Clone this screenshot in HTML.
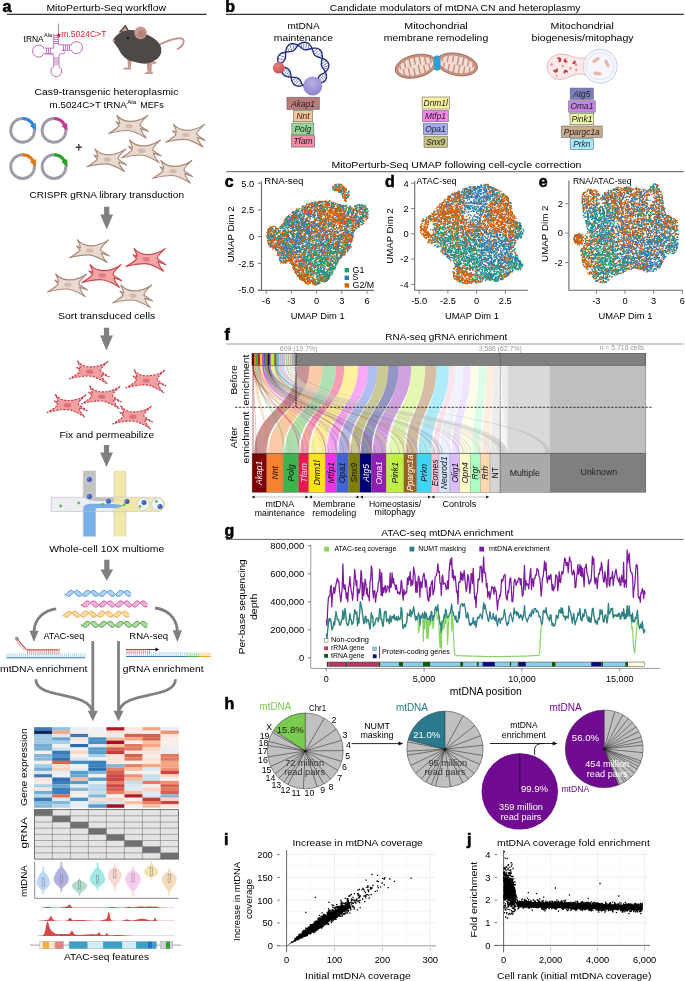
<!DOCTYPE html>
<html><head><meta charset="utf-8"><title>MitoPerturb-Seq</title><style>
html,body{margin:0;padding:0;background:#fff;width:685px;height:981px;overflow:hidden}
svg{display:block;will-change:transform}
text{font-family:"Liberation Sans",sans-serif}
</style></head><body>
<svg width="685" height="981" viewBox="0 0 685 981">
<rect width="685" height="981" fill="#fff"/>
<text x="2.4" y="11.5" font-size="16" fill="#000" font-weight="bold" stroke="#000" stroke-width="0.55">a</text>
<text x="46.4" y="10.8" font-size="9.3" textLength="119.6" lengthAdjust="spacingAndGlyphs">MitoPerturb-Seq workflow</text>
<line x1="7.0" y1="14.4" x2="206.6" y2="14.4" stroke="#333" stroke-width="1.1"/>
<path d="M58.5 23.5L58.5 44.5M53.7 33.6L53.7 44.5M53.7 35.5L58.5 35.5M53.7 37.5L58.5 37.5M53.7 39.5L58.5 39.5M53.7 41.5L58.5 41.5M53.7 43.5L58.5 43.5M53.7 48.1L44.5 48.1M53.7 53.7L44.5 53.7M46.5 48.1L46.5 53.7M48.5 48.1L48.5 53.7M50.5 48.1L50.5 53.7M58.5 44.9L70.7 44.9M62.0 50.2L70.7 50.2M63.5 44.9L63.5 50.2M65.5 44.9L65.5 50.2M67.5 44.9L67.5 50.2M69.5 44.9L69.5 50.2M53.7 56.1L53.7 66.2M59.0 56.1L59.0 66.2M53.7 58.0L59.0 58.0M53.7 60.0L59.0 60.0M53.7 62.0L59.0 62.0M53.7 64.0L59.0 64.0M53.7 44.5 Q53.7 48.1 53.7 48.1M44.5 53.7 Q53.7 53.7 53.7 56.1M58.5 44.5 L58.5 44.9M59 56.1 Q59 53 62 53.5 Q64.5 55 64.5 52.5 Q64.5 50.2 62 50.2" fill="none" stroke="#b35cb5" stroke-width="0.8"/>
<circle cx="38.6" cy="51.1" r="6.0" fill="none" stroke="#b35cb5" stroke-width="0.9"/>
<circle cx="76.5" cy="47.6" r="6.0" fill="none" stroke="#b35cb5" stroke-width="0.9"/>
<circle cx="56.3" cy="71.2" r="5.4" fill="none" stroke="#b35cb5" stroke-width="0.9"/>
<rect x="44.0" y="48.6" width="1.5" height="4.6" fill="#fff"/>
<rect x="70.0" y="45.4" width="1.5" height="4.3" fill="#fff"/>
<rect x="54.2" y="65.4" width="4.3" height="1.6" fill="#fff"/>
<text x="23.6" y="41.7" font-size="8.2" textLength="20.1" lengthAdjust="spacingAndGlyphs">tRNA</text>
<text x="44.0" y="37.4" font-size="5.2" textLength="8.0" lengthAdjust="spacingAndGlyphs">Ala</text>
<path d="M58.8 32.6 L59.5 34.5 L61.4 34.6 L59.9 35.8 L60.4 37.6 L58.8 36.5 L57.2 37.6 L57.7 35.8 L56.2 34.6 L58.1 34.5 Z" fill="#c8102e"/>
<text x="61.2" y="36.9" font-size="8.6" fill="#e8202a" textLength="45.2" lengthAdjust="spacingAndGlyphs">m.5024C&gt;T</text>
<line x1="107.5" y1="34.5" x2="113.0" y2="39.0" stroke="#ccc" stroke-width="0.4"/>
<path d="M158.5,45 C166,41.5 175,37 181.5,38.5 C185.5,40 184,45.5 177,49.5" fill="none" stroke="#c89890" stroke-width="1.9"/>
<path d="M151,59 L152.5,64.5 L157.5,63 Z" fill="#c89890"/>
<path d="M127.5,59 L128,67.8 L130.8,67.8 L131.5,60 Z" fill="#c89890"/>
<path d="M146.5,61 L147.5,71.8 L151.5,71.8 L152,60 Z" fill="#c89890"/>
<path d="M113.1,40.2C113.3,38.7 115.2,36.8 116.5,35.5C117.8,34.2 119.2,33.1 121.0,32.2C122.8,31.4 124.8,30.7 127.0,30.4C129.2,30.1 131.7,29.8 134.0,30.2C136.3,30.6 138.7,31.7 141.0,32.5C143.3,33.3 145.8,34.0 148.0,35.0C150.2,36.0 152.2,37.2 154.0,38.5C155.8,39.8 157.3,41.0 158.5,42.5C159.7,44.0 160.6,45.8 161.0,47.5C161.4,49.2 161.4,51.3 161.0,53.0C160.6,54.7 159.6,56.2 158.5,57.5C157.4,58.8 156.1,59.6 154.5,60.5C152.9,61.4 150.9,62.5 149.0,63.0C147.1,63.5 145.0,63.7 143.0,63.6C141.0,63.5 139.0,62.9 137.0,62.5C135.0,62.1 132.8,61.7 131.0,61.0C129.2,60.3 127.6,59.7 126.0,58.5C124.4,57.3 122.8,55.6 121.5,54.0C120.2,52.4 119.5,50.6 118.5,49.0C117.5,47.4 116.4,46.0 115.5,44.5C114.6,43.0 112.9,41.7 113.1,40.2Z" fill="#4d4947"/>
<path d="M122,69.6 C123,67.8 126,67.3 131,67.6 L131,69.6 Z" fill="#c89890"/>
<path d="M144.2,74 C145,72 148,71.4 152.5,71.6 L153,74 Z" fill="#c89890"/>
<path d="M118.6,32.6 L125.4,24.6 L129.4,31.2 Z" fill="#4d4947"/>
<path d="M121.2,31.4 L125.2,26.8 L127.4,30.8 Z" fill="#c89890"/>
<circle cx="140.6" cy="32.9" r="6.3" fill="#c89890"/>
<circle cx="141.4" cy="34.0" r="3.9" fill="#b7847d"/>
<circle cx="127.9" cy="38.0" r="1.2" fill="#151515"/>
<circle cx="113.6" cy="40.6" r="1.2" fill="#d9a0a0"/>
<text x="34.5" y="95.0" font-size="9.3" textLength="143.9" lengthAdjust="spacingAndGlyphs">Cas9-transgenic heteroplasmic</text>
<text x="49.6" y="107.9" font-size="9.3" textLength="77.2" lengthAdjust="spacingAndGlyphs">m.5024C&gt;T tRNA</text>
<text x="127.2" y="104.0" font-size="6.0" textLength="9.0" lengthAdjust="spacingAndGlyphs">Ala</text>
<text x="140.3" y="107.9" font-size="9.3" textLength="23.3" lengthAdjust="spacingAndGlyphs">MEFs</text>
<circle cx="22.6" cy="130.4" r="11.9" fill="none" stroke="#9f9caa" stroke-width="2.9"/>
<path d="M22.6 118.5 A11.9 11.9 0 0 1 33.1 124.8" fill="none" stroke="#2e87d8" stroke-width="3.0"/>
<path d="M35.7 122.9L30.0 125.9L36.2 130.6Z" fill="#2e87d8"/>
<circle cx="54.0" cy="130.4" r="11.9" fill="none" stroke="#9f9caa" stroke-width="2.9"/>
<path d="M54.0 118.5 A11.9 11.9 0 0 1 64.5 124.8" fill="none" stroke="#c23c9c" stroke-width="3.0"/>
<path d="M67.1 122.9L61.4 125.9L67.6 130.6Z" fill="#c23c9c"/>
<circle cx="22.6" cy="166.6" r="11.9" fill="none" stroke="#9f9caa" stroke-width="2.9"/>
<path d="M22.6 154.7 A11.9 11.9 0 0 1 33.1 161.0" fill="none" stroke="#e8740e" stroke-width="3.0"/>
<path d="M35.7 159.1L30.0 162.1L36.2 166.8Z" fill="#e8740e"/>
<circle cx="54.0" cy="166.6" r="11.9" fill="none" stroke="#9f9caa" stroke-width="2.9"/>
<path d="M54.0 154.7 A11.9 11.9 0 0 1 64.5 161.0" fill="none" stroke="#1fa51f" stroke-width="3.0"/>
<path d="M67.1 159.1L61.4 162.1L67.6 166.8Z" fill="#1fa51f"/>
<line x1="75.6" y1="147.2" x2="82.0" y2="147.2" stroke="#333" stroke-width="1.3"/>
<line x1="78.8" y1="144.0" x2="78.8" y2="150.4" stroke="#333" stroke-width="1.3"/>
<defs><path id="cell" d="M-12.2,-10.7 C-8,-6 -4,-4.8 1,-4.8 C7,-4.8 13,-6.5 18.8,-10.7 C14,-6 10.5,-3.5 11,-0.5 L19.5,5.3 L11.6,2.4 C12.5,6 14.5,9 17.3,11.9 C11,8 5,4.5 -1,4.3 C-8,4.2 -14,5.5 -20.3,7.2 C-15,4 -11.5,2 -9.7,-0.5 L-13,-4.5 L-9.2,-2.8 C-9.6,-5.5 -11,-8 -12.2,-10.7 Z"/></defs>
<g transform="translate(129.0 126.2)"><use href="#cell" fill="#e8dad1" stroke="#a98a79" stroke-width="1.15" stroke-linejoin="round"/><ellipse cx="0" cy="0" rx="3.6" ry="2.2" fill="#d5b9ab"/></g>
<g transform="translate(185.7 135.1)"><use href="#cell" fill="#e8dad1" stroke="#a98a79" stroke-width="1.15" stroke-linejoin="round"/><ellipse cx="0" cy="0" rx="3.6" ry="2.2" fill="#d5b9ab"/></g>
<g transform="translate(141.7 150.7)"><use href="#cell" fill="#e8dad1" stroke="#a98a79" stroke-width="1.15" stroke-linejoin="round"/><ellipse cx="0" cy="0" rx="3.6" ry="2.2" fill="#d5b9ab"/></g>
<g transform="translate(107.1 159.6)"><use href="#cell" fill="#e8dad1" stroke="#a98a79" stroke-width="1.15" stroke-linejoin="round"/><ellipse cx="0" cy="0" rx="3.6" ry="2.2" fill="#d5b9ab"/></g>
<g transform="translate(173.0 171.2)"><use href="#cell" fill="#e8dad1" stroke="#a98a79" stroke-width="1.15" stroke-linejoin="round"/><ellipse cx="0" cy="0" rx="3.6" ry="2.2" fill="#d5b9ab"/></g>
<g transform="translate(89.7 250.6)"><use href="#cell" fill="#e8dad1" stroke="#a98a79" stroke-width="1.15" stroke-linejoin="round"/><ellipse cx="0" cy="0" rx="3.6" ry="2.2" fill="#d5b9ab"/></g>
<g transform="translate(146.3 259.3)"><use href="#cell" fill="#f2a5a5" stroke="#c84650" stroke-width="1.15" stroke-linejoin="round"/><ellipse cx="0" cy="0" rx="3.6" ry="2.2" fill="#e27b83"/></g>
<g transform="translate(102.2 275.4)"><use href="#cell" fill="#f2a5a5" stroke="#c84650" stroke-width="1.15" stroke-linejoin="round"/><ellipse cx="0" cy="0" rx="3.6" ry="2.2" fill="#e27b83"/></g>
<g transform="translate(67.9 284.7)"><use href="#cell" fill="#e8dad1" stroke="#a98a79" stroke-width="1.15" stroke-linejoin="round"/><ellipse cx="0" cy="0" rx="3.6" ry="2.2" fill="#d5b9ab"/></g>
<g transform="translate(133.0 295.7)"><use href="#cell" fill="#e8dad1" stroke="#a98a79" stroke-width="1.15" stroke-linejoin="round"/><ellipse cx="0" cy="0" rx="3.6" ry="2.2" fill="#d5b9ab"/></g>
<g transform="translate(89.7 371.7)"><use href="#cell" fill="#f0a0a0" stroke="#c2404b" stroke-width="1.15" stroke-linejoin="round" stroke-dasharray="2.2 1.3"/><ellipse cx="0" cy="0" rx="3.6" ry="2.2" fill="#dd7079"/></g>
<g transform="translate(146.3 380.6)"><use href="#cell" fill="#f0a0a0" stroke="#c2404b" stroke-width="1.15" stroke-linejoin="round" stroke-dasharray="2.2 1.3"/><ellipse cx="0" cy="0" rx="3.6" ry="2.2" fill="#dd7079"/></g>
<g transform="translate(101.7 396.7)"><use href="#cell" fill="#f0a0a0" stroke="#c2404b" stroke-width="1.15" stroke-linejoin="round" stroke-dasharray="2.2 1.3"/><ellipse cx="0" cy="0" rx="3.6" ry="2.2" fill="#dd7079"/></g>
<g transform="translate(67.5 405.3)"><use href="#cell" fill="#f0a0a0" stroke="#c2404b" stroke-width="1.15" stroke-linejoin="round" stroke-dasharray="2.2 1.3"/><ellipse cx="0" cy="0" rx="3.6" ry="2.2" fill="#dd7079"/></g>
<g transform="translate(133.0 416.7)"><use href="#cell" fill="#f0a0a0" stroke="#c2404b" stroke-width="1.15" stroke-linejoin="round" stroke-dasharray="2.2 1.3"/><ellipse cx="0" cy="0" rx="3.6" ry="2.2" fill="#dd7079"/></g>
<text x="29.5" y="197.9" font-size="9.3" textLength="154.5" lengthAdjust="spacingAndGlyphs">CRISPR gRNA library transduction</text>
<text x="58.0" y="319.2" font-size="9.3" textLength="97.2" lengthAdjust="spacingAndGlyphs">Sort transduced cells</text>
<text x="59.5" y="438.3" font-size="9.3" textLength="94.7" lengthAdjust="spacingAndGlyphs">Fix and permeabilize</text>
<text x="49.2" y="551.9" font-size="9.3" textLength="115.1" lengthAdjust="spacingAndGlyphs">Whole-cell 10X multiome</text>
<path d="M104.1 206.8H109.3V214.4H113.1L106.7 229.6L100.3 214.4H104.1Z" fill="#808080"/>
<path d="M103.9 327.8H109.1V335.4H112.9L106.5 350.5L100.1 335.4H103.9Z" fill="#808080"/>
<path d="M103.9 444.9H109.1V452.5H112.9L106.5 467.1L100.1 452.5H103.9Z" fill="#808080"/>
<path d="M104.2 559.8H109.4V569.5H113.2L106.8 580.7L100.4 569.5H104.2Z" fill="#808080"/>
<rect x="83.3" y="470.7" width="12.3" height="28.0" fill="#c3c3c3"/>
<rect x="83.3" y="508.0" width="12.3" height="28.5" fill="#78aee6"/>
<rect x="114.0" y="470.7" width="11.8" height="65.8" fill="#f2e8a8"/>
<path d="M51.2,497.3 H158 A7.2 7.2 0 0 1 158 511.6 H51.2 Z" fill="#eceef4" stroke="#c0c0c6" stroke-width="0.7"/>
<rect x="114.0" y="497.6" width="44.0" height="13.7" fill="#f2e8a8"/>
<path d="M158,497.3 A7.15 7.15 0 0 1 158 511.6 Z" fill="#f2e8a8"/>
<path d="M83.3,497.6 H114 V502.5 C108,501.5 100,501 95.6,501 C90,501 86,500 83.3,497.6 Z" fill="#c3c3c3"/>
<path d="M83.3,511.6 V508 C84,504 89,503.8 95.6,503.8 C103,503.8 110,503.6 114,504 C118,504.5 121,505 123.5,505.8 C121,507.5 117,508 114,508.2 C108,508.2 100,508 95.6,508.2 V511.6 Z" fill="#78aee6"/>
<path d="M83.3,470.7 V497.3 M95.6,470.7 V497.3 M83.3,511.6 V536.5 M95.6,511.6 V536.5 M114,470.7 V497.3 M125.8,470.7 V497.3 M114,511.6 V536.5 M125.8,511.6 V536.5" fill="none" stroke="#b8b8b8" stroke-width="0.5"/>
<path d="M112.5,497.3 C114,499.5 116,500.2 119.9,500.2 C123.8,500.2 125.8,499.5 127.3,497.3 Z M112.5,511.6 C114,509.4 116,508.7 119.9,508.7 C123.8,508.7 125.8,509.4 127.3,511.6 Z" fill="#f2e8a8" stroke="#c0c0c6" stroke-width="0.4"/>
<circle cx="143.3" cy="504.2" r="6.3" fill="#f4f6fa" stroke="#b8bcc8" stroke-width="0.6"/>
<circle cx="157.6" cy="504.2" r="6.1" fill="#f4f6fa" stroke="#b8bcc8" stroke-width="0.6"/>
<circle cx="89.5" cy="479.5" r="2.5" fill="#3a5fb8"/>
<circle cx="88.8" cy="478.8" r="0.9" fill="#7090d8"/>
<circle cx="89.5" cy="496.6" r="2.5" fill="#3a5fb8"/>
<circle cx="88.8" cy="495.9" r="0.9" fill="#7090d8"/>
<circle cx="108.5" cy="501.3" r="2.5" fill="#3a5fb8"/>
<circle cx="107.8" cy="500.6" r="0.9" fill="#7090d8"/>
<circle cx="127.0" cy="501.5" r="2.5" fill="#3a5fb8"/>
<circle cx="126.3" cy="500.8" r="0.9" fill="#7090d8"/>
<circle cx="144.0" cy="502.5" r="2.5" fill="#3a5fb8"/>
<circle cx="143.3" cy="501.8" r="0.9" fill="#7090d8"/>
<circle cx="160.0" cy="506.5" r="2.5" fill="#3a5fb8"/>
<circle cx="159.3" cy="505.8" r="0.9" fill="#7090d8"/>
<circle cx="60.6" cy="506.0" r="1.4" fill="#5cbf4a"/>
<circle cx="78.8" cy="503.0" r="1.4" fill="#5cbf4a"/>
<circle cx="102.6" cy="504.4" r="1.4" fill="#5cbf4a"/>
<circle cx="124.2" cy="504.8" r="1.4" fill="#5cbf4a"/>
<circle cx="140.0" cy="506.5" r="1.4" fill="#5cbf4a"/>
<circle cx="156.4" cy="501.5" r="1.4" fill="#5cbf4a"/>
<polyline points="64.5,593.4 64.8,593.8 65.2,594.2 65.5,594.5 65.8,594.9 66.2,595.2 66.5,595.5 66.8,595.7 67.2,595.9 67.5,596.1 67.8,596.3 68.2,596.4 68.5,596.4 68.9,596.4 69.2,596.3 69.5,596.2 69.9,596.1 70.2,595.9 70.5,595.7 70.9,595.4 71.2,595.1 71.5,594.8 71.9,594.4 72.2,594.1 72.5,593.7 72.9,593.3 73.2,592.9 73.5,592.6 73.9,592.2 74.2,591.9 74.5,591.6 74.9,591.3 75.2,591.0 75.5,590.8 75.9,590.6 76.2,590.5 76.6,590.4 76.9,590.4 77.2,590.4 77.6,590.5 77.9,590.6 78.2,590.7 78.6,590.9 78.9,591.2 79.2,591.5 79.6,591.8 79.9,592.1 80.2,592.4 80.6,592.8 80.9,593.2 81.2,593.6 81.6,593.9 81.9,594.3 82.2,594.7 82.6,595.0 82.9,595.3 83.3,595.6 83.6,595.8 83.9,596.0 84.3,596.2 84.6,596.3 84.9,596.4 85.3,596.4 85.6,596.4 85.9,596.3 86.3,596.2 86.6,596.0 86.9,595.8 87.3,595.6 87.6,595.3 87.9,595.0 88.3,594.6 88.6,594.3 88.9,593.9 89.3,593.5 89.6,593.2 89.9,592.8 90.3,592.4 90.6,592.1 91.0,591.7 91.3,591.4 91.6,591.2 92.0,590.9 92.3,590.7 92.6,590.6 93.0,590.5 93.3,590.4 93.6,590.4 94.0,590.4 94.3,590.5 94.6,590.7 95.0,590.8 95.3,591.0 95.6,591.3 96.0,591.6 96.3,591.9 96.6,592.2 97.0,592.6 97.3,593.0 97.7,593.3 98.0,593.7 98.3,594.1 98.7,594.5 99.0,594.8 99.3,595.1 99.7,595.4 100.0,595.7 100.3,595.9 100.7,596.1 101.0,596.2 101.3,596.3 101.7,596.4 102.0,596.4 102.3,596.3 102.7,596.3 103.0,596.1 103.3,595.9 103.7,595.7 104.0,595.5 104.3,595.2 104.7,594.8 105.0,594.5 105.4,594.1 105.7,593.8 106.0,593.4 106.4,593.0 106.7,592.6 107.0,592.3 107.4,591.9 107.7,591.6 108.0,591.3 108.4,591.1 108.7,590.8 109.0,590.7 109.4,590.5 109.7,590.4 110.0,590.4 110.4,590.4 110.7,590.5 111.0,590.6 111.4,590.7 111.7,590.9 112.0,591.1 112.4,591.4 112.7,591.7 113.1,592.0 113.4,592.4 113.7,592.7 114.1,593.1 114.4,593.5 114.7,593.9 115.1,594.3 115.4,594.6 115.7,594.9 116.1,595.3 116.4,595.5 116.7,595.8 117.1,596.0 117.4,596.2 117.7,596.3 118.1,596.4 118.4,596.4 118.7,596.4 119.1,596.3 119.4,596.2 119.8,596.0 120.1,595.8 120.4,595.6 120.8,595.3 121.1,595.0 121.4,594.7 121.8,594.3 122.1,594.0 122.4,593.6 122.8,593.2 123.1,592.8 123.4,592.5 123.8,592.1 124.1,591.8 124.4,591.5 124.8,591.2 125.1,591.0 125.4,590.8 125.8,590.6 126.1,590.5 126.4,590.4 126.8,590.4 127.1,590.4 127.5,590.5 127.8,590.6 128.1,590.8 128.5,591.0 128.8,591.3 129.1,591.5 129.5,591.8 129.8,592.2 130.1,592.5 130.5,592.9 130.8,593.3" fill="none" stroke="#3a8ee6" stroke-width="1.0"/>
<polyline points="64.5,595.7 64.8,595.5 65.2,595.2 65.5,594.8 65.8,594.5 66.2,594.1 66.5,593.8 66.8,593.4 67.2,593.0 67.5,592.6 67.8,592.3 68.2,591.9 68.5,591.6 68.9,591.3 69.2,591.1 69.5,590.8 69.9,590.7 70.2,590.5 70.5,590.4 70.9,590.4 71.2,590.4 71.5,590.5 71.9,590.6 72.2,590.7 72.5,590.9 72.9,591.1 73.2,591.4 73.5,591.7 73.9,592.0 74.2,592.4 74.5,592.7 74.9,593.1 75.2,593.5 75.5,593.9 75.9,594.3 76.2,594.6 76.6,594.9 76.9,595.3 77.2,595.5 77.6,595.8 77.9,596.0 78.2,596.2 78.6,596.3 78.9,596.4 79.2,596.4 79.6,596.4 79.9,596.3 80.2,596.2 80.6,596.0 80.9,595.8 81.2,595.6 81.6,595.3 81.9,595.0 82.2,594.7 82.6,594.3 82.9,594.0 83.3,593.6 83.6,593.2 83.9,592.8 84.3,592.5 84.6,592.1 84.9,591.8 85.3,591.5 85.6,591.2 85.9,591.0 86.3,590.8 86.6,590.6 86.9,590.5 87.3,590.4 87.6,590.4 87.9,590.4 88.3,590.5 88.6,590.6 88.9,590.8 89.3,591.0 89.6,591.3 89.9,591.5 90.3,591.8 90.6,592.2 91.0,592.5 91.3,592.9 91.6,593.3 92.0,593.7 92.3,594.0 92.6,594.4 93.0,594.8 93.3,595.1 93.6,595.4 94.0,595.7 94.3,595.9 94.6,596.1 95.0,596.2 95.3,596.3 95.6,596.4 96.0,596.4 96.3,596.4 96.6,596.3 97.0,596.1 97.3,596.0 97.7,595.7 98.0,595.5 98.3,595.2 98.7,594.9 99.0,594.5 99.3,594.2 99.7,593.8 100.0,593.4 100.3,593.1 100.7,592.7 101.0,592.3 101.3,592.0 101.7,591.7 102.0,591.4 102.3,591.1 102.7,590.9 103.0,590.7 103.3,590.5 103.7,590.5 104.0,590.4 104.3,590.4 104.7,590.5 105.0,590.6 105.4,590.7 105.7,590.9 106.0,591.1 106.4,591.4 106.7,591.7 107.0,592.0 107.4,592.3 107.7,592.7 108.0,593.1 108.4,593.4 108.7,593.8 109.0,594.2 109.4,594.6 109.7,594.9 110.0,595.2 110.4,595.5 110.7,595.8 111.0,596.0 111.4,596.1 111.7,596.3 112.0,596.4 112.4,596.4 112.7,596.4 113.1,596.3 113.4,596.2 113.7,596.1 114.1,595.9 114.4,595.6 114.7,595.4 115.1,595.1 115.4,594.7 115.7,594.4 116.1,594.0 116.4,593.7 116.7,593.3 117.1,592.9 117.4,592.5 117.7,592.2 118.1,591.8 118.4,591.5 118.7,591.2 119.1,591.0 119.4,590.8 119.8,590.6 120.1,590.5 120.4,590.4 120.8,590.4 121.1,590.4 121.4,590.5 121.8,590.6 122.1,590.8 122.4,591.0 122.8,591.2 123.1,591.5 123.4,591.8 123.8,592.1 124.1,592.5 124.4,592.9 124.8,593.2 125.1,593.6 125.4,594.0 125.8,594.4 126.1,594.7 126.4,595.0 126.8,595.3 127.1,595.6 127.5,595.9 127.8,596.1 128.1,596.2 128.5,596.3 128.8,596.4 129.1,596.4 129.5,596.4 129.8,596.3 130.1,596.2 130.5,596.0 130.8,595.8" fill="none" stroke="#3a8ee6" stroke-width="1.0"/>
<path d="M67.2 596.0V593.0M68.2 596.4V591.9M69.3 596.3V591.0M70.3 595.8V590.5M71.4 594.9V590.4M72.4 593.8V590.9M75.6 590.8V593.9M76.6 590.4V595.0M77.7 590.5V595.9M78.7 591.1V596.3M79.8 592.0V596.3M80.8 593.1V595.9M82.9 595.3V593.9M84.0 596.1V592.8M85.0 596.4V591.7M86.1 596.2V590.9M87.1 595.7V590.4M88.2 594.7V590.5M89.2 593.6V591.0M91.3 591.4V593.0M92.4 590.7V594.2M93.4 590.4V595.2M94.5 590.6V596.0M95.5 591.2V596.4M96.6 592.2V596.3M97.6 593.3V595.7M99.7 595.5V593.7M100.8 596.2V592.5M101.8 596.4V591.5M102.9 596.2V590.7M103.9 595.5V590.4M105.0 594.5V590.5M106.0 593.3V591.1M108.1 591.2V593.2M109.2 590.6V594.4M110.2 590.4V595.4M111.3 590.7V596.1M112.3 591.4V596.4M113.4 592.4V596.2M114.4 593.6V595.6M116.5 595.7V593.5M117.6 596.2V592.3M118.6 596.4V591.3M119.7 596.1V590.6M120.7 595.3V590.4M121.8 594.3V590.6M122.8 593.1V591.3M124.9 591.1V593.4M126.0 590.5V594.6M127.0 590.4V595.6M128.1 590.8V596.2M129.1 591.6V596.4M130.2 592.6V596.1" fill="none" stroke="#3a8ee6" stroke-width="0.45"/>
<polyline points="81.0,604.0 81.3,604.4 81.7,604.8 82.0,605.1 82.3,605.5 82.7,605.8 83.0,606.1 83.3,606.3 83.7,606.5 84.0,606.7 84.3,606.9 84.7,607.0 85.0,607.0 85.3,607.0 85.7,606.9 86.0,606.8 86.3,606.7 86.7,606.5 87.0,606.3 87.3,606.0 87.7,605.7 88.0,605.4 88.4,605.1 88.7,604.7 89.0,604.3 89.4,603.9 89.7,603.6 90.0,603.2 90.4,602.8 90.7,602.5 91.0,602.2 91.4,601.9 91.7,601.6 92.0,601.4 92.4,601.3 92.7,601.1 93.0,601.0 93.4,601.0 93.7,601.0 94.0,601.1 94.4,601.2 94.7,601.3 95.0,601.5 95.4,601.8 95.7,602.0 96.0,602.3 96.4,602.7 96.7,603.0 97.0,603.4 97.4,603.7 97.7,604.1 98.0,604.5 98.4,604.9 98.7,605.2 99.0,605.6 99.4,605.9 99.7,606.2 100.0,606.4 100.4,606.6 100.7,606.8 101.1,606.9 101.4,607.0 101.7,607.0 102.1,607.0 102.4,606.9 102.7,606.8 103.1,606.6 103.4,606.4 103.7,606.2 104.1,605.9 104.4,605.6 104.7,605.3 105.1,604.9 105.4,604.6 105.7,604.2 106.1,603.8 106.4,603.4 106.7,603.1 107.1,602.7 107.4,602.4 107.7,602.1 108.1,601.8 108.4,601.6 108.7,601.4 109.1,601.2 109.4,601.1 109.7,601.0 110.1,601.0 110.4,601.0 110.7,601.1 111.1,601.2 111.4,601.4 111.7,601.6 112.1,601.8 112.4,602.1 112.7,602.4 113.1,602.8 113.4,603.1 113.7,603.5 114.1,603.9 114.4,604.2 114.8,604.6 115.1,605.0 115.4,605.3 115.8,605.7 116.1,606.0 116.4,606.2 116.8,606.5 117.1,606.7 117.4,606.8 117.8,606.9 118.1,607.0 118.4,607.0 118.8,607.0 119.1,606.9 119.4,606.8 119.8,606.6 120.1,606.4 120.4,606.1 120.8,605.8 121.1,605.5 121.4,605.2 121.8,604.8 122.1,604.4 122.4,604.1 122.8,603.7 123.1,603.3 123.4,603.0 123.8,602.6 124.1,602.3 124.4,602.0 124.8,601.7 125.1,601.5 125.4,601.3 125.8,601.2 126.1,601.1 126.4,601.0 126.8,601.0 127.1,601.0 127.4,601.1 127.8,601.3 128.1,601.5 128.5,601.7 128.8,601.9 129.1,602.2 129.5,602.5 129.8,602.9 130.1,603.2 130.5,603.6 130.8,604.0 131.1,604.4 131.5,604.7 131.8,605.1 132.1,605.4 132.5,605.8 132.8,606.1 133.1,606.3 133.5,606.5 133.8,606.7 134.1,606.9 134.5,607.0 134.8,607.0 135.1,607.0 135.5,606.9 135.8,606.8 136.1,606.7 136.5,606.5 136.8,606.3 137.1,606.0 137.5,605.7 137.8,605.4 138.1,605.1 138.5,604.7 138.8,604.3 139.1,603.9 139.5,603.6 139.8,603.2 140.1,602.8 140.5,602.5 140.8,602.2 141.2,601.9 141.5,601.6 141.8,601.4 142.2,601.3 142.5,601.1 142.8,601.0 143.2,601.0 143.5,601.0 143.8,601.1 144.2,601.2 144.5,601.3 144.8,601.5 145.2,601.8 145.5,602.0 145.8,602.3 146.2,602.6 146.5,603.0 146.8,603.4 147.2,603.7 147.5,604.1" fill="none" stroke="#d8449c" stroke-width="1.0"/>
<polyline points="81.0,606.3 81.3,606.1 81.7,605.8 82.0,605.4 82.3,605.1 82.7,604.7 83.0,604.4 83.3,604.0 83.7,603.6 84.0,603.2 84.3,602.9 84.7,602.5 85.0,602.2 85.3,601.9 85.7,601.7 86.0,601.4 86.3,601.3 86.7,601.1 87.0,601.0 87.3,601.0 87.7,601.0 88.0,601.1 88.4,601.2 88.7,601.3 89.0,601.5 89.4,601.7 89.7,602.0 90.0,602.3 90.4,602.6 90.7,603.0 91.0,603.3 91.4,603.7 91.7,604.1 92.0,604.5 92.4,604.8 92.7,605.2 93.0,605.5 93.4,605.8 93.7,606.1 94.0,606.4 94.4,606.6 94.7,606.8 95.0,606.9 95.4,607.0 95.7,607.0 96.0,607.0 96.4,606.9 96.7,606.8 97.0,606.7 97.4,606.5 97.7,606.2 98.0,606.0 98.4,605.7 98.7,605.3 99.0,605.0 99.4,604.6 99.7,604.2 100.0,603.9 100.4,603.5 100.7,603.1 101.1,602.8 101.4,602.4 101.7,602.1 102.1,601.8 102.4,601.6 102.7,601.4 103.1,601.2 103.4,601.1 103.7,601.0 104.1,601.0 104.4,601.0 104.7,601.1 105.1,601.2 105.4,601.4 105.7,601.6 106.1,601.8 106.4,602.1 106.7,602.4 107.1,602.7 107.4,603.1 107.7,603.4 108.1,603.8 108.4,604.2 108.7,604.6 109.1,604.9 109.4,605.3 109.7,605.6 110.1,605.9 110.4,606.2 110.7,606.4 111.1,606.6 111.4,606.8 111.7,606.9 112.1,607.0 112.4,607.0 112.7,607.0 113.1,606.9 113.4,606.8 113.7,606.6 114.1,606.4 114.4,606.1 114.8,605.9 115.1,605.6 115.4,605.2 115.8,604.9 116.1,604.5 116.4,604.1 116.8,603.7 117.1,603.4 117.4,603.0 117.8,602.6 118.1,602.3 118.4,602.0 118.8,601.8 119.1,601.5 119.4,601.3 119.8,601.2 120.1,601.1 120.4,601.0 120.8,601.0 121.1,601.0 121.4,601.1 121.8,601.3 122.1,601.4 122.4,601.6 122.8,601.9 123.1,602.2 123.4,602.5 123.8,602.8 124.1,603.2 124.4,603.6 124.8,603.9 125.1,604.3 125.4,604.7 125.8,605.1 126.1,605.4 126.4,605.7 126.8,606.0 127.1,606.3 127.4,606.5 127.8,606.7 128.1,606.8 128.5,606.9 128.8,607.0 129.1,607.0 129.5,607.0 129.8,606.9 130.1,606.7 130.5,606.5 130.8,606.3 131.1,606.1 131.5,605.8 131.8,605.4 132.1,605.1 132.5,604.7 132.8,604.4 133.1,604.0 133.5,603.6 133.8,603.2 134.1,602.9 134.5,602.5 134.8,602.2 135.1,601.9 135.5,601.7 135.8,601.5 136.1,601.3 136.5,601.1 136.8,601.0 137.1,601.0 137.5,601.0 137.8,601.1 138.1,601.2 138.5,601.3 138.8,601.5 139.1,601.7 139.5,602.0 139.8,602.3 140.1,602.6 140.5,603.0 140.8,603.3 141.2,603.7 141.5,604.1 141.8,604.4 142.2,604.8 142.5,605.2 142.8,605.5 143.2,605.8 143.5,606.1 143.8,606.4 144.2,606.6 144.5,606.8 144.8,606.9 145.2,607.0 145.5,607.0 145.8,607.0 146.2,606.9 146.5,606.8 146.8,606.7 147.2,606.5 147.5,606.2" fill="none" stroke="#d8449c" stroke-width="1.0"/>
<path d="M83.7 606.6V603.6M84.7 607.0V602.5M85.8 606.9V601.6M86.8 606.4V601.1M87.9 605.5V601.0M88.9 604.4V601.5M92.1 601.4V604.5M93.1 601.0V605.6M94.2 601.1V606.5M95.2 601.7V606.9M96.3 602.6V606.9M97.3 603.7V606.5M99.4 605.9V604.5M100.5 606.7V603.4M101.5 607.0V602.3M102.6 606.8V601.5M103.6 606.3V601.0M104.7 605.3V601.1M105.7 604.2V601.6M107.8 602.0V603.6M108.9 601.3V604.8M109.9 601.0V605.8M111.0 601.2V606.6M112.0 601.8V607.0M113.1 602.8V606.9M114.1 603.9V606.3M116.2 606.1V604.3M117.3 606.8V603.1M118.3 607.0V602.1M119.4 606.8V601.3M120.4 606.1V601.0M121.5 605.1V601.1M122.5 603.9V601.7M124.6 601.8V603.8M125.7 601.2V605.0M126.7 601.0V606.0M127.8 601.3V606.7M128.8 602.0V607.0M129.9 603.0V606.8M130.9 604.2V606.2M133.0 606.3V604.1M134.1 606.8V602.9M135.1 607.0V601.9M136.2 606.7V601.2M137.2 605.9V601.0M138.3 604.9V601.2M139.3 603.7V601.9M141.5 601.7V604.0M142.5 601.1V605.2M143.6 601.0V606.2M144.6 601.4V606.8M145.7 602.2V607.0M146.7 603.2V606.7" fill="none" stroke="#d8449c" stroke-width="0.45"/>
<polyline points="62.5,614.2 62.8,614.6 63.2,614.9 63.5,615.3 63.8,615.7 64.2,616.0 64.5,616.3 64.8,616.5 65.2,616.7 65.5,616.9 65.8,617.1 66.2,617.2 66.5,617.2 66.8,617.2 67.2,617.1 67.5,617.0 67.8,616.9 68.2,616.7 68.5,616.5 68.8,616.2 69.2,615.9 69.5,615.6 69.8,615.3 70.2,614.9 70.5,614.5 70.8,614.2 71.2,613.8 71.5,613.4 71.8,613.1 72.2,612.7 72.5,612.4 72.8,612.1 73.2,611.9 73.5,611.6 73.8,611.5 74.2,611.3 74.5,611.2 74.8,611.2 75.2,611.2 75.5,611.3 75.8,611.4 76.2,611.5 76.5,611.7 76.8,611.9 77.2,612.2 77.5,612.5 77.8,612.8 78.2,613.2 78.5,613.5 78.8,613.9 79.2,614.3 79.5,614.7 79.8,615.0 80.2,615.4 80.5,615.7 80.8,616.0 81.2,616.3 81.5,616.6 81.8,616.8 82.2,617.0 82.5,617.1 82.8,617.2 83.2,617.2 83.5,617.2 83.8,617.1 84.2,617.0 84.5,616.9 84.8,616.7 85.2,616.4 85.5,616.2 85.8,615.9 86.2,615.5 86.5,615.2 86.8,614.8 87.2,614.5 87.5,614.1 87.8,613.7 88.2,613.3 88.5,613.0 88.8,612.6 89.2,612.3 89.5,612.0 89.8,611.8 90.2,611.6 90.5,611.4 90.8,611.3 91.2,611.2 91.5,611.2 91.8,611.2 92.2,611.3 92.5,611.4 92.8,611.6 93.2,611.8 93.5,612.0 93.8,612.3 94.2,612.6 94.5,612.9 94.8,613.3 95.2,613.6 95.5,614.0 95.8,614.4 96.2,614.7 96.5,615.1 96.9,615.5 97.2,615.8 97.5,616.1 97.9,616.4 98.2,616.6 98.5,616.8 98.9,617.0 99.2,617.1 99.5,617.2 99.9,617.2 100.2,617.2 100.5,617.1 100.9,617.0 101.2,616.8 101.5,616.6 101.9,616.4 102.2,616.1 102.5,615.8 102.9,615.5 103.2,615.1 103.5,614.7 103.9,614.4 104.2,614.0 104.5,613.6 104.9,613.2 105.2,612.9 105.5,612.6 105.9,612.3 106.2,612.0 106.5,611.8 106.9,611.6 107.2,611.4 107.5,611.3 107.9,611.2 108.2,611.2 108.5,611.2 108.9,611.3 109.2,611.4 109.5,611.6 109.9,611.8 110.2,612.1 110.5,612.3 110.9,612.6 111.2,613.0 111.5,613.3 111.9,613.7 112.2,614.1 112.5,614.5 112.9,614.8 113.2,615.2 113.5,615.5 113.9,615.9 114.2,616.2 114.5,616.4 114.9,616.7 115.2,616.9 115.5,617.0 115.9,617.1 116.2,617.2 116.5,617.2 116.9,617.2 117.2,617.1 117.5,617.0 117.9,616.8 118.2,616.6 118.5,616.3 118.9,616.0 119.2,615.7 119.5,615.4 119.9,615.0 120.2,614.7 120.5,614.3 120.9,613.9 121.2,613.5 121.5,613.2 121.9,612.8 122.2,612.5 122.5,612.2 122.9,611.9 123.2,611.7 123.5,611.5 123.9,611.4 124.2,611.3 124.5,611.2 124.9,611.2 125.2,611.2 125.5,611.3 125.9,611.5 126.2,611.6 126.5,611.9 126.9,612.1 127.2,612.4 127.5,612.7 127.9,613.1 128.2,613.4 128.5,613.8 128.9,614.2 129.2,614.5" fill="none" stroke="#f2a030" stroke-width="1.0"/>
<polyline points="62.5,616.5 62.8,616.3 63.2,616.0 63.5,615.6 63.8,615.3 64.2,614.9 64.5,614.6 64.8,614.2 65.2,613.8 65.5,613.4 65.8,613.1 66.2,612.7 66.5,612.4 66.8,612.1 67.2,611.9 67.5,611.7 67.8,611.5 68.2,611.3 68.5,611.2 68.8,611.2 69.2,611.2 69.5,611.3 69.8,611.4 70.2,611.5 70.5,611.7 70.8,611.9 71.2,612.2 71.5,612.5 71.8,612.8 72.2,613.1 72.5,613.5 72.8,613.9 73.2,614.3 73.5,614.6 73.8,615.0 74.2,615.4 74.5,615.7 74.8,616.0 75.2,616.3 75.5,616.6 75.8,616.8 76.2,616.9 76.5,617.1 76.8,617.2 77.2,617.2 77.5,617.2 77.8,617.1 78.2,617.0 78.5,616.9 78.8,616.7 79.2,616.5 79.5,616.2 79.8,615.9 80.2,615.6 80.5,615.2 80.8,614.9 81.2,614.5 81.5,614.1 81.8,613.7 82.2,613.4 82.5,613.0 82.8,612.7 83.2,612.4 83.5,612.1 83.8,611.8 84.2,611.6 84.5,611.4 84.8,611.3 85.2,611.2 85.5,611.2 85.8,611.2 86.2,611.3 86.5,611.4 86.8,611.5 87.2,611.7 87.5,612.0 87.8,612.2 88.2,612.5 88.5,612.9 88.8,613.2 89.2,613.6 89.5,614.0 89.8,614.3 90.2,614.7 90.5,615.1 90.8,615.4 91.2,615.8 91.5,616.1 91.8,616.4 92.2,616.6 92.5,616.8 92.8,617.0 93.2,617.1 93.5,617.2 93.8,617.2 94.2,617.2 94.5,617.1 94.8,617.0 95.2,616.8 95.5,616.6 95.8,616.4 96.2,616.1 96.5,615.8 96.9,615.5 97.2,615.1 97.5,614.8 97.9,614.4 98.2,614.0 98.5,613.6 98.9,613.3 99.2,612.9 99.5,612.6 99.9,612.3 100.2,612.0 100.5,611.8 100.9,611.6 101.2,611.4 101.5,611.3 101.9,611.2 102.2,611.2 102.5,611.2 102.9,611.3 103.2,611.4 103.5,611.6 103.9,611.8 104.2,612.0 104.5,612.3 104.9,612.6 105.2,612.9 105.5,613.3 105.9,613.7 106.2,614.0 106.5,614.4 106.9,614.8 107.2,615.2 107.5,615.5 107.9,615.8 108.2,616.1 108.5,616.4 108.9,616.7 109.2,616.9 109.5,617.0 109.9,617.1 110.2,617.2 110.5,617.2 110.9,617.2 111.2,617.1 111.5,617.0 111.9,616.8 112.2,616.6 112.5,616.3 112.9,616.1 113.2,615.7 113.5,615.4 113.9,615.1 114.2,614.7 114.5,614.3 114.9,613.9 115.2,613.6 115.5,613.2 115.9,612.8 116.2,612.5 116.5,612.2 116.9,612.0 117.2,611.7 117.5,611.5 117.9,611.4 118.2,611.3 118.5,611.2 118.9,611.2 119.2,611.2 119.5,611.3 119.9,611.5 120.2,611.6 120.5,611.8 120.9,612.1 121.2,612.4 121.5,612.7 121.9,613.0 122.2,613.4 122.5,613.8 122.9,614.1 123.2,614.5 123.5,614.9 123.9,615.2 124.2,615.6 124.5,615.9 124.9,616.2 125.2,616.5 125.5,616.7 125.9,616.9 126.2,617.0 126.5,617.1 126.9,617.2 127.2,617.2 127.5,617.2 127.9,617.1 128.2,616.9 128.5,616.8 128.9,616.5 129.2,616.3" fill="none" stroke="#f2a030" stroke-width="1.0"/>
<path d="M65.2 616.8V613.8M66.2 617.2V612.7M67.3 617.1V611.8M68.3 616.6V611.3M69.4 615.7V611.2M70.4 614.6V611.7M73.6 611.6V614.7M74.6 611.2V615.8M75.7 611.3V616.7M76.7 611.9V617.1M77.8 612.8V617.1M78.8 613.9V616.7M80.9 616.1V614.7M82.0 616.9V613.6M83.0 617.2V612.5M84.1 617.0V611.7M85.1 616.5V611.2M86.2 615.5V611.3M87.2 614.4V611.8M89.3 612.2V613.8M90.4 611.5V615.0M91.4 611.2V616.0M92.5 611.4V616.8M93.5 612.0V617.2M94.6 613.0V617.1M95.6 614.1V616.5M97.7 616.3V614.5M98.8 617.0V613.3M99.8 617.2V612.3M100.9 617.0V611.5M101.9 616.3V611.2M103.0 615.3V611.3M104.0 614.1V611.9M106.1 612.0V614.0M107.2 611.4V615.2M108.2 611.2V616.2M109.3 611.5V616.9M110.3 612.2V617.2M111.4 613.2V617.0M112.4 614.4V616.4M114.5 616.5V614.3M115.6 617.0V613.1M116.6 617.2V612.1M117.7 616.9V611.4M118.7 616.1V611.2M119.8 615.1V611.4M120.8 613.9V612.1M122.9 611.9V614.2M124.0 611.3V615.4M125.0 611.2V616.4M126.1 611.6V617.0M127.1 612.4V617.2M128.2 613.4V616.9" fill="none" stroke="#f2a030" stroke-width="0.45"/>
<polyline points="81.0,624.3 81.3,624.7 81.7,625.1 82.0,625.4 82.3,625.8 82.7,626.1 83.0,626.4 83.3,626.6 83.7,626.8 84.0,627.0 84.3,627.2 84.7,627.3 85.0,627.3 85.3,627.3 85.7,627.2 86.0,627.1 86.3,627.0 86.7,626.8 87.0,626.6 87.3,626.3 87.7,626.0 88.0,625.7 88.4,625.4 88.7,625.0 89.0,624.6 89.4,624.2 89.7,623.9 90.0,623.5 90.4,623.1 90.7,622.8 91.0,622.5 91.4,622.2 91.7,621.9 92.0,621.7 92.4,621.6 92.7,621.4 93.0,621.3 93.4,621.3 93.7,621.3 94.0,621.4 94.4,621.5 94.7,621.6 95.0,621.8 95.4,622.1 95.7,622.3 96.0,622.6 96.4,623.0 96.7,623.3 97.0,623.7 97.4,624.0 97.7,624.4 98.0,624.8 98.4,625.2 98.7,625.5 99.0,625.9 99.4,626.2 99.7,626.5 100.0,626.7 100.4,626.9 100.7,627.1 101.1,627.2 101.4,627.3 101.7,627.3 102.1,627.3 102.4,627.2 102.7,627.1 103.1,626.9 103.4,626.7 103.7,626.5 104.1,626.2 104.4,625.9 104.7,625.6 105.1,625.2 105.4,624.9 105.7,624.5 106.1,624.1 106.4,623.7 106.7,623.4 107.1,623.0 107.4,622.7 107.7,622.4 108.1,622.1 108.4,621.9 108.7,621.7 109.1,621.5 109.4,621.4 109.7,621.3 110.1,621.3 110.4,621.3 110.7,621.4 111.1,621.5 111.4,621.7 111.7,621.9 112.1,622.1 112.4,622.4 112.7,622.7 113.1,623.1 113.4,623.4 113.7,623.8 114.1,624.2 114.4,624.5 114.8,624.9 115.1,625.3 115.4,625.6 115.8,626.0 116.1,626.3 116.4,626.5 116.8,626.8 117.1,627.0 117.4,627.1 117.8,627.2 118.1,627.3 118.4,627.3 118.8,627.3 119.1,627.2 119.4,627.1 119.8,626.9 120.1,626.7 120.4,626.4 120.8,626.1 121.1,625.8 121.4,625.5 121.8,625.1 122.1,624.7 122.4,624.4 122.8,624.0 123.1,623.6 123.4,623.3 123.8,622.9 124.1,622.6 124.4,622.3 124.8,622.0 125.1,621.8 125.4,621.6 125.8,621.5 126.1,621.4 126.4,621.3 126.8,621.3 127.1,621.3 127.4,621.4 127.8,621.6 128.1,621.8 128.5,622.0 128.8,622.2 129.1,622.5 129.5,622.8 129.8,623.2 130.1,623.5 130.5,623.9 130.8,624.3 131.1,624.7 131.5,625.0 131.8,625.4 132.1,625.7 132.5,626.1 132.8,626.4 133.1,626.6 133.5,626.8 133.8,627.0 134.1,627.2 134.5,627.3 134.8,627.3 135.1,627.3 135.5,627.2 135.8,627.1 136.1,627.0 136.5,626.8 136.8,626.6 137.1,626.3 137.5,626.0 137.8,625.7 138.1,625.4 138.5,625.0 138.8,624.6 139.1,624.2 139.5,623.9 139.8,623.5 140.1,623.1 140.5,622.8 140.8,622.5 141.2,622.2 141.5,621.9 141.8,621.7 142.2,621.6 142.5,621.4 142.8,621.3 143.2,621.3 143.5,621.3 143.8,621.4 144.2,621.5 144.5,621.6 144.8,621.8 145.2,622.1 145.5,622.3 145.8,622.6 146.2,622.9 146.5,623.3 146.8,623.7 147.2,624.0 147.5,624.4" fill="none" stroke="#3c9a2c" stroke-width="1.0"/>
<polyline points="81.0,626.6 81.3,626.4 81.7,626.1 82.0,625.7 82.3,625.4 82.7,625.0 83.0,624.7 83.3,624.3 83.7,623.9 84.0,623.5 84.3,623.2 84.7,622.8 85.0,622.5 85.3,622.2 85.7,622.0 86.0,621.7 86.3,621.6 86.7,621.4 87.0,621.3 87.3,621.3 87.7,621.3 88.0,621.4 88.4,621.5 88.7,621.6 89.0,621.8 89.4,622.0 89.7,622.3 90.0,622.6 90.4,622.9 90.7,623.3 91.0,623.6 91.4,624.0 91.7,624.4 92.0,624.8 92.4,625.1 92.7,625.5 93.0,625.8 93.4,626.1 93.7,626.4 94.0,626.7 94.4,626.9 94.7,627.1 95.0,627.2 95.4,627.3 95.7,627.3 96.0,627.3 96.4,627.2 96.7,627.1 97.0,627.0 97.4,626.8 97.7,626.5 98.0,626.3 98.4,626.0 98.7,625.6 99.0,625.3 99.4,624.9 99.7,624.5 100.0,624.2 100.4,623.8 100.7,623.4 101.1,623.1 101.4,622.7 101.7,622.4 102.1,622.1 102.4,621.9 102.7,621.7 103.1,621.5 103.4,621.4 103.7,621.3 104.1,621.3 104.4,621.3 104.7,621.4 105.1,621.5 105.4,621.7 105.7,621.9 106.1,622.1 106.4,622.4 106.7,622.7 107.1,623.0 107.4,623.4 107.7,623.7 108.1,624.1 108.4,624.5 108.7,624.9 109.1,625.2 109.4,625.6 109.7,625.9 110.1,626.2 110.4,626.5 110.7,626.7 111.1,626.9 111.4,627.1 111.7,627.2 112.1,627.3 112.4,627.3 112.7,627.3 113.1,627.2 113.4,627.1 113.7,626.9 114.1,626.7 114.4,626.4 114.8,626.2 115.1,625.9 115.4,625.5 115.8,625.2 116.1,624.8 116.4,624.4 116.8,624.0 117.1,623.7 117.4,623.3 117.8,622.9 118.1,622.6 118.4,622.3 118.8,622.1 119.1,621.8 119.4,621.6 119.8,621.5 120.1,621.4 120.4,621.3 120.8,621.3 121.1,621.3 121.4,621.4 121.8,621.6 122.1,621.7 122.4,621.9 122.8,622.2 123.1,622.5 123.4,622.8 123.8,623.1 124.1,623.5 124.4,623.9 124.8,624.2 125.1,624.6 125.4,625.0 125.8,625.4 126.1,625.7 126.4,626.0 126.8,626.3 127.1,626.6 127.4,626.8 127.8,627.0 128.1,627.1 128.5,627.2 128.8,627.3 129.1,627.3 129.5,627.3 129.8,627.2 130.1,627.0 130.5,626.8 130.8,626.6 131.1,626.4 131.5,626.1 131.8,625.7 132.1,625.4 132.5,625.0 132.8,624.7 133.1,624.3 133.5,623.9 133.8,623.5 134.1,623.2 134.5,622.8 134.8,622.5 135.1,622.2 135.5,622.0 135.8,621.8 136.1,621.6 136.5,621.4 136.8,621.3 137.1,621.3 137.5,621.3 137.8,621.4 138.1,621.5 138.5,621.6 138.8,621.8 139.1,622.0 139.5,622.3 139.8,622.6 140.1,622.9 140.5,623.3 140.8,623.6 141.2,624.0 141.5,624.4 141.8,624.7 142.2,625.1 142.5,625.5 142.8,625.8 143.2,626.1 143.5,626.4 143.8,626.7 144.2,626.9 144.5,627.1 144.8,627.2 145.2,627.3 145.5,627.3 145.8,627.3 146.2,627.2 146.5,627.1 146.8,627.0 147.2,626.8 147.5,626.5" fill="none" stroke="#3c9a2c" stroke-width="1.0"/>
<path d="M83.7 626.9V623.9M84.7 627.3V622.8M85.8 627.2V621.9M86.8 626.7V621.4M87.9 625.8V621.3M88.9 624.7V621.8M92.1 621.7V624.8M93.1 621.3V625.9M94.2 621.4V626.8M95.2 622.0V627.2M96.3 622.9V627.2M97.3 624.0V626.8M99.4 626.2V624.8M100.5 627.0V623.7M101.5 627.3V622.6M102.6 627.1V621.8M103.6 626.6V621.3M104.7 625.6V621.4M105.7 624.5V621.9M107.8 622.3V623.9M108.9 621.6V625.1M109.9 621.3V626.1M111.0 621.5V626.9M112.0 622.1V627.3M113.1 623.1V627.2M114.1 624.2V626.6M116.2 626.4V624.6M117.3 627.1V623.4M118.3 627.3V622.4M119.4 627.1V621.6M120.4 626.4V621.3M121.5 625.4V621.4M122.5 624.2V622.0M124.6 622.1V624.1M125.7 621.5V625.3M126.7 621.3V626.3M127.8 621.6V627.0M128.8 622.3V627.3M129.9 623.3V627.1M130.9 624.5V626.5M133.0 626.6V624.4M134.1 627.1V623.2M135.1 627.3V622.2M136.2 627.0V621.5M137.2 626.2V621.3M138.3 625.2V621.5M139.3 624.0V622.2M141.5 622.0V624.3M142.5 621.4V625.5M143.6 621.3V626.5M144.6 621.7V627.1M145.7 622.5V627.3M146.7 623.5V627.0" fill="none" stroke="#3c9a2c" stroke-width="0.45"/>
<path d="M56.2,608.8 C45,610 34.5,618 34,631.5" fill="none" stroke="#808080" stroke-width="2.8"/>
<path d="M29.4,630.8 H38.6 L34,642 Z" fill="#808080"/>
<path d="M155,608 C166,609 176.5,617 177.4,630.8" fill="none" stroke="#808080" stroke-width="2.8"/>
<path d="M172.6,630.2 H182.0 L177.4,642 Z" fill="#808080"/>
<text x="43.4" y="639.3" font-size="9.3" textLength="40.9" lengthAdjust="spacingAndGlyphs">ATAC-seq</text>
<text x="129.3" y="639.3" font-size="9.3" textLength="38.8" lengthAdjust="spacingAndGlyphs">RNA-seq</text>
<circle cx="16.9" cy="638.5" r="2.1" fill="#a0a0a0"/>
<path d="M16.9,638.5 L26.5,649.8 H59.4" fill="none" stroke="#d03a3a" stroke-width="1.0"/>
<path d="M17.9 639.7l-2.2 1.4M19.0 641.0l-2.2 1.4M20.0 642.2l-2.2 1.4M21.1 643.5l-2.2 1.4M22.2 644.8l-2.2 1.4M23.3 646.0l-2.2 1.4M24.4 647.3l-2.2 1.4M25.4 648.5l-2.2 1.4M27.5 649.8V654.5M29.6 649.8V654.5M31.7 649.8V654.5M33.8 649.8V654.5M35.9 649.8V654.5M38.0 649.8V654.5M40.1 649.8V654.5M42.2 649.8V654.5M44.3 649.8V654.5M46.4 649.8V654.5M48.5 649.8V654.5M50.6 649.8V654.5M52.7 649.8V654.5M54.8 649.8V654.5M56.9 649.8V654.5M59.0 649.8V654.5" fill="none" stroke="#d03a3a" stroke-width="0.5"/>
<path d="M7.0 657.8V653.2M9.1 657.8V653.2M11.1 657.8V653.2M13.1 657.8V653.2M15.2 657.8V653.2M17.2 657.8V653.2M19.3 657.8V653.2M21.3 657.8V653.2M23.4 657.8V653.2M25.4 657.8V653.2M27.5 657.8V653.2M29.5 657.8V653.2M31.6 657.8V653.2M33.6 657.8V653.2M35.7 657.8V653.2M37.8 657.8V653.2M39.8 657.8V653.2M41.8 657.8V653.2M43.9 657.8V653.2M45.9 657.8V653.2M48.0 657.8V653.2M50.0 657.8V653.2M52.1 657.8V653.2M54.1 657.8V653.2M56.2 657.8V653.2M58.2 657.8V653.2M60.3 657.8V653.2M62.3 657.8V653.2M64.4 657.8V653.2M66.4 657.8V653.2M68.5 657.8V653.2M70.5 657.8V653.2M72.6 657.8V653.2M74.6 657.8V653.2M76.7 657.8V653.2M78.8 657.8V653.2M80.8 657.8V653.2M82.8 657.8V653.2M84.9 657.8V653.2" fill="none" stroke="#7cc0dc" stroke-width="0.6"/>
<line x1="6.4" y1="657.8" x2="85.1" y2="657.8" stroke="#3a7fb0" stroke-width="1.0"/>
<path d="M127.0 656.5V652M129.1 656.5V652M131.1 656.5V652M133.2 656.5V652M135.2 656.5V652M137.2 656.5V652M139.3 656.5V652M141.3 656.5V652M143.4 656.5V652M145.4 656.5V652M147.5 656.5V652M149.6 656.5V652M151.6 656.5V652M153.7 656.5V652M155.7 656.5V652M157.8 656.5V652M159.8 656.5V652M161.8 656.5V652M163.9 656.5V652M165.9 656.5V652M168.0 656.5V652M170.1 656.5V652M172.1 656.5V652M174.2 656.5V652M176.2 656.5V652M178.2 656.5V652M180.3 656.5V652M182.3 656.5V652M184.4 656.5V652M186.4 656.5V652" fill="none" stroke="#7cc0dc" stroke-width="0.6"/>
<path d="M188.0 656.5V652.5M190.1 656.5V652.5M192.1 656.5V652.5M194.2 656.5V652.5M196.2 656.5V652.5M198.2 656.5V652.5" fill="none" stroke="#3cc04a" stroke-width="0.6"/>
<path d="M200.0 656.5V652.5M202.1 656.5V652.5M204.1 656.5V652.5M206.2 656.5V652.5M208.2 656.5V652.5M210.2 656.5V652.5" fill="none" stroke="#f2a030" stroke-width="0.6"/>
<path d="M127.0 649.5V653.5M129.1 649.5V653.5M131.1 649.5V653.5M133.2 649.5V653.5M135.2 649.5V653.5M137.2 649.5V653.5M139.3 649.5V653.5M141.3 649.5V653.5M143.4 649.5V653.5M145.4 649.5V653.5M147.5 649.5V653.5M149.6 649.5V653.5" fill="none" stroke="#d03a3a" stroke-width="0.5"/>
<line x1="126.0" y1="656.5" x2="187.0" y2="656.5" stroke="#3a7fb0" stroke-width="1.0"/>
<line x1="187.0" y1="656.5" x2="199.0" y2="656.5" stroke="#3cc04a" stroke-width="1.0"/>
<line x1="199.0" y1="656.5" x2="210.7" y2="656.5" stroke="#f2a030" stroke-width="1.0"/>
<line x1="126.0" y1="649.5" x2="149.3" y2="649.5" stroke="#d03a3a" stroke-width="1.0"/>
<line x1="149.3" y1="649.5" x2="156.5" y2="649.5" stroke="#111" stroke-width="0.8"/>
<path d="M155.5,647.6 L159.2,649.5 L155.5,651.4 Z" fill="#111"/>
<text x="0.0" y="672.3" font-size="9.3" textLength="87.5" lengthAdjust="spacingAndGlyphs">mtDNA enrichment</text>
<text x="122.8" y="672.3" font-size="9.3" textLength="80.8" lengthAdjust="spacingAndGlyphs">gRNA enrichment</text>
<line x1="92.8" y1="641.0" x2="92.8" y2="711.5" stroke="#808080" stroke-width="2.8"/>
<line x1="118.5" y1="641.0" x2="118.5" y2="711.5" stroke="#808080" stroke-width="2.8"/>
<path d="M35.8,679.2 C36,700 88,690 92.6,712" fill="none" stroke="#808080" stroke-width="2.8"/>
<path d="M175.5,679.2 C175,700 123,690 118.7,712" fill="none" stroke="#808080" stroke-width="2.8"/>
<path d="M87.8,710.7 H97.8 L92.8,721.2 Z" fill="#808080"/>
<path d="M113.5,710.7 H123.5 L118.5,721.2 Z" fill="#808080"/>
<rect x="34.1" y="727.2" width="18.2" height="3.5" fill="#3a7ab8"/>
<rect x="52.2" y="727.2" width="18.2" height="3.5" fill="#8fc0de"/>
<rect x="70.2" y="727.2" width="18.2" height="3.5" fill="#e4eef5"/>
<rect x="88.3" y="727.2" width="18.2" height="3.5" fill="#eef0f2"/>
<rect x="106.4" y="727.2" width="18.2" height="3.5" fill="#b2182b"/>
<rect x="124.5" y="727.2" width="18.2" height="3.5" fill="#fbe8e0"/>
<rect x="142.5" y="727.2" width="18.2" height="3.5" fill="#f4a582"/>
<rect x="160.6" y="727.2" width="18.2" height="3.5" fill="#e4eef5"/>
<rect x="34.1" y="730.6" width="18.2" height="3.5" fill="#0a2a5e"/>
<rect x="52.2" y="730.6" width="18.2" height="3.5" fill="#f4a886"/>
<rect x="70.2" y="730.6" width="18.2" height="3.5" fill="#f8ece8"/>
<rect x="88.3" y="730.6" width="18.2" height="3.5" fill="#eef0f2"/>
<rect x="106.4" y="730.6" width="18.2" height="3.5" fill="#fbe0d2"/>
<rect x="124.5" y="730.6" width="18.2" height="3.5" fill="#fbe8e0"/>
<rect x="142.5" y="730.6" width="18.2" height="3.5" fill="#f8f0ee"/>
<rect x="160.6" y="730.6" width="18.2" height="3.5" fill="#ee9070"/>
<rect x="34.1" y="733.9" width="18.2" height="3.5" fill="#9cc8e0"/>
<rect x="52.2" y="733.9" width="18.2" height="3.5" fill="#dce9f2"/>
<rect x="70.2" y="733.9" width="18.2" height="3.5" fill="#3a7ab8"/>
<rect x="88.3" y="733.9" width="18.2" height="3.5" fill="#f5efec"/>
<rect x="106.4" y="733.9" width="18.2" height="3.5" fill="#e4eef5"/>
<rect x="124.5" y="733.9" width="18.2" height="3.5" fill="#d6604d"/>
<rect x="142.5" y="733.9" width="18.2" height="3.5" fill="#d6604d"/>
<rect x="160.6" y="733.9" width="18.2" height="3.5" fill="#fbe4d8"/>
<rect x="34.1" y="737.3" width="18.2" height="3.5" fill="#9cc8e0"/>
<rect x="52.2" y="737.3" width="18.2" height="3.5" fill="#6aa6d0"/>
<rect x="70.2" y="737.3" width="18.2" height="3.5" fill="#fbe0d2"/>
<rect x="88.3" y="737.3" width="18.2" height="3.5" fill="#4a90c4"/>
<rect x="106.4" y="737.3" width="18.2" height="3.5" fill="#f8c0a0"/>
<rect x="124.5" y="737.3" width="18.2" height="3.5" fill="#f4a582"/>
<rect x="142.5" y="737.3" width="18.2" height="3.5" fill="#d6604d"/>
<rect x="160.6" y="737.3" width="18.2" height="3.5" fill="#f8eeea"/>
<rect x="34.1" y="740.6" width="18.2" height="3.5" fill="#a0cae0"/>
<rect x="52.2" y="740.6" width="18.2" height="3.5" fill="#a8d0e4"/>
<rect x="70.2" y="740.6" width="18.2" height="3.5" fill="#f0f0f0"/>
<rect x="88.3" y="740.6" width="18.2" height="3.5" fill="#4a90c4"/>
<rect x="106.4" y="740.6" width="18.2" height="3.5" fill="#a50f26"/>
<rect x="124.5" y="740.6" width="18.2" height="3.5" fill="#f8eeea"/>
<rect x="142.5" y="740.6" width="18.2" height="3.5" fill="#f8c0a0"/>
<rect x="160.6" y="740.6" width="18.2" height="3.5" fill="#f8eeea"/>
<rect x="34.1" y="744.0" width="18.2" height="3.5" fill="#74acd2"/>
<rect x="52.2" y="744.0" width="18.2" height="3.5" fill="#f2f2f2"/>
<rect x="70.2" y="744.0" width="18.2" height="3.5" fill="#2d6fb0"/>
<rect x="88.3" y="744.0" width="18.2" height="3.5" fill="#dce9f2"/>
<rect x="106.4" y="744.0" width="18.2" height="3.5" fill="#f8c0a0"/>
<rect x="124.5" y="744.0" width="18.2" height="3.5" fill="#e07a60"/>
<rect x="142.5" y="744.0" width="18.2" height="3.5" fill="#f4a582"/>
<rect x="160.6" y="744.0" width="18.2" height="3.5" fill="#f8eeea"/>
<rect x="34.1" y="747.3" width="18.2" height="3.5" fill="#74acd2"/>
<rect x="52.2" y="747.3" width="18.2" height="3.5" fill="#d0e2ee"/>
<rect x="70.2" y="747.3" width="18.2" height="3.5" fill="#eeeeee"/>
<rect x="88.3" y="747.3" width="18.2" height="3.5" fill="#5a9ccc"/>
<rect x="106.4" y="747.3" width="18.2" height="3.5" fill="#d6604d"/>
<rect x="124.5" y="747.3" width="18.2" height="3.5" fill="#e07a60"/>
<rect x="142.5" y="747.3" width="18.2" height="3.5" fill="#fbd4c0"/>
<rect x="160.6" y="747.3" width="18.2" height="3.5" fill="#e4eef5"/>
<rect x="34.1" y="750.7" width="18.2" height="3.5" fill="#f0f0f0"/>
<rect x="52.2" y="750.7" width="18.2" height="3.5" fill="#3a7ab8"/>
<rect x="70.2" y="750.7" width="18.2" height="3.5" fill="#fcd8c4"/>
<rect x="88.3" y="750.7" width="18.2" height="3.5" fill="#5a9ccc"/>
<rect x="106.4" y="750.7" width="18.2" height="3.5" fill="#c43c3c"/>
<rect x="124.5" y="750.7" width="18.2" height="3.5" fill="#fbe4d8"/>
<rect x="142.5" y="750.7" width="18.2" height="3.5" fill="#fbe4d8"/>
<rect x="160.6" y="750.7" width="18.2" height="3.5" fill="#fbe8e0"/>
<rect x="34.1" y="754.0" width="18.2" height="3.5" fill="#84b8d8"/>
<rect x="52.2" y="754.0" width="18.2" height="3.5" fill="#4a90c4"/>
<rect x="70.2" y="754.0" width="18.2" height="3.5" fill="#f8eeea"/>
<rect x="88.3" y="754.0" width="18.2" height="3.5" fill="#a8d0e4"/>
<rect x="106.4" y="754.0" width="18.2" height="3.5" fill="#fbe0d2"/>
<rect x="124.5" y="754.0" width="18.2" height="3.5" fill="#d6604d"/>
<rect x="142.5" y="754.0" width="18.2" height="3.5" fill="#f5f0ee"/>
<rect x="160.6" y="754.0" width="18.2" height="3.5" fill="#e07a60"/>
<rect x="34.1" y="757.4" width="18.2" height="3.5" fill="#84b8d8"/>
<rect x="52.2" y="757.4" width="18.2" height="3.5" fill="#2d6fb0"/>
<rect x="70.2" y="757.4" width="18.2" height="3.5" fill="#d8e8f2"/>
<rect x="88.3" y="757.4" width="18.2" height="3.5" fill="#eef0f2"/>
<rect x="106.4" y="757.4" width="18.2" height="3.5" fill="#fbe0d2"/>
<rect x="124.5" y="757.4" width="18.2" height="3.5" fill="#e07a60"/>
<rect x="142.5" y="757.4" width="18.2" height="3.5" fill="#fbe4d8"/>
<rect x="160.6" y="757.4" width="18.2" height="3.5" fill="#e07a60"/>
<rect x="34.1" y="760.7" width="18.2" height="3.5" fill="#f8eeea"/>
<rect x="52.2" y="760.7" width="18.2" height="3.5" fill="#e06048"/>
<rect x="70.2" y="760.7" width="18.2" height="3.5" fill="#4a90c4"/>
<rect x="88.3" y="760.7" width="18.2" height="3.5" fill="#3a80bc"/>
<rect x="106.4" y="760.7" width="18.2" height="3.5" fill="#fbe8e0"/>
<rect x="124.5" y="760.7" width="18.2" height="3.5" fill="#f8eeea"/>
<rect x="142.5" y="760.7" width="18.2" height="3.5" fill="#fbe4d8"/>
<rect x="160.6" y="760.7" width="18.2" height="3.5" fill="#f4a582"/>
<rect x="34.1" y="764.1" width="18.2" height="3.5" fill="#a8d0e4"/>
<rect x="52.2" y="764.1" width="18.2" height="3.5" fill="#fbe0d2"/>
<rect x="70.2" y="764.1" width="18.2" height="3.5" fill="#eef2f4"/>
<rect x="88.3" y="764.1" width="18.2" height="3.5" fill="#3a80bc"/>
<rect x="106.4" y="764.1" width="18.2" height="3.5" fill="#84b8d8"/>
<rect x="124.5" y="764.1" width="18.2" height="3.5" fill="#e88068"/>
<rect x="142.5" y="764.1" width="18.2" height="3.5" fill="#f4a582"/>
<rect x="160.6" y="764.1" width="18.2" height="3.5" fill="#f4a582"/>
<rect x="34.1" y="767.5" width="18.2" height="3.5" fill="#74acd2"/>
<rect x="52.2" y="767.5" width="18.2" height="3.5" fill="#fbd4c0"/>
<rect x="70.2" y="767.5" width="18.2" height="3.5" fill="#e0ecf4"/>
<rect x="88.3" y="767.5" width="18.2" height="3.5" fill="#2d6fb0"/>
<rect x="106.4" y="767.5" width="18.2" height="3.5" fill="#e88068"/>
<rect x="124.5" y="767.5" width="18.2" height="3.5" fill="#f8c0a0"/>
<rect x="142.5" y="767.5" width="18.2" height="3.5" fill="#dce9f2"/>
<rect x="160.6" y="767.5" width="18.2" height="3.5" fill="#f09070"/>
<rect x="34.1" y="770.8" width="18.2" height="3.5" fill="#dce9f2"/>
<rect x="52.2" y="770.8" width="18.2" height="3.5" fill="#e4eef5"/>
<rect x="70.2" y="770.8" width="18.2" height="3.5" fill="#5a9ccc"/>
<rect x="88.3" y="770.8" width="18.2" height="3.5" fill="#84b8d8"/>
<rect x="106.4" y="770.8" width="18.2" height="3.5" fill="#d6604d"/>
<rect x="124.5" y="770.8" width="18.2" height="3.5" fill="#f5f0ee"/>
<rect x="142.5" y="770.8" width="18.2" height="3.5" fill="#f5f0ee"/>
<rect x="160.6" y="770.8" width="18.2" height="3.5" fill="#cc4444"/>
<rect x="34.1" y="774.2" width="18.2" height="3.5" fill="#3a7ab8"/>
<rect x="52.2" y="774.2" width="18.2" height="3.5" fill="#eef0f2"/>
<rect x="70.2" y="774.2" width="18.2" height="3.5" fill="#6aa6d0"/>
<rect x="88.3" y="774.2" width="18.2" height="3.5" fill="#f5f0ee"/>
<rect x="106.4" y="774.2" width="18.2" height="3.5" fill="#cc4444"/>
<rect x="124.5" y="774.2" width="18.2" height="3.5" fill="#f09070"/>
<rect x="142.5" y="774.2" width="18.2" height="3.5" fill="#c8e0ee"/>
<rect x="160.6" y="774.2" width="18.2" height="3.5" fill="#fbd4c0"/>
<rect x="34.1" y="777.5" width="18.2" height="3.5" fill="#fbe4d8"/>
<rect x="52.2" y="777.5" width="18.2" height="3.5" fill="#2d6fb0"/>
<rect x="70.2" y="777.5" width="18.2" height="3.5" fill="#fbc0a0"/>
<rect x="88.3" y="777.5" width="18.2" height="3.5" fill="#5a9ccc"/>
<rect x="106.4" y="777.5" width="18.2" height="3.5" fill="#cc4444"/>
<rect x="124.5" y="777.5" width="18.2" height="3.5" fill="#f8c0a0"/>
<rect x="142.5" y="777.5" width="18.2" height="3.5" fill="#c8e0ee"/>
<rect x="160.6" y="777.5" width="18.2" height="3.5" fill="#f5f0ee"/>
<rect x="34.1" y="780.9" width="18.2" height="3.5" fill="#fbe8e0"/>
<rect x="52.2" y="780.9" width="18.2" height="3.5" fill="#3a80bc"/>
<rect x="70.2" y="780.9" width="18.2" height="3.5" fill="#5a9ccc"/>
<rect x="88.3" y="780.9" width="18.2" height="3.5" fill="#e4eef5"/>
<rect x="106.4" y="780.9" width="18.2" height="3.5" fill="#e88068"/>
<rect x="124.5" y="780.9" width="18.2" height="3.5" fill="#c8e0ee"/>
<rect x="142.5" y="780.9" width="18.2" height="3.5" fill="#e07a60"/>
<rect x="160.6" y="780.9" width="18.2" height="3.5" fill="#f09070"/>
<rect x="34.1" y="784.2" width="18.2" height="3.5" fill="#a8d0e4"/>
<rect x="52.2" y="784.2" width="18.2" height="3.5" fill="#6aa6d0"/>
<rect x="70.2" y="784.2" width="18.2" height="3.5" fill="#e4eef5"/>
<rect x="88.3" y="784.2" width="18.2" height="3.5" fill="#b8d8ea"/>
<rect x="106.4" y="784.2" width="18.2" height="3.5" fill="#cc4444"/>
<rect x="124.5" y="784.2" width="18.2" height="3.5" fill="#d4e6f0"/>
<rect x="142.5" y="784.2" width="18.2" height="3.5" fill="#f5f0ee"/>
<rect x="160.6" y="784.2" width="18.2" height="3.5" fill="#d6604d"/>
<rect x="34.1" y="787.6" width="18.2" height="3.5" fill="#fbe8e0"/>
<rect x="52.2" y="787.6" width="18.2" height="3.5" fill="#3a80bc"/>
<rect x="70.2" y="787.6" width="18.2" height="3.5" fill="#84b8d8"/>
<rect x="88.3" y="787.6" width="18.2" height="3.5" fill="#b8d8ea"/>
<rect x="106.4" y="787.6" width="18.2" height="3.5" fill="#d6604d"/>
<rect x="124.5" y="787.6" width="18.2" height="3.5" fill="#dce9f2"/>
<rect x="142.5" y="787.6" width="18.2" height="3.5" fill="#fbd4c0"/>
<rect x="160.6" y="787.6" width="18.2" height="3.5" fill="#e07a60"/>
<rect x="34.1" y="790.9" width="18.2" height="3.5" fill="#74acd2"/>
<rect x="52.2" y="790.9" width="18.2" height="3.5" fill="#3a80bc"/>
<rect x="70.2" y="790.9" width="18.2" height="3.5" fill="#fbeae4"/>
<rect x="88.3" y="790.9" width="18.2" height="3.5" fill="#c8e0ee"/>
<rect x="106.4" y="790.9" width="18.2" height="3.5" fill="#e88068"/>
<rect x="124.5" y="790.9" width="18.2" height="3.5" fill="#f8c0a0"/>
<rect x="142.5" y="790.9" width="18.2" height="3.5" fill="#dce9f2"/>
<rect x="160.6" y="790.9" width="18.2" height="3.5" fill="#d6604d"/>
<rect x="34.1" y="794.3" width="18.2" height="3.5" fill="#b8d8ea"/>
<rect x="52.2" y="794.3" width="18.2" height="3.5" fill="#e07050"/>
<rect x="70.2" y="794.3" width="18.2" height="3.5" fill="#eef2f4"/>
<rect x="88.3" y="794.3" width="18.2" height="3.5" fill="#84b8d8"/>
<rect x="106.4" y="794.3" width="18.2" height="3.5" fill="#f5f0ee"/>
<rect x="124.5" y="794.3" width="18.2" height="3.5" fill="#b2182b"/>
<rect x="142.5" y="794.3" width="18.2" height="3.5" fill="#dce9f2"/>
<rect x="160.6" y="794.3" width="18.2" height="3.5" fill="#84b8d8"/>
<rect x="34.1" y="797.6" width="18.2" height="3.5" fill="#3a7ab8"/>
<rect x="52.2" y="797.6" width="18.2" height="3.5" fill="#dce9f2"/>
<rect x="70.2" y="797.6" width="18.2" height="3.5" fill="#4a90c4"/>
<rect x="88.3" y="797.6" width="18.2" height="3.5" fill="#fbe0d2"/>
<rect x="106.4" y="797.6" width="18.2" height="3.5" fill="#fbd4c0"/>
<rect x="124.5" y="797.6" width="18.2" height="3.5" fill="#f5f0ee"/>
<rect x="142.5" y="797.6" width="18.2" height="3.5" fill="#c43c3c"/>
<rect x="160.6" y="797.6" width="18.2" height="3.5" fill="#fbd4c0"/>
<rect x="34.1" y="801.0" width="18.2" height="3.5" fill="#84b8d8"/>
<rect x="52.2" y="801.0" width="18.2" height="3.5" fill="#84b8d8"/>
<rect x="70.2" y="801.0" width="18.2" height="3.5" fill="#e4eef5"/>
<rect x="88.3" y="801.0" width="18.2" height="3.5" fill="#c8e0ee"/>
<rect x="106.4" y="801.0" width="18.2" height="3.5" fill="#d4e6f0"/>
<rect x="124.5" y="801.0" width="18.2" height="3.5" fill="#f8c0a0"/>
<rect x="142.5" y="801.0" width="18.2" height="3.5" fill="#e88068"/>
<rect x="160.6" y="801.0" width="18.2" height="3.5" fill="#cc4444"/>
<rect x="34.1" y="804.3" width="18.2" height="3.5" fill="#84b8d8"/>
<rect x="52.2" y="804.3" width="18.2" height="3.5" fill="#b8d8ea"/>
<rect x="70.2" y="804.3" width="18.2" height="3.5" fill="#e4eef5"/>
<rect x="88.3" y="804.3" width="18.2" height="3.5" fill="#5a9ccc"/>
<rect x="106.4" y="804.3" width="18.2" height="3.5" fill="#a50f26"/>
<rect x="124.5" y="804.3" width="18.2" height="3.5" fill="#f8eeea"/>
<rect x="142.5" y="804.3" width="18.2" height="3.5" fill="#f8c0a0"/>
<rect x="160.6" y="804.3" width="18.2" height="3.5" fill="#fbe4d8"/>
<rect x="34.4" y="809.6" width="144.0" height="49.5" fill="#e4e4e4"/>
<rect x="34.4" y="809.6" width="18.0" height="6.2" fill="#707070"/>
<rect x="52.4" y="815.8" width="18.0" height="6.2" fill="#707070"/>
<rect x="70.4" y="822.0" width="18.0" height="6.2" fill="#707070"/>
<rect x="88.4" y="828.2" width="18.0" height="6.2" fill="#707070"/>
<rect x="106.4" y="834.4" width="18.0" height="6.2" fill="#707070"/>
<rect x="124.4" y="840.5" width="18.0" height="6.2" fill="#707070"/>
<rect x="142.4" y="846.7" width="18.0" height="6.2" fill="#707070"/>
<rect x="160.4" y="852.9" width="18.0" height="6.2" fill="#707070"/>
<path d="M34.4 815.8H178.4M34.4 822.0H178.4M34.4 828.2H178.4M34.4 834.4H178.4M34.4 840.5H178.4M34.4 846.7H178.4M34.4 852.9H178.4M52.4 809.6V859.1M70.4 809.6V859.1M88.4 809.6V859.1M106.4 809.6V859.1M124.4 809.6V859.1M142.4 809.6V859.1M160.4 809.6V859.1" fill="none" stroke="#7a7a7a" stroke-width="0.6"/>
<rect x="34.4" y="809.6" width="144.0" height="49.5" fill="none" stroke="#666" stroke-width="0.9"/>
<path d="M34.7,861.5 V898.3 H178.5" fill="none" stroke="#8a8a8a" stroke-width="1.0"/>
<path d="M43.7,866.8 L43.7,867.7 L43.7,868.6 L43.7,869.5 L43.7,870.5 L44.2,871.4 L44.8,872.3 L45.5,873.2 L46.2,874.1 L46.8,875.0 L47.4,875.9 L47.9,876.8 L48.4,877.8 L48.8,878.7 L49.1,879.6 L49.4,880.5 L49.5,881.4 L49.6,882.3 L49.5,883.2 L49.3,884.2 L49.0,885.1 L48.4,886.0 L47.8,886.9 L47.0,887.8 L46.2,888.7 L45.3,889.6 L44.4,890.5 L43.7,891.5 L43.7,892.4 L43.7,893.3 L43.7,894.2 L42.8,894.2 L42.8,893.3 L42.8,892.4 L42.8,891.5 L42.0,890.5 L41.1,889.6 L40.2,888.7 L39.4,887.8 L38.6,886.9 L38.0,886.0 L37.4,885.1 L37.1,884.2 L36.9,883.2 L36.8,882.3 L36.9,881.4 L37.0,880.5 L37.3,879.6 L37.6,878.7 L38.0,877.8 L38.5,876.8 L39.0,875.9 L39.6,875.0 L40.2,874.1 L40.9,873.2 L41.6,872.3 L42.2,871.4 L42.8,870.5 L42.8,869.5 L42.8,868.6 L42.8,867.7 L42.8,866.8Z" fill="#b4d0f4" stroke="#b4d0f4" stroke-width="0.5" fill-opacity="0.85"/>
<rect x="42.1" y="878.0" width="2.2" height="8.0" fill="none" stroke="#777" stroke-width="0.45"/>
<path d="M61.8,862.1 L61.8,863.1 L61.8,864.0 L61.8,865.0 L61.8,866.0 L62.2,867.0 L62.9,867.9 L63.7,868.9 L64.4,869.9 L65.1,870.9 L65.7,871.8 L66.3,872.8 L66.9,873.8 L67.4,874.8 L67.8,875.7 L68.1,876.7 L68.3,877.7 L68.5,878.6 L68.5,879.6 L68.4,880.6 L68.1,881.6 L67.6,882.5 L66.9,883.5 L66.0,884.5 L65.1,885.5 L64.0,886.4 L62.9,887.4 L61.9,888.4 L61.8,889.4 L61.8,890.3 L61.8,891.3 L60.8,891.3 L60.8,890.3 L60.8,889.4 L60.7,888.4 L59.7,887.4 L58.6,886.4 L57.5,885.5 L56.6,884.5 L55.7,883.5 L55.0,882.5 L54.5,881.6 L54.2,880.6 L54.1,879.6 L54.1,878.6 L54.3,877.7 L54.5,876.7 L54.8,875.7 L55.2,874.8 L55.7,873.8 L56.3,872.8 L56.9,871.8 L57.5,870.9 L58.2,869.9 L58.9,868.9 L59.7,867.9 L60.4,867.0 L60.8,866.0 L60.8,865.0 L60.8,864.0 L60.8,863.1 L60.8,862.1Z" fill="#a2a2dc" stroke="#a2a2dc" stroke-width="0.5" fill-opacity="0.85"/>
<rect x="60.2" y="875.1" width="2.2" height="8.0" fill="none" stroke="#777" stroke-width="0.45"/>
<path d="M80.0,878.4 L80.0,879.0 L80.0,879.6 L80.2,880.2 L81.3,880.7 L82.4,881.3 L83.5,881.9 L84.5,882.5 L85.4,883.1 L86.1,883.7 L86.6,884.3 L86.9,884.9 L87.0,885.4 L86.9,886.0 L86.8,886.6 L86.6,887.2 L86.2,887.8 L85.8,888.4 L85.3,889.0 L84.7,889.5 L84.1,890.1 L83.5,890.7 L82.7,891.3 L82.0,891.9 L81.3,892.5 L80.5,893.1 L80.0,893.7 L80.0,894.2 L80.0,894.8 L80.0,895.4 L80.0,896.0 L79.1,896.0 L79.1,895.4 L79.1,894.8 L79.1,894.2 L79.1,893.7 L78.7,893.1 L77.9,892.5 L77.2,891.9 L76.5,891.3 L75.7,890.7 L75.1,890.1 L74.5,889.5 L73.9,889.0 L73.4,888.4 L73.0,887.8 L72.6,887.2 L72.4,886.6 L72.3,886.0 L72.2,885.4 L72.3,884.9 L72.6,884.3 L73.1,883.7 L73.8,883.1 L74.7,882.5 L75.7,881.9 L76.8,881.3 L77.9,880.7 L79.0,880.2 L79.1,879.6 L79.1,879.0 L79.1,878.4Z" fill="#a4d6c4" stroke="#a4d6c4" stroke-width="0.5" fill-opacity="0.85"/>
<rect x="78.5" y="880.9" width="2.2" height="8.0" fill="none" stroke="#777" stroke-width="0.45"/>
<path d="M98.0,862.7 L98.0,863.6 L98.0,864.5 L98.0,865.4 L98.0,866.4 L98.3,867.3 L99.1,868.2 L99.8,869.1 L100.5,870.0 L101.2,870.9 L101.9,871.8 L102.5,872.7 L103.1,873.7 L103.6,874.6 L104.0,875.5 L104.3,876.4 L104.6,877.3 L104.8,878.2 L104.9,879.1 L104.9,880.1 L104.6,881.0 L104.2,881.9 L103.5,882.8 L102.7,883.7 L101.6,884.6 L100.5,885.5 L99.4,886.4 L98.2,887.4 L98.0,888.3 L98.0,889.2 L98.0,890.1 L97.0,890.1 L97.0,889.2 L97.0,888.3 L96.8,887.4 L95.6,886.4 L94.5,885.5 L93.4,884.6 L92.3,883.7 L91.5,882.8 L90.8,881.9 L90.4,881.0 L90.1,880.1 L90.1,879.1 L90.2,878.2 L90.4,877.3 L90.7,876.4 L91.0,875.5 L91.4,874.6 L91.9,873.7 L92.5,872.7 L93.1,871.8 L93.8,870.9 L94.5,870.0 L95.2,869.1 L95.9,868.2 L96.7,867.3 L97.0,866.4 L97.0,865.4 L97.0,864.5 L97.0,863.6 L97.0,862.7Z" fill="#8ee4df" stroke="#8ee4df" stroke-width="0.5" fill-opacity="0.85"/>
<rect x="96.4" y="875.1" width="2.2" height="8.0" fill="none" stroke="#777" stroke-width="0.45"/>
<path d="M115.2,863.3 L115.2,864.2 L115.2,865.2 L115.3,866.1 L116.3,867.0 L117.3,868.0 L118.2,868.9 L119.1,869.8 L119.8,870.8 L120.4,871.7 L120.9,872.6 L121.1,873.6 L121.2,874.5 L121.1,875.4 L121.0,876.4 L120.8,877.3 L120.5,878.2 L120.2,879.2 L119.7,880.1 L119.2,881.0 L118.7,882.0 L118.1,882.9 L117.5,883.8 L116.9,884.8 L116.2,885.7 L115.6,886.6 L115.2,887.6 L115.2,888.5 L115.2,889.4 L115.2,890.4 L115.2,891.3 L114.3,891.3 L114.3,890.4 L114.3,889.4 L114.3,888.5 L114.3,887.6 L114.0,886.6 L113.4,885.7 L112.7,884.8 L112.1,883.8 L111.5,882.9 L110.9,882.0 L110.4,881.0 L109.9,880.1 L109.4,879.2 L109.1,878.2 L108.8,877.3 L108.6,876.4 L108.5,875.4 L108.4,874.5 L108.5,873.6 L108.7,872.6 L109.2,871.7 L109.8,870.8 L110.5,869.8 L111.4,868.9 L112.3,868.0 L113.3,867.0 L114.3,866.1 L114.3,865.2 L114.3,864.2 L114.3,863.3Z" fill="#f8d2cf" stroke="#f8d2cf" stroke-width="0.5" fill-opacity="0.85"/>
<rect x="113.7" y="869.9" width="2.2" height="8.0" fill="none" stroke="#777" stroke-width="0.45"/>
<path d="M133.4,866.8 L133.4,867.8 L133.4,868.7 L133.6,869.7 L134.8,870.7 L135.9,871.7 L137.0,872.6 L138.0,873.6 L138.9,874.6 L139.7,875.6 L140.2,876.5 L140.5,877.5 L140.6,878.5 L140.5,879.5 L140.4,880.4 L140.1,881.4 L139.8,882.4 L139.4,883.3 L138.9,884.3 L138.3,885.3 L137.6,886.3 L137.0,887.2 L136.2,888.2 L135.5,889.2 L134.7,890.2 L133.9,891.1 L133.4,892.1 L133.4,893.1 L133.4,894.1 L133.4,895.0 L133.4,896.0 L132.6,896.0 L132.6,895.0 L132.6,894.1 L132.6,893.1 L132.6,892.1 L132.1,891.1 L131.3,890.2 L130.5,889.2 L129.8,888.2 L129.0,887.2 L128.4,886.3 L127.7,885.3 L127.1,884.3 L126.6,883.3 L126.2,882.4 L125.9,881.4 L125.6,880.4 L125.5,879.5 L125.4,878.5 L125.5,877.5 L125.8,876.5 L126.3,875.6 L127.1,874.6 L128.0,873.6 L129.0,872.6 L130.1,871.7 L131.2,870.7 L132.4,869.7 L132.6,868.7 L132.6,867.8 L132.6,866.8Z" fill="#f4c6ea" stroke="#f4c6ea" stroke-width="0.5" fill-opacity="0.85"/>
<rect x="131.9" y="873.9" width="2.2" height="8.0" fill="none" stroke="#777" stroke-width="0.45"/>
<path d="M151.8,861.5 L151.8,862.1 L151.8,862.7 L151.8,863.3 L151.8,863.9 L152.3,864.5 L153.1,865.1 L153.8,865.7 L154.6,866.3 L155.3,866.9 L155.9,867.5 L156.5,868.1 L157.1,868.7 L157.5,869.3 L157.9,869.9 L158.2,870.5 L158.4,871.2 L158.5,871.8 L158.5,872.4 L158.3,873.0 L157.9,873.6 L157.3,874.2 L156.6,874.8 L155.7,875.4 L154.8,876.0 L153.8,876.6 L152.7,877.2 L151.8,877.8 L151.8,878.4 L151.8,879.0 L151.8,879.6 L150.9,879.6 L150.9,879.0 L150.9,878.4 L150.9,877.8 L149.9,877.2 L148.8,876.6 L147.8,876.0 L146.9,875.4 L146.0,874.8 L145.3,874.2 L144.7,873.6 L144.3,873.0 L144.1,872.4 L144.1,871.8 L144.2,871.2 L144.4,870.5 L144.7,869.9 L145.1,869.3 L145.5,868.7 L146.1,868.1 L146.7,867.5 L147.3,866.9 L148.0,866.3 L148.8,865.7 L149.5,865.1 L150.3,864.5 L150.9,863.9 L150.9,863.3 L150.9,862.7 L150.9,862.1 L150.9,861.5Z" fill="#f0dea2" stroke="#f0dea2" stroke-width="0.5" fill-opacity="0.85"/>
<rect x="150.2" y="867.5" width="2.2" height="8.0" fill="none" stroke="#777" stroke-width="0.45"/>
<path d="M169.6,867.9 L169.6,868.8 L169.6,869.7 L169.8,870.6 L170.9,871.6 L172.0,872.5 L173.0,873.4 L174.0,874.3 L174.8,875.2 L175.5,876.1 L176.0,877.1 L176.3,878.0 L176.4,878.9 L176.3,879.8 L176.2,880.7 L176.0,881.6 L175.6,882.6 L175.2,883.5 L174.7,884.4 L174.2,885.3 L173.6,886.2 L172.9,887.1 L172.2,888.1 L171.5,889.0 L170.8,889.9 L170.1,890.8 L169.6,891.7 L169.6,892.6 L169.6,893.6 L169.6,894.5 L169.6,895.4 L168.8,895.4 L168.8,894.5 L168.8,893.6 L168.8,892.6 L168.8,891.7 L168.3,890.8 L167.6,889.9 L166.9,889.0 L166.2,888.1 L165.5,887.1 L164.8,886.2 L164.2,885.3 L163.7,884.4 L163.2,883.5 L162.8,882.6 L162.4,881.6 L162.2,880.7 L162.1,879.8 L162.0,878.9 L162.1,878.0 L162.4,877.1 L162.9,876.1 L163.6,875.2 L164.4,874.3 L165.4,873.4 L166.4,872.5 L167.5,871.6 L168.6,870.6 L168.8,869.7 L168.8,868.8 L168.8,867.9Z" fill="#f0d6ae" stroke="#f0d6ae" stroke-width="0.5" fill-opacity="0.85"/>
<rect x="168.1" y="874.3" width="2.2" height="8.0" fill="none" stroke="#777" stroke-width="0.45"/>
<rect x="41.0" y="906.9" width="133.0" height="1.0" fill="#f6d8d8"/>
<polygon points="41.0,907.9 41.0,907.8 41.7,907.8 42.4,907.8 43.1,907.7 43.8,907.7 44.5,907.6 45.2,907.5 45.9,907.3 46.6,907.1 47.2,906.9 47.9,906.8 48.6,906.8 49.3,906.9 50.0,907.0 50.7,907.2 51.4,907.4 52.1,907.5 52.8,907.7 53.5,907.7 54.2,907.8 54.9,907.8 55.6,907.8 56.3,907.8 57.0,907.8 57.7,907.8 58.4,907.8 59.1,907.7 59.8,907.7 60.4,907.6 61.1,907.6 61.8,907.4 62.5,907.3 63.2,907.2 63.9,907.0 64.6,906.9 65.3,906.8 66.0,906.7 66.7,906.6 67.4,906.3 68.1,905.6 68.8,904.9 69.5,904.5 70.2,904.9 70.9,905.8 71.6,906.8 72.2,907.4 72.9,907.6 73.6,907.7 74.3,907.8 75.0,907.8 75.7,907.8 76.4,907.8 77.1,907.8 77.8,907.8 78.5,907.8 79.2,907.8 79.9,907.8 80.6,907.8 81.3,907.8 82.0,907.8 82.7,907.8 83.4,907.8 84.1,907.8 84.8,907.8 85.4,907.8 86.1,907.8 86.8,907.8 87.5,907.8 88.2,907.8 88.9,907.8 89.6,907.8 90.3,907.8 91.0,907.8 91.7,907.8 92.4,907.8 93.1,907.8 93.8,907.8 94.5,907.8 95.2,907.8 95.9,907.8 96.6,907.8 97.2,907.8 97.9,907.8 98.6,907.8 99.3,907.8 100.0,907.8 100.7,907.8 101.4,907.8 102.1,907.8 102.8,907.8 103.5,907.8 104.2,907.8 104.9,907.7 105.6,907.7 106.3,907.7 107.0,907.6 107.7,907.5 108.4,907.4 109.1,907.3 109.8,907.2 110.4,907.1 111.1,907.0 111.8,907.0 112.5,907.0 113.2,907.1 113.9,907.1 114.6,907.3 115.3,907.4 116.0,907.5 116.7,907.6 117.4,907.6 118.1,907.7 118.8,907.7 119.5,907.8 120.2,907.8 120.9,907.8 121.6,907.8 122.2,907.8 122.9,907.8 123.6,907.7 124.3,907.7 125.0,907.6 125.7,907.5 126.4,907.3 127.1,907.1 127.8,906.9 128.5,906.8 129.2,906.7 129.9,906.8 130.6,906.9 131.3,907.1 132.0,907.2 132.7,907.3 133.4,907.3 134.1,907.2 134.8,907.1 135.4,907.0 136.1,906.9 136.8,906.8 137.5,906.7 138.2,906.6 138.9,906.5 139.6,906.5 140.3,906.5 141.0,906.5 141.7,906.5 142.4,906.6 143.1,906.6 143.8,906.7 144.5,906.7 145.2,906.7 145.9,906.7 146.6,906.6 147.2,906.6 147.9,906.5 148.6,906.5 149.3,906.5 150.0,906.5 150.7,906.5 151.4,906.6 152.1,906.7 152.8,906.7 153.5,906.7 154.2,906.6 154.9,906.5 155.6,906.5 156.3,906.5 157.0,906.7 157.7,907.0 158.4,907.3 159.1,907.5 159.8,907.6 160.4,907.7 161.1,907.8 161.8,907.8 162.5,907.8 163.2,907.8 163.9,907.8 164.6,907.8 165.3,907.8 166.0,907.8 166.0,907.9" fill="#d24a4a"/>
<rect x="38.6" y="920.0" width="135.4" height="1.0" fill="#f6d8d8"/>
<polygon points="38.6,921.0 38.6,920.9 39.3,920.9 40.0,920.8 40.7,920.8 41.4,920.8 42.1,920.7 42.8,920.6 43.6,920.5 44.3,920.4 45.0,920.3 45.7,920.1 46.4,920.0 47.1,919.8 47.8,919.7 48.5,919.3 49.2,918.5 49.9,917.2 50.6,916.0 51.3,916.1 52.0,917.4 52.8,919.0 53.5,920.0 54.2,920.4 54.9,920.6 55.6,920.7 56.3,920.7 57.0,920.8 57.7,920.8 58.4,920.8 59.1,920.9 59.8,920.9 60.5,920.9 61.2,920.9 62.0,920.9 62.7,920.9 63.4,920.9 64.1,920.9 64.8,920.9 65.5,920.8 66.2,920.8 66.9,920.7 67.6,920.3 68.3,919.6 69.0,918.6 69.7,917.9 70.5,918.0 71.2,918.7 71.9,919.6 72.6,920.1 73.3,920.3 74.0,920.3 74.7,920.2 75.4,920.2 76.1,920.1 76.8,920.0 77.5,920.0 78.2,919.9 78.9,919.9 79.7,919.9 80.4,919.9 81.1,919.9 81.8,919.9 82.5,920.0 83.2,920.0 83.9,920.1 84.6,920.2 85.3,920.2 86.0,920.3 86.7,920.4 87.4,920.5 88.1,920.5 88.9,920.6 89.6,920.6 90.3,920.7 91.0,920.7 91.7,920.8 92.4,920.8 93.1,920.8 93.8,920.8 94.5,920.8 95.2,920.9 95.9,920.9 96.6,920.9 97.3,920.9 98.1,920.8 98.8,920.8 99.5,920.8 100.2,920.7 100.9,920.6 101.6,920.4 102.3,920.2 103.0,920.0 103.7,919.8 104.4,919.6 105.1,919.4 105.8,919.3 106.5,918.8 107.3,917.0 108.0,913.8 108.7,911.5 109.4,913.0 110.1,916.7 110.8,919.4 111.5,920.4 112.2,920.7 112.9,920.8 113.6,920.8 114.3,920.9 115.0,920.9 115.7,920.9 116.5,920.9 117.2,920.9 117.9,920.9 118.6,920.9 119.3,920.9 120.0,920.9 120.7,920.9 121.4,920.8 122.1,920.8 122.8,920.7 123.5,920.5 124.2,920.3 124.9,920.1 125.7,919.8 126.4,919.6 127.1,919.6 127.8,919.6 128.5,919.8 129.2,920.0 129.9,920.3 130.6,920.4 131.3,920.5 132.0,920.5 132.7,920.5 133.4,920.4 134.2,920.3 134.9,920.1 135.6,919.9 136.3,919.8 137.0,919.6 137.7,919.4 138.4,919.2 139.1,919.0 139.8,918.9 140.5,918.8 141.2,918.7 141.9,918.7 142.6,918.7 143.4,918.8 144.1,918.9 144.8,919.0 145.5,919.2 146.2,919.3 146.9,919.5 147.6,919.7 148.3,919.9 149.0,920.1 149.7,920.2 150.4,920.4 151.1,920.5 151.8,920.6 152.6,920.6 153.3,920.2 154.0,919.2 154.7,918.0 155.4,918.1 156.1,919.4 156.8,920.4 157.5,920.8 158.2,920.9 158.9,920.9 159.6,920.9 160.3,920.9 161.0,920.9 161.8,920.9 162.5,920.9 163.2,920.9 163.9,920.9 164.6,920.9 165.3,920.9 166.0,920.9 166.0,921.0" fill="#d24a4a"/>
<rect x="36.5" y="935.0" width="137.5" height="1.0" fill="#f6d8d8"/>
<polygon points="36.5,936.0 36.5,935.9 37.2,935.9 37.9,935.9 38.7,935.9 39.4,935.8 40.1,935.8 40.8,935.8 41.5,935.7 42.3,935.5 43.0,935.3 43.7,934.7 44.4,933.3 45.1,930.8 45.9,927.1 46.6,923.3 47.3,921.2 48.0,921.8 48.7,924.3 49.5,927.1 50.2,929.0 50.9,930.1 51.6,930.8 52.3,931.4 53.0,932.0 53.8,932.6 54.5,933.1 55.2,933.5 55.9,933.9 56.6,934.1 57.4,934.2 58.1,934.2 58.8,934.2 59.5,934.2 60.2,934.1 61.0,934.1 61.7,934.0 62.4,934.0 63.1,933.9 63.8,933.9 64.6,933.9 65.3,933.9 66.0,933.9 66.7,933.9 67.4,933.9 68.2,933.9 68.9,933.9 69.6,933.5 70.3,932.7 71.0,931.6 71.8,930.8 72.5,931.0 73.2,932.2 73.9,933.4 74.6,934.2 75.3,934.6 76.1,934.7 76.8,934.8 77.5,934.8 78.2,934.9 78.9,934.9 79.7,934.9 80.4,934.9 81.1,934.8 81.8,934.8 82.5,934.8 83.3,934.7 84.0,934.7 84.7,934.6 85.4,934.6 86.1,934.5 86.9,934.5 87.6,934.4 88.3,934.4 89.0,934.3 89.7,934.3 90.5,934.3 91.2,934.3 91.9,934.3 92.6,934.3 93.3,934.3 94.1,934.3 94.8,934.4 95.5,934.4 96.2,934.4 96.9,934.3 97.7,933.7 98.4,932.6 99.1,932.2 99.8,933.1 100.5,934.3 101.2,934.9 102.0,935.0 102.7,935.1 103.4,935.2 104.1,935.3 104.8,935.2 105.6,934.8 106.3,933.7 107.0,933.0 107.7,933.8 108.4,934.9 109.2,935.3 109.9,935.4 110.6,935.4 111.3,935.3 112.0,935.3 112.8,935.2 113.5,935.2 114.2,935.1 114.9,935.1 115.6,935.0 116.4,935.0 117.1,935.0 117.8,935.0 118.5,935.0 119.2,935.0 120.0,935.0 120.7,935.1 121.4,935.1 122.1,935.2 122.8,935.3 123.6,935.3 124.3,935.4 125.0,935.5 125.7,935.5 126.4,935.6 127.2,935.6 127.9,935.7 128.6,935.7 129.3,935.8 130.0,935.8 130.7,935.8 131.5,935.8 132.2,935.8 132.9,935.9 133.6,935.9 134.3,935.9 135.1,935.9 135.8,935.9 136.5,935.9 137.2,935.9 137.9,935.9 138.7,935.9 139.4,935.9 140.1,935.9 140.8,935.9 141.5,935.9 142.3,935.9 143.0,935.9 143.7,935.9 144.4,935.9 145.1,935.9 145.9,935.9 146.6,935.9 147.3,935.9 148.0,935.9 148.7,935.9 149.5,935.9 150.2,935.9 150.9,935.9 151.6,935.9 152.3,935.9 153.1,935.9 153.8,935.9 154.5,935.9 155.2,935.9 155.9,935.9 156.6,935.9 157.4,935.9 158.1,935.9 158.8,935.9 159.5,935.9 160.2,935.9 161.0,935.9 161.7,935.9 162.4,935.9 163.1,935.9 163.8,935.9 164.6,935.9 165.3,935.9 166.0,935.9 166.0,936.0" fill="#d24a4a"/>
<line x1="29.9" y1="945.1" x2="181.3" y2="945.1" stroke="#9a9a9a" stroke-width="0.9"/>
<rect x="39.8" y="941.4" width="3.0" height="7.4" fill="#fde6d0"/>
<rect x="42.8" y="941.4" width="6.4" height="7.4" fill="#f0b040"/>
<rect x="49.2" y="941.4" width="5.5" height="7.4" fill="#fde6d0"/>
<rect x="55.2" y="941.4" width="8.2" height="7.4" fill="#e88080"/>
<rect x="69.1" y="941.4" width="18.6" height="7.4" fill="#3aa0c8"/>
<rect x="87.7" y="941.4" width="15.4" height="7.4" fill="#d0ecf4"/>
<rect x="103.1" y="941.4" width="19.3" height="7.4" fill="#3aa0c8"/>
<rect x="122.4" y="941.4" width="13.7" height="7.4" fill="#d0ecf4"/>
<rect x="136.1" y="941.4" width="11.7" height="7.4" fill="#3aa0c8"/>
<rect x="147.8" y="941.4" width="4.9" height="7.4" fill="#2070c8"/>
<rect x="152.7" y="941.4" width="3.7" height="7.4" fill="#3aa0c8"/>
<rect x="160.2" y="941.4" width="5.7" height="7.4" fill="#d0d0d8"/>
<rect x="165.9" y="941.4" width="4.2" height="7.4" fill="#30a030"/>
<rect x="170.1" y="941.4" width="2.5" height="7.4" fill="#d0d0d8"/>
<rect x="39.8" y="941.4" width="14.9" height="7.4" fill="none" stroke="#9aa" stroke-width="0.4"/>
<rect x="55.2" y="941.4" width="8.2" height="7.4" fill="none" stroke="#9aa" stroke-width="0.4"/>
<rect x="69.1" y="941.4" width="87.3" height="7.4" fill="none" stroke="#9aa" stroke-width="0.4"/>
<rect x="160.2" y="941.4" width="12.4" height="7.4" fill="none" stroke="#9aa" stroke-width="0.4"/>
<text x="64.1" y="960.0" font-size="9.3" textLength="84.9" lengthAdjust="spacingAndGlyphs">ATAC-seq features</text>
<text x="27.4" y="767.1" font-size="9.3" text-anchor="middle" textLength="77.6" lengthAdjust="spacingAndGlyphs" transform="rotate(-90 27.4 767.1)">Gene expression</text>
<text x="27.4" y="832.8" font-size="9.3" text-anchor="middle" textLength="31.2" lengthAdjust="spacingAndGlyphs" transform="rotate(-90 27.4 832.8)">gRNA</text>
<text x="27.4" y="881.0" font-size="9.3" text-anchor="middle" textLength="32.0" lengthAdjust="spacingAndGlyphs" transform="rotate(-90 27.4 881.0)">mtDNA</text>
<text x="225.2" y="11.7" font-size="16" fill="#000" font-weight="bold" stroke="#000" stroke-width="0.55">b</text>
<text x="329.7" y="11.4" font-size="9.3" textLength="250.8" lengthAdjust="spacingAndGlyphs">Candidate modulators of mtDNA CN and heteroplasmy</text>
<line x1="226.0" y1="14.4" x2="683.8" y2="14.4" stroke="#333" stroke-width="1.1"/>
<text x="303.5" y="28.8" font-size="9.3" text-anchor="middle" textLength="32.2" lengthAdjust="spacingAndGlyphs">mtDNA</text>
<text x="303.4" y="40.5" font-size="9.3" text-anchor="middle" textLength="59.2" lengthAdjust="spacingAndGlyphs">maintenance</text>
<text x="436.0" y="29.2" font-size="9.3" text-anchor="middle" textLength="63.4" lengthAdjust="spacingAndGlyphs">Mitochondrial</text>
<text x="436.0" y="40.6" font-size="9.3" text-anchor="middle" textLength="104.4" lengthAdjust="spacingAndGlyphs">membrane remodeling</text>
<text x="582.2" y="29.2" font-size="9.3" text-anchor="middle" textLength="63.2" lengthAdjust="spacingAndGlyphs">Mitochondrial</text>
<text x="582.6" y="40.6" font-size="9.3" text-anchor="middle" textLength="102.0" lengthAdjust="spacingAndGlyphs">biogenesis/mitophagy</text>
<polygon points="279.6,64.7 280.2,64.0 281.0,63.3 281.8,62.7 282.7,62.1 283.5,61.4 284.2,60.7 284.7,59.9 285.1,59.1 285.4,58.1 285.5,57.2 285.6,56.2 285.6,55.1 285.6,53.9 285.7,52.6 285.8,51.3 286.1,50.0 286.4,48.7 286.8,47.5 287.4,46.5 288.2,45.6 289.0,44.8 290.0,44.2 291.0,43.9 292.1,43.7 293.3,43.7 294.5,43.8 295.7,44.1 296.8,44.6 297.8,45.1 298.7,45.7 299.6,46.3 300.3,46.9 301.0,47.5 301.6,48.1 302.3,48.6 302.9,49.0 303.6,49.3 304.4,49.6 305.2,49.7 306.0,49.7 306.8,49.7 307.7,49.5 308.6,49.3 309.5,49.0 310.5,48.8 311.5,48.5 312.6,48.3 313.7,48.2 314.8,48.1 315.8,48.2 316.9,48.3 317.9,48.6 318.8,49.0 319.7,49.6 320.4,50.2 321.0,51.0 321.5,51.8 321.8,52.7 322.1,53.7 322.2,54.7 322.3,55.7 322.3,56.8 322.2,57.9 322.0,58.9 321.9,59.9 321.7,60.9 321.6,61.8 321.4,62.7 321.4,63.4 321.3,64.1 321.3,64.7 321.4,65.3 321.5,65.9 321.8,66.5 322.0,67.0 322.4,67.5 322.7,68.1 323.2,68.6 323.6,69.2 324.1,69.9 324.5,70.5 325.0,71.3 325.4,72.0 325.7,72.9 326.1,73.7 326.3,74.6 326.4,75.5 326.5,76.5 326.4,77.4 326.2,78.3 325.9,79.2 325.5,80.0 325.0,80.7 324.3,81.4 323.5,81.9 322.7,82.4 321.8,82.7 320.8,82.9 319.7,83.1 318.7,83.1 317.6,83.0 316.5,82.8 315.4,82.6 314.3,82.4 313.3,82.2 312.4,82.0 311.5,81.8 310.7,81.8 310.0,81.8 309.4,81.8 308.8,82.0 308.2,82.3 307.5,82.6 306.9,83.0 306.1,83.5 305.4,83.9 304.5,84.4 303.7,84.9 302.7,85.3 301.7,85.7 300.7,86.0 299.6,86.1 298.5,86.1 297.4,86.0 296.4,85.7 295.5,85.4 294.7,84.9 294.0,84.4 293.5,83.8 293.0,83.1 292.5,82.3 292.1,81.5 291.8,80.6 291.6,79.7 291.4,78.8 291.3,77.8 291.2,76.9 291.1,76.0 290.9,75.1 290.8,74.2 290.6,73.3 290.4,72.5 290.1,71.8 289.8,71.1 289.5,70.5 289.1,70.0 288.6,69.5 288.1,69.0 287.6,68.7 286.8,68.2 285.9,67.8 285.0,67.5 284.0,67.4 283.0,67.4 282.0,67.3 281.0,67.2 280.0,67.0 279.0,66.5 278.1,65.8" fill="none" stroke="#1c2a80" stroke-width="1.35"/>
<polygon points="279.6,64.7 279.0,63.8 278.4,62.8 278.0,61.5 277.7,60.2 277.7,58.9 277.8,57.7 278.2,56.5 278.8,55.4 279.6,54.5 280.5,53.8 281.5,53.2 282.7,52.7 283.9,52.4 285.2,52.1 286.5,52.0 287.8,51.9 288.9,51.8 290.0,51.7 291.0,51.6 291.8,51.4 292.6,51.2 293.3,50.8 294.0,50.3 294.6,49.7 295.2,49.0 295.8,48.2 296.5,47.3 297.1,46.4 297.9,45.6 298.7,44.7 299.5,44.0 300.5,43.4 301.5,42.9 302.6,42.5 303.6,42.3 304.6,42.2 305.5,42.3 306.4,42.5 307.2,42.8 308.0,43.3 308.8,43.8 309.5,44.5 310.2,45.3 310.8,46.2 311.3,47.1 311.8,48.1 312.2,49.1 312.5,50.0 312.9,50.9 313.2,51.8 313.4,52.6 313.8,53.4 314.1,54.1 314.5,54.8 315.0,55.3 315.6,55.8 316.3,56.3 317.1,56.7 317.9,57.0 318.8,57.3 319.7,57.6 320.7,57.9 321.7,58.2 322.7,58.5 323.7,58.9 324.7,59.4 325.6,59.9 326.4,60.5 327.1,61.2 327.7,61.9 328.2,62.7 328.5,63.5 328.7,64.3 328.9,65.2 328.8,66.1 328.7,66.9 328.4,67.8 328.1,68.6 327.7,69.4 327.1,70.1 326.5,70.8 325.9,71.4 325.2,72.0 324.6,72.5 323.9,73.0 323.2,73.4 322.5,73.7 321.9,74.1 321.3,74.4 320.8,74.7 320.3,75.0 319.8,75.4 319.4,75.8 319.0,76.3 318.7,76.9 318.4,77.6 318.1,78.3 317.9,79.1 317.6,80.0 317.3,80.9 317.0,81.9 316.6,83.0 316.2,84.0 315.6,85.1 315.0,86.1 314.3,87.0 313.5,87.8 312.6,88.4 311.6,88.9 310.6,89.2 309.6,89.2 308.6,89.2 307.6,88.9 306.6,88.6 305.7,88.0 304.9,87.4 304.1,86.7 303.4,85.9 302.8,85.1 302.3,84.3 301.8,83.5 301.5,82.6 301.1,81.8 300.7,81.1 300.3,80.3 299.8,79.7 299.2,79.1 298.5,78.6 297.8,78.2 297.0,77.9 296.3,77.7 295.5,77.6 294.6,77.5 293.7,77.4 292.8,77.3 291.9,77.2 290.9,77.1 290.0,77.0 289.1,77.0 288.2,76.8 287.4,76.7 286.6,76.5 285.8,76.2 285.1,75.9 284.4,75.6 283.9,75.1 283.3,74.6 282.8,74.1 282.4,73.4 282.2,72.8 282.0,72.1 281.8,71.3 281.5,70.4 281.2,69.4 281.0,68.4 280.9,67.4 280.9,66.4 281.1,65.6 281.4,65.1" fill="none" stroke="#1c2a80" stroke-width="1.35"/>
<path d="M281.7 62.0L278.1 62.2M283.9 59.9L278.0 58.4M285.3 57.4L279.7 55.3M285.8 54.5L282.5 53.3M287.6 47.5L289.3 51.8M289.8 45.0L291.8 51.0M292.9 43.9L293.9 49.5M296.3 44.2L295.8 47.2M301.6 47.2L300.9 43.1M303.6 48.6L303.9 42.6M305.9 49.4L306.5 43.2M308.4 49.3L308.8 44.7M317.1 49.0L313.2 51.9M319.7 50.4L314.5 54.0M321.5 52.6L316.3 55.5M322.3 55.4L318.7 56.6M322.2 61.3L324.2 59.0M322.0 63.8L326.5 60.8M322.1 65.8L327.8 63.0M322.6 67.5L328.2 65.5M323.5 69.2L327.7 68.0M325.9 76.0L323.1 73.3M325.5 78.5L321.5 74.5M324.1 80.8L320.2 75.8M321.9 82.4L319.2 77.5M319.1 83.2L318.3 79.9M312.9 82.7L315.4 85.6M310.3 82.4L313.0 87.8M308.3 82.6L310.1 88.6M306.2 83.4L307.3 88.2M298.1 85.5L301.4 82.5M295.3 84.6L299.9 80.5M293.3 83.0L297.9 79.0M291.9 80.8L295.7 78.3M289.9 73.2L288.0 76.8M289.0 71.1L285.9 76.0M287.8 69.4L284.1 74.7M286.0 68.1L283.0 72.9M283.4 67.3L282.2 70.6M278.2 65.1L281.3 65.7" fill="none" stroke="#1c2a80" stroke-width="0.55"/>
<defs><radialGradient id="rb" cx="0.4" cy="0.35" r="0.7"><stop offset="0" stop-color="#e58080"/><stop offset="1" stop-color="#cc4d4d"/></radialGradient><radialGradient id="pb" cx="0.45" cy="0.35" r="0.7"><stop offset="0" stop-color="#b8aee6"/><stop offset="1" stop-color="#8f80cc"/></radialGradient></defs>
<circle cx="278.7" cy="67.8" r="5.8" fill="url(#rb)"/>
<circle cx="312.7" cy="86.0" r="9.5" fill="url(#pb)"/>
<rect x="286.9" y="97.2" width="32.5" height="12.4" fill="#b97a7a" stroke="#6a6a6a" stroke-width="0.6"/>
<text x="303.1" y="106.8" font-size="8.4" text-anchor="middle" fill="#222" font-style="italic">Akap1</text>
<rect x="293.6" y="110.5" width="19.1" height="11.2" fill="#f9c496" stroke="#6a6a6a" stroke-width="0.6"/>
<text x="303.1" y="118.9" font-size="8.4" text-anchor="middle" fill="#222" font-style="italic">Nnt</text>
<rect x="291.9" y="123.0" width="21.9" height="11.8" fill="#94d894" stroke="#6a6a6a" stroke-width="0.6"/>
<text x="302.9" y="132.0" font-size="8.4" text-anchor="middle" fill="#222" font-style="italic">Polg</text>
<rect x="291.4" y="135.6" width="23.3" height="11.5" fill="#f28aa8" stroke="#6a6a6a" stroke-width="0.6"/>
<text x="303.0" y="144.3" font-size="8.4" text-anchor="middle" fill="#222" font-style="italic">Tfam</text>
<rect x="422.1" y="97.0" width="27.2" height="12.0" fill="#faf29c" stroke="#6a6a6a" stroke-width="0.6"/>
<text x="435.7" y="106.2" font-size="8.4" text-anchor="middle" fill="#222" font-style="italic">Dnm1l</text>
<rect x="422.7" y="110.5" width="25.6" height="11.2" fill="#f484ec" stroke="#6a6a6a" stroke-width="0.6"/>
<text x="435.5" y="118.9" font-size="8.4" text-anchor="middle" fill="#222" font-style="italic">Mtfp1</text>
<rect x="423.3" y="123.2" width="24.1" height="11.4" fill="#a4acf0" stroke="#6a6a6a" stroke-width="0.6"/>
<text x="435.4" y="131.8" font-size="8.4" text-anchor="middle" fill="#222" font-style="italic">Opa1</text>
<rect x="424.0" y="136.1" width="23.4" height="11.2" fill="#c4c484" stroke="#6a6a6a" stroke-width="0.6"/>
<text x="435.7" y="144.5" font-size="8.4" text-anchor="middle" fill="#222" font-style="italic">Snx9</text>
<rect x="570.2" y="88.1" width="23.1" height="11.4" fill="#7c7cc4" stroke="#6a6a6a" stroke-width="0.6"/>
<text x="581.8" y="96.7" font-size="8.4" text-anchor="middle" fill="#222" font-style="italic">Atg5</text>
<rect x="568.7" y="100.8" width="26.5" height="11.4" fill="#c488e4" stroke="#6a6a6a" stroke-width="0.6"/>
<text x="582.0" y="109.4" font-size="8.4" text-anchor="middle" fill="#222" font-style="italic">Oma1</text>
<rect x="570.0" y="113.3" width="23.7" height="11.4" fill="#eafaa4" stroke="#6a6a6a" stroke-width="0.6"/>
<text x="581.9" y="121.9" font-size="8.4" text-anchor="middle" fill="#222" font-style="italic">Pink1</text>
<rect x="561.4" y="126.0" width="40.8" height="11.4" fill="#cbab8c" stroke="#6a6a6a" stroke-width="0.6"/>
<text x="581.8" y="134.6" font-size="8.4" text-anchor="middle" fill="#222" font-style="italic">Ppargc1a</text>
<rect x="570.2" y="138.7" width="23.1" height="10.7" fill="#a4eafa" stroke="#6a6a6a" stroke-width="0.6"/>
<text x="581.8" y="146.6" font-size="8.4" text-anchor="middle" fill="#222" font-style="italic">Prkn</text>
<g transform="translate(415.8 66.2) rotate(-13)"><ellipse rx="21.0" ry="11.4" fill="#c8907e" stroke="#8c5a4c" stroke-width="0.7"/><ellipse rx="17.8" ry="8.8" fill="#f2ddd5"/><path d="M-15.5 -4.8V-0.8M-12.9 6.6V0.5M-10.3 -7.7V-1.0M-7.7 8.4V0.5M-5.1 -8.9V-0.5M-2.5 9.2V2.0M0.1 -9.3V-2.2M2.7 9.2V-0.0M5.3 -8.9V-1.4M7.9 8.4V1.4M10.5 -7.6V0.3M13.1 6.5V0.6M15.7 -4.6V0.0" stroke="#c8907e" stroke-width="1.5" stroke-linecap="round"/></g>
<g transform="translate(457.0 64.4) rotate(11)"><ellipse rx="20.8" ry="11.0" fill="#c8907e" stroke="#8c5a4c" stroke-width="0.7"/><ellipse rx="17.6" ry="8.4" fill="#f2ddd5"/><path d="M-15.3 -4.7V-0.7M-12.7 6.3V1.3M-10.1 -7.4V-0.9M-7.5 8.1V1.5M-4.9 -8.6V-1.9M-2.3 8.8V1.1M0.3 -8.9V0.2M2.9 8.8V0.1M5.5 -8.5V-0.2M8.1 8.0V1.4M10.7 -7.2V-0.6M13.3 6.0V0.9M15.9 -4.1V-0.7" stroke="#c8907e" stroke-width="1.5" stroke-linecap="round"/></g>
<path d="M433.8,57 C435.5,55 438.5,55 440.5,57 L440.5,69 C438.5,71 435.5,71 433.8,69 Z" fill="#2aa0d8"/>
<path d="M586,57.5 C580,59.5 575,57 569,55.5 C561,52 549.5,55 547.5,63.5 C545.5,72 551,79.5 560,79.5 C566,79.5 570,76 575,74.5 C579,73.5 583,74.5 586,75 Z" fill="#fbeaea" stroke="#e6a8a8" stroke-width="0.8"/>
<circle cx="600.2" cy="66.2" r="17.0" fill="#f5f7fc" stroke="#b7c5e6" stroke-width="0.8"/>
<circle cx="600.2" cy="66.2" r="13.6" fill="none" stroke="#cfd8ee" stroke-width="0.6"/>
<path d="M586.5,58.2 C584,60 583.5,72 586.5,74.3" fill="none" stroke="#fbeaea" stroke-width="1.4"/>
<path d="M556.6 59.8A2.4 2.4 0 1 1 559.5 62.1L559.0 59.8Z" fill="#c8383a" transform="rotate(30 559 59.8)"/>
<path d="M563.7 60.6A2.1 2.1 0 1 1 566.2 62.6L565.8 60.6Z" fill="#c8383a" transform="rotate(200 565.8 60.6)"/>
<path d="M553.2 70.2A2.4 2.4 0 1 1 556.1 72.5L555.6 70.2Z" fill="#c8383a" transform="rotate(120 555.6 70.2)"/>
<path d="M563.6 72.0A2.2 2.2 0 1 1 566.2 74.1L565.8 72.0Z" fill="#c8383a" transform="rotate(300 565.8 72)"/>
<path d="M571.9 62.2A1.9 1.9 0 1 1 574.2 64.0L573.8 62.2Z" fill="#c8383a" transform="rotate(90 573.8 62.2)"/>
<circle cx="551.6" cy="64.5" r="1.2" fill="#e58a8a"/>
<circle cx="562.8" cy="66.2" r="1.1" fill="#e58a8a"/>
<circle cx="570.6" cy="68.4" r="1.2" fill="#e58a8a"/>
<circle cx="576.2" cy="70.2" r="1.1" fill="#e58a8a"/>
<circle cx="576.0" cy="64.8" r="1.3" fill="#e58a8a"/>
<circle cx="556.6" cy="76.0" r="0.9" fill="#e58a8a"/>
<ellipse cx="596" cy="60" rx="4.2" ry="1.7" fill="#e9b6aa" transform="rotate(-35 596 60)"/>
<ellipse cx="607" cy="63.5" rx="4.2" ry="1.7" fill="#e9b6aa" transform="rotate(65 607 63.5)"/>
<ellipse cx="597.5" cy="73.5" rx="4.4" ry="1.8" fill="#e9b6aa" transform="rotate(8 597.5 73.5)"/>
<text x="331.4" y="168.2" font-size="9.3" textLength="250.0" lengthAdjust="spacingAndGlyphs">MitoPerturb-Seq UMAP following cell-cycle correction</text>
<line x1="226.3" y1="171.7" x2="683.8" y2="171.7" stroke="#444" stroke-width="0.9"/>
<text x="224.8" y="186.6" font-size="16" fill="#000" font-weight="bold" stroke="#000" stroke-width="0.55">c</text>
<path d="M261.5 181.2V290.4H373.8" fill="none" stroke="#6a6a6a" stroke-width="1.1"/>
<line x1="257.9" y1="290.4" x2="261.5" y2="290.4" stroke="#6a6a6a" stroke-width="1.0"/>
<line x1="257.9" y1="183.2" x2="261.5" y2="183.2" stroke="#6a6a6a" stroke-width="0.9"/>
<text x="254.2" y="186.5" font-size="9.3" text-anchor="end">5.0</text>
<line x1="257.9" y1="209.9" x2="261.5" y2="209.9" stroke="#6a6a6a" stroke-width="0.9"/>
<text x="254.2" y="213.2" font-size="9.3" text-anchor="end">2.5</text>
<line x1="257.9" y1="236.6" x2="261.5" y2="236.6" stroke="#6a6a6a" stroke-width="0.9"/>
<text x="254.2" y="239.9" font-size="9.3" text-anchor="end">0</text>
<line x1="257.9" y1="263.3" x2="261.5" y2="263.3" stroke="#6a6a6a" stroke-width="0.9"/>
<text x="254.2" y="266.6" font-size="9.3" text-anchor="end">-2.5</text>
<line x1="257.9" y1="290.0" x2="261.5" y2="290.0" stroke="#6a6a6a" stroke-width="0.9"/>
<text x="254.2" y="293.3" font-size="9.3" text-anchor="end">-5.0</text>
<line x1="266.2" y1="290.3" x2="266.2" y2="293.8" stroke="#6a6a6a" stroke-width="0.8"/>
<text x="266.2" y="303.9" font-size="9.3" text-anchor="middle">-6</text>
<line x1="291.4" y1="290.3" x2="291.4" y2="293.8" stroke="#6a6a6a" stroke-width="0.8"/>
<text x="291.4" y="303.9" font-size="9.3" text-anchor="middle">-3</text>
<line x1="316.6" y1="290.3" x2="316.6" y2="293.8" stroke="#6a6a6a" stroke-width="0.8"/>
<text x="316.6" y="303.9" font-size="9.3" text-anchor="middle">0</text>
<line x1="341.8" y1="290.3" x2="341.8" y2="293.8" stroke="#6a6a6a" stroke-width="0.8"/>
<text x="341.8" y="303.9" font-size="9.3" text-anchor="middle">3</text>
<line x1="367.0" y1="290.3" x2="367.0" y2="293.8" stroke="#6a6a6a" stroke-width="0.8"/>
<text x="367.0" y="303.9" font-size="9.3" text-anchor="middle">6</text>
<text x="264.2" y="183.5" font-size="9.6" textLength="39.3" lengthAdjust="spacingAndGlyphs">RNA-seq</text>
<text x="317.7" y="318.5" font-size="9.6" text-anchor="middle" textLength="53.8" lengthAdjust="spacingAndGlyphs">UMAP Dim 1</text>
<text x="233.6" y="234.2" font-size="9.4" text-anchor="middle" textLength="56.0" lengthAdjust="spacingAndGlyphs" transform="rotate(-90 233.6 234.2)">UMAP Dim 2</text>
<g transform="scale(0.333333)"><path d="M1005 553h4m1 7h4m-17 3h4m3 4h4m6 5h4m-4 4h4m10 3h4m-6 2h4m-5 1h4m9 3h4m3 1h4m-9 6h4m-2 0h4m-12 4h4m-57 12h4m-19 1h4m35 1h4m-63 3h4m10 1h4m13 2h4m5 0h4m75 1h4m-126 2h4m75 0h4m-105 2h4m7 0h4m63 0h4m26 0h4m-107 1h4m-3 0h4m114 0h4m38 0h4m-158 1h4m11 0h4m-17 1h4m28 0h4m108 0h4m-142 1h4m151 0h4m-99 1h4m39 1h4m3 0h4m25 1h4m2 0h4m-184 1h4m95 0h4m-3 0h4m-80 1h4m12 0h4m108 0h4m0 0h4m-110 1h4m7 0h4m46 0h4m47 0h4m-125 1h4m51 0h4m71 0h4m-14 1h4m31 0h4m-163 1h4m104 0h4m-175 1h4m30 1h4m73 0h4m49 0h4m22 0h4m21 0h4m-216 2h4m18 0h4m-34 1h4m48 0h4m41 0h4m81 0h4m-183 2h4m35 0h4m29 0h4m-3 1h4m89 0h4m-126 1h4m139 0h4m9 0h4m-196 1h4m-16 2h4m143 0h4m41 0h4m25 0h4m-206 1h4m57 0h4m29 0h4m70 0h4m2 0h4m-64 1h4m-71 1h4m54 0h4m-130 1h4m34 0h4m125 0h4m-184 1h4m44 0h4m40 0h4m92 0h4m-129 1h4m164 0h4m-227 1h4m4 0h4m200 0h4m0 0h4m-135 1h4m-54 1h4m136 0h4m-55 3h4m16 0h4m43 0h4m-3 0h4m-206 1h4m-3 0h4m-8 1h4m24 0h4m16 0h4m9 0h4m-3 0h4m128 0h4m-2 0h4m-179 1h4m133 0h4m28 0h4m-89 1h4m-48 1h4m6 0h4m121 0h4m-194 1h4m185 0h4m-157 1h4m108 0h4m-124 1h4m1 0h4m46 0h4m31 0h4m-72 1h4m1 0h4m104 0h4m-135 1h4m98 0h4m-90 1h4m146 0h4m-200 2h4m120 0h4m61 0h4m31 0h4m-210 1h4m18 1h4m32 0h4m91 0h4m-120 1h4m24 0h4m21 0h4m-81 1h4m77 0h4m-100 1h4m3 0h4m169 0h4m-154 1h4m29 0h4m3 0h4m42 0h4m39 1h4m9 0h4m-232 1h4m128 0h4m-57 2h4m137 0h4m19 0h4m-207 1h4m9 0h4m0 0h4m14 0h4m158 0h4m-205 1h4m-1 0h4m75 0h4m-43 1h4m16 0h4m15 0h4m71 0h4m-170 2h4m23 0h4m53 0h4m-2 0h4m-109 1h4m61 1h4m62 0h4m68 0h4m-160 1h4m28 0h4m106 0h4m-107 1h4m12 0h4m48 0h4m-68 1h4m2 0h4m-118 1h4m38 0h4m63 0h4m41 0h4m-167 1h4m26 0h4m138 0h4m-158 1h4m57 0h4m-22 1h4m31 0h4m98 0h4m-149 1h4m2 0h4m-3 0h4m82 2h4m23 0h4m74 0h4m-189 1h4m115 0h4m64 0h4m-181 1h4m41 0h4m1 0h4m1 0h4m-87 1h4m33 0h4m10 0h4m33 0h4m-140 1h4m21 0h4m44 0h4m19 0h4m142 0h4m-237 1h4m70 0h4m6 0h4m79 0h4m-140 1h4m137 0h4m45 0h4m-137 1h4m130 0h4m18 0h4m-251 1h4m39 0h4m196 0h4m-222 1h4m25 0h4m46 0h4m37 0h4m54 0h4m40 0h4m-247 1h4m31 0h4m84 0h4m118 0h4m-211 1h4m19 0h4m4 0h4m8 0h4m50 0h4m-116 1h4m-32 1h4m93 0h4m17 0h4m0 0h4m22 0h4m6 0h4m23 0h4m26 0h4m15 0h4m-216 1h4m-29 1h4m28 0h4m22 0h4m35 0h4m-18 1h4m5 0h4m-52 1h4m38 0h4m-3 0h4m27 0h4m55 0h4m-155 1h4m65 0h4m-29 1h4m84 0h4m-126 1h4m12 0h4m2 0h4m91 0h4m-152 1h4m51 0h4m40 1h4m39 0h4m11 0h4m6 0h4m11 0h4m5 0h4m-149 1h4m64 0h4m9 0h4m-53 1h4m0 2h4m14 0h4m97 0h4m-59 1h4m-89 1h4m152 0h4m-118 1h4m-30 1h4m10 0h4m-102 1h4m86 0h4m120 0h4m-18 1h4m-169 1h4m-3 0h4m47 0h4m33 0h4m32 0h4m-153 1h4m11 0h4m23 0h4m21 0h4m48 0h4m104 0h4m-129 1h4m26 0h4m16 0h4m27 0h4m-166 1h4m15 0h4m103 0h4m23 0h4m-139 1h4m6 0h4m145 0h4m-198 1h4m33 0h4m7 0h4m75 0h4m17 0h4m-113 1h4m-51 1h4m103 0h4m101 0h4m-212 1h4m-1 0h4m73 0h4m72 0h4m73 0h4m-243 1h4m68 0h4m9 0h4m14 0h4m12 0h4m41 0h4m7 0h4m36 1h4m19 0h4m-204 2h4m53 0h4m65 0h4m26 0h4m-182 1h4m172 0h4m-154 1h4m9 0h4m55 0h4m-100 1h4m12 0h4m-3 0h4m6 0h4m107 0h4m-40 1h4m97 0h4m-3 0h4m5 0h4m-197 1h4m52 0h4m105 0h4m-190 1h4m4 0h4m60 0h4m-25 1h4m144 0h4m-177 1h4m130 0h4m43 0h4m-121 1h4m66 0h4m39 0h4m-163 1h4m106 0h4m58 0h4m-200 1h4m184 1h4m3 0h4m-147 1h4m-2 0h4m122 0h4m-187 1h4m140 0h4m-154 1h4m131 0h4m-32 1h4m9 0h4m54 0h4m-52 1h4m16 0h4m3 0h4m-1 0h4m23 0h4m-178 1h4m33 0h4m-30 1h4m74 1h4m-1 0h4m-104 1h4m18 0h4m13 0h4m-54 1h4m15 0h4m70 0h4m18 2h4m-46 1h4m2 1h4m41 0h4m13 0h4m6 0h4m-88 1h4m-1 0h4m7 0h4m81 0h4m-81 1h4m-56 1h4m30 0h4m-4 1h4m-62 1h4m44 0h4m98 0h4m-62 2h4m-38 3h4m1 0h4m15 0h4m-64 3h4m-28 1h4m62 0h4m85 0h4m-84 3h4m-70 1h4m134 3h4m13 0h4m-93 2h4m84 0h4m-123 2h4m13 1h4m15 1h4m21 0h4m-5 1h4m46 0h4m-82 2h4m83 3h4m-10 1h4m-40 1h4m-47 2h4m62 0h4m-72 1h4m50 0h4m-83 8h4m45 1h4m-50 6h4m-7 4h4m9 0h4m46 8h4m-58 1h4m1 6h4m62 3h4m-40 2h4" stroke="#2b7bba" stroke-width="4"/><path d="M1008 553h4m13 11h4m7 3h4m-38 4h4m14 6h4m-1 0h4m8 15h4m-84 14h4m41 2h4m-67 3h4m-11 1h4m151 3h4m-96 1h4m29 0h4m60 0h4m-150 1h4m14 0h4m14 0h4m54 0h4m53 1h4m-7 1h4m-144 1h4m122 1h4m-159 1h4m36 3h4m79 0h4m19 0h4m-177 1h4m110 0h4m14 2h4m14 0h4m-100 1h4m-43 5h4m6 0h4m-32 1h4m162 1h4m-137 3h4m-10 1h4m86 0h4m39 1h4m-36 1h4m1 0h4m-133 1h4m-12 3h4m6 0h4m187 0h4m-195 1h4m-20 2h4m181 0h4m14 0h4m7 0h4m-104 3h4m49 0h4m-56 2h4m74 0h4m-118 2h4m100 0h4m-22 2h4m26 0h4m-215 1h4m205 1h4m-194 2h4m1 0h4m29 0h4m29 1h4m-58 1h4m114 0h4m-149 1h4m104 1h4m-13 1h4m-97 1h4m166 0h4m-169 1h4m46 0h4m82 0h4m-138 1h4m155 1h4m-97 2h4m81 0h4m-141 1h4m-47 1h4m70 2h4m18 0h4m10 0h4m-111 1h4m153 1h4m5 0h4m28 3h4m-249 3h4m189 0h4m-123 1h4m5 0h4m-3 3h4m10 1h4m55 0h4m65 1h4m-167 1h4m0 0h4m22 0h4m-93 1h4m75 1h4m-87 1h4m183 2h4m-201 1h4m108 0h4m91 0h4m-47 1h4m69 0h4m-176 3h4m-53 1h4m164 0h4m39 1h4m-189 1h4m36 2h4m84 0h4m46 1h4m-228 1h4m12 0h4m113 0h4m-5 2h4m-101 1h4m107 1h4m50 0h4m49 0h4m-251 1h4m101 0h4m-80 1h4m-8 1h4m15 0h4m-32 1h4m139 0h4m-43 1h4m-15 1h4m26 0h4m-100 1h4m24 0h4m79 1h4m52 0h4m-86 1h4m44 1h4m-76 1h4m15 1h4m-83 2h4m32 0h4m79 0h4m22 0h4m-183 1h4m-11 1h4m22 2h4m33 0h4m67 0h4m-87 1h4m27 0h4m58 0h4m36 2h4m-93 1h4m32 0h4m6 0h4m-46 1h4m17 1h4m16 0h4m72 1h4m-209 1h4m100 0h4m-77 1h4m165 0h4m-108 1h4m48 0h4m38 0h4m-79 1h4m15 0h4m-87 1h4m16 0h4m35 0h4m0 0h4m69 0h4m26 0h4m-152 1h4m143 0h4m-184 1h4m24 0h4m60 0h4m39 0h4m13 1h4m-39 1h4m63 1h4m-84 1h4m43 0h4m-153 2h4m103 0h4m8 0h4m-68 2h4m96 0h4m-126 1h4m0 0h4m72 0h4m17 1h4m1 0h4m-159 1h4m112 0h4m-43 1h4m105 0h4m-160 1h4m-12 1h4m145 0h4m-1 0h4m-177 2h4m174 1h4m-135 2h4m-63 2h4m126 0h4m-65 1h4m25 0h4m30 0h4m-8 1h4m9 0h4m24 0h4m-48 1h4m-1 0h4m-104 2h4m65 0h4m62 0h4m-147 1h4m125 0h4m29 0h4m-24 1h4m-159 1h4m75 0h4m44 0h4m14 0h4m3 0h4m-148 1h4m11 0h4m67 0h4m-3 0h4m24 0h4m2 0h4m41 0h4m-86 1h4m2 0h4m57 0h4m8 0h4m-81 1h4m8 0h4m11 0h4m14 0h4m0 0h4m3 1h4m-122 1h4m-19 1h4m84 2h4m25 0h4m32 0h4m-1 0h4m-176 1h4m66 0h4m15 0h4m71 1h4m-110 1h4m43 0h4m17 0h4m5 0h4m10 0h4m6 1h4m-61 1h4m10 0h4m3 0h4m-43 1h4m39 0h4m-3 0h4m-4 2h4m14 0h4m-60 1h4m-25 1h4m-3 0h4m37 0h4m6 2h4m-52 1h4m78 0h4m6 0h4m-5 1h4m-26 3h4m11 0h4m-92 1h4m30 0h4m-42 1h4m-2 0h4m28 0h4m0 0h4m-30 1h4m28 0h4m39 0h4m6 0h4m-105 1h4m14 0h4m2 0h4m1 0h4m19 2h4m-24 1h4m15 0h4m38 0h4m-81 1h4m69 0h4m-64 1h4m-18 1h4m11 0h4m-45 1h4m21 0h4m49 1h4m-21 1h4m36 0h4m-62 1h4m29 0h4m9 0h4m-77 2h4m12 0h4m35 0h4m5 0h4m-50 1h4m31 0h4m-47 1h4m34 0h4m17 4h4m1 0h4m10 1h4m-26 1h4m-18 2h4m19 0h4m-30 2h4m18 0h4m5 0h4m-43 1h4m25 1h4m-31 1h4m21 0h4m-22 1h4m5 0h4m1 0h4m-73 1h4m53 2h4m-45 1h4m51 2h4m4 0h4m-26 1h4m20 0h4m-34 1h4m2 3h4m8 0h4m-1 0h4m-53 3h4m9 0h4m11 4h4m-3 2h4m-6 2h4" stroke="#1b9e77" stroke-width="4"/><path d="M1026 559h4m-26 2h4m5 2h4m16 2h4m-30 2h4m8 5h4m-8 1h4m3 0h4m5 1h4m-2 0h4m-6 5h4m-5 3h4m2 3h4m-8 1h4m-10 2h4m3 2h4m1 6h4m-8 5h4m-3 1h4m-51 1h4m-26 1h4m-27 1h4m50 3h4m-24 1h4m14 0h4m-74 3h4m81 0h4m-38 1h4m-56 2h4m12 0h4m41 1h4m12 0h4m-71 2h4m24 0h4m35 0h4m14 0h4m-10 1h4m-49 1h4m47 0h4m-1 0h4m24 0h4m-119 1h4m73 0h4m-40 1h4m31 0h4m-109 1h4m61 0h4m109 0h4m-1 0h4m-37 1h4m-99 1h4m54 1h4m44 0h4m-168 1h4m44 0h4m-37 1h4m85 0h4m50 0h4m-70 1h4m47 0h4m-103 1h4m18 0h4m-43 1h4m24 0h4m22 0h4m77 0h4m27 0h4m-108 1h4m-100 1h4m146 0h4m24 0h4m-91 1h4m-65 1h4m32 0h4m-88 1h4m62 0h4m39 0h4m43 0h4m-147 1h4m129 0h4m-114 1h4m57 0h4m-89 1h4m100 0h4m93 0h4m-205 1h4m116 0h4m14 0h4m29 0h4m-140 1h4m52 1h4m39 0h4m-84 2h4m-10 1h4m2 0h4m62 0h4m31 1h4m-156 1h4m174 0h4m-209 1h4m73 0h4m20 0h4m48 0h4m-60 1h4m9 0h4m3 0h4m67 0h4m-194 1h4m90 0h4m-85 1h4m0 0h4m180 0h4m-194 1h4m84 0h4m94 0h4m-89 1h4m50 0h4m2 0h4m15 0h4m-100 1h4m71 0h4m46 0h4m-2 0h4m-3 0h4m-231 1h4m10 0h4m43 0h4m19 0h4m57 0h4m-153 1h4m159 0h4m-112 1h4m54 0h4m28 0h4m10 0h4m28 0h4m-182 1h4m1 0h4m-3 0h4m109 0h4m-34 1h4m1 0h4m12 0h4m11 0h4m8 1h4m31 0h4m-99 1h4m3 0h4m89 0h4m-197 1h4m205 1h4m-93 1h4m24 0h4m27 0h4m56 0h4m-128 1h4m7 0h4m36 0h4m-153 1h4m65 0h4m26 0h4m5 0h4m4 0h4m34 0h4m10 0h4m-79 1h4m9 0h4m-124 1h4m46 0h4m25 0h4m54 0h4m57 0h4m-144 1h4m42 0h4m11 0h4m59 0h4m-86 1h4m24 0h4m43 0h4m2 0h4m-1 0h4m-134 1h4m92 0h4m19 0h4m-184 1h4m21 0h4m30 0h4m16 0h4m55 2h4m-137 1h4m75 0h4m12 1h4m31 0h4m55 0h4m-38 1h4m32 0h4m-230 2h4m145 0h4m78 0h4m-110 1h4m92 0h4m-88 1h4m-111 1h4m55 0h4m30 0h4m32 1h4m-169 1h4m147 0h4m90 1h4m8 0h4m-245 1h4m2 0h4m59 0h4m16 0h4m25 1h4m99 0h4m-248 1h4m80 0h4m27 0h4m-20 1h4m69 0h4m80 1h4m-178 1h4m16 0h4m-3 0h4m110 0h4m3 0h4m-208 1h4m128 0h4m28 0h4m16 0h4m-164 1h4m145 0h4m55 0h4m-258 1h4m20 0h4m136 0h4m4 0h4m18 0h4m-178 1h4m91 0h4m9 0h4m111 0h4m-17 1h4m-213 1h4m19 0h4m55 0h4m-110 1h4m74 0h4m160 1h4m-188 1h4m18 0h4m165 1h4m-95 1h4m-150 2h4m10 0h4m162 0h4m4 0h4m-185 1h4m127 0h4m-11 1h4m-17 1h4m76 0h4m-205 1h4m88 0h4m132 0h4m12 0h4m-1 0h4m-236 2h4m77 0h4m29 0h4m-126 1h4m12 0h4m98 0h4m42 1h4m74 0h4m-225 1h4m71 0h4m42 0h4m-160 1h4m34 0h4m-3 0h4m173 0h4m-66 1h4m90 0h4m-234 1h4m159 1h4m40 0h4m-173 1h4m63 0h4m82 0h4m19 0h4m0 0h4m2 1h4m-240 1h4m1 0h4m147 0h4m31 0h4m-194 1h4m4 0h4m14 0h4m6 0h4m168 0h4m-207 1h4m1 0h4m15 0h4m14 0h4m47 0h4m12 0h4m-1 0h4m-54 1h4m3 0h4m18 0h4m-65 1h4m109 0h4m23 0h4m63 0h4m-243 1h4m1 1h4m58 0h4m-25 1h4m76 0h4m97 0h4m-210 1h4m45 0h4m54 0h4m43 0h4m59 0h4m-214 1h4m10 0h4m129 1h4m13 0h4m-176 1h4m110 0h4m-114 1h4m7 0h4m-37 1h4m146 0h4m44 1h4m-33 1h4m55 0h4m3 0h4m-168 1h4m89 0h4m-172 1h4m23 0h4m18 0h4m-49 1h4m190 0h4m-188 1h4m17 2h4m137 0h4m49 0h4m-56 1h4m38 0h4m-148 2h4m-32 1h4m75 0h4m-96 2h4m116 0h4m65 2h4m-174 1h4m1 0h4m1 0h4m83 0h4m65 1h4m-154 3h4m57 0h4m83 1h4m-178 1h4m8 0h4m10 0h4m106 0h4m-110 1h4m134 2h4m-193 1h4m92 0h4m18 0h4m21 0h4m53 0h4m-167 2h4m-3 0h4m147 2h4m-174 1h4m123 0h4m-1 0h4m-141 1h4m91 0h4m43 0h4m-141 1h4m43 1h4m93 0h4m28 0h4m-134 2h4m27 0h4m-42 1h4m21 1h4m61 1h4m-114 1h4m60 1h4m-11 4h4m-61 1h4m36 0h4m94 1h4m-150 1h4m122 0h4m-105 1h4m-3 0h4m-37 1h4m15 1h4m17 0h4m-49 1h4m57 0h4m-56 1h4m86 2h4m-76 1h4m59 2h4m30 0h4m18 0h4m-68 1h4m6 0h4m-3 1h4m-57 1h4m96 1h4m-93 1h4m52 0h4m-77 1h4m14 0h4m58 1h4m-84 1h4m29 0h4m-25 2h4m-1 0h4m12 1h4m5 2h4m25 0h4m-72 1h4m-1 0h4m11 0h4m7 0h4m-2 0h4m15 0h4m-57 2h4m11 0h4m10 0h4m7 2h4m-41 2h4m8 1h4m-6 1h4m-9 1h4m14 0h4m12 1h4m15 0h4m-61 1h4m-1 2h4m47 0h4m-28 3h4m3 0h4m9 0h4m-36 2h4m19 0h4m2 0h4m23 0h4m-69 2h4m9 2h4m3 0h4m23 0h4m-43 1h4m-1 1h4m13 0h4m37 0h4m-44 2h4m-5 2h4m36 0h4m0 1h4m-71 1h4m7 0h4m7 0h4m3 0h4m6 0h4m45 0h4m-90 1h4m64 0h4m-65 1h4m71 0h4m-72 1h4m23 0h4m-36 1h4m-4 1h4m13 3h4m35 0h4m-48 1h4m-10 1h4m20 0h4m1 0h4m-17 1h4m5 0h4m-4 1h4m1 2h4m-27 2h4m18 3h4" stroke="#d95f02" stroke-width="4"/><path d="M1021 554h4m-9 1h4m7 9h4m-8 8h4m-6 3h4m2 14h4m-75 15h4m3 3h4m27 0h4m-61 1h4m51 1h4m-12 2h4m89 2h4m-163 1h4m29 0h4m-7 1h4m67 0h4m-66 1h4m113 0h4m-162 2h4m129 1h4m-59 1h4m21 0h4m-33 1h4m-81 1h4m66 1h4m89 0h4m-69 1h4m-55 1h4m50 0h4m62 0h4m-119 1h4m10 0h4m101 0h4m-5 1h4m7 0h4m-129 1h4m34 0h4m-22 1h4m-51 1h4m-42 1h4m66 1h4m43 0h4m32 0h4m-113 1h4m106 0h4m7 0h4m-138 1h4m29 0h4m39 1h4m-86 1h4m152 0h4m11 0h4m-162 1h4m24 0h4m19 0h4m6 0h4m-3 0h4m-85 1h4m114 1h4m-160 1h4m153 1h4m41 0h4m-172 1h4m-34 1h4m136 0h4m11 0h4m-125 3h4m117 0h4m17 0h4m-158 1h4m121 0h4m-165 1h4m-3 0h4m173 0h4m34 0h4m-65 1h4m-143 2h4m0 0h4m30 0h4m-66 1h4m6 0h4m3 0h4m119 0h4m12 1h4m-132 1h4m43 0h4m29 0h4m-75 1h4m143 0h4m31 0h4m-173 1h4m104 0h4m-119 1h4m110 0h4m-134 2h4m6 0h4m-53 1h4m149 0h4m42 0h4m28 0h4m-228 1h4m131 0h4m6 0h4m-143 1h4m-14 1h4m144 0h4m-94 2h4m92 0h4m-157 1h4m8 0h4m13 0h4m187 0h4m-186 1h4m74 0h4m88 0h4m13 0h4m-223 1h4m9 1h4m27 0h4m49 0h4m58 0h4m-73 1h4m60 0h4m-172 1h4m81 0h4m136 0h4m-216 1h4m119 0h4m-142 1h4m8 0h4m-3 0h4m61 0h4m51 0h4m-115 1h4m39 0h4m14 0h4m3 0h4m47 0h4m40 0h4m-136 1h4m97 0h4m-140 1h4m-18 1h4m13 0h4m191 0h4m-201 1h4m0 0h4m42 0h4m-83 1h4m53 0h4m90 0h4m23 0h4m-171 1h4m45 0h4m6 0h4m41 0h4m19 0h4m90 0h4m-182 1h4m26 0h4m9 0h4m3 0h4m127 0h4m-190 1h4m66 1h4m46 0h4m-134 1h4m39 0h4m73 0h4m-77 1h4m-122 1h4m14 0h4m61 0h4m0 0h4m-95 1h4m81 0h4m26 0h4m3 0h4m63 0h4m-46 1h4m-3 0h4m-139 1h4m62 0h4m19 0h4m6 0h4m-56 1h4m169 0h4m-214 1h4m94 0h4m-33 1h4m7 0h4m49 1h4m58 0h4m-132 1h4m-76 1h4m88 0h4m12 0h4m-2 0h4m109 0h4m-39 1h4m-211 1h4m53 0h4m7 0h4m68 0h4m-3 0h4m23 0h4m-138 1h4m217 0h4m-200 1h4m56 0h4m14 0h4m-123 2h4m22 0h4m12 0h4m88 0h4m-115 1h4m6 0h4m-2 0h4m38 0h4m10 0h4m55 0h4m74 0h4m-251 1h4m128 0h4m85 0h4m-150 1h4m13 0h4m93 0h4m0 0h4m33 0h4m-156 1h4m-73 1h4m51 0h4m6 0h4m74 0h4m76 0h4m-239 1h4m17 0h4m57 0h4m130 0h4m-71 1h4m52 0h4m-173 1h4m70 0h4m141 0h4m-220 1h4m16 0h4m131 0h4m17 0h4m16 0h4m-175 1h4m51 0h4m19 0h4m78 0h4m-79 1h4m15 0h4m10 0h4m-166 1h4m1 0h4m3 0h4m69 0h4m1 0h4m36 0h4m85 0h4m-218 1h4m10 0h4m47 0h4m146 0h4m-238 1h4m15 0h4m37 1h4m-3 0h4m132 0h4m30 0h4m-236 1h4m62 0h4m0 0h4m128 0h4m15 0h4m-206 1h4m29 0h4m67 0h4m-3 0h4m60 0h4m-177 1h4m52 0h4m5 0h4m159 0h4m-108 1h4m-1 0h4m-90 1h4m120 0h4m-92 1h4m140 0h4m5 0h4m-150 1h4m71 0h4m65 0h4m-2 0h4m-89 1h4m72 1h4m-155 2h4m9 0h4m89 0h4m-129 1h4m21 0h4m-55 1h4m9 0h4m62 0h4m35 0h4m0 0h4m12 0h4m21 0h4m0 0h4m-162 1h4m51 1h4m12 0h4m40 0h4m-131 1h4m110 0h4m-130 1h4m63 0h4m115 0h4m14 0h4m-181 1h4m60 0h4m45 0h4m-35 1h4m35 0h4m-122 1h4m112 0h4m-141 1h4m68 0h4m82 0h4m47 0h4m-115 1h4m-115 1h4m-3 0h4m4 0h4m35 0h4m47 1h4m12 0h4m50 0h4m-187 1h4m74 0h4m5 1h4m7 0h4m69 0h4m25 0h4m-120 1h4m7 0h4m91 0h4m28 0h4m-211 1h4m26 0h4m1 0h4m81 0h4m-2 0h4m62 0h4m-132 1h4m0 0h4m-56 1h4m24 0h4m83 0h4m-115 1h4m42 0h4m90 0h4m-143 2h4m116 0h4m5 0h4m-143 1h4m14 0h4m-25 1h4m21 0h4m96 0h4m26 0h4m-99 1h4m4 0h4m16 0h4m61 0h4m19 0h4m-156 1h4m44 0h4m29 0h4m4 0h4m-56 1h4m82 2h4m-148 1h4m86 0h4m108 0h4m-200 1h4m16 0h4m-2 0h4m145 0h4m-153 1h4m137 0h4m-158 1h4m25 0h4m-29 1h4m4 1h4m133 0h4m-152 2h4m57 0h4m2 0h4m13 4h4m49 0h4m-82 4h4m35 1h4m66 0h4m-184 1h4m13 0h4m34 0h4m53 0h4m-97 3h4m5 0h4m123 0h4m-130 1h4m-3 2h4m56 0h4m-27 2h4m-65 2h4m53 0h4m-19 1h4m-38 1h4m15 0h4m55 0h4m14 2h4m-95 1h4m49 1h4m11 0h4m73 0h4m4 0h4m-113 1h4m2 1h4m0 0h4m-8 2h4m16 0h4m-28 3h4m-26 1h4m35 2h4m37 4h4m-35 1h4m-47 1h4m70 3h4m3 9h4m-37 2h4m-14 3h4m-33 7h4m86 1h4m-67 10h4m29 7h4m-19 5h4" stroke="#2b7bba" stroke-width="4"/><path d="M1019 562h4m-25 2h4m0 3h4m-5 3h4m14 4h4m13 19h4m-5 8h4m-57 4h4m-51 4h4m3 1h4m5 0h4m45 3h4m-72 1h4m4 1h4m-4 1h4m73 1h4m-41 2h4m26 0h4m49 0h4m-144 1h4m31 0h4m36 1h4m-36 1h4m101 0h4m-165 2h4m65 0h4m31 0h4m6 0h4m18 2h4m49 1h4m-83 1h4m-50 1h4m45 0h4m20 0h4m-138 1h4m23 0h4m105 0h4m-23 3h4m59 0h4m-109 1h4m-22 2h4m61 0h4m-164 1h4m168 1h4m19 0h4m9 0h4m-124 2h4m134 0h4m-22 1h4m-68 1h4m18 0h4m-17 1h4m33 0h4m-183 2h4m13 1h4m66 0h4m3 1h4m3 1h4m-34 1h4m119 0h4m-145 1h4m124 1h4m15 0h4m-2 0h4m-101 1h4m73 0h4m23 0h4m-93 1h4m3 1h4m66 0h4m-66 1h4m-107 1h4m62 0h4m41 0h4m-114 1h4m19 0h4m112 0h4m-18 1h4m29 0h4m-41 2h4m27 1h4m4 0h4m-163 1h4m25 0h4m-82 1h4m206 1h4m-112 1h4m-80 1h4m148 0h4m16 0h4m-42 1h4m-162 1h4m31 1h4m72 0h4m53 0h4m18 2h4m-215 1h4m-1 1h4m29 1h4m30 0h4m-21 1h4m42 0h4m-98 2h4m110 0h4m-46 1h4m-1 1h4m-22 1h4m59 0h4m35 0h4m-165 1h4m5 1h4m48 0h4m12 0h4m7 1h4m-86 1h4m103 0h4m-6 2h4m-118 1h4m108 1h4m1 0h4m-17 3h4m-74 1h4m166 0h4m-1 0h4m-211 1h4m18 0h4m104 0h4m-67 1h4m64 1h4m-157 1h4m197 0h4m-98 1h4m-116 1h4m82 0h4m54 0h4m13 1h4m-193 1h4m86 1h4m-43 2h4m37 0h4m28 1h4m46 1h4m-77 1h4m47 0h4m-103 1h4m30 1h4m134 0h4m-151 2h4m28 0h4m83 1h4m-43 1h4m-39 2h4m-85 1h4m9 0h4m123 1h4m-131 1h4m-18 1h4m135 0h4m-52 1h4m116 0h4m-202 1h4m67 0h4m-6 1h4m61 0h4m-182 1h4m97 0h4m-45 1h4m73 0h4m-67 2h4m-86 3h4m32 0h4m102 0h4m41 0h4m45 0h4m-240 1h4m215 0h4m-40 1h4m-137 3h4m-8 1h4m83 0h4m22 0h4m12 0h4m-147 1h4m116 1h4m35 0h4m-105 2h4m53 0h4m80 0h4m-169 2h4m112 0h4m21 0h4m-173 1h4m158 0h4m-101 1h4m10 0h4m-105 2h4m59 0h4m46 0h4m28 0h4m61 0h4m-195 1h4m165 0h4m-94 2h4m107 0h4m-98 1h4m-21 1h4m19 0h4m13 0h4m28 0h4m-95 1h4m41 0h4m24 1h4m-62 1h4m51 0h4m-40 1h4m77 0h4m-58 1h4m30 0h4m-147 1h4m19 0h4m5 0h4m38 0h4m74 0h4m16 0h4m-22 1h4m22 0h4m-108 1h4m19 0h4m2 0h4m13 0h4m45 0h4m-117 1h4m32 0h4m49 0h4m-137 1h4m38 0h4m117 0h4m-24 1h4m-31 1h4m3 0h4m-67 2h4m61 0h4m-4 1h4m-109 1h4m35 1h4m97 0h4m-184 1h4m73 0h4m50 0h4m-7 1h4m13 1h4m-144 1h4m30 0h4m9 2h4m2 0h4m25 1h4m-1 1h4m-23 1h4m10 0h4m3 0h4m24 0h4m-15 1h4m-41 1h4m49 0h4m-48 1h4m37 0h4m-49 2h4m40 0h4m3 0h4m-62 3h4m1 0h4m1 0h4m49 0h4m15 0h4m-87 1h4m17 0h4m3 0h4m20 0h4m25 0h4m11 0h4m-116 3h4m16 1h4m62 1h4m-3 0h4m2 1h4m-32 1h4m5 0h4m-1 0h4m9 1h4m17 0h4m-136 1h4m26 1h4m23 0h4m16 0h4m-2 0h4m22 0h4m6 0h4m-103 1h4m94 1h4m-16 1h4m-97 1h4m72 0h4m31 0h4m-19 1h4m2 0h4m-79 1h4m-21 1h4m67 0h4m-88 3h4m47 2h4m24 1h4m34 0h4m-13 1h4m-76 2h4m65 0h4m-107 1h4m94 0h4m6 0h4m-66 1h4m5 0h4m23 1h4m-1 0h4m-40 1h4m15 0h4m-39 2h4m7 0h4m10 0h4m19 0h4m3 0h4m9 0h4m-40 1h4m16 1h4m-26 1h4m41 0h4m-40 1h4m6 2h4m10 0h4m-72 2h4m67 0h4m-73 1h4m42 0h4m18 0h4m-82 2h4m44 1h4m-38 1h4m-5 1h4m66 0h4m-80 1h4m-9 1h4m52 1h4m-45 2h4m-1 0h4m10 1h4m9 0h4m-27 4h4m38 0h4m3 1h4m-1 0h4m-46 1h4m1 0h4m31 0h4m-70 1h4m23 1h4m1 1h4m-6 4h4m7 2h4" stroke="#1b9e77" stroke-width="4"/><path d="M1015 552h4m5 4h4m-5 1h4m-12 1h4m5 0h4m-11 1h4m6 2h4m-26 4h4m20 0h4m-21 1h4m11 0h4m6 0h4m-13 2h4m-17 1h4m-1 1h4m7 0h4m-32 1h4m8 1h4m10 0h4m-1 1h4m9 7h4m-12 4h4m6 1h4m-4 1h4m-16 8h4m-3 3h4m-86 9h4m17 2h4m-47 5h4m27 0h4m6 0h4m-5 1h4m13 0h4m26 0h4m-61 1h4m32 1h4m-34 1h4m6 0h4m-45 1h4m39 0h4m-68 1h4m-3 0h4m47 0h4m58 1h4m-32 1h4m32 0h4m53 0h4m-106 1h4m22 0h4m-57 1h4m11 0h4m4 0h4m19 0h4m-94 1h4m18 0h4m43 0h4m26 0h4m5 0h4m4 0h4m-32 1h4m-22 1h4m0 0h4m84 0h4m14 0h4m-115 1h4m16 0h4m33 0h4m-124 1h4m-3 0h4m58 0h4m14 0h4m64 0h4m-65 1h4m59 0h4m-126 1h4m-73 1h4m21 0h4m10 0h4m31 0h4m31 0h4m28 0h4m-3 0h4m-78 1h4m49 0h4m23 0h4m-148 1h4m57 0h4m11 0h4m64 0h4m-74 1h4m7 0h4m38 0h4m-56 1h4m-86 1h4m114 0h4m92 1h4m-158 1h4m110 0h4m-103 1h4m44 0h4m-89 1h4m-2 0h4m84 0h4m27 0h4m18 0h4m-172 1h4m114 0h4m-89 1h4m68 0h4m-92 1h4m71 0h4m5 0h4m3 0h4m29 0h4m36 0h4m-129 1h4m5 0h4m5 0h4m7 0h4m31 0h4m-42 1h4m-72 1h4m-31 1h4m140 0h4m-45 1h4m24 0h4m2 0h4m37 0h4m-190 1h4m11 0h4m3 0h4m134 0h4m-77 1h4m-100 1h4m120 0h4m-7 1h4m2 0h4m19 0h4m77 0h4m-239 1h4m41 0h4m88 0h4m-96 1h4m42 0h4m28 0h4m35 0h4m35 0h4m33 0h4m-146 1h4m56 0h4m-114 1h4m127 0h4m0 0h4m-165 1h4m152 0h4m-24 1h4m22 0h4m-84 2h4m-51 1h4m48 0h4m33 0h4m-3 1h4m7 0h4m5 0h4m30 0h4m-188 1h4m24 0h4m57 0h4m71 0h4m-39 1h4m10 0h4m-102 1h4m91 0h4m42 0h4m5 0h4m6 0h4m-201 1h4m138 0h4m26 0h4m11 0h4m-74 1h4m-109 1h4m2 0h4m69 0h4m-119 1h4m144 0h4m-108 1h4m107 1h4m9 0h4m3 0h4m-153 1h4m70 0h4m26 0h4m16 0h4m12 1h4m26 0h4m-213 1h4m180 0h4m4 0h4m41 0h4m-157 1h4m51 0h4m28 0h4m54 0h4m-28 1h4m-122 1h4m21 0h4m-119 1h4m21 0h4m15 0h4m77 0h4m25 0h4m-60 1h4m45 0h4m3 0h4m-18 1h4m-181 1h4m54 0h4m189 0h4m-137 1h4m126 1h4m-43 1h4m-210 1h4m201 0h4m18 0h4m-108 1h4m0 0h4m31 0h4m59 0h4m-93 1h4m51 0h4m28 2h4m-220 1h4m40 0h4m14 0h4m83 0h4m-159 2h4m5 0h4m12 0h4m68 0h4m40 0h4m-87 1h4m143 0h4m40 0h4m-76 1h4m67 0h4m-213 1h4m13 0h4m-48 1h4m26 0h4m6 0h4m169 0h4m-210 1h4m21 0h4m151 0h4m-198 1h4m-10 1h4m174 0h4m-39 1h4m45 0h4m-204 1h4m64 0h4m47 0h4m62 0h4m-144 1h4m10 0h4m26 0h4m148 0h4m-200 1h4m78 0h4m32 0h4m78 0h4m-251 1h4m106 0h4m-39 1h4m13 0h4m1 0h4m87 0h4m-90 1h4m94 0h4m39 0h4m2 0h4m-189 1h4m89 0h4m13 0h4m17 0h4m30 0h4m-57 1h4m28 0h4m18 1h4m-83 1h4m27 0h4m10 0h4m-160 1h4m54 0h4m3 0h4m-78 2h4m139 0h4m47 1h4m4 0h4m-215 1h4m35 0h4m63 0h4m44 0h4m-160 1h4m189 0h4m-116 2h4m82 0h4m30 0h4m-64 1h4m-131 1h4m203 1h4m-15 1h4m-105 1h4m100 0h4m-207 1h4m3 0h4m18 0h4m23 0h4m17 0h4m77 0h4m5 0h4m5 0h4m-178 1h4m12 0h4m26 0h4m16 0h4m103 0h4m-179 1h4m24 0h4m-59 1h4m53 0h4m10 1h4m94 0h4m55 0h4m-225 1h4m10 0h4m43 0h4m-67 1h4m26 0h4m-36 1h4m43 0h4m181 0h4m-237 1h4m150 0h4m-2 0h4m-22 1h4m35 0h4m23 0h4m24 0h4m-156 1h4m48 0h4m17 0h4m17 0h4m19 0h4m-92 2h4m54 0h4m6 0h4m-35 1h4m4 0h4m15 0h4m9 1h4m45 0h4m-93 1h4m-144 1h4m156 0h4m67 0h4m-231 2h4m163 0h4m-141 2h4m90 0h4m-125 2h4m212 0h4m-130 1h4m-64 1h4m13 0h4m72 1h4m65 0h4m11 0h4m6 0h4m-215 1h4m14 0h4m9 0h4m65 0h4m75 0h4m-130 1h4m-3 0h4m102 2h4m-159 1h4m182 0h4m-119 1h4m101 0h4m7 0h4m-156 1h4m60 0h4m-87 1h4m60 0h4m53 0h4m0 0h4m-13 2h4m22 0h4m7 0h4m10 0h4m-141 1h4m60 0h4m-73 1h4m124 0h4m-114 2h4m-3 0h4m3 1h4m65 0h4m-133 1h4m16 0h4m166 0h4m-165 1h4m-16 1h4m20 1h4m-19 1h4m138 2h4m14 0h4m-18 1h4m-132 1h4m-25 1h4m21 0h4m-17 1h4m-7 2h4m77 0h4m4 0h4m26 0h4m-22 1h4m-120 1h4m9 0h4m90 0h4m-111 1h4m35 1h4m96 0h4m-144 1h4m12 1h4m-3 1h4m8 0h4m76 0h4m24 2h4m17 0h4m-159 1h4m27 0h4m-46 1h4m-8 1h4m40 0h4m71 0h4m-96 1h4m20 0h4m22 0h4m82 0h4m-134 1h4m65 2h4m-60 2h4m30 0h4m26 0h4m-66 3h4m13 1h4m86 0h4m-100 2h4m-28 1h4m111 0h4m-100 1h4m3 0h4m-23 2h4m12 1h4m-16 1h4m112 0h4m-13 2h4m-105 1h4m0 1h4m32 4h4m57 1h4m-107 1h4m14 0h4m-25 1h4m18 1h4m-27 1h4m21 2h4m9 0h4m-8 4h4m-14 1h4m19 1h4m-47 1h4m19 1h4m-12 2h4m75 0h4m-83 3h4m8 1h4m0 0h4m-16 2h4m2 0h4m14 0h4m24 0h4m-64 1h4m3 1h4m9 0h4m28 0h4m-45 2h4m58 0h4m-69 1h4m12 0h4m11 0h4m-12 1h4m4 0h4m7 0h4m1 1h4m-40 1h4m-3 1h4m21 0h4m-37 2h4m-3 0h4m8 0h4m-2 0h4m3 0h4m-4 2h4m7 1h4m-27 1h4m11 0h4" stroke="#d95f02" stroke-width="4"/><path d="M1028 566h4m-26 6h4m8 0h4m5 0h4m-9 4h4m19 0h4m-9 9h4m-16 9h4m-66 11h4m16 0h4m-35 1h4m3 0h4m-22 1h4m8 0h4m-1 1h4m14 0h4m1 0h4m-5 1h4m-2 0h4m-45 2h4m5 0h4m24 1h4m-3 0h4m-20 2h4m-28 1h4m126 0h4m-89 1h4m-27 1h4m56 0h4m49 0h4m-86 1h4m35 0h4m-131 1h4m46 0h4m22 0h4m41 0h4m-107 1h4m35 0h4m4 0h4m23 0h4m-10 2h4m-83 1h4m173 0h4m-160 1h4m89 0h4m-69 1h4m-51 1h4m-12 2h4m31 0h4m148 0h4m-3 0h4m-186 2h4m58 0h4m72 0h4m-93 1h4m-63 1h4m-2 0h4m62 0h4m45 0h4m-34 1h4m47 1h4m26 0h4m15 0h4m-119 2h4m56 0h4m19 0h4m-183 1h4m44 2h4m27 0h4m36 0h4m42 0h4m-148 1h4m5 0h4m44 0h4m-48 1h4m13 0h4m34 0h4m69 0h4m-25 1h4m60 0h4m-208 1h4m19 0h4m10 0h4m-23 1h4m184 0h4m-150 1h4m77 1h4m-126 1h4m1 0h4m18 0h4m22 0h4m-76 1h4m133 0h4m21 0h4m-173 1h4m56 0h4m95 0h4m16 0h4m-3 0h4m35 0h4m-209 1h4m36 0h4m-67 1h4m118 0h4m44 0h4m27 0h4m4 0h4m-168 1h4m190 0h4m-241 1h4m19 0h4m189 0h4m-188 1h4m54 1h4m53 0h4m83 0h4m-223 1h4m1 0h4m40 1h4m46 0h4m-105 1h4m-1 0h4m142 0h4m-143 1h4m53 0h4m115 0h4m28 0h4m-238 1h4m157 0h4m5 0h4m17 0h4m12 0h4m-220 1h4m194 0h4m10 0h4m8 0h4m-129 1h4m55 0h4m-149 1h4m48 0h4m61 0h4m88 0h4m-172 1h4m124 0h4m0 1h4m1 0h4m-167 1h4m80 0h4m102 0h4m-1 0h4m-228 1h4m-3 0h4m9 0h4m20 0h4m5 0h4m91 1h4m50 0h4m26 0h4m-221 1h4m61 0h4m-75 1h4m7 0h4m8 1h4m23 0h4m69 1h4m16 0h4m-31 1h4m-2 0h4m-94 1h4m24 0h4m34 0h4m48 0h4m79 0h4m-204 1h4m8 0h4m-24 1h4m76 0h4m-83 2h4m40 0h4m21 0h4m2 0h4m-53 2h4m7 0h4m40 0h4m80 0h4m31 0h4m-236 1h4m56 0h4m138 0h4m-127 1h4m82 0h4m-137 1h4m1 0h4m10 0h4m27 0h4m116 0h4m-12 1h4m-194 1h4m201 0h4m-215 1h4m73 1h4m5 1h4m27 0h4m28 0h4m-117 1h4m-77 1h4m85 0h4m156 1h4m-152 1h4m65 0h4m81 0h4m-170 1h4m46 0h4m-3 0h4m14 0h4m14 0h4m0 0h4m-77 1h4m26 0h4m1 0h4m59 0h4m-63 1h4m56 1h4m-1 0h4m27 0h4m-189 2h4m92 0h4m74 0h4m-112 1h4m99 0h4m-116 1h4m-116 2h4m108 0h4m-44 1h4m66 0h4m42 0h4m-154 1h4m15 0h4m93 0h4m17 0h4m36 1h4m4 0h4m-227 2h4m26 0h4m107 0h4m91 0h4m-156 1h4m8 0h4m115 0h4m-217 1h4m24 0h4m23 0h4m81 0h4m7 0h4m44 0h4m-165 1h4m-2 0h4m32 0h4m168 0h4m-95 1h4m23 0h4m-112 1h4m28 0h4m-96 1h4m40 0h4m8 1h4m13 0h4m-73 1h4m105 0h4m-76 1h4m-46 1h4m15 0h4m-3 0h4m46 0h4m31 0h4m-111 1h4m4 0h4m8 0h4m-18 1h4m99 0h4m-23 1h4m3 0h4m38 0h4m-59 1h4m36 0h4m-99 1h4m-1 0h4m5 0h4m6 0h4m15 0h4m-8 1h4m-23 1h4m-3 1h4m16 1h4m33 0h4m108 1h4m-205 1h4m11 0h4m34 0h4m6 0h4m74 0h4m31 0h4m-130 1h4m30 0h4m-48 1h4m118 1h4m-146 1h4m26 0h4m4 0h4m29 0h4m4 0h4m9 0h4m63 0h4m-119 1h4m17 0h4m71 0h4m-122 1h4m112 0h4m14 0h4m31 0h4m-2 0h4m-219 1h4m27 0h4m18 0h4m121 0h4m-187 1h4m14 0h4m78 0h4m9 0h4m53 0h4m31 1h4m0 0h4m-182 1h4m61 0h4m58 0h4m-137 1h4m90 0h4m-68 1h4m7 0h4m38 0h4m-78 1h4m9 0h4m37 0h4m23 0h4m-63 1h4m33 1h4m-67 1h4m4 0h4m-22 1h4m16 0h4m23 0h4m65 0h4m7 0h4m-7 1h4m-151 1h4m30 0h4m19 0h4m11 0h4m-41 1h4m-21 1h4m179 0h4m-111 1h4m83 0h4m-19 1h4m-138 1h4m35 0h4m-30 1h4m97 0h4m46 0h4m-160 1h4m25 0h4m11 1h4m113 0h4m-183 1h4m73 0h4m39 0h4m-115 1h4m140 0h4m-147 1h4m12 0h4m49 0h4m17 0h4m-89 1h4m13 0h4m3 0h4m41 1h4m-74 1h4m-2 0h4m75 0h4m75 1h4m-18 1h4m-137 1h4m45 0h4m30 0h4m72 0h4m-176 1h4m64 0h4m-12 1h4m-64 1h4m7 0h4m36 1h4m-53 1h4m26 0h4m66 1h4m-111 1h4m24 0h4m5 1h4m24 0h4m-44 1h4m66 0h4m-116 1h4m9 0h4m55 0h4m92 0h4m-60 1h4m24 0h4m-76 1h4m104 1h4m-125 1h4m6 0h4m-1 0h4m90 0h4m-168 2h4m-3 0h4m6 1h4m11 0h4m54 0h4m20 0h4m9 0h4m30 1h4m-137 1h4m31 1h4m7 1h4m3 1h4m14 1h4m31 1h4m-41 1h4m48 1h4m-82 1h4m-25 1h4m12 0h4m40 0h4m-72 1h4m46 0h4m13 1h4m5 1h4m36 0h4m-58 1h4m0 6h4m44 0h4m2 4h4m4 0h4m-71 4h4m12 0h4m15 0h4m-65 3h4m-26 6h4m81 0h4m-72 3h4m12 2h4m68 1h4m-102 2h4m17 1h4m41 8h4m-37 3h4m38 2h4m-39 1h4m39 3h4m-28 5h4m-10 5h4" stroke="#2b7bba" stroke-width="4"/><path d="M1020 553h4m-17 3h4m-10 9h4m32 5h4m-2 7h4m-5 7h4m-1 5h4m-9 7h4m-74 9h4m10 6h4m15 3h4m-19 2h4m49 1h4m23 0h4m-159 1h4m-3 0h4m135 1h4m-112 1h4m2 1h4m-30 1h4m116 0h4m21 2h4m-2 0h4m-5 2h4m19 2h4m-80 4h4m11 1h4m16 0h4m34 0h4m-129 3h4m122 0h4m-101 1h4m84 0h4m-17 4h4m26 1h4m-59 1h4m43 0h4m-212 1h4m-3 0h4m36 0h4m-43 3h4m55 0h4m-2 0h4m149 1h4m-48 2h4m25 1h4m-6 1h4m14 0h4m-219 1h4m196 1h4m-11 1h4m-46 1h4m-178 1h4m36 0h4m174 0h4m-8 1h4m-215 1h4m124 0h4m24 1h4m22 0h4m30 0h4m-200 1h4m199 0h4m-47 2h4m15 0h4m-124 1h4m-8 1h4m-52 1h4m36 2h4m118 1h4m-68 1h4m-30 1h4m67 1h4m-49 1h4m-40 1h4m3 0h4m-57 2h4m128 0h4m-169 2h4m50 0h4m69 1h4m34 0h4m-198 1h4m-34 1h4m94 0h4m22 0h4m-28 1h4m65 0h4m-24 1h4m-122 1h4m119 0h4m-131 2h4m120 1h4m-156 1h4m40 0h4m63 0h4m-26 2h4m19 0h4m-19 1h4m-74 1h4m68 0h4m-4 1h4m4 0h4m-33 4h4m135 0h4m-142 1h4m79 0h4m-151 1h4m39 0h4m-33 1h4m-41 1h4m229 0h4m-214 1h4m41 0h4m-36 2h4m-3 0h4m184 0h4m-176 1h4m15 0h4m109 0h4m61 0h4m-147 1h4m-3 0h4m-3 0h4m-24 1h4m67 0h4m-147 2h4m53 0h4m48 0h4m69 1h4m-100 1h4m-30 1h4m95 0h4m-17 2h4m-167 1h4m175 0h4m59 0h4m-138 1h4m-63 1h4m1 0h4m146 0h4m-175 1h4m1 0h4m6 0h4m113 0h4m-151 1h4m167 0h4m-53 2h4m70 0h4m-6 3h4m33 1h4m-17 1h4m-23 1h4m-56 2h4m8 0h4m-31 1h4m78 0h4m-191 1h4m-43 1h4m166 0h4m1 0h4m-10 1h4m44 0h4m-203 1h4m-27 1h4m56 0h4m82 0h4m20 0h4m8 0h4m16 0h4m-193 1h4m143 0h4m2 1h4m47 0h4m-112 2h4m7 1h4m18 0h4m26 0h4m9 0h4m12 0h4m-156 1h4m65 0h4m30 0h4m-109 1h4m116 0h4m-144 1h4m1 1h4m78 0h4m-1 1h4m23 0h4m39 0h4m-8 1h4m-116 1h4m48 1h4m25 0h4m-55 1h4m47 1h4m-30 1h4m55 1h4m-84 1h4m-47 1h4m119 0h4m16 1h4m-125 1h4m46 0h4m49 0h4m12 0h4m13 0h4m-98 1h4m20 0h4m17 0h4m10 0h4m20 0h4m-149 1h4m27 0h4m26 0h4m48 0h4m1 0h4m-5 1h4m1 0h4m34 0h4m-158 3h4m31 0h4m65 0h4m28 0h4m-71 1h4m4 0h4m33 0h4m-6 1h4m-84 1h4m43 0h4m49 2h4m-153 1h4m37 0h4m12 1h4m31 0h4m-55 2h4m7 0h4m-2 0h4m17 0h4m-56 1h4m71 0h4m-2 1h4m58 1h4m-77 1h4m-1 1h4m21 0h4m-1 0h4m-73 1h4m3 1h4m-3 0h4m-9 2h4m-1 1h4m73 0h4m-52 1h4m-31 1h4m54 0h4m-95 1h4m14 0h4m68 0h4m-8 1h4m5 0h4m27 0h4m-58 1h4m3 1h4m13 0h4m-3 0h4m0 0h4m-24 1h4m-3 0h4m-120 1h4m95 0h4m-76 1h4m60 0h4m37 0h4m-77 1h4m18 1h4m51 0h4m-82 2h4m43 0h4m-83 1h4m20 0h4m53 0h4m-21 1h4m23 0h4m-1 1h4m31 0h4m-72 2h4m31 0h4m6 0h4m-58 2h4m22 0h4m-13 1h4m13 0h4m4 0h4m-61 1h4m55 2h4m17 0h4m-1 0h4m-114 1h4m104 0h4m4 0h4m-79 1h4m21 1h4m31 0h4m-85 1h4m24 0h4m21 0h4m19 0h4m-62 1h4m59 0h4m6 0h4m-52 2h4m1 1h4m6 1h4m-83 1h4m40 0h4m63 0h4m-105 1h4m55 0h4m30 0h4m-14 1h4m0 2h4m-63 1h4m4 2h4m34 0h4m-11 1h4m-20 1h4m24 2h4m10 0h4m-43 1h4m16 1h4m-70 2h4m44 1h4m-56 2h4m73 0h4m3 2h4m-17 1h4m-14 1h4m1 0h4m-30 2h4m31 0h4m4 0h4m-28 1h4m17 1h4m-51 1h4m31 0h4m-2 0h4m-35 3h4m23 0h4m-14 3h4m-12 5h4" stroke="#1b9e77" stroke-width="4"/><path d="M1014 554h4m-17 5h4m9 2h4m-12 1h4m-5 1h4m18 0h4m-1 4h4m-1 0h4m-3 0h4m-31 1h4m-2 0h4m7 2h4m-22 1h4m4 0h4m-7 1h4m23 1h4m6 0h4m-28 2h4m2 8h4m10 0h4m-16 6h4m1 1h4m-6 2h4m-3 10h4m-61 1h4m-7 1h4m0 0h4m-24 4h4m-8 1h4m22 0h4m-3 0h4m16 0h4m-52 1h4m1 0h4m32 0h4m2 0h4m-7 1h4m-72 1h4m74 1h4m9 1h4m-39 1h4m27 0h4m-72 1h4m10 0h4m18 0h4m-45 1h4m39 0h4m49 0h4m-102 1h4m-21 1h4m25 0h4m132 0h4m-127 1h4m12 0h4m-69 1h4m37 0h4m20 0h4m79 0h4m10 0h4m-113 1h4m11 0h4m38 0h4m66 0h4m-181 1h4m-17 1h4m119 0h4m63 0h4m-150 1h4m74 1h4m-121 2h4m8 0h4m15 0h4m-37 1h4m9 0h4m65 0h4m103 0h4m-147 1h4m21 0h4m3 0h4m-75 1h4m0 0h4m16 0h4m17 2h4m26 0h4m76 1h4m-102 1h4m-70 1h4m14 1h4m43 1h4m14 0h4m29 0h4m52 0h4m-117 1h4m10 1h4m-106 1h4m42 0h4m55 0h4m46 0h4m-109 2h4m0 0h4m91 0h4m-102 1h4m72 0h4m78 0h4m-208 1h4m78 0h4m-91 1h4m133 0h4m-27 1h4m14 0h4m12 0h4m-87 1h4m13 0h4m35 0h4m-138 2h4m144 0h4m14 0h4m14 0h4m6 0h4m-66 1h4m-42 1h4m-90 2h4m82 0h4m35 0h4m16 0h4m14 0h4m-13 1h4m8 1h4m45 0h4m-118 1h4m6 0h4m27 0h4m-164 1h4m62 0h4m39 0h4m12 0h4m42 0h4m67 0h4m-98 1h4m75 0h4m-118 2h4m3 0h4m13 0h4m24 0h4m38 0h4m-212 1h4m48 0h4m9 0h4m62 0h4m28 0h4m-49 1h4m24 0h4m27 0h4m21 0h4m29 0h4m-225 1h4m95 0h4m26 0h4m17 0h4m8 0h4m-19 1h4m-142 1h4m62 0h4m59 0h4m-45 1h4m46 0h4m-104 1h4m7 0h4m9 0h4m57 0h4m17 1h4m0 0h4m-134 1h4m-2 0h4m69 0h4m116 0h4m-148 1h4m8 0h4m10 0h4m69 0h4m-147 1h4m4 0h4m16 0h4m25 0h4m9 0h4m15 0h4m-37 1h4m36 0h4m67 0h4m-128 1h4m52 0h4m-161 1h4m48 0h4m4 0h4m165 0h4m-23 1h4m-89 1h4m-1 0h4m11 0h4m70 0h4m-4 1h4m-185 1h4m75 0h4m28 0h4m-109 1h4m24 0h4m80 0h4m1 0h4m47 0h4m-146 1h4m5 0h4m-99 1h4m46 0h4m119 0h4m19 0h4m31 0h4m-39 1h4m-188 1h4m29 0h4m93 0h4m-81 1h4m50 0h4m52 0h4m19 0h4m4 1h4m-93 1h4m3 0h4m11 0h4m14 0h4m-162 1h4m61 1h4m66 0h4m40 0h4m-59 1h4m85 0h4m-236 1h4m107 0h4m77 0h4m-101 2h4m91 0h4m-142 1h4m116 0h4m-175 1h4m12 0h4m52 0h4m47 0h4m76 0h4m25 1h4m-144 1h4m28 0h4m24 0h4m-128 1h4m155 0h4m31 0h4m-42 1h4m7 0h4m48 0h4m-147 1h4m-58 1h4m62 1h4m76 0h4m-163 1h4m15 0h4m123 0h4m39 0h4m-219 1h4m202 0h4m-24 1h4m-82 1h4m13 0h4m14 0h4m57 0h4m10 0h4m-94 1h4m1 0h4m0 0h4m7 0h4m77 0h4m-3 0h4m-252 1h4m20 0h4m76 0h4m72 0h4m16 2h4m0 0h4m27 0h4m10 0h4m3 0h4m-31 1h4m-121 1h4m15 1h4m31 1h4m45 0h4m-181 1h4m4 0h4m61 1h4m11 0h4m9 0h4m57 0h4m2 0h4m-191 2h4m30 0h4m92 0h4m-107 2h4m19 0h4m170 0h4m-232 1h4m13 0h4m156 0h4m56 0h4m-171 1h4m95 0h4m66 0h4m-225 1h4m34 0h4m63 0h4m-100 3h4m49 0h4m89 0h4m24 0h4m-205 1h4m85 0h4m128 0h4m-226 1h4m40 1h4m149 0h4m14 0h4m-209 1h4m215 1h4m-210 1h4m193 0h4m-206 1h4m21 1h4m118 0h4m52 0h4m-213 1h4m35 1h4m80 0h4m-118 1h4m149 0h4m32 1h4m-149 1h4m36 0h4m-101 1h4m8 0h4m6 0h4m-27 1h4m201 0h4m-208 1h4m184 0h4m19 1h4m-116 1h4m32 0h4m45 0h4m21 0h4m-197 1h4m101 0h4m62 0h4m28 0h4m-72 1h4m24 0h4m6 0h4m2 0h4m-203 1h4m-3 0h4m89 1h4m83 0h4m-152 4h4m96 0h4m59 0h4m-92 1h4m-93 1h4m122 0h4m67 2h4m-125 1h4m99 0h4m-151 1h4m58 0h4m52 0h4m1 0h4m-87 1h4m2 0h4m-78 1h4m33 0h4m56 0h4m-5 1h4m4 0h4m-1 0h4m48 0h4m30 0h4m-194 1h4m57 0h4m118 0h4m-151 1h4m27 0h4m54 0h4m48 0h4m-169 1h4m24 0h4m15 0h4m50 0h4m-101 1h4m83 0h4m23 0h4m20 0h4m-159 2h4m17 0h4m151 0h4m-3 0h4m-159 1h4m2 0h4m-36 1h4m72 1h4m102 0h4m-152 1h4m23 0h4m-60 1h4m16 1h4m32 0h4m80 1h4m-140 1h4m2 0h4m100 0h4m-94 1h4m6 1h4m102 0h4m-100 1h4m119 0h4m-177 1h4m133 0h4m-115 1h4m37 0h4m-71 1h4m26 0h4m0 0h4m72 0h4m-54 1h4m0 1h4m-12 1h4m2 0h4m16 0h4m-54 1h4m11 0h4m91 2h4m-135 1h4m-3 0h4m57 0h4m16 1h4m65 0h4m6 0h4m-78 1h4m-34 1h4m-29 2h4m4 2h4m39 0h4m-59 2h4m-1 0h4m-1 0h4m16 0h4m12 1h4m-23 3h4m24 0h4m-28 1h4m-3 0h4m-32 1h4m24 3h4m-14 2h4m32 1h4m-32 1h4m-9 1h4m6 0h4m21 0h4m-47 1h4m0 0h4m0 0h4m30 0h4m5 1h4m-60 1h4m7 1h4m24 0h4m-40 1h4m14 0h4m29 0h4m10 0h4m20 0h4m7 3h4m-68 1h4m19 1h4m-18 2h4m-2 0h4m-41 1h4m17 0h4m-29 2h4m7 0h4m24 0h4m-9 1h4m-2 0h4m-37 1h4m19 0h4m44 0h4m0 1h4m-8 2h4m-41 1h4m1 1h4m-29 1h4m2 2h4m-8 2h4m0 1h4m45 0h4m-9 2h4m11 0h4m-54 1h4m0 1h4m3 0h4m23 0h4m-15 3h4m-37 2h4m-5 2h4m19 3h4m3 0h4" stroke="#d95f02" stroke-width="4"/><path d="M1012 560h4m-18 1h4m10 1h4m4 1h4m3 1h4m-11 9h4m-10 1h4m0 4h4m14 0h4m-3 6h4m-64 21h4m13 3h4m-52 1h4m31 0h4m13 3h4m-27 1h4m35 1h4m57 1h4m-43 1h4m-105 1h4m10 0h4m9 0h4m54 0h4m57 0h4m-125 1h4m29 0h4m-65 1h4m113 2h4m27 0h4m-111 1h4m-56 1h4m-6 1h4m81 1h4m-6 1h4m24 0h4m18 0h4m3 1h4m-101 1h4m128 0h4m-206 1h4m97 0h4m33 0h4m23 1h4m15 0h4m-188 1h4m22 0h4m-32 1h4m111 0h4m83 0h4m-88 1h4m-127 2h4m9 0h4m31 0h4m133 0h4m-185 1h4m12 0h4m18 0h4m66 1h4m-116 1h4m36 0h4m163 0h4m-173 1h4m3 0h4m164 1h4m-222 1h4m24 2h4m56 0h4m85 0h4m-127 1h4m33 0h4m56 0h4m50 0h4m-202 1h4m53 0h4m9 0h4m93 0h4m-3 0h4m-180 2h4m42 0h4m9 0h4m154 0h4m-236 1h4m56 0h4m95 0h4m-67 1h4m-23 1h4m128 0h4m-48 1h4m67 0h4m-168 1h4m122 0h4m-208 1h4m40 0h4m48 0h4m-10 1h4m4 0h4m-91 1h4m15 3h4m-10 1h4m16 0h4m67 0h4m26 0h4m13 0h4m-118 1h4m9 0h4m23 0h4m92 0h4m-175 1h4m-1 0h4m28 0h4m58 1h4m107 0h4m-218 1h4m55 0h4m95 0h4m-2 0h4m-117 1h4m56 0h4m64 0h4m-140 1h4m127 0h4m3 0h4m-156 1h4m190 0h4m-228 1h4m75 0h4m-87 1h4m51 0h4m-2 0h4m59 0h4m44 1h4m-152 1h4m186 0h4m-163 1h4m8 0h4m18 0h4m127 0h4m-162 1h4m-63 1h4m106 0h4m13 0h4m90 0h4m-186 1h4m12 0h4m-49 1h4m38 0h4m-17 1h4m69 0h4m1 0h4m25 1h4m19 0h4m28 0h4m-148 1h4m3 0h4m-35 1h4m4 0h4m84 0h4m-100 1h4m1 0h4m-3 0h4m15 0h4m18 0h4m-95 1h4m48 0h4m124 0h4m4 0h4m-163 3h4m87 0h4m-142 1h4m56 0h4m19 0h4m-82 1h4m36 0h4m83 0h4m3 0h4m97 0h4m-160 1h4m119 1h4m-228 1h4m113 0h4m102 1h4m5 0h4m-197 1h4m24 0h4m11 0h4m-62 1h4m14 0h4m47 0h4m28 0h4m6 0h4m77 0h4m-182 1h4m74 0h4m66 0h4m-190 1h4m-3 0h4m127 0h4m59 0h4m-186 1h4m47 0h4m44 0h4m8 0h4m0 0h4m49 0h4m-122 1h4m52 0h4m46 0h4m-113 1h4m52 0h4m33 0h4m46 0h4m-179 1h4m195 0h4m0 0h4m-150 1h4m-2 0h4m75 0h4m18 0h4m56 0h4m-142 1h4m29 0h4m41 0h4m-76 1h4m77 0h4m-179 1h4m7 0h4m1 1h4m42 0h4m17 0h4m117 0h4m13 0h4m-133 1h4m27 1h4m12 0h4m43 0h4m-163 1h4m163 0h4m25 0h4m-241 1h4m69 0h4m34 0h4m14 0h4m30 0h4m40 0h4m-165 1h4m20 0h4m34 0h4m-114 1h4m89 0h4m-2 0h4m55 0h4m-1 0h4m37 0h4m-141 2h4m10 0h4m0 0h4m-86 1h4m25 0h4m54 0h4m32 0h4m-13 2h4m35 0h4m51 0h4m-120 1h4m107 0h4m-212 1h4m3 0h4m1 0h4m80 0h4m33 0h4m109 0h4m-170 1h4m86 0h4m-1 0h4m9 0h4m17 0h4m-185 1h4m77 0h4m101 0h4m-1 0h4m-127 1h4m67 0h4m-111 1h4m55 0h4m18 0h4m6 0h4m18 0h4m5 0h4m22 0h4m-193 1h4m54 0h4m7 0h4m11 0h4m55 0h4m12 0h4m42 0h4m17 0h4m-155 1h4m93 0h4m-189 1h4m18 1h4m5 0h4m23 0h4m37 0h4m37 0h4m6 0h4m-95 1h4m45 0h4m27 0h4m91 0h4m-88 1h4m58 0h4m-175 1h4m160 0h4m-171 1h4m67 0h4m119 0h4m-139 1h4m14 0h4m34 0h4m-117 1h4m-20 1h4m-2 0h4m89 0h4m34 0h4m13 0h4m-141 1h4m4 0h4m38 0h4m-95 1h4m157 0h4m-92 1h4m132 0h4m31 0h4m-172 1h4m84 1h4m45 0h4m-143 1h4m80 0h4m47 0h4m-205 1h4m150 0h4m13 0h4m17 0h4m-52 1h4m-112 1h4m3 0h4m37 0h4m112 0h4m-174 1h4m19 0h4m12 0h4m20 0h4m101 0h4m27 0h4m-211 1h4m12 0h4m28 0h4m-13 1h4m88 0h4m23 0h4m-94 1h4m21 0h4m14 0h4m48 0h4m42 0h4m-179 1h4m0 0h4m125 0h4m-134 1h4m128 0h4m39 0h4m-39 1h4m-99 1h4m-89 1h4m34 0h4m89 0h4m13 0h4m22 0h4m-76 1h4m44 0h4m-130 1h4m86 0h4m64 0h4m-126 1h4m16 0h4m-28 1h4m70 0h4m57 1h4m-168 1h4m0 0h4m6 0h4m6 0h4m7 0h4m96 0h4m6 0h4m-118 1h4m22 3h4m-85 2h4m125 0h4m-93 1h4m9 0h4m-4 1h4m74 0h4m50 1h4m6 1h4m-95 1h4m-1 0h4m8 0h4m-109 1h4m98 0h4m-3 0h4m54 0h4m-144 1h4m106 1h4m25 0h4m4 3h4m0 0h4m-144 2h4m25 1h4m88 1h4m-160 1h4m142 0h4m-159 3h4m89 1h4m-22 1h4m-28 2h4m4 0h4m53 0h4m2 0h4m-67 2h4m60 0h4m-85 2h4m14 5h4m85 0h4m3 2h4m-93 2h4m39 0h4m-57 1h4m-18 7h4m42 9h4m-11 2h4m27 1h4m7 0h4m-47 1h4m53 2h4m-42 2h4m32 0h4m-41 1h4m46 1h4m-94 4h4m-5 1h4m84 0h4m-63 4h4m49 7h4m-31 8h4m0 1h4" stroke="#2b7bba" stroke-width="4"/><path d="M1004 557h4m1 3h4m12 5h4m1 0h4m-32 7h4m22 3h4m-9 9h4m16 5h4m-17 3h4m4 0h4m-49 21h4m-65 2h4m38 0h4m14 0h4m86 0h4m-77 1h4m16 0h4m31 2h4m18 0h4m-147 3h4m-32 2h4m15 0h4m82 0h4m64 0h4m-121 1h4m4 2h4m-70 1h4m120 0h4m26 1h4m5 0h4m18 0h4m-4 1h4m-80 1h4m19 0h4m-161 2h4m65 1h4m83 0h4m-43 1h4m-123 1h4m82 0h4m31 0h4m-133 1h4m4 0h4m60 0h4m99 1h4m15 0h4m-144 1h4m2 1h4m109 0h4m1 0h4m-176 2h4m34 0h4m-39 2h4m205 0h4m-205 1h4m203 0h4m-205 1h4m54 1h4m10 0h4m30 0h4m23 0h4m-142 1h4m-27 1h4m209 0h4m2 1h4m-198 1h4m7 0h4m154 1h4m-91 1h4m-106 1h4m174 0h4m19 0h4m-165 5h4m38 0h4m11 1h4m4 0h4m43 0h4m-134 2h4m41 0h4m-28 1h4m104 0h4m-177 1h4m189 1h4m-61 1h4m67 0h4m-138 3h4m-53 2h4m61 0h4m119 0h4m-152 2h4m-2 0h4m-60 1h4m37 0h4m2 0h4m74 0h4m48 0h4m17 0h4m-148 2h4m117 0h4m-126 2h4m-76 1h4m142 2h4m1 1h4m-161 1h4m123 1h4m62 2h4m-140 2h4m-12 1h4m-7 1h4m143 2h4m-70 1h4m13 0h4m-84 2h4m-5 2h4m-43 1h4m182 1h4m-33 2h4m-215 1h4m138 2h4m0 2h4m7 0h4m-132 2h4m171 0h4m-125 1h4m141 0h4m-235 1h4m120 0h4m17 2h4m-157 1h4m4 0h4m130 0h4m65 0h4m-194 1h4m26 2h4m14 0h4m96 0h4m-52 1h4m-41 1h4m17 0h4m96 0h4m-131 1h4m43 0h4m90 0h4m-40 1h4m15 0h4m41 0h4m-11 1h4m-196 2h4m91 0h4m36 1h4m-178 1h4m220 0h4m-65 1h4m38 0h4m-188 1h4m28 2h4m145 0h4m-55 1h4m-11 1h4m-126 1h4m48 0h4m-24 1h4m-3 1h4m71 1h4m28 0h4m62 0h4m-165 1h4m41 0h4m9 0h4m93 0h4m-102 1h4m22 0h4m-58 2h4m131 1h4m-166 2h4m89 0h4m4 0h4m8 0h4m56 0h4m-227 1h4m-2 0h4m31 0h4m-6 2h4m117 0h4m43 0h4m-51 1h4m24 0h4m-115 1h4m9 0h4m98 0h4m-2 0h4m-194 1h4m49 0h4m118 0h4m3 0h4m7 0h4m-153 1h4m-32 1h4m96 0h4m94 2h4m-87 2h4m15 0h4m-86 1h4m92 0h4m-87 1h4m33 1h4m-68 1h4m60 0h4m-81 1h4m91 0h4m13 0h4m7 0h4m11 0h4m-42 2h4m-66 1h4m64 0h4m-56 1h4m41 0h4m-62 3h4m19 0h4m31 0h4m-45 1h4m94 0h4m-173 1h4m62 0h4m46 0h4m-55 1h4m55 0h4m-127 2h4m49 0h4m5 0h4m28 0h4m-96 1h4m76 0h4m8 1h4m7 0h4m46 0h4m-48 1h4m-1 0h4m-2 0h4m-9 1h4m0 0h4m-55 1h4m6 0h4m32 0h4m23 0h4m-58 1h4m7 0h4m-21 1h4m41 0h4m-3 0h4m16 0h4m3 0h4m-143 1h4m58 0h4m12 0h4m25 1h4m36 0h4m-126 1h4m11 0h4m29 1h4m15 0h4m-41 1h4m-3 0h4m28 0h4m36 0h4m-37 1h4m14 0h4m-134 1h4m123 1h4m16 0h4m1 2h4m-59 1h4m19 0h4m36 0h4m-113 1h4m20 0h4m6 0h4m3 0h4m12 0h4m41 0h4m-82 4h4m46 0h4m-23 1h4m4 0h4m-71 1h4m-1 0h4m46 0h4m35 0h4m-36 1h4m21 0h4m-41 1h4m-3 0h4m43 0h4m-106 1h4m38 0h4m-6 1h4m67 1h4m-87 1h4m26 0h4m-42 1h4m26 0h4m47 0h4m1 0h4m-1 0h4m-15 2h4m-2 0h4m-55 1h4m24 0h4m-14 3h4m14 0h4m14 0h4m-50 2h4m2 0h4m0 1h4m0 0h4m-26 1h4m11 1h4m-27 1h4m43 0h4m-54 2h4m6 1h4m30 0h4m18 0h4m-99 1h4m84 0h4m-75 1h4m32 0h4m30 0h4m-41 1h4m-59 1h4m21 2h4m18 0h4m18 0h4m-3 0h4m8 1h4m-29 1h4m1 0h4m-2 0h4m16 1h4m-10 1h4m3 3h4m-57 2h4m39 0h4m5 0h4m0 1h4m-3 1h4m-51 1h4m38 0h4m-44 2h4m36 1h4m-32 4h4m23 0h4m-25 1h4m-19 1h4m10 6h4m-3 0h4" stroke="#1b9e77" stroke-width="4"/><path d="M1003 554h4m7 1h4m3 3h4m-28 1h4m29 2h4m-19 1h4m12 3h4m-27 1h4m5 0h4m-1 2h4m0 0h4m-32 1h4m12 0h4m15 3h4m-5 5h4m6 7h4m-12 9h4m0 2h4m-8 2h4m-49 5h4m-32 2h4m73 0h4m-108 4h4m12 1h4m4 1h4m26 1h4m-71 1h4m55 1h4m-46 1h4m43 0h4m-61 1h4m70 1h4m-80 1h4m5 0h4m-2 0h4m14 0h4m111 2h4m-148 1h4m11 0h4m29 1h4m-61 1h4m9 0h4m64 0h4m-54 1h4m145 0h4m-138 1h4m27 0h4m87 0h4m-35 1h4m-58 1h4m-114 1h4m39 0h4m22 0h4m56 0h4m15 0h4m-120 1h4m94 0h4m36 0h4m2 0h4m-175 1h4m112 0h4m81 0h4m-80 1h4m37 0h4m-151 1h4m56 0h4m57 0h4m-123 1h4m-1 0h4m13 0h4m46 0h4m13 0h4m10 0h4m16 0h4m-109 1h4m51 0h4m21 0h4m5 0h4m1 0h4m47 0h4m-124 1h4m62 0h4m30 0h4m-154 1h4m55 0h4m112 0h4m-167 1h4m75 0h4m16 0h4m-91 1h4m48 0h4m21 0h4m68 0h4m7 0h4m-63 1h4m43 0h4m-126 1h4m44 0h4m93 0h4m-205 1h4m30 0h4m133 0h4m-133 1h4m7 0h4m31 0h4m33 0h4m55 0h4m-127 1h4m12 0h4m17 0h4m16 0h4m9 0h4m19 0h4m-3 0h4m-131 1h4m137 0h4m-204 1h4m139 0h4m2 0h4m-5 1h4m-131 1h4m26 0h4m79 0h4m0 0h4m-3 0h4m7 0h4m21 0h4m19 0h4m-87 1h4m46 0h4m61 0h4m-173 1h4m92 0h4m-142 1h4m68 0h4m47 0h4m74 0h4m-212 1h4m101 0h4m39 0h4m14 0h4m-61 1h4m-90 1h4m14 0h4m-2 0h4m59 0h4m108 0h4m-126 1h4m1 0h4m71 0h4m-187 1h4m13 0h4m-18 1h4m37 0h4m7 0h4m37 0h4m22 0h4m51 1h4m5 0h4m-80 1h4m43 0h4m48 0h4m-217 1h4m73 0h4m65 0h4m0 0h4m-108 1h4m21 0h4m33 0h4m17 0h4m-94 1h4m36 0h4m65 0h4m-42 1h4m14 0h4m31 0h4m18 0h4m-114 1h4m36 0h4m-68 1h4m42 0h4m-38 1h4m23 0h4m38 0h4m-1 0h4m46 0h4m33 0h4m-132 1h4m-5 1h4m-113 1h4m72 0h4m99 1h4m-1 0h4m-81 1h4m96 0h4m-111 1h4m-1 0h4m30 0h4m39 0h4m36 0h4m-211 1h4m67 0h4m-1 0h4m12 0h4m16 1h4m-3 0h4m15 0h4m76 0h4m-83 1h4m-123 1h4m101 1h4m33 0h4m-39 1h4m29 0h4m52 0h4m-185 1h4m34 1h4m-13 1h4m120 0h4m23 0h4m-152 1h4m66 0h4m60 0h4m-245 1h4m73 0h4m53 0h4m64 0h4m2 0h4m38 0h4m-259 1h4m10 0h4m56 0h4m86 1h4m-83 1h4m73 0h4m-169 1h4m225 0h4m-237 1h4m117 0h4m40 0h4m-141 1h4m168 0h4m4 0h4m49 0h4m-259 1h4m183 0h4m23 0h4m27 0h4m1 0h4m-40 2h4m27 0h4m-257 1h4m5 0h4m143 0h4m10 0h4m-3 0h4m-176 1h4m90 0h4m34 0h4m49 0h4m33 0h4m28 0h4m-10 1h4m-13 1h4m-207 1h4m30 0h4m165 0h4m-143 1h4m-3 0h4m36 0h4m0 0h4m30 0h4m-147 1h4m90 0h4m56 0h4m-61 1h4m92 0h4m-214 1h4m26 0h4m-42 1h4m28 0h4m0 0h4m97 0h4m18 0h4m36 0h4m-134 1h4m76 0h4m17 0h4m57 0h4m-245 1h4m78 0h4m140 0h4m-224 1h4m87 0h4m113 0h4m21 0h4m-187 1h4m115 0h4m43 0h4m-116 1h4m109 0h4m19 0h4m-240 1h4m29 0h4m104 1h4m84 0h4m-222 1h4m10 0h4m161 0h4m-3 0h4m36 0h4m-166 1h4m-64 1h4m27 0h4m2 0h4m38 0h4m62 0h4m37 0h4m33 0h4m5 0h4m-226 1h4m169 0h4m-150 1h4m-42 1h4m99 0h4m8 0h4m-79 1h4m62 0h4m27 0h4m16 0h4m9 0h4m34 0h4m16 0h4m-182 1h4m41 0h4m70 0h4m40 0h4m3 0h4m5 0h4m-232 1h4m105 0h4m121 0h4m-168 1h4m71 0h4m76 0h4m-70 1h4m64 0h4m-48 1h4m16 0h4m-131 1h4m-100 1h4m12 0h4m85 0h4m54 0h4m51 0h4m31 0h4m-257 1h4m0 0h4m11 0h4m4 0h4m-31 1h4m5 2h4m32 0h4m156 1h4m23 0h4m1 0h4m-116 1h4m88 0h4m7 0h4m-219 1h4m207 0h4m22 0h4m-202 1h4m128 0h4m16 0h4m-168 1h4m57 0h4m133 0h4m-170 1h4m-43 1h4m161 0h4m5 2h4m-191 1h4m0 0h4m41 0h4m33 2h4m-71 1h4m60 0h4m29 0h4m76 0h4m-194 2h4m60 0h4m56 0h4m44 0h4m-2 0h4m45 0h4m-238 1h4m9 1h4m32 0h4m68 0h4m89 0h4m-55 1h4m-164 1h4m19 2h4m0 0h4m33 0h4m-3 0h4m25 0h4m97 0h4m-143 3h4m101 2h4m-143 1h4m121 0h4m-110 1h4m67 1h4m13 0h4m70 0h4m14 0h4m-207 2h4m132 0h4m9 1h4m-106 2h4m7 0h4m-36 1h4m140 1h4m-149 1h4m21 0h4m42 0h4m-26 1h4m-82 1h4m42 1h4m-50 1h4m111 0h4m13 0h4m-32 4h4m-67 1h4m0 0h4m52 0h4m62 0h4m-133 1h4m-27 1h4m20 1h4m29 1h4m69 0h4m-33 2h4m58 0h4m-139 2h4m122 0h4m-138 1h4m-3 1h4m1 0h4m10 1h4m19 0h4m-51 1h4m7 0h4m15 0h4m-24 2h4m-22 1h4m13 0h4m-19 1h4m16 1h4m4 0h4m-13 3h4m-5 1h4m114 0h4m-102 1h4m61 2h4m18 0h4m-68 1h4m-13 2h4m-33 2h4m56 0h4m28 1h4m-66 1h4m-36 2h4m38 1h4m-43 1h4m41 0h4m52 1h4m-59 2h4m12 0h4m-53 1h4m3 1h4m8 0h4m-2 0h4m14 2h4m-11 1h4m-44 2h4m5 3h4m42 0h4m-61 1h4m6 1h4m8 0h4m-12 2h4m-15 1h4m17 0h4m4 1h4m-24 2h4m58 0h4m-72 1h4m6 0h4m4 0h4m0 0h4m6 3h4m50 1h4m-84 1h4m10 0h4m32 0h4m13 2h4m9 1h4m-82 1h4m-2 0h4m45 0h4m-52 2h4m11 0h4m25 0h4m-46 1h4m32 0h4m-33 1h4m11 3h4m-15 1h4m-3 0h4m50 1h4m-36 1h4m-5 1h4m-4 1h4" stroke="#d95f02" stroke-width="4"/></g>
<rect x="344.6" y="268.0" width="4.4" height="4.4" fill="#1b9e77"/>
<text x="352.6" y="272.6" font-size="8.8">G1</text>
<rect x="344.6" y="275.6" width="4.4" height="4.4" fill="#2b7bba"/>
<text x="352.6" y="280.2" font-size="8.8">S</text>
<rect x="344.6" y="283.2" width="4.4" height="4.4" fill="#d95f02"/>
<text x="352.6" y="287.8" font-size="8.8">G2/M</text>
<text x="385.0" y="186.6" font-size="16" fill="#000" font-weight="bold" stroke="#000" stroke-width="0.55">d</text>
<path d="M414.7 181.0V290.3H528.0" fill="none" stroke="#6a6a6a" stroke-width="1.1"/>
<line x1="411.0" y1="183.2" x2="414.7" y2="183.2" stroke="#6a6a6a" stroke-width="0.8"/>
<text x="408.6" y="186.5" font-size="9.3" text-anchor="end">4</text>
<line x1="411.0" y1="208.5" x2="414.7" y2="208.5" stroke="#6a6a6a" stroke-width="0.8"/>
<text x="408.6" y="211.8" font-size="9.3" text-anchor="end">2</text>
<line x1="411.0" y1="233.8" x2="414.7" y2="233.8" stroke="#6a6a6a" stroke-width="0.8"/>
<text x="408.6" y="237.1" font-size="9.3" text-anchor="end">0</text>
<line x1="411.0" y1="259.1" x2="414.7" y2="259.1" stroke="#6a6a6a" stroke-width="0.8"/>
<text x="408.6" y="262.4" font-size="9.3" text-anchor="end">-2</text>
<line x1="411.0" y1="284.4" x2="414.7" y2="284.4" stroke="#6a6a6a" stroke-width="0.8"/>
<text x="408.6" y="287.7" font-size="9.3" text-anchor="end">-4</text>
<line x1="419.2" y1="290.3" x2="419.2" y2="293.8" stroke="#6a6a6a" stroke-width="0.8"/>
<text x="419.2" y="303.9" font-size="9.3" text-anchor="middle">-5.0</text>
<line x1="447.9" y1="290.3" x2="447.9" y2="293.8" stroke="#6a6a6a" stroke-width="0.8"/>
<text x="447.9" y="303.9" font-size="9.3" text-anchor="middle">-2.5</text>
<line x1="476.6" y1="290.3" x2="476.6" y2="293.8" stroke="#6a6a6a" stroke-width="0.8"/>
<text x="476.6" y="303.9" font-size="9.3" text-anchor="middle">0</text>
<line x1="505.3" y1="290.3" x2="505.3" y2="293.8" stroke="#6a6a6a" stroke-width="0.8"/>
<text x="505.3" y="303.9" font-size="9.3" text-anchor="middle">2.5</text>
<text x="416.6" y="183.5" font-size="9.8" textLength="40.0" lengthAdjust="spacingAndGlyphs">ATAC-seq</text>
<text x="472.0" y="318.5" font-size="9.6" text-anchor="middle" textLength="53.8" lengthAdjust="spacingAndGlyphs">UMAP Dim 1</text>
<text x="393.4" y="236.0" font-size="9.4" text-anchor="middle" textLength="55.5" lengthAdjust="spacingAndGlyphs" transform="rotate(-90 393.4 236.0)">UMAP Dim 2</text>
<g transform="scale(0.333333)"><path d="M1455 554h4m-7 2h4m-3 0h4m-33 4h4m-17 1h4m22 0h4m-2 0h4m-38 1h4m45 0h4m19 1h4m-19 1h4m-1 0h4m-70 1h4m19 0h4m3 0h4m-36 1h4m15 0h4m34 0h4m-71 1h4m4 0h4m22 0h4m-2 0h4m-32 1h4m1 0h4m24 0h4m43 0h4m-74 1h4m11 0h4m15 0h4m0 0h4m-55 1h4m87 1h4m-74 2h4m-1 0h4m4 0h4m51 0h4m-109 1h4m52 0h4m-43 1h4m3 0h4m8 0h4m23 0h4m-42 1h4m6 0h4m83 0h4m-110 1h4m3 0h4m19 1h4m10 0h4m-30 2h4m20 0h4m-42 1h4m12 0h4m18 0h4m13 0h4m-59 1h4m84 0h4m-83 1h4m53 0h4m44 0h4m-157 1h4m47 0h4m21 0h4m6 0h4m27 0h4m-120 1h4m15 0h4m18 0h4m52 0h4m3 0h4m21 1h4m-98 1h4m7 0h4m70 0h4m-101 1h4m76 0h4m-27 1h4m34 0h4m-107 1h4m35 0h4m23 0h4m-52 2h4m18 0h4m42 0h4m43 0h4m-138 1h4m41 0h4m50 0h4m-71 1h4m19 0h4m-4 1h4m93 0h4m-97 2h4m1 0h4m20 1h4m55 0h4m-1 0h4m-144 2h4m17 0h4m38 1h4m76 0h4m-77 1h4m28 0h4m-54 1h4m1 0h4m-18 2h4m75 0h4m-68 2h4m-90 3h4m17 0h4m37 0h4m82 0h4m-130 1h4m61 0h4m48 0h4m-177 1h4m67 0h4m0 0h4m31 0h4m24 0h4m-27 1h4m0 0h4m44 1h4m-90 2h4m0 2h4m124 1h4m-127 1h4m21 0h4m2 1h4m-121 1h4m179 1h4m-32 1h4m-135 2h4m121 0h4m-126 1h4m52 0h4m-18 1h4m26 0h4m84 0h4m-55 1h4m-87 1h4m-70 2h4m120 0h4m11 0h4m29 0h4m-100 1h4m127 0h4m-115 1h4m-58 2h4m16 1h4m72 0h4m-138 1h4m67 3h4m-78 1h4m27 0h4m101 0h4m-145 3h4m180 0h4m37 0h4m-98 1h4m19 1h4m-42 1h4m-131 1h4m127 1h4m2 1h4m-3 0h4m4 0h4m-115 1h4m12 1h4m83 0h4m43 0h4m-148 2h4m92 0h4m-159 3h4m13 0h4m59 0h4m77 0h4m-32 3h4m126 1h4m-161 1h4m29 0h4m-98 2h4m57 0h4m45 0h4m-45 1h4m109 2h4m-161 1h4m152 1h4m22 1h4m26 0h4m-132 1h4m0 1h4m120 0h4m-133 1h4m21 1h4m-87 2h4m140 0h4m11 0h4m-106 1h4m3 1h4m110 0h4m-128 1h4m-49 1h4m19 0h4m24 0h4m-104 1h4m58 0h4m-93 3h4m74 0h4m0 0h4m156 0h4m10 0h4m-247 2h4m13 0h4m106 1h4m99 0h4m-157 1h4m15 0h4m18 0h4m7 1h4m45 0h4m-153 1h4m29 0h4m160 0h4m-277 1h4m228 0h4m28 0h4m-100 1h4m52 0h4m53 0h4m6 1h4m-177 1h4m-47 1h4m19 0h4m84 0h4m-186 1h4m117 0h4m141 0h4m-46 1h4m63 0h4m-285 1h4m17 0h4m27 0h4m113 0h4m-15 1h4m-2 0h4m41 0h4m65 0h4m-283 1h4m42 0h4m-2 0h4m103 0h4m30 0h4m0 2h4m22 0h4m38 0h4m-173 1h4m83 0h4m-180 1h4m149 0h4m108 0h4m10 0h4m-291 1h4m48 0h4m35 0h4m162 0h4m-184 1h4m141 0h4m-3 0h4m-130 1h4m25 0h4m68 0h4m69 0h4m-238 1h4m170 0h4m-63 1h4m15 0h4m20 0h4m-52 1h4m29 0h4m20 0h4m33 0h4m43 0h4m-131 1h4m30 0h4m-110 1h4m75 0h4m70 0h4m-197 1h4m6 0h4m195 0h4m-233 2h4m102 0h4m-55 1h4m134 0h4m41 0h4m-108 1h4m2 0h4m65 0h4m-95 1h4m13 0h4m-102 1h4m107 0h4m26 0h4m-65 1h4m3 0h4m83 0h4m1 0h4m9 0h4m0 0h4m-81 1h4m-3 0h4m42 0h4m8 1h4m7 0h4m-196 1h4m132 0h4m33 1h4m-213 1h4m84 0h4m14 1h4m81 0h4m38 0h4m-164 1h4m13 0h4m147 0h4m-117 1h4m47 0h4m-18 1h4m13 0h4m43 0h4m-90 1h4m0 0h4m-120 1h4m137 0h4m3 0h4m-86 1h4m115 0h4m-192 1h4m191 0h4m-93 1h4m13 0h4m50 0h4m-45 1h4m9 0h4m-47 2h4m40 0h4m-71 2h4m-41 1h4m156 0h4m-78 1h4m-92 1h4m117 0h4m-173 1h4m77 0h4m0 0h4m37 0h4m73 0h4m-142 1h4m78 0h4m37 0h4m-74 2h4m7 1h4m-131 1h4m118 0h4m-2 0h4m34 0h4m28 0h4m14 0h4m-82 1h4m-1 0h4m-3 0h4m-117 1h4m82 0h4m76 0h4m-157 1h4m51 0h4m-20 1h4m0 1h4m59 1h4m58 0h4m-198 1h4m138 0h4m-135 1h4m-9 1h4m140 0h4m27 0h4m-58 1h4m48 0h4m-49 2h4m-22 1h4m53 0h4m-161 1h4m156 0h4m-164 1h4m91 2h4m48 0h4m-147 1h4m101 0h4m-127 1h4m72 0h4m51 0h4m16 0h4m-1 0h4m30 0h4m-113 1h4m103 0h4m1 0h4m-33 1h4m-3 0h4m2 0h4m-3 0h4m-152 1h4m-20 1h4m87 0h4m1 0h4m50 0h4m-32 1h4m8 0h4m-128 1h4m92 1h4m6 0h4m-120 1h4m137 0h4m-83 1h4m39 0h4m-8 2h4m2 0h4m40 0h4m1 0h4m42 0h4m-109 1h4m15 0h4m-117 1h4m37 0h4m78 0h4m5 0h4m5 0h4m11 0h4m0 0h4m-3 0h4m-43 1h4m22 0h4m33 0h4m-67 2h4m37 0h4m-127 1h4m11 0h4m124 0h4m8 0h4m-117 1h4m4 0h4m78 0h4m7 0h4m7 0h4m-91 1h4m18 1h4m9 0h4m32 0h4m-33 1h4m-76 1h4m30 0h4m52 0h4m-105 1h4m50 0h4m-9 1h4m5 0h4m74 0h4m-115 1h4m-10 1h4m37 0h4m-2 0h4m-2 1h4m41 0h4m-134 1h4m64 0h4m33 0h4m43 0h4m11 0h4m-140 1h4m51 0h4m1 0h4m-56 1h4m-73 1h4m47 0h4m136 0h4m-36 2h4m-115 1h4m44 0h4m23 0h4m2 0h4m-120 1h4m140 0h4m-119 1h4m46 0h4m-75 2h4m12 0h4m105 0h4m-19 1h4m-57 2h4m11 0h4m11 0h4m-24 1h4m11 0h4m25 0h4m35 1h4m-171 3h4m107 0h4m-14 1h4m7 0h4m-127 3h4m163 0h4m-117 1h4m101 1h4m-109 1h4m28 0h4m32 1h4m-27 1h4m28 1h4m16 0h4m-45 1h4m0 0h4m-48 1h4m88 1h4m-57 1h4m0 1h4m19 0h4m16 1h4m-13 1h4m5 0h4m-71 2h4m-5 1h4m35 0h4m-24 3h4m31 1h4m-20 2h4m-70 1h4m33 0h4m-23 3h4m-30 1h4m-37 1h4" stroke="#2b7bba" stroke-width="4"/><path d="M1476 564h4m-87 14h4m91 0h4m17 5h4m-116 4h4m98 1h4m-123 9h4m73 7h4m-44 6h4m0 2h4m-85 8h4m81 1h4m51 1h4m-153 1h4m118 1h4m-76 2h4m74 0h4m-23 4h4m-87 3h4m106 0h4m-50 1h4m23 1h4m-97 2h4m123 2h4m-17 3h4m-172 2h4m-17 9h4m109 6h4m105 1h4m-166 2h4m64 0h4m103 0h4m9 0h4m-192 4h4m-10 2h4m63 0h4m146 2h4m-74 1h4m58 0h4m-190 1h4m1 0h4m-38 1h4m215 6h4m-11 1h4m-141 1h4m-30 1h4m140 0h4m-207 1h4m33 1h4m1 0h4m177 1h4m8 1h4m-217 4h4m177 0h4m-133 1h4m153 0h4m-41 1h4m-219 1h4m40 0h4m80 0h4m-124 1h4m15 1h4m93 0h4m65 1h4m-177 1h4m51 0h4m-53 1h4m18 0h4m-44 1h4m12 0h4m75 0h4m52 2h4m79 0h4m4 1h4m4 0h4m-237 1h4m2 0h4m-9 1h4m17 0h4m30 0h4m21 0h4m7 0h4m-70 2h4m65 1h4m8 2h4m-97 1h4m2 0h4m171 0h4m-146 1h4m6 0h4m37 0h4m-134 1h4m48 0h4m-2 0h4m-44 2h4m23 0h4m19 0h4m173 1h4m-177 2h4m49 1h4m-113 1h4m220 0h4m-224 3h4m27 0h4m6 0h4m13 0h4m24 0h4m-31 1h4m-78 1h4m4 0h4m14 0h4m9 0h4m-16 1h4m128 0h4m46 0h4m-151 2h4m24 0h4m20 0h4m118 0h4m-250 1h4m76 0h4m124 0h4m-137 1h4m16 0h4m141 2h4m-160 2h4m141 0h4m1 0h4m-194 2h4m-39 1h4m5 0h4m17 0h4m103 0h4m-34 1h4m-2 1h4m-39 2h4m101 0h4m-150 1h4m118 0h4m65 0h4m-89 1h4m28 0h4m59 0h4m-156 1h4m5 0h4m13 0h4m-87 1h4m13 0h4m6 1h4m3 0h4m53 0h4m85 0h4m-159 1h4m119 0h4m-59 1h4m-98 1h4m30 0h4m10 0h4m14 0h4m27 0h4m-104 1h4m89 0h4m50 0h4m-109 1h4m21 1h4m42 0h4m-49 1h4m2 1h4m25 0h4m104 0h4m-168 1h4m3 0h4m29 0h4m-96 1h4m23 0h4m2 0h4m-5 1h4m16 0h4m-17 1h4m2 1h4m13 1h4m9 0h4m1 0h4m-73 1h4m39 0h4m-11 1h4m11 0h4m60 0h4m-120 1h4m83 1h4m-87 1h4m12 1h4m-1 1h4m6 0h4m84 1h4m-88 2h4m50 0h4m-77 2h4m45 0h4m111 0h4m-117 1h4m-1 0h4m23 0h4m7 1h4m106 0h4m-172 2h4m28 0h4m8 0h4m42 0h4m24 0h4m36 0h4m-138 1h4m-26 1h4m30 1h4m121 1h4m-163 2h4m-30 2h4m183 0h4m-144 1h4m-1 0h4m101 0h4m-122 1h4m28 1h4m88 0h4m-146 1h4m33 0h4m27 1h4m-72 2h4m38 0h4m-2 0h4m5 0h4m95 1h4m26 0h4m-115 3h4m40 1h4m25 1h4m-161 1h4m195 0h4m-96 1h4m13 2h4m5 0h4m-79 1h4m37 1h4m93 0h4m-135 2h4m6 0h4m114 0h4m-168 1h4m95 1h4m19 0h4m15 0h4m-142 2h4m54 1h4m30 0h4m59 0h4m-88 1h4m-19 1h4m-66 2h4m66 0h4m-41 1h4m77 0h4m-118 1h4m66 0h4m27 0h4m-69 1h4m37 1h4m-111 1h4m118 2h4m1 0h4m25 2h4m-47 1h4m4 0h4m-26 1h4m-20 1h4m77 0h4m-107 1h4m41 0h4m-50 1h4m29 0h4m23 0h4m-49 1h4m78 0h4m-68 1h4m15 0h4m1 1h4m-57 1h4m48 2h4m-16 2h4m1 0h4m-15 2h4m3 0h4m6 0h4m-55 1h4m52 1h4m-13 2h4m12 2h4m-52 3h4m-57 2h4" stroke="#1b9e77" stroke-width="4"/><path d="M1427 564h4m-33 2h4m85 6h4m-25 2h4m31 0h4m-109 1h4m10 0h4m-44 3h4m93 1h4m-114 1h4m31 0h4m106 2h4m-119 2h4m-21 1h4m-28 3h4m10 0h4m-21 3h4m160 0h4m-66 1h4m35 0h4m-68 1h4m88 1h4m-150 1h4m88 1h4m2 0h4m42 0h4m-25 2h4m-1 2h4m6 0h4m12 0h4m-22 1h4m-156 1h4m11 0h4m9 0h4m127 0h4m-146 2h4m0 0h4m-1 0h4m126 0h4m-152 1h4m141 0h4m20 0h4m-4 1h4m-185 1h4m153 0h4m-146 1h4m114 0h4m-99 1h4m44 1h4m64 0h4m30 0h4m-196 1h4m32 0h4m46 0h4m-106 1h4m167 0h4m24 0h4m-189 1h4m16 0h4m8 0h4m5 0h4m9 0h4m123 1h4m-195 1h4m33 1h4m31 0h4m108 0h4m-168 1h4m171 0h4m-188 1h4m31 0h4m137 0h4m-139 1h4m133 0h4m-9 1h4m-178 1h4m-3 0h4m29 0h4m154 0h4m-194 1h4m-25 2h4m-2 0h4m-2 0h4m24 0h4m175 0h4m-126 1h4m-54 1h4m151 1h4m4 1h4m-200 1h4m145 0h4m26 0h4m-17 1h4m-40 1h4m40 0h4m22 0h4m-44 1h4m9 0h4m24 0h4m-189 1h4m127 0h4m-1 0h4m-119 1h4m78 0h4m48 0h4m-35 1h4m17 0h4m14 0h4m-22 1h4m0 0h4m45 0h4m-193 1h4m-6 1h4m9 0h4m96 0h4m29 0h4m35 0h4m-142 1h4m86 0h4m-175 1h4m48 0h4m158 0h4m-234 1h4m35 0h4m97 0h4m33 0h4m43 0h4m-207 1h4m176 0h4m-178 1h4m35 0h4m5 0h4m-16 1h4m17 0h4m40 0h4m27 0h4m39 0h4m5 0h4m0 0h4m21 0h4m-205 1h4m123 0h4m67 0h4m-169 1h4m9 0h4m119 0h4m-181 1h4m150 0h4m48 0h4m-66 1h4m28 0h4m10 0h4m5 0h4m11 0h4m-259 1h4m83 0h4m22 0h4m56 0h4m-136 1h4m56 0h4m111 0h4m39 0h4m-258 1h4m42 0h4m159 0h4m22 0h4m-169 1h4m85 0h4m50 0h4m-222 1h4m34 0h4m-2 0h4m29 0h4m8 0h4m112 0h4m-52 1h4m36 0h4m15 0h4m41 0h4m-171 1h4m6 0h4m117 0h4m7 0h4m-220 1h4m21 0h4m156 0h4m-221 1h4m102 0h4m131 0h4m9 0h4m-1 0h4m-188 1h4m149 0h4m35 0h4m-245 1h4m38 0h4m131 0h4m3 0h4m3 0h4m-3 0h4m-1 0h4m21 0h4m9 0h4m-171 1h4m18 0h4m153 0h4m-239 1h4m147 0h4m-111 1h4m13 0h4m9 0h4m113 0h4m-233 1h4m-2 0h4m13 0h4m233 0h4m-248 1h4m10 0h4m140 0h4m56 0h4m0 0h4m-3 0h4m32 0h4m-242 1h4m1 0h4m186 0h4m19 0h4m-205 1h4m225 0h4m-203 1h4m90 0h4m19 0h4m23 0h4m34 0h4m-255 1h4m139 0h4m-98 1h4m30 0h4m102 0h4m57 0h4m4 0h4m-272 1h4m146 0h4m105 0h4m-219 1h4m21 0h4m51 0h4m58 0h4m90 0h4m-239 1h4m46 0h4m-103 1h4m47 0h4m73 0h4m16 0h4m90 0h4m1 0h4m0 0h4m33 0h4m-190 1h4m134 0h4m8 0h4m-215 1h4m109 0h4m60 0h4m-111 1h4m85 0h4m9 0h4m17 0h4m2 0h4m7 0h4m-73 1h4m-89 1h4m199 0h4m-284 1h4m76 0h4m37 0h4m64 0h4m67 0h4m-286 1h4m45 0h4m34 0h4m130 0h4m45 0h4m-2 0h4m-273 1h4m95 1h4m55 0h4m-149 1h4m94 0h4m70 0h4m35 0h4m-136 1h4m73 0h4m-38 1h4m57 0h4m25 0h4m36 0h4m-227 1h4m47 0h4m128 0h4m2 0h4m32 0h4m-154 1h4m177 0h4m-248 1h4m185 0h4m1 0h4m-224 1h4m34 0h4m32 0h4m18 0h4m15 0h4m24 0h4m13 0h4m47 0h4m-94 1h4m17 0h4m41 0h4m-142 1h4m84 1h4m54 0h4m-93 1h4m3 0h4m116 0h4m-253 1h4m72 0h4m17 0h4m-3 0h4m76 0h4m60 0h4m9 0h4m-189 1h4m106 0h4m-175 1h4m128 0h4m-148 1h4m207 0h4m3 0h4m-213 1h4m89 0h4m75 0h4m-3 0h4m9 0h4m-1 0h4m-108 1h4m16 0h4m-3 0h4m15 0h4m74 0h4m-118 1h4m39 0h4m-147 1h4m213 0h4m-227 1h4m152 0h4m-127 1h4m214 0h4m-152 1h4m153 0h4m-247 1h4m119 0h4m33 0h4m-151 1h4m230 0h4m-263 1h4m111 0h4m-3 0h4m119 0h4m-227 1h4m12 0h4m46 2h4m131 0h4m-2 1h4m-153 2h4m14 1h4m-51 2h4m51 1h4m49 0h4m-61 1h4m70 0h4m55 0h4m-126 1h4m19 0h4m116 0h4m-35 1h4m44 0h4m-70 1h4m62 0h4m1 0h4m-143 1h4m-79 2h4m183 0h4m9 0h4m-196 1h4m139 0h4m-150 1h4m213 1h4m-266 1h4m11 0h4m34 0h4m47 0h4m155 0h4m-199 3h4m188 1h4m-218 3h4m173 1h4m-142 1h4m168 0h4m-162 1h4m141 4h4m-193 3h4m36 0h4m144 2h4m-4 5h4m-193 2h4m33 0h4m165 2h4m-94 1h4m-27 1h4m96 1h4m-169 4h4m167 0h4m-107 2h4m-92 4h4m189 3h4m-180 2h4m139 0h4m25 0h4m-80 1h4m83 0h4m-35 2h4m0 0h4m-96 1h4m-27 1h4m140 1h4m-157 2h4m74 6h4m-106 1h4m128 1h4m-142 2h4m21 5h4m100 0h4m-70 1h4m-38 2h4m107 0h4m-98 1h4m-27 1h4m111 0h4m-143 1h4m19 1h4m11 0h4m6 1h4m-30 2h4m69 2h4m14 0h4m-105 1h4m4 0h4m23 1h4m87 2h4m-117 1h4m122 1h4m-117 3h4m5 1h4m-53 1h4m-2 0h4m4 0h4m31 0h4m35 0h4m-79 1h4m147 0h4m-116 1h4m-13 1h4m-5 1h4m8 1h4m51 0h4m44 0h4m-158 1h4m32 0h4m4 0h4m-45 2h4m64 0h4m86 0h4m-163 2h4m1 0h4m11 1h4m-12 1h4m0 0h4m-12 3h4m-9 1h4m32 0h4m44 0h4m-67 1h4m-13 1h4m27 0h4m-28 4h4m7 0h4m34 0h4m-57 1h4m0 0h4m5 0h4m-20 1h4m-1 0h4m12 0h4m13 0h4m-1 0h4m1 1h4m7 0h4m-33 1h4m-18 2h4m8 0h4m-3 0h4m-1 0h4m-15 3h4" stroke="#d95f02" stroke-width="4"/><path d="M1449 556h4m11 2h4m-37 1h4m8 0h4m-25 2h4m8 0h4m-1 0h4m21 0h4m4 0h4m-26 2h4m-2 2h4m24 0h4m-3 0h4m-46 1h4m9 0h4m-62 1h4m2 0h4m-8 1h4m60 0h4m27 0h4m-70 1h4m-35 1h4m12 0h4m39 0h4m34 0h4m-59 1h4m-33 1h4m67 0h4m-93 1h4m7 0h4m13 0h4m54 0h4m-6 1h4m-44 2h4m42 0h4m-56 2h4m5 0h4m10 0h4m1 0h4m-89 1h4m55 2h4m-54 1h4m110 0h4m-66 1h4m-69 1h4m8 0h4m2 0h4m11 0h4m61 0h4m6 0h4m12 1h4m-63 1h4m80 0h4m-170 2h4m52 0h4m17 1h4m-3 0h4m-87 1h4m55 0h4m7 0h4m36 0h4m1 0h4m10 0h4m1 0h4m36 0h4m-148 1h4m31 0h4m6 0h4m16 0h4m3 0h4m10 0h4m-112 1h4m33 0h4m74 0h4m-123 1h4m20 0h4m2 0h4m49 0h4m28 0h4m31 0h4m17 0h4m-125 1h4m27 0h4m18 0h4m-64 1h4m7 0h4m-42 2h4m70 1h4m-86 1h4m62 0h4m37 0h4m-119 1h4m162 1h4m-96 3h4m-14 1h4m-72 1h4m76 0h4m-14 1h4m51 0h4m15 0h4m10 2h4m11 0h4m-117 1h4m125 0h4m-163 1h4m55 0h4m83 0h4m-173 2h4m157 0h4m-189 1h4m44 0h4m-32 1h4m119 0h4m-6 1h4m-100 1h4m42 0h4m73 0h4m-102 1h4m13 0h4m30 0h4m51 1h4m-166 1h4m10 0h4m45 0h4m24 0h4m10 0h4m0 0h4m49 0h4m-42 2h4m-144 1h4m201 0h4m-161 1h4m94 0h4m-108 1h4m39 0h4m-10 1h4m32 0h4m1 0h4m-8 1h4m-15 1h4m14 0h4m41 0h4m-26 2h4m11 0h4m-47 1h4m25 0h4m-10 1h4m-5 2h4m-123 1h4m48 0h4m58 0h4m-15 1h4m-87 1h4m7 0h4m9 0h4m11 0h4m-41 1h4m77 0h4m74 1h4m-206 4h4m184 0h4m-107 1h4m-50 2h4m92 4h4m25 1h4m-203 2h4m72 1h4m-77 1h4m55 0h4m-11 1h4m-60 1h4m218 1h4m-41 1h4m-170 1h4m119 0h4m-142 1h4m40 0h4m91 0h4m-125 1h4m71 0h4m49 0h4m-4 1h4m21 0h4m-45 1h4m-17 2h4m26 1h4m-23 3h4m-75 1h4m82 0h4m-3 0h4m4 0h4m26 0h4m-38 1h4m94 3h4m-168 1h4m172 0h4m-141 1h4m-38 2h4m92 2h4m-55 2h4m-2 0h4m12 0h4m111 0h4m-199 1h4m55 0h4m-120 1h4m27 0h4m120 0h4m84 0h4m-45 1h4m4 1h4m49 1h4m-266 1h4m72 0h4m91 0h4m1 0h4m-63 1h4m25 1h4m84 1h4m-87 1h4m15 0h4m75 0h4m-279 4h4m63 0h4m48 0h4m11 0h4m37 0h4m-3 0h4m-148 1h4m144 0h4m4 1h4m16 0h4m-118 1h4m149 0h4m-134 1h4m128 2h4m-162 1h4m178 1h4m-214 1h4m125 0h4m51 0h4m-113 1h4m7 0h4m-1 0h4m111 0h4m-179 3h4m78 0h4m106 0h4m-262 1h4m170 0h4m-186 1h4m34 0h4m167 0h4m18 0h4m-184 1h4m73 0h4m72 0h4m-209 1h4m161 0h4m49 0h4m-170 1h4m104 0h4m-55 1h4m5 1h4m2 0h4m7 1h4m32 0h4m26 0h4m-213 1h4m155 0h4m91 1h4m-51 1h4m4 0h4m-73 1h4m48 0h4m50 0h4m-152 1h4m78 0h4m33 0h4m-81 1h4m8 0h4m12 0h4m3 0h4m25 0h4m1 0h4m-81 1h4m7 0h4m30 0h4m-172 1h4m72 0h4m106 0h4m13 0h4m-145 1h4m70 0h4m15 0h4m-45 1h4m19 0h4m99 0h4m-77 1h4m6 0h4m-139 1h4m44 0h4m83 0h4m17 1h4m-50 1h4m27 0h4m28 0h4m-44 1h4m19 0h4m-96 1h4m29 0h4m0 0h4m62 0h4m-91 1h4m39 0h4m52 0h4m12 0h4m-156 1h4m68 0h4m45 0h4m-45 1h4m11 1h4m-119 1h4m74 0h4m9 0h4m-118 1h4m102 0h4m25 0h4m41 0h4m-179 1h4m-44 1h4m123 0h4m48 0h4m2 0h4m-31 1h4m57 0h4m-67 1h4m21 0h4m14 0h4m-112 1h4m67 0h4m8 0h4m-143 1h4m4 0h4m66 0h4m83 0h4m-57 1h4m57 0h4m-100 1h4m38 0h4m3 0h4m-104 1h4m112 0h4m16 1h4m-92 1h4m3 0h4m57 0h4m-51 1h4m4 0h4m24 0h4m38 2h4m5 0h4m-25 1h4m-51 1h4m3 0h4m0 0h4m47 0h4m-80 1h4m27 0h4m34 1h4m-151 2h4m71 0h4m-2 0h4m71 0h4m-80 1h4m66 0h4m-103 1h4m49 1h4m23 1h4m32 0h4m-98 1h4m4 0h4m8 0h4m43 0h4m15 0h4m-152 1h4m103 0h4m22 0h4m19 0h4m-10 1h4m-118 1h4m57 0h4m-137 1h4m159 0h4m25 0h4m-116 1h4m0 0h4m36 0h4m62 1h4m-177 1h4m55 0h4m37 0h4m13 0h4m25 0h4m43 0h4m-64 1h4m18 0h4m-63 1h4m35 1h4m18 0h4m13 0h4m-141 1h4m77 0h4m67 0h4m-135 1h4m-55 1h4m64 0h4m24 0h4m11 0h4m67 0h4m-181 1h4m123 0h4m7 0h4m-63 1h4m8 0h4m20 0h4m58 0h4m-88 1h4m62 0h4m-167 1h4m71 0h4m54 0h4m-17 1h4m62 0h4m-178 2h4m10 0h4m85 0h4m48 0h4m-68 1h4m9 0h4m40 0h4m-156 1h4m46 0h4m48 0h4m21 0h4m-132 2h4m103 0h4m-101 1h4m114 0h4m29 0h4m-118 1h4m1 1h4m4 0h4m94 1h4m-165 1h4m-3 0h4m8 0h4m119 0h4m-107 2h4m35 1h4m32 0h4m-111 1h4m125 0h4m-131 1h4m162 0h4m-104 1h4m32 0h4m25 1h4m53 0h4m-81 1h4m-39 1h4m4 0h4m9 0h4m5 0h4m-69 1h4m94 0h4m-41 1h4m-77 1h4m34 2h4m26 1h4m-40 1h4m-69 1h4m14 4h4m68 3h4m-5 3h4m-30 1h4m24 0h4m9 0h4m9 0h4m-20 1h4m14 0h4m7 3h4m-139 2h4m85 2h4m16 1h4m-49 1h4m45 1h4m-32 1h4m-13 1h4m52 0h4m-56 1h4m41 1h4m-62 1h4m48 0h4m-44 1h4m-62 2h4m108 0h4m-5 1h4m-8 2h4m-85 2h4" stroke="#2b7bba" stroke-width="4"/><path d="M1431 560h4m38 5h4m-84 4h4m-14 6h4m90 6h4m-40 2h4m37 8h4m29 0h4m-17 1h4m-143 7h4m121 2h4m-50 5h4m-63 1h4m-58 18h4m104 6h4m-141 3h4m-4 4h4m231 1h4m-239 5h4m55 5h4m107 1h4m-85 4h4m-84 3h4m169 4h4m-7 3h4m-142 1h4m29 1h4m-21 5h4m32 1h4m162 0h4m-283 2h4m33 0h4m-12 1h4m96 1h4m146 0h4m-247 1h4m241 1h4m-102 1h4m77 0h4m-222 1h4m31 0h4m-19 1h4m90 1h4m-115 1h4m27 0h4m70 0h4m-121 1h4m0 1h4m41 0h4m21 0h4m167 0h4m-216 2h4m196 0h4m-94 1h4m-135 1h4m74 0h4m17 0h4m-64 1h4m33 1h4m14 3h4m30 1h4m-141 1h4m98 1h4m-107 1h4m-3 0h4m65 0h4m-54 1h4m12 0h4m-10 1h4m-27 1h4m-18 1h4m53 0h4m178 0h4m-231 1h4m65 0h4m3 0h4m40 0h4m-123 2h4m9 0h4m-39 2h4m227 0h4m20 0h4m-232 2h4m11 0h4m15 0h4m180 0h4m-208 1h4m-39 1h4m11 0h4m66 0h4m-105 1h4m13 0h4m9 0h4m-10 1h4m-3 0h4m46 0h4m155 0h4m-90 1h4m49 0h4m-174 2h4m-1 0h4m38 0h4m-56 1h4m21 0h4m-36 1h4m14 1h4m16 0h4m56 0h4m19 0h4m-108 1h4m41 0h4m2 0h4m34 0h4m98 0h4m-223 1h4m110 0h4m-85 1h4m70 0h4m-127 1h4m61 1h4m44 0h4m22 0h4m-79 1h4m48 1h4m131 0h4m-144 2h4m26 0h4m-3 0h4m104 0h4m-185 1h4m169 0h4m-118 1h4m29 0h4m-82 1h4m-21 1h4m39 0h4m26 0h4m-117 1h4m27 0h4m28 0h4m0 0h4m54 0h4m-47 1h4m-22 1h4m-17 1h4m33 0h4m10 0h4m80 1h4m-144 1h4m118 0h4m-169 1h4m77 0h4m141 0h4m-225 1h4m104 2h4m-4 2h4m33 0h4m-88 1h4m132 1h4m-103 1h4m7 0h4m96 0h4m-137 1h4m-2 0h4m9 1h4m49 0h4m-134 1h4m33 0h4m-41 2h4m69 1h4m61 0h4m-108 1h4m40 0h4m22 0h4m44 0h4m-105 1h4m10 0h4m-26 1h4m31 0h4m-34 2h4m45 0h4m-41 1h4m32 1h4m-94 2h4m41 0h4m39 0h4m-71 1h4m35 0h4m54 0h4m44 0h4m-173 1h4m26 0h4m167 0h4m-177 1h4m16 0h4m51 0h4m-8 1h4m111 0h4m-175 1h4m32 0h4m-42 1h4m35 0h4m-2 1h4m-3 1h4m65 0h4m23 0h4m-119 1h4m120 0h4m-2 0h4m-90 1h4m-27 1h4m97 0h4m-149 1h4m27 1h4m69 0h4m-57 1h4m-22 1h4m17 2h4m101 0h4m-158 1h4m33 0h4m4 0h4m-44 1h4m124 0h4m41 0h4m-2 1h4m-162 1h4m30 0h4m106 0h4m-141 1h4m47 0h4m-48 1h4m143 1h4m-193 2h4m163 0h4m-180 1h4m14 0h4m18 0h4m17 0h4m113 0h4m-181 1h4m133 0h4m-74 1h4m104 0h4m-163 1h4m14 0h4m-34 1h4m170 0h4m-103 1h4m80 1h4m20 0h4m12 0h4m-173 1h4m132 0h4m7 0h4m14 0h4m-156 1h4m29 0h4m9 0h4m-2 0h4m62 0h4m13 0h4m-89 1h4m-29 1h4m106 0h4m11 0h4m-145 1h4m10 0h4m114 0h4m15 0h4m-192 1h4m102 0h4m50 0h4m-119 1h4m115 0h4m14 1h4m-65 1h4m-85 1h4m71 0h4m46 0h4m-23 1h4m-72 1h4m6 0h4m92 0h4m-136 1h4m-38 1h4m20 0h4m136 0h4m-112 2h4m3 1h4m-31 1h4m18 1h4m34 0h4m-7 3h4m32 0h4m-63 1h4m35 0h4m-64 1h4m52 0h4m17 1h4m-52 3h4m35 0h4m-78 1h4m23 0h4m29 0h4m-1 1h4m-33 1h4m2 0h4m19 0h4m-79 1h4m74 2h4m-44 1h4m-91 1h4m74 0h4m26 0h4m4 1h4m-60 1h4m28 2h4m29 0h4m-75 1h4m-5 1h4m36 0h4m-3 1h4m32 0h4m-19 1h4m-83 1h4m68 1h4m-107 1h4m97 0h4m-54 2h4m-32 2h4m-24 3h4" stroke="#1b9e77" stroke-width="4"/><path d="M1458 553h4m-70 14h4m68 1h4m-62 2h4m60 1h4m-9 7h4m-107 2h4m3 0h4m33 2h4m79 0h4m-118 3h4m127 0h4m-113 2h4m104 0h4m-161 1h4m29 1h4m-10 1h4m110 1h4m-109 1h4m-21 1h4m141 0h4m5 0h4m-171 2h4m17 0h4m-3 0h4m78 1h4m-116 1h4m13 0h4m120 0h4m31 0h4m-157 1h4m-40 1h4m142 0h4m14 0h4m3 0h4m13 0h4m-35 1h4m-163 1h4m171 0h4m-31 1h4m-102 1h4m97 0h4m-103 1h4m118 0h4m-133 1h4m12 0h4m112 0h4m-187 3h4m48 0h4m7 0h4m92 1h4m-101 1h4m132 0h4m-45 2h4m19 0h4m3 0h4m0 0h4m-179 1h4m-22 1h4m17 0h4m151 0h4m-118 1h4m119 0h4m-177 1h4m-2 0h4m23 0h4m123 0h4m-169 1h4m0 0h4m159 0h4m22 1h4m-174 1h4m0 0h4m72 0h4m17 0h4m15 0h4m-127 1h4m124 0h4m11 0h4m3 0h4m-189 1h4m1 1h4m-2 0h4m6 0h4m64 0h4m60 0h4m19 0h4m-171 1h4m31 0h4m138 0h4m-166 1h4m180 0h4m-212 1h4m69 0h4m126 0h4m-31 1h4m15 0h4m-179 2h4m8 0h4m118 0h4m-110 1h4m1 0h4m106 0h4m39 0h4m-188 1h4m10 0h4m20 0h4m11 0h4m111 0h4m-190 1h4m47 0h4m4 0h4m102 0h4m-151 1h4m137 0h4m-149 1h4m11 0h4m27 0h4m-3 0h4m15 0h4m79 0h4m24 0h4m-3 0h4m2 0h4m18 0h4m-209 1h4m189 0h4m-211 1h4m191 0h4m-169 1h4m12 0h4m12 0h4m5 0h4m1 0h4m94 0h4m42 0h4m-176 1h4m-1 0h4m104 0h4m-160 1h4m7 0h4m9 0h4m36 0h4m-83 1h4m34 0h4m7 0h4m-19 1h4m3 0h4m191 0h4m-245 1h4m173 0h4m-170 1h4m185 0h4m-203 1h4m220 0h4m11 0h4m-34 1h4m-140 1h4m-1 0h4m76 0h4m67 0h4m-237 1h4m80 0h4m-61 1h4m10 0h4m18 0h4m0 0h4m119 0h4m41 0h4m-57 1h4m-123 1h4m3 0h4m90 0h4m14 0h4m20 0h4m34 0h4m-255 1h4m29 0h4m43 0h4m-38 1h4m176 0h4m-171 1h4m13 0h4m157 0h4m-177 1h4m166 0h4m8 0h4m-245 1h4m47 0h4m4 0h4m124 0h4m20 0h4m-174 1h4m143 0h4m4 0h4m13 0h4m34 0h4m-154 1h4m136 0h4m-235 1h4m-2 0h4m60 0h4m84 0h4m68 0h4m-64 1h4m3 0h4m-143 1h4m179 0h4m-216 1h4m59 0h4m104 0h4m3 0h4m47 0h4m-78 1h4m18 0h4m-217 1h4m-3 0h4m98 0h4m23 0h4m55 0h4m31 0h4m-212 1h4m111 0h4m37 0h4m19 0h4m40 0h4m12 0h4m8 0h4m-232 1h4m21 0h4m43 0h4m121 0h4m-142 1h4m92 0h4m40 0h4m-233 1h4m269 0h4m-165 1h4m55 0h4m44 0h4m4 0h4m9 0h4m-238 1h4m48 0h4m-61 1h4m64 0h4m-40 1h4m32 0h4m-39 1h4m65 0h4m-41 1h4m27 0h4m21 0h4m60 0h4m25 0h4m-129 1h4m100 0h4m71 0h4m-7 2h4m-239 1h4m18 0h4m182 0h4m-138 1h4m84 0h4m51 0h4m-181 1h4m74 0h4m7 0h4m41 0h4m53 0h4m-232 1h4m72 0h4m9 0h4m54 0h4m30 0h4m16 0h4m-3 0h4m31 0h4m-282 1h4m119 0h4m20 0h4m85 0h4m-188 1h4m98 0h4m25 0h4m55 0h4m-186 1h4m38 0h4m71 0h4m26 0h4m-3 0h4m16 0h4m34 0h4m-267 1h4m58 0h4m100 0h4m12 0h4m65 0h4m-267 1h4m37 0h4m156 0h4m-193 1h4m44 0h4m133 0h4m53 0h4m-251 1h4m32 0h4m13 0h4m-1 0h4m65 0h4m75 0h4m50 0h4m-227 1h4m21 0h4m185 0h4m-251 1h4m117 0h4m22 0h4m74 0h4m11 0h4m27 0h4m-171 1h4m-114 1h4m9 0h4m16 0h4m60 0h4m93 0h4m49 0h4m-241 1h4m161 1h4m24 0h4m1 0h4m39 0h4m-130 1h4m102 0h4m18 0h4m7 0h4m-126 1h4m0 0h4m-50 1h4m1 0h4m113 0h4m-190 1h4m227 0h4m-274 1h4m132 0h4m42 0h4m72 0h4m-245 1h4m115 0h4m15 0h4m96 0h4m-38 2h4m48 0h4m-252 1h4m67 0h4m3 0h4m70 0h4m5 0h4m-167 1h4m109 1h4m90 0h4m58 0h4m-271 1h4m44 0h4m63 0h4m83 0h4m-219 1h4m22 0h4m111 0h4m14 0h4m-139 1h4m104 0h4m102 0h4m1 0h4m-250 1h4m128 0h4m94 0h4m14 0h4m-110 1h4m17 1h4m-153 1h4m95 0h4m98 0h4m-217 1h4m84 0h4m161 0h4m-251 1h4m3 1h4m28 1h4m19 0h4m-67 1h4m112 0h4m25 0h4m-130 3h4m3 0h4m46 0h4m35 0h4m2 0h4m-116 1h4m198 1h4m-97 1h4m23 0h4m-70 1h4m186 0h4m-257 4h4m185 2h4m48 0h4m-245 3h4m-3 0h4m189 0h4m-40 1h4m69 0h4m-63 1h4m54 2h4m-116 1h4m116 1h4m-140 1h4m77 0h4m-106 1h4m69 0h4m9 0h4m67 0h4m-22 3h4m-23 1h4m34 2h4m-10 3h4m-36 4h4m-109 6h4m2 4h4m-42 3h4m78 3h4m43 3h4m-117 1h4m150 1h4m-78 4h4m-9 2h4m-32 1h4m-1 7h4m96 0h4m8 6h4m-118 1h4m-50 1h4m116 2h4m0 0h4m-110 1h4m-23 1h4m96 1h4m-105 2h4m35 0h4m53 3h4m-40 4h4m117 0h4m-178 1h4m33 1h4m-45 2h4m17 0h4m-7 2h4m110 0h4m23 1h4m-179 2h4m22 2h4m10 1h4m-2 0h4m-35 1h4m20 1h4m-3 0h4m104 2h4m-115 1h4m7 1h4m26 0h4m37 0h4m-103 1h4m33 0h4m-55 1h4m19 0h4m128 0h4m-156 1h4m40 0h4m30 0h4m-36 1h4m0 0h4m-44 1h4m34 0h4m8 0h4m-33 1h4m15 0h4m27 0h4m60 0h4m-138 2h4m27 0h4m49 0h4m-95 1h4m9 0h4m2 0h4m14 0h4m36 0h4m-88 1h4m32 0h4m17 0h4m-39 1h4m23 0h4m-45 1h4m33 0h4m-3 0h4m5 0h4m2 0h4m-4 1h4m-3 0h4m1 0h4m-48 1h4m-6 1h4m36 1h4m-45 1h4m31 1h4m8 2h4m-41 1h4" stroke="#d95f02" stroke-width="4"/><path d="M1441 555h4m-13 5h4m19 0h4m-52 1h4m60 0h4m-57 1h4m22 1h4m18 0h4m-61 1h4m24 0h4m-46 1h4m84 0h4m-90 1h4m8 2h4m68 0h4m-82 1h4m13 1h4m26 0h4m-33 1h4m32 0h4m7 1h4m-61 1h4m-3 0h4m26 0h4m13 0h4m-55 1h4m20 0h4m41 0h4m-23 1h4m-49 1h4m-35 2h4m12 0h4m46 0h4m25 0h4m-62 2h4m36 0h4m-58 1h4m-2 0h4m24 0h4m-76 1h4m-14 1h4m106 0h4m11 0h4m-110 1h4m33 0h4m8 0h4m39 1h4m8 0h4m-52 1h4m-2 0h4m-54 1h4m15 0h4m32 0h4m22 0h4m-52 1h4m72 0h4m5 0h4m-138 1h4m30 0h4m49 0h4m-83 1h4m71 0h4m41 0h4m-148 1h4m51 0h4m-57 1h4m61 0h4m-51 1h4m39 0h4m26 0h4m13 0h4m24 0h4m-27 1h4m-40 1h4m10 0h4m9 0h4m-19 1h4m25 0h4m-86 1h4m51 0h4m14 0h4m16 0h4m-3 0h4m-35 1h4m-73 1h4m83 0h4m36 0h4m-144 1h4m108 0h4m-94 1h4m66 0h4m16 0h4m-130 1h4m33 0h4m58 1h4m-116 1h4m100 0h4m0 0h4m34 0h4m-155 1h4m18 0h4m51 0h4m38 0h4m-2 0h4m-49 1h4m73 0h4m-58 1h4m91 0h4m-153 1h4m143 0h4m-134 1h4m83 0h4m-143 1h4m71 0h4m20 0h4m11 0h4m24 0h4m-18 1h4m-120 1h4m-24 1h4m103 1h4m6 0h4m18 1h4m21 1h4m-156 1h4m57 0h4m-22 1h4m50 0h4m68 0h4m-175 1h4m49 0h4m17 0h4m24 0h4m-23 1h4m23 0h4m-17 1h4m-70 1h4m76 0h4m-145 1h4m16 0h4m59 0h4m1 0h4m6 0h4m33 0h4m-75 2h4m8 1h4m-31 1h4m65 0h4m-14 1h4m12 0h4m-134 1h4m81 0h4m69 1h4m-5 1h4m-2 0h4m7 0h4m-53 1h4m-107 1h4m127 0h4m-131 1h4m102 0h4m-25 1h4m6 3h4m-99 2h4m138 0h4m-18 2h4m-25 1h4m-124 1h4m115 0h4m46 1h4m-179 1h4m9 1h4m123 0h4m-2 0h4m2 1h4m-83 1h4m33 0h4m-127 1h4m73 0h4m50 1h4m-95 1h4m95 1h4m15 0h4m-21 2h4m17 0h4m83 0h4m-241 1h4m23 1h4m50 1h4m3 0h4m18 0h4m-110 1h4m97 0h4m-102 1h4m74 0h4m-14 1h4m80 0h4m-202 1h4m204 0h4m57 0h4m-223 1h4m107 1h4m84 0h4m-162 2h4m-13 1h4m183 0h4m-161 1h4m40 0h4m-64 1h4m13 0h4m118 0h4m-181 1h4m199 0h4m-235 1h4m201 0h4m-211 2h4m121 0h4m119 0h4m-146 1h4m94 0h4m-88 1h4m57 2h4m74 0h4m0 0h4m-139 2h4m9 0h4m87 0h4m20 1h4m-250 1h4m247 0h4m-261 1h4m73 0h4m-42 1h4m62 0h4m30 0h4m-132 2h4m117 2h4m18 0h4m-154 1h4m2 0h4m186 1h4m-17 3h4m-140 1h4m82 0h4m7 0h4m-47 1h4m103 0h4m-208 1h4m86 0h4m91 0h4m-96 1h4m116 0h4m-59 1h4m-87 2h4m144 1h4m-2 0h4m-3 0h4m13 1h4m-221 1h4m28 0h4m45 0h4m43 0h4m-38 1h4m130 0h4m-180 1h4m39 0h4m55 0h4m2 0h4m0 0h4m-134 1h4m71 0h4m91 1h4m-223 1h4m24 1h4m137 2h4m63 0h4m-12 1h4m-202 1h4m12 0h4m63 0h4m-134 1h4m23 0h4m33 0h4m0 0h4m59 0h4m52 1h4m-2 0h4m21 0h4m10 0h4m13 0h4m-176 1h4m23 0h4m121 0h4m14 0h4m-30 1h4m-79 1h4m101 0h4m-138 1h4m99 0h4m-236 1h4m41 0h4m129 0h4m10 0h4m51 0h4m-233 1h4m33 0h4m-19 1h4m167 0h4m-160 1h4m52 0h4m34 0h4m-22 1h4m24 0h4m16 0h4m-150 1h4m140 2h4m59 0h4m-137 1h4m55 0h4m46 0h4m27 0h4m-159 1h4m77 2h4m15 0h4m32 1h4m-127 1h4m91 0h4m-110 1h4m22 0h4m29 0h4m60 0h4m-81 1h4m15 1h4m-9 1h4m1 0h4m1 0h4m41 0h4m-199 1h4m15 0h4m69 0h4m89 1h4m-98 1h4m47 0h4m48 0h4m8 0h4m6 0h4m1 0h4m4 0h4m-225 1h4m198 0h4m9 0h4m-70 1h4m62 0h4m-135 1h4m-23 2h4m29 0h4m45 0h4m40 2h4m38 0h4m-216 1h4m134 0h4m54 0h4m-132 1h4m71 0h4m-79 1h4m41 0h4m45 0h4m20 1h4m-62 1h4m16 0h4m17 0h4m-3 0h4m-182 1h4m117 0h4m0 0h4m8 0h4m-108 1h4m6 0h4m19 0h4m49 0h4m-106 2h4m63 1h4m31 0h4m18 0h4m33 0h4m-23 1h4m-137 1h4m94 0h4m-125 1h4m170 0h4m-2 0h4m5 0h4m15 2h4m-198 1h4m81 0h4m69 0h4m-161 1h4m157 0h4m-18 1h4m36 0h4m-82 1h4m37 0h4m1 0h4m18 0h4m-54 1h4m-55 1h4m-8 1h4m-3 0h4m-76 1h4m100 0h4m92 2h4m-201 1h4m61 0h4m108 0h4m-170 1h4m46 0h4m62 1h4m26 0h4m32 0h4m-195 1h4m51 0h4m116 0h4m-86 1h4m84 0h4m-79 1h4m-1 0h4m7 0h4m55 1h4m-44 1h4m-2 0h4m58 2h4m-107 2h4m85 0h4m-3 1h4m-67 1h4m78 0h4m-135 1h4m22 0h4m21 0h4m16 0h4m20 0h4m5 0h4m6 1h4m-99 2h4m60 1h4m-1 0h4m-129 1h4m15 0h4m124 0h4m9 1h4m-129 1h4m60 0h4m-79 1h4m42 0h4m-88 1h4m121 1h4m-32 1h4m18 0h4m26 1h4m-100 1h4m83 0h4m-126 1h4m58 0h4m52 0h4m-11 1h4m-75 1h4m20 0h4m35 0h4m19 0h4m-99 2h4m105 0h4m-132 1h4m-21 2h4m52 0h4m21 0h4m-36 1h4m53 0h4m28 0h4m-139 1h4m21 0h4m69 0h4m28 0h4m2 2h4m-16 1h4m-32 1h4m47 2h4m-139 1h4m126 0h4m-10 1h4m-125 1h4m46 1h4m-2 0h4m42 0h4m24 1h4m-59 1h4m-55 2h4m78 0h4m14 0h4m0 0h4m-95 1h4m43 0h4m1 0h4m23 0h4m-58 6h4m-1 0h4m9 0h4m25 0h4m-101 1h4m44 0h4m38 0h4m-70 3h4m7 0h4m17 1h4m40 2h4m-87 6h4m13 0h4m-44 1h4m41 1h4m-21 2h4m-32 4h4" stroke="#2b7bba" stroke-width="4"/><path d="M1425 565h4m43 0h4m-89 12h4m16 1h4m81 0h4m-86 3h4m45 0h4m16 1h4m-93 2h4m10 0h4m87 12h4m-123 3h4m46 1h4m49 0h4m37 0h4m-177 2h4m170 1h4m-184 4h4m155 0h4m-29 4h4m2 1h4m-80 4h4m24 7h4m-11 7h4m-13 1h4m79 1h4m-153 2h4m78 0h4m-53 2h4m-47 2h4m129 1h4m-148 4h4m165 1h4m-29 1h4m-192 4h4m18 5h4m-22 1h4m33 0h4m108 3h4m-57 3h4m-5 2h4m-85 7h4m180 0h4m48 0h4m-171 2h4m-36 2h4m202 0h4m-250 1h4m14 6h4m221 1h4m-210 3h4m32 0h4m177 1h4m-186 4h4m192 3h4m-167 1h4m9 0h4m1 0h4m135 0h4m-211 1h4m70 0h4m111 0h4m-240 1h4m198 0h4m-160 1h4m-37 1h4m205 0h4m-236 3h4m8 0h4m97 0h4m57 0h4m-115 1h4m191 0h4m0 0h4m-290 1h4m26 1h4m81 0h4m116 0h4m-81 1h4m-11 1h4m17 0h4m-161 2h4m55 0h4m92 2h4m-65 1h4m172 1h4m-251 2h4m243 0h4m-251 2h4m-1 1h4m14 0h4m27 0h4m26 2h4m35 0h4m-120 1h4m48 0h4m27 0h4m-2 0h4m6 0h4m-91 1h4m-20 1h4m125 0h4m-150 1h4m63 0h4m7 0h4m-29 1h4m-57 1h4m8 0h4m41 2h4m-39 1h4m-3 0h4m77 0h4m4 0h4m-81 1h4m18 0h4m44 2h4m22 0h4m-107 1h4m8 0h4m-18 1h4m4 2h4m43 0h4m6 0h4m57 0h4m-95 1h4m28 0h4m46 0h4m-84 1h4m1 0h4m8 0h4m29 0h4m103 0h4m-59 2h4m-134 1h4m60 0h4m15 0h4m-28 2h4m32 0h4m-23 1h4m11 0h4m30 0h4m-34 1h4m-54 2h4m9 0h4m-18 2h4m57 0h4m-2 0h4m-99 1h4m-2 0h4m40 0h4m16 0h4m13 0h4m-11 1h4m-2 0h4m6 1h4m-91 1h4m-12 1h4m199 0h4m-136 1h4m8 1h4m-76 1h4m12 1h4m-1 0h4m41 0h4m-3 0h4m25 0h4m-55 2h4m-21 2h4m13 0h4m10 0h4m115 0h4m20 0h4m-159 1h4m86 0h4m-102 1h4m-25 1h4m160 0h4m-183 3h4m21 1h4m14 0h4m38 0h4m14 0h4m14 0h4m-107 1h4m-2 1h4m27 0h4m124 0h4m-154 1h4m13 0h4m148 0h4m-158 1h4m153 0h4m-164 1h4m37 0h4m-62 1h4m54 1h4m120 1h4m-95 1h4m-103 2h4m30 1h4m10 0h4m91 0h4m15 0h4m-154 1h4m28 1h4m-1 1h4m-1 1h4m111 0h4m-151 1h4m99 0h4m-83 1h4m135 0h4m-72 2h4m-73 1h4m27 0h4m117 0h4m-33 1h4m-57 1h4m41 0h4m20 0h4m-1 0h4m-159 1h4m166 0h4m-73 1h4m4 0h4m51 0h4m-111 1h4m14 0h4m19 1h4m39 1h4m25 0h4m-25 1h4m-173 1h4m30 0h4m75 1h4m53 1h4m-92 1h4m-41 1h4m-1 0h4m18 0h4m19 0h4m37 0h4m29 0h4m-96 1h4m104 0h4m-160 1h4m61 1h4m73 0h4m-164 1h4m126 0h4m29 0h4m-123 1h4m23 0h4m45 1h4m42 0h4m-106 1h4m25 0h4m23 2h4m-67 4h4m44 0h4m39 1h4m-67 1h4m39 0h4m-72 1h4m47 0h4m24 3h4m-77 1h4m27 0h4m17 0h4m-132 1h4m91 0h4m-82 1h4m34 0h4m28 0h4m14 0h4m-113 2h4m69 1h4m62 0h4m-15 1h4m-48 1h4m-96 2h4m69 0h4m24 0h4m29 0h4m-32 1h4m-2 0h4m-21 2h4m7 0h4m-49 1h4m62 0h4m5 1h4m-56 1h4m13 0h4m31 0h4m-26 2h4m-27 1h4m16 0h4m-94 2h4m103 1h4" stroke="#1b9e77" stroke-width="4"/><path d="M1453 553h4m-40 7h4m62 7h4m-87 3h4m87 0h4m-16 1h4m-110 3h4m97 0h4m-102 1h4m-7 2h4m-1 0h4m90 1h4m-102 1h4m27 0h4m70 3h4m-123 1h4m7 0h4m33 0h4m6 0h4m68 0h4m-107 2h4m-3 0h4m24 0h4m66 0h4m22 1h4m-20 1h4m14 0h4m-25 1h4m10 1h4m10 0h4m-141 1h4m-18 1h4m143 0h4m-4 1h4m-152 1h4m7 0h4m-29 1h4m14 0h4m-2 0h4m-32 1h4m24 0h4m11 0h4m99 0h4m-136 1h4m37 0h4m114 0h4m-181 1h4m1 0h4m105 0h4m-99 1h4m146 1h4m-38 1h4m-135 3h4m0 0h4m99 0h4m67 0h4m-193 1h4m37 0h4m9 0h4m-47 1h4m145 0h4m-169 1h4m45 0h4m120 2h4m17 0h4m-201 1h4m184 3h4m-140 1h4m60 0h4m23 1h4m2 0h4m45 0h4m-212 1h4m24 0h4m176 0h4m-138 1h4m134 0h4m-3 0h4m-210 1h4m39 0h4m-39 1h4m-3 0h4m32 0h4m24 0h4m99 0h4m29 0h4m-205 1h4m139 0h4m-2 0h4m-148 1h4m24 0h4m18 0h4m-76 1h4m53 0h4m-5 1h4m95 0h4m49 0h4m-166 1h4m115 0h4m52 0h4m-214 1h4m61 0h4m-24 1h4m150 0h4m-185 1h4m134 0h4m-156 1h4m187 0h4m9 1h4m-163 1h4m150 0h4m-146 1h4m122 0h4m-168 1h4m27 0h4m-27 1h4m83 0h4m42 0h4m0 0h4m-145 1h4m1 0h4m-16 1h4m24 0h4m81 0h4m-2 0h4m12 0h4m0 0h4m-23 1h4m11 0h4m-156 1h4m4 0h4m16 0h4m19 0h4m89 0h4m22 0h4m-141 1h4m9 0h4m6 0h4m101 0h4m-2 0h4m-1 0h4m8 0h4m-168 1h4m17 0h4m134 0h4m33 0h4m-184 1h4m-2 0h4m133 0h4m-152 1h4m-23 1h4m4 0h4m135 0h4m-174 1h4m23 0h4m183 0h4m-211 1h4m10 0h4m55 0h4m94 0h4m43 0h4m2 0h4m-197 1h4m3 0h4m17 0h4m96 0h4m-168 1h4m14 0h4m2 0h4m148 0h4m34 0h4m-149 1h4m123 0h4m-141 1h4m2 0h4m83 0h4m15 0h4m-108 1h4m12 0h4m-91 1h4m10 0h4m134 0h4m51 0h4m4 0h4m17 0h4m-225 1h4m30 0h4m35 0h4m123 0h4m-128 1h4m100 0h4m2 0h4m-193 1h4m41 0h4m114 0h4m33 0h4m-191 1h4m9 0h4m120 0h4m17 0h4m-180 1h4m74 0h4m125 0h4m-148 1h4m15 1h4m113 0h4m15 0h4m-229 1h4m173 0h4m28 0h4m-214 1h4m31 0h4m14 0h4m125 0h4m42 0h4m0 0h4m-242 1h4m28 0h4m-3 0h4m162 0h4m-153 1h4m14 0h4m13 0h4m79 0h4m-2 0h4m-158 1h4m-3 0h4m113 0h4m76 0h4m34 0h4m-23 1h4m-193 1h4m53 0h4m15 0h4m116 0h4m-195 1h4m5 0h4m127 0h4m14 0h4m-110 1h4m58 0h4m83 0h4m-67 1h4m30 0h4m20 0h4m-256 1h4m98 0h4m22 0h4m75 0h4m-220 1h4m-4 1h4m44 0h4m57 0h4m9 0h4m79 0h4m17 0h4m13 0h4m-73 1h4m36 0h4m-135 1h4m8 0h4m44 0h4m-145 2h4m27 0h4m93 0h4m39 0h4m-169 1h4m42 0h4m143 0h4m14 0h4m37 0h4m-176 1h4m134 0h4m31 0h4m-232 1h4m3 0h4m157 0h4m-1 0h4m49 0h4m-83 1h4m-1 0h4m-197 1h4m66 0h4m32 0h4m22 0h4m70 0h4m9 0h4m69 0h4m-245 1h4m97 0h4m104 0h4m-250 1h4m103 0h4m83 0h4m9 0h4m-225 1h4m87 0h4m85 0h4m63 0h4m-1 0h4m33 0h4m-172 1h4m45 0h4m66 0h4m-194 1h4m135 0h4m49 0h4m2 0h4m-141 1h4m58 0h4m54 1h4m-229 1h4m164 0h4m44 0h4m-3 0h4m8 0h4m17 0h4m-259 1h4m60 0h4m30 0h4m7 0h4m30 0h4m27 0h4m8 0h4m33 0h4m-71 1h4m-144 1h4m226 0h4m-169 1h4m41 0h4m12 0h4m88 0h4m55 1h4m-298 1h4m4 0h4m114 0h4m28 0h4m64 0h4m0 0h4m-233 1h4m6 0h4m253 0h4m-258 1h4m-2 0h4m201 0h4m2 0h4m-221 1h4m-1 0h4m151 0h4m48 0h4m24 0h4m15 0h4m-257 1h4m77 0h4m25 0h4m-114 1h4m57 0h4m163 0h4m11 0h4m-247 1h4m0 1h4m-2 0h4m-3 0h4m-2 0h4m194 0h4m-60 1h4m12 0h4m71 0h4m-74 1h4m28 0h4m0 0h4m41 0h4m-263 1h4m46 0h4m34 0h4m101 0h4m-28 1h4m-168 1h4m10 1h4m155 0h4m-172 1h4m19 0h4m185 0h4m46 0h4m-271 1h4m50 0h4m205 0h4m-164 1h4m-2 0h4m-26 1h4m-69 1h4m190 0h4m-201 1h4m190 0h4m29 0h4m17 0h4m10 1h4m-280 1h4m111 0h4m-91 1h4m188 0h4m-102 1h4m71 1h4m-121 1h4m124 1h4m-184 1h4m178 0h4m52 0h4m-177 1h4m157 0h4m-243 1h4m92 0h4m49 0h4m-146 1h4m139 1h4m-150 1h4m37 0h4m-4 1h4m66 1h4m-122 2h4m42 0h4m70 0h4m-94 1h4m117 1h4m-75 2h4m1 0h4m24 0h4m113 2h4m-171 2h4m24 1h4m157 0h4m-179 1h4m92 1h4m13 0h4m-159 1h4m47 4h4m157 0h4m-77 2h4m15 0h4m-138 2h4m75 0h4m-95 1h4m94 2h4m-103 1h4m-10 4h4m160 0h4m-26 2h4m-52 2h4m-38 3h4m47 2h4m-65 1h4m-13 2h4m139 4h4m-66 5h4m75 0h4m-9 1h4m-120 1h4m126 0h4m5 6h4m-40 4h4m-139 2h4m115 0h4m21 0h4m-19 3h4m-134 1h4m-3 0h4m74 0h4m-48 1h4m-3 0h4m98 3h4m13 1h4m-160 1h4m-13 2h4m10 0h4m140 0h4m-140 1h4m118 0h4m-140 1h4m3 0h4m-21 1h4m11 0h4m32 0h4m59 0h4m-97 2h4m31 0h4m11 1h4m-64 1h4m-2 2h4m49 0h4m-57 1h4m12 1h4m-10 1h4m-9 1h4m14 0h4m-20 2h4m7 0h4m45 2h4m66 1h4m-155 1h4m12 0h4m22 0h4m0 0h4m116 0h4m-33 1h4m-142 1h4m26 0h4m17 0h4m2 0h4m-32 1h4m13 0h4m-14 2h4m0 0h4m1 0h4m103 1h4m-12 1h4m-133 1h4m-10 1h4m141 1h4m-132 1h4m-16 2h4m121 1h4m-56 2h4m-80 1h4m15 0h4m-2 0h4m77 0h4m-90 2h4m10 2h4m36 0h4m-21 1h4m-24 1h4m-14 1h4m36 2h4m-25 2h4m-19 1h4m0 0h4" stroke="#d95f02" stroke-width="4"/><path d="M1442 556h4m6 2h4m6 1h4m1 1h4m-40 3h4m12 0h4m19 0h4m-52 1h4m4 2h4m2 1h4m13 0h4m-48 4h4m40 0h4m19 0h4m-43 1h4m-1 2h4m11 0h4m-5 1h4m13 0h4m-102 1h4m75 0h4m-3 0h4m19 0h4m1 0h4m-28 1h4m-73 2h4m-20 1h4m26 0h4m8 0h4m22 0h4m-3 0h4m41 0h4m-74 1h4m23 0h4m13 0h4m45 0h4m-150 1h4m-2 2h4m116 0h4m-3 0h4m-58 1h4m33 0h4m-2 0h4m6 0h4m-110 1h4m54 0h4m69 0h4m-86 1h4m79 0h4m-148 1h4m64 0h4m14 0h4m-108 1h4m40 0h4m33 0h4m38 0h4m-68 1h4m15 0h4m36 0h4m1 0h4m-48 1h4m3 0h4m-72 1h4m31 0h4m25 0h4m-84 1h4m-2 0h4m100 0h4m-13 2h4m29 0h4m-88 1h4m9 1h4m83 0h4m-1 0h4m-122 4h4m37 0h4m78 0h4m-71 1h4m-29 2h4m58 0h4m-89 1h4m119 0h4m-135 1h4m45 0h4m53 0h4m0 0h4m-104 1h4m4 0h4m13 0h4m21 0h4m-2 0h4m-81 1h4m31 0h4m-65 1h4m44 0h4m20 0h4m5 0h4m28 0h4m35 0h4m-88 1h4m16 0h4m45 0h4m-1 0h4m-50 1h4m20 1h4m-9 1h4m20 0h4m-129 1h4m122 0h4m-25 1h4m-108 1h4m128 0h4m-145 2h4m55 0h4m-63 1h4m48 2h4m5 1h4m-87 1h4m83 0h4m7 0h4m-77 1h4m71 0h4m-1 0h4m-17 1h4m2 0h4m21 0h4m-36 1h4m106 0h4m-148 2h4m57 2h4m-122 1h4m33 0h4m60 0h4m20 0h4m72 0h4m-140 2h4m26 1h4m41 0h4m-33 2h4m-99 1h4m-9 1h4m191 0h4m-141 1h4m-78 1h4m35 0h4m85 0h4m-12 1h4m-71 1h4m73 0h4m-3 0h4m17 0h4m-1 1h4m-116 2h4m44 0h4m56 0h4m-152 1h4m66 0h4m-2 0h4m46 0h4m-3 0h4m-31 1h4m28 0h4m23 1h4m-20 1h4m-159 2h4m165 0h4m31 0h4m-229 2h4m29 1h4m101 0h4m-48 2h4m108 0h4m-197 2h4m131 1h4m91 0h4m-128 1h4m37 0h4m-2 0h4m7 1h4m68 0h4m-58 1h4m-206 1h4m250 1h4m-7 1h4m-210 1h4m87 1h4m148 0h4m-202 1h4m6 0h4m27 0h4m144 0h4m0 0h4m-112 2h4m94 1h4m-204 1h4m64 0h4m-1 1h4m-82 2h4m19 0h4m197 0h4m-107 2h4m75 0h4m-145 1h4m9 0h4m-26 1h4m32 0h4m4 0h4m-82 1h4m35 0h4m25 0h4m131 0h4m-240 3h4m108 1h4m126 0h4m-76 1h4m68 0h4m-56 1h4m-69 1h4m15 0h4m-16 1h4m104 0h4m-261 1h4m-2 0h4m68 1h4m48 0h4m28 0h4m-145 1h4m163 0h4m-150 3h4m84 0h4m-83 1h4m143 0h4m-43 1h4m0 0h4m83 0h4m-203 1h4m105 1h4m101 0h4m-191 1h4m52 1h4m113 0h4m-238 1h4m72 0h4m32 0h4m29 0h4m7 0h4m-143 1h4m67 1h4m26 0h4m-132 1h4m84 0h4m51 0h4m14 1h4m20 0h4m-94 1h4m45 0h4m-34 1h4m130 0h4m-77 1h4m-67 1h4m33 0h4m54 0h4m-38 1h4m8 0h4m-87 1h4m106 0h4m-121 1h4m34 0h4m78 0h4m40 0h4m-179 1h4m57 1h4m53 0h4m-50 1h4m-68 1h4m98 0h4m-157 1h4m1 0h4m57 1h4m10 1h4m52 0h4m-144 1h4m101 0h4m13 0h4m18 0h4m-90 1h4m52 0h4m-21 2h4m40 0h4m20 0h4m-197 1h4m21 0h4m50 1h4m65 0h4m-56 1h4m72 0h4m7 0h4m-90 1h4m41 0h4m1 0h4m-130 1h4m151 0h4m-162 1h4m0 0h4m51 0h4m16 0h4m39 0h4m2 0h4m25 0h4m24 0h4m-195 1h4m98 0h4m20 0h4m49 0h4m-19 1h4m6 0h4m24 0h4m-78 1h4m54 0h4m1 0h4m-154 1h4m54 0h4m47 0h4m13 1h4m8 1h4m-149 1h4m125 0h4m33 0h4m-186 1h4m78 0h4m-29 1h4m15 0h4m50 0h4m-39 1h4m66 0h4m-142 1h4m59 0h4m4 0h4m4 0h4m14 0h4m3 0h4m-127 1h4m-42 1h4m211 0h4m-112 2h4m-87 1h4m50 0h4m10 0h4m67 0h4m32 0h4m-189 1h4m160 0h4m-86 1h4m111 0h4m0 0h4m-132 1h4m10 0h4m39 0h4m11 0h4m12 0h4m24 0h4m13 0h4m-74 1h4m-117 1h4m21 0h4m81 1h4m48 0h4m-170 1h4m95 0h4m9 0h4m26 0h4m-11 2h4m36 2h4m-76 1h4m21 0h4m-110 1h4m27 0h4m6 0h4m28 0h4m-52 1h4m55 0h4m46 0h4m-119 1h4m96 0h4m36 0h4m4 0h4m-201 1h4m41 0h4m35 2h4m82 1h4m-169 1h4m104 1h4m7 1h4m66 0h4m10 0h4m-160 1h4m154 0h4m-168 1h4m12 0h4m36 0h4m23 0h4m18 0h4m38 0h4m-53 1h4m-49 2h4m-76 1h4m146 0h4m-171 1h4m24 0h4m-19 1h4m102 0h4m73 0h4m-59 1h4m57 0h4m-167 1h4m30 0h4m19 0h4m65 0h4m-120 1h4m47 1h4m49 0h4m3 0h4m-123 1h4m24 0h4m18 1h4m19 0h4m14 0h4m22 0h4m-15 1h4m-1 0h4m11 0h4m43 0h4m-49 1h4m-123 1h4m29 1h4m22 0h4m-3 0h4m96 0h4m-57 1h4m5 0h4m42 0h4m-155 1h4m104 0h4m-86 1h4m125 0h4m-101 1h4m-93 1h4m93 0h4m44 0h4m-86 1h4m4 0h4m51 2h4m52 0h4m-190 1h4m1 0h4m97 0h4m84 0h4m-103 1h4m34 0h4m7 0h4m38 1h4m-122 1h4m11 0h4m-2 1h4m32 1h4m70 0h4m-170 3h4m105 0h4m0 0h4m-138 1h4m91 0h4m72 1h4m-171 1h4m104 1h4m15 0h4m-30 1h4m-86 1h4m41 0h4m-43 1h4m33 0h4m11 0h4m-30 1h4m70 0h4m18 1h4m-98 1h4m-82 2h4m84 0h4m87 0h4m-24 2h4m-79 2h4m75 2h4m-112 1h4m103 0h4m-51 1h4m40 0h4m-96 1h4m33 0h4m-1 1h4m-16 1h4m-74 2h4m61 0h4m27 1h4m-8 1h4m-24 3h4m-3 0h4m28 1h4m-29 2h4m5 0h4m28 4h4m-84 4h4m-11 1h4m6 4h4" stroke="#2b7bba" stroke-width="4"/><path d="M1460 555h4m-61 20h4m-18 2h4m103 4h4m-24 1h4m2 13h4m-17 1h4m-133 3h4m121 2h4m5 1h4m18 1h4m-138 1h4m133 0h4m-144 3h4m165 1h4m-95 4h4m17 13h4m-35 1h4m-58 1h4m32 0h4m-32 2h4m64 1h4m-91 4h4m20 0h4m-88 2h4m133 0h4m22 0h4m-100 4h4m19 0h4m70 7h4m62 2h4m-160 1h4m-4 2h4m-102 2h4m50 3h4m50 0h4m29 2h4m1 2h4m18 2h4m-104 2h4m171 3h4m-79 1h4m106 0h4m-17 5h4m-206 5h4m6 0h4m195 2h4m5 2h4m-15 1h4m1 0h4m-231 1h4m-4 2h4m-14 2h4m111 1h4m-130 3h4m127 0h4m99 1h4m-4 1h4m-69 1h4m77 0h4m-160 1h4m71 0h4m-170 1h4m230 0h4m-223 1h4m51 0h4m17 1h4m164 0h4m-254 1h4m213 0h4m-169 1h4m133 0h4m-205 2h4m-21 1h4m60 1h4m63 0h4m57 0h4m72 0h4m-245 1h4m42 1h4m24 0h4m-88 1h4m45 0h4m182 0h4m-222 1h4m76 0h4m21 0h4m123 1h4m4 0h4m-161 1h4m-3 0h4m81 0h4m67 0h4m-40 1h4m18 0h4m-215 1h4m212 0h4m-256 2h4m-5 1h4m40 0h4m4 0h4m17 0h4m13 0h4m-75 1h4m76 0h4m-101 1h4m88 1h4m-1 1h4m13 0h4m-85 1h4m80 1h4m-83 1h4m42 0h4m-2 0h4m47 0h4m-136 1h4m32 0h4m181 0h4m-208 1h4m66 2h4m44 0h4m-88 1h4m24 0h4m-68 1h4m41 0h4m60 0h4m108 0h4m-149 1h4m1 0h4m23 1h4m94 1h4m-165 1h4m163 0h4m-178 1h4m-1 2h4m37 0h4m5 1h4m4 0h4m-65 1h4m37 0h4m-17 1h4m110 0h4m-145 1h4m35 0h4m54 0h4m-104 1h4m99 0h4m46 0h4m-178 1h4m7 1h4m11 0h4m-1 0h4m22 0h4m11 0h4m-57 1h4m103 0h4m-109 1h4m56 0h4m-1 0h4m-26 1h4m-56 1h4m48 0h4m-57 1h4m35 0h4m39 0h4m-93 1h4m9 0h4m60 0h4m-38 1h4m9 0h4m8 0h4m24 0h4m-2 0h4m13 0h4m16 0h4m68 0h4m-93 1h4m-65 2h4m-28 2h4m42 0h4m-37 1h4m95 0h4m-150 1h4m51 1h4m95 0h4m-72 1h4m-73 1h4m30 1h4m21 0h4m12 0h4m-68 1h4m11 0h4m16 0h4m30 0h4m-74 1h4m-13 1h4m-1 1h4m45 0h4m41 0h4m-112 1h4m49 0h4m152 0h4m-195 2h4m171 0h4m-115 1h4m-56 3h4m39 0h4m-1 0h4m-30 3h4m38 0h4m5 0h4m-70 1h4m5 0h4m61 0h4m99 0h4m-132 1h4m2 1h4m16 1h4m-1 0h4m-71 1h4m92 0h4m-87 1h4m23 0h4m-2 0h4m-3 2h4m101 0h4m-105 1h4m54 0h4m-127 1h4m30 0h4m53 1h4m-82 2h4m43 0h4m91 0h4m20 0h4m-133 1h4m72 0h4m61 0h4m-191 1h4m2 0h4m5 0h4m49 0h4m21 0h4m-77 1h4m145 0h4m2 0h4m-153 1h4m19 0h4m140 0h4m-10 1h4m-128 1h4m-64 1h4m16 0h4m7 0h4m122 0h4m-22 1h4m27 0h4m-145 1h4m26 0h4m-6 2h4m9 0h4m45 0h4m-91 1h4m119 0h4m0 0h4m5 0h4m-60 1h4m5 0h4m43 0h4m-152 2h4m85 0h4m-98 1h4m129 0h4m1 0h4m22 0h4m-24 1h4m-164 1h4m37 0h4m56 0h4m0 0h4m66 0h4m-110 1h4m53 1h4m32 0h4m6 0h4m-57 6h4m31 0h4m-159 1h4m8 0h4m135 0h4m-171 1h4m67 0h4m-44 1h4m-20 2h4m49 0h4m36 0h4m25 0h4m-56 1h4m-72 1h4m84 0h4m-7 1h4m-3 0h4m-12 2h4m-43 1h4m42 0h4m40 1h4m-9 1h4m-13 2h4m0 0h4m-127 2h4m64 1h4m-6 3h4m59 0h4m-28 2h4m6 0h4m-31 1h4m-39 3h4m-47 1h4m95 0h4m3 0h4" stroke="#1b9e77" stroke-width="4"/><path d="M1463 553h4m-7 2h4m1 6h4m-22 1h4m-34 3h4m44 1h4m-58 1h4m70 2h4m6 3h4m-21 1h4m-24 3h4m12 0h4m-115 1h4m5 1h4m-5 1h4m-2 0h4m-2 0h4m118 2h4m-127 1h4m-12 1h4m134 0h4m-149 1h4m70 0h4m48 2h4m-116 1h4m138 0h4m-171 1h4m101 0h4m61 2h4m-179 1h4m0 0h4m25 0h4m10 2h4m127 0h4m-186 3h4m150 0h4m7 0h4m10 1h4m1 0h4m-183 2h4m10 0h4m-7 2h4m-2 0h4m117 2h4m30 0h4m-148 1h4m135 1h4m-38 1h4m30 0h4m-180 2h4m34 0h4m15 0h4m12 0h4m21 0h4m49 0h4m-1 1h4m13 0h4m-36 1h4m33 0h4m9 2h4m-53 1h4m-121 1h4m9 0h4m105 0h4m-1 0h4m-151 1h4m126 0h4m-135 1h4m15 0h4m137 0h4m-147 1h4m146 0h4m-167 2h4m9 0h4m147 0h4m-187 1h4m0 0h4m134 0h4m7 0h4m-145 1h4m36 0h4m103 0h4m32 0h4m-199 1h4m175 0h4m-115 3h4m109 0h4m-149 1h4m129 0h4m26 0h4m14 0h4m-162 1h4m-25 1h4m-3 0h4m14 0h4m116 0h4m-48 1h4m-102 1h4m12 0h4m135 0h4m-195 1h4m0 0h4m6 0h4m-1 0h4m19 0h4m-3 0h4m102 0h4m5 0h4m6 0h4m-7 1h4m14 0h4m-137 1h4m125 0h4m17 0h4m4 0h4m-222 1h4m11 0h4m55 0h4m62 0h4m60 0h4m-201 1h4m37 0h4m165 0h4m5 0h4m-212 1h4m0 0h4m13 0h4m8 0h4m5 0h4m114 0h4m-153 1h4m185 0h4m-205 1h4m25 0h4m101 0h4m41 0h4m14 0h4m10 0h4m-200 1h4m134 0h4m-114 1h4m-1 0h4m120 0h4m8 0h4m-1 0h4m-198 1h4m12 0h4m15 0h4m28 0h4m47 0h4m95 0h4m-216 3h4m15 0h4m166 0h4m13 0h4m-229 1h4m51 0h4m143 0h4m-23 1h4m2 0h4m50 0h4m-257 1h4m39 0h4m36 1h4m159 0h4m-245 1h4m38 0h4m115 0h4m-113 1h4m20 0h4m4 0h4m-42 1h4m-1 0h4m124 0h4m-156 1h4m16 0h4m11 0h4m84 0h4m27 0h4m-154 1h4m-3 0h4m81 0h4m94 0h4m-2 0h4m25 0h4m-237 1h4m1 0h4m151 0h4m-148 1h4m43 0h4m88 0h4m11 0h4m-71 1h4m49 0h4m-185 1h4m3 0h4m41 0h4m36 0h4m91 0h4m60 0h4m0 0h4m-236 1h4m32 0h4m34 0h4m7 0h4m-95 1h4m41 0h4m14 0h4m32 0h4m55 0h4m18 0h4m-204 1h4m19 0h4m94 0h4m82 0h4m40 0h4m-257 1h4m-1 0h4m35 0h4m147 0h4m3 0h4m35 0h4m16 0h4m-214 1h4m-12 1h4m0 0h4m117 0h4m4 0h4m13 0h4m6 0h4m12 0h4m-212 1h4m48 0h4m208 0h4m-274 1h4m49 0h4m51 0h4m83 0h4m26 0h4m-188 1h4m23 0h4m22 0h4m5 0h4m117 0h4m25 0h4m-3 0h4m-102 1h4m73 0h4m-149 1h4m101 0h4m-152 1h4m26 0h4m112 0h4m-139 1h4m34 0h4m-1 0h4m170 0h4m-62 1h4m28 0h4m2 0h4m-249 1h4m198 0h4m1 0h4m10 0h4m-236 1h4m46 0h4m32 0h4m186 0h4m-180 1h4m42 0h4m28 0h4m15 0h4m-143 1h4m88 0h4m13 0h4m53 0h4m37 0h4m-166 1h4m-114 1h4m124 0h4m-123 1h4m202 0h4m11 0h4m-218 1h4m144 0h4m-44 1h4m-37 1h4m11 0h4m1 0h4m84 0h4m-195 1h4m134 0h4m115 0h4m-190 1h4m91 0h4m32 0h4m27 0h4m-233 1h4m0 0h4m108 0h4m91 0h4m12 0h4m33 0h4m-61 1h4m1 0h4m11 0h4m-155 1h4m-1 0h4m85 0h4m10 0h4m17 0h4m-212 1h4m32 0h4m34 0h4m31 0h4m143 0h4m-115 1h4m-156 1h4m0 0h4m99 0h4m92 0h4m21 0h4m-128 1h4m2 0h4m78 0h4m-47 1h4m-108 1h4m154 0h4m62 0h4m-205 1h4m85 0h4m41 1h4m23 0h4m-3 1h4m30 0h4m0 0h4m0 0h4m-260 1h4m68 0h4m174 0h4m-127 1h4m116 0h4m-145 1h4m122 0h4m20 0h4m-230 1h4m71 0h4m0 0h4m-94 1h4m20 0h4m0 0h4m147 0h4m25 0h4m-75 1h4m38 0h4m-214 1h4m148 0h4m106 0h4m1 0h4m-143 1h4m47 0h4m-172 1h4m-2 0h4m1 0h4m226 0h4m-133 1h4m-104 1h4m221 0h4m-187 1h4m31 0h4m-78 1h4m28 0h4m204 1h4m-254 1h4m22 0h4m153 0h4m57 0h4m-236 1h4m219 0h4m22 0h4m6 0h4m-182 1h4m42 0h4m-112 1h4m229 0h4m-187 1h4m45 0h4m77 0h4m-103 1h4m-85 1h4m200 0h4m-230 2h4m-6 1h4m234 0h4m-205 1h4m179 0h4m-202 1h4m83 0h4m42 0h4m-77 1h4m103 0h4m26 0h4m14 0h4m-242 3h4m40 0h4m-24 2h4m231 0h4m-193 1h4m39 0h4m-32 4h4m-35 1h4m86 3h4m-11 1h4m111 0h4m-189 1h4m-23 1h4m31 0h4m23 0h4m-71 3h4m200 0h4m-60 2h4m-154 4h4m200 0h4m-118 2h4m0 2h4m-99 1h4m204 2h4m-213 4h4m216 0h4m-45 1h4m-127 1h4m-44 1h4m201 2h4m-208 2h4m22 0h4m68 0h4m25 0h4m47 0h4m-12 4h4m-137 1h4m133 2h4m-71 2h4m71 1h4m-23 1h4m1 1h4m-165 1h4m165 2h4m-172 1h4m10 0h4m1 1h4m184 1h4m-105 3h4m11 6h4m4 3h4m60 1h4m-43 2h4m-76 2h4m40 0h4m-111 1h4m33 0h4m95 0h4m-102 1h4m-38 1h4m10 0h4m118 1h4m3 1h4m-161 1h4m35 0h4m-34 1h4m-1 0h4m7 0h4m-1 0h4m136 1h4m-134 1h4m-12 3h4m-22 2h4m1 0h4m21 0h4m-22 2h4m14 0h4m-44 1h4m8 0h4m3 0h4m147 0h4m-146 2h4m0 0h4m-11 2h4m14 0h4m19 2h4m-14 1h4m91 0h4m-146 1h4m18 0h4m10 0h4m-3 2h4m-39 2h4m18 0h4m39 0h4m-52 3h4m115 0h4m-50 1h4m5 1h4m-87 1h4m-16 2h4m-11 1h4m102 0h4m-107 1h4m24 0h4m-11 1h4m7 0h4m-1 1h4m11 0h4m-7 1h4m-48 1h4m56 0h4m3 0h4m-64 1h4m30 0h4m-2 0h4m-26 2h4m15 2h4m8 0h4m-22 1h4" stroke="#d95f02" stroke-width="4"/></g>
<text x="538.8" y="186.6" font-size="16" fill="#000" font-weight="bold" stroke="#000" stroke-width="0.55">e</text>
<path d="M568.9 180.5V290.3H682.7" fill="none" stroke="#6a6a6a" stroke-width="1.1"/>
<line x1="565.2" y1="203.7" x2="568.9" y2="203.7" stroke="#6a6a6a" stroke-width="0.8"/>
<text x="562.8" y="207.0" font-size="9.3" text-anchor="end">2</text>
<line x1="565.2" y1="233.1" x2="568.9" y2="233.1" stroke="#6a6a6a" stroke-width="0.8"/>
<text x="562.8" y="236.4" font-size="9.3" text-anchor="end">0</text>
<line x1="565.2" y1="262.5" x2="568.9" y2="262.5" stroke="#6a6a6a" stroke-width="0.8"/>
<text x="562.8" y="265.8" font-size="9.3" text-anchor="end">-2</text>
<line x1="596.3" y1="290.3" x2="596.3" y2="293.8" stroke="#6a6a6a" stroke-width="0.8"/>
<text x="596.3" y="303.9" font-size="9.3" text-anchor="middle">-3</text>
<line x1="625.0" y1="290.3" x2="625.0" y2="293.8" stroke="#6a6a6a" stroke-width="0.8"/>
<text x="625.0" y="303.9" font-size="9.3" text-anchor="middle">0</text>
<line x1="653.7" y1="290.3" x2="653.7" y2="293.8" stroke="#6a6a6a" stroke-width="0.8"/>
<text x="653.7" y="303.9" font-size="9.3" text-anchor="middle">3</text>
<line x1="682.4" y1="290.3" x2="682.4" y2="293.8" stroke="#6a6a6a" stroke-width="0.8"/>
<text x="682.4" y="303.9" font-size="9.3" text-anchor="middle">6</text>
<text x="572.9" y="183.5" font-size="9.8" textLength="58.5" lengthAdjust="spacingAndGlyphs">RNA/ATAC-seq</text>
<text x="625.5" y="318.5" font-size="9.6" text-anchor="middle" textLength="53.8" lengthAdjust="spacingAndGlyphs">UMAP Dim 1</text>
<text x="548.0" y="233.7" font-size="9.4" text-anchor="middle" textLength="56.5" lengthAdjust="spacingAndGlyphs" transform="rotate(-90 548.0 233.7)">UMAP Dim 2</text>
<g transform="scale(0.333333)"><path d="M1963 552h4m-15 9h4m-49 3h4m-69 4h4m1 0h4m76 0h4m-49 1h4m2 1h4m41 0h4m2 1h4m7 0h4m-63 2h4m34 0h4m-25 1h4m11 2h4m-103 2h4m4 0h4m77 0h4m44 1h4m-149 1h4m52 0h4m-52 2h4m30 0h4m1 0h4m-51 1h4m76 0h4m16 0h4m0 0h4m-89 2h4m4 0h4m-33 2h4m121 0h4m-101 2h4m34 0h4m6 0h4m30 0h4m-97 1h4m141 0h4m4 0h4m-138 1h4m-27 1h4m-26 1h4m14 1h4m-48 1h4m48 0h4m60 1h4m-152 1h4m7 0h4m139 0h4m79 2h4m-199 1h4m12 0h4m159 0h4m2 0h4m-191 1h4m50 0h4m97 0h4m-86 1h4m33 0h4m47 0h4m-207 1h4m2 0h4m148 0h4m-56 1h4m-31 1h4m54 0h4m85 0h4m-155 1h4m99 0h4m-182 1h4m10 0h4m51 0h4m21 0h4m12 0h4m65 0h4m-2 0h4m8 1h4m-146 1h4m20 1h4m20 0h4m51 0h4m-77 1h4m156 0h4m-198 1h4m23 0h4m-35 1h4m65 0h4m10 0h4m56 0h4m-161 1h4m3 1h4m98 0h4m12 0h4m-56 1h4m64 0h4m-99 1h4m-13 1h4m67 0h4m72 0h4m-110 1h4m-83 1h4m27 0h4m59 1h4m40 0h4m4 1h4m-153 1h4m9 0h4m121 0h4m45 0h4m-112 1h4m95 0h4m-107 1h4m-80 1h4m-8 1h4m83 0h4m30 0h4m20 0h4m1 0h4m19 2h4m-65 1h4m16 0h4m-59 1h4m40 0h4m96 0h4m-242 1h4m211 0h4m-181 1h4m54 0h4m68 0h4m-140 1h4m189 0h4m-216 1h4m158 0h4m51 0h4m-115 1h4m29 0h4m20 1h4m-93 1h4m48 0h4m-136 1h4m66 0h4m16 0h4m75 0h4m-133 1h4m7 0h4m57 0h4m28 0h4m35 0h4m10 0h4m-204 1h4m130 0h4m87 0h4m-180 1h4m45 0h4m64 1h4m49 1h4m-212 1h4m85 0h4m91 0h4m-166 1h4m31 0h4m20 0h4m119 0h4m-155 1h4m70 0h4m90 0h4m1 0h4m-217 1h4m-2 0h4m8 0h4m173 0h4m-217 1h4m12 1h4m11 0h4m35 0h4m178 0h4m-199 1h4m19 0h4m-42 1h4m184 0h4m-191 1h4m147 0h4m24 0h4m-198 1h4m18 0h4m8 0h4m32 1h4m64 0h4m-62 2h4m126 0h4m16 0h4m-255 1h4m90 0h4m105 0h4m-166 1h4m106 0h4m87 0h4m-218 1h4m22 0h4m19 0h4m-4 1h4m22 0h4m64 0h4m-78 1h4m4 1h4m113 0h4m38 0h4m-137 3h4m92 0h4m-224 1h4m23 0h4m15 1h4m-33 1h4m30 0h4m184 0h4m-74 1h4m28 0h4m-104 1h4m-1 0h4m87 0h4m50 0h4m-194 1h4m136 0h4m-56 1h4m-117 1h4m56 1h4m48 0h4m4 0h4m46 1h4m-169 1h4m1 0h4m82 0h4m105 0h4m12 0h4m-205 1h4m22 0h4m-76 1h4m139 0h4m106 0h4m-167 1h4m25 0h4m38 0h4m21 0h4m-160 1h4m156 0h4m-118 1h4m39 0h4m94 0h4m6 0h4m-20 1h4m36 0h4m-219 1h4m50 0h4m98 0h4m0 1h4m6 0h4m-186 1h4m42 0h4m26 0h4m-110 1h4m36 0h4m100 0h4m63 0h4m-3 0h4m-29 1h4m-110 1h4m58 0h4m90 0h4m-214 1h4m4 0h4m132 0h4m-141 1h4m22 0h4m101 0h4m15 1h4m7 0h4m55 0h4m-148 1h4m90 0h4m-182 1h4m25 0h4m67 1h4m19 0h4m-105 2h4m52 0h4m116 0h4m-31 1h4m-118 1h4m-3 0h4m79 0h4m26 0h4m-106 1h4m56 0h4m89 0h4m-240 2h4m138 0h4m31 0h4m-85 1h4m0 0h4m20 0h4m1 0h4m-188 1h4m219 1h4m-159 1h4m-3 0h4m89 0h4m1 0h4m-15 1h4m-95 1h4m190 0h4m-82 1h4m-168 1h4m75 0h4m57 0h4m11 0h4m-171 1h4m63 1h4m2 0h4m107 1h4m99 0h4m-282 1h4m87 0h4m2 0h4m-1 0h4m44 0h4m95 0h4m0 0h4m-87 1h4m62 0h4m1 0h4m-264 1h4m57 0h4m210 0h4m-190 1h4m17 0h4m137 0h4m42 0h4m-228 1h4m23 0h4m131 0h4m-161 1h4m157 0h4m22 0h4m-175 1h4m54 0h4m-78 1h4m27 0h4m47 0h4m7 0h4m28 0h4m15 0h4m-179 1h4m38 0h4m3 0h4m91 0h4m8 0h4m-146 1h4m81 0h4m79 0h4m15 0h4m-180 1h4m134 0h4m50 0h4m-213 1h4m3 0h4m152 0h4m-36 1h4m4 0h4m22 0h4m49 0h4m-265 1h4m116 0h4m42 0h4m42 0h4m41 0h4m-61 1h4m9 0h4m-99 1h4m56 1h4m19 0h4m5 0h4m-214 1h4m1 0h4m11 0h4m4 0h4m39 0h4m-24 1h4m16 0h4m74 0h4m24 0h4m30 0h4m24 0h4m-73 1h4m-2 0h4m18 0h4m-162 1h4m139 0h4m-135 1h4m105 0h4m54 0h4m-117 1h4m48 0h4m124 0h4m-224 1h4m24 0h4m11 0h4m66 0h4m-123 1h4m44 0h4m52 0h4m36 0h4m12 0h4m25 0h4m7 1h4m-148 1h4m-49 1h4m34 0h4m108 0h4m8 0h4m0 0h4m-61 1h4m91 0h4m4 0h4m-53 1h4m-3 0h4m51 0h4m-13 1h4m-122 1h4m7 0h4m38 0h4m-180 1h4m12 0h4m65 1h4m-3 0h4m-94 1h4m175 0h4m21 0h4m32 0h4m-6 1h4m-76 1h4m-86 1h4m88 0h4m31 1h4m-62 3h4m9 0h4m-3 0h4m34 1h4m24 0h4m-96 1h4m-1 1h4m29 0h4m0 0h4m-152 1h4m18 0h4m-77 1h4m43 0h4m22 0h4m128 0h4m-25 1h4m9 0h4m-191 1h4m207 0h4m-151 1h4m36 0h4m54 0h4m2 0h4m-172 1h4m36 0h4m-2 0h4m53 0h4m123 1h4m-214 1h4m11 0h4m48 0h4m128 0h4m-42 1h4m19 0h4m-139 1h4m-1 1h4m90 0h4m2 0h4m-79 1h4m45 0h4m11 1h4m6 0h4m-49 1h4m54 0h4m22 0h4m5 0h4m19 0h4m-115 2h4m17 0h4m1 0h4m-1 0h4m74 0h4m-222 1h4m34 0h4m23 0h4m25 0h4m73 0h4m5 1h4m-154 1h4m166 0h4m-61 1h4m-3 0h4m69 0h4m-199 1h4m68 1h4m12 0h4m11 1h4m-48 1h4m0 0h4m47 0h4m23 1h4m11 0h4m-178 1h4m142 1h4m58 0h4m-192 1h4m-3 0h4m68 0h4m4 0h4m70 0h4m6 0h4m-154 1h4m154 0h4m-66 1h4m58 0h4m-96 2h4m36 1h4m29 0h4m16 0h4m4 0h4m0 0h4m-89 1h4m-45 1h4m74 0h4m28 0h4m-42 1h4m-76 1h4m22 0h4m20 0h4m7 0h4m-1 0h4m42 0h4m-43 1h4m16 1h4m-72 1h4m54 0h4m32 0h4m-27 1h4m-5 1h4m-34 1h4m17 0h4m-1 0h4m0 0h4m-47 1h4m26 2h4m-112 1h4m5 0h4m98 1h4m7 0h4m10 0h4m-150 1h4m45 0h4m71 0h4m9 0h4m6 0h4m-193 1h4m16 0h4m69 1h4m6 0h4m47 1h4m10 0h4m-135 1h4m129 0h4m10 2h4m-91 1h4m-6 1h4m-83 2h4m-10 3h4m65 1h4m2 0h4m-23 2h4m-24 4h4m-33 2h4m24 2h4m-35 1h4m11 0h4m-7 6h4m18 2h4" stroke="#2b7bba" stroke-width="4"/><path d="M1873 569h4m71 1h4m-90 1h4m38 6h4m52 0h4m-112 1h4m102 3h4m-31 5h4m-171 6h4m44 6h4m6 1h4m150 1h4m-47 1h4m-174 5h4m66 0h4m150 0h4m-208 5h4m74 1h4m-115 3h4m32 2h4m193 0h4m1 1h4m-161 2h4m147 0h4m-33 1h4m-136 1h4m108 0h4m0 0h4m-48 1h4m-79 2h4m170 0h4m-189 1h4m-35 1h4m146 2h4m-167 3h4m23 0h4m47 1h4m110 0h4m-148 1h4m-37 1h4m24 2h4m1 1h4m29 0h4m-52 1h4m8 0h4m109 0h4m-138 3h4m-3 1h4m-2 0h4m116 0h4m0 0h4m77 1h4m-226 1h4m41 0h4m7 1h4m137 0h4m-164 2h4m194 1h4m-262 3h4m58 0h4m-51 2h4m64 0h4m36 0h4m-27 6h4m-32 1h4m3 1h4m-23 1h4m0 0h4m139 0h4m-150 1h4m31 0h4m98 0h4m-171 2h4m212 2h4m-213 1h4m-30 1h4m35 1h4m-28 2h4m57 0h4m27 0h4m-43 1h4m88 0h4m-129 1h4m-10 1h4m168 1h4m-129 1h4m-41 1h4m33 1h4m12 0h4m-81 2h4m66 0h4m157 0h4m-242 1h4m129 1h4m-89 1h4m-16 1h4m111 1h4m105 1h4m-202 4h4m-60 1h4m87 0h4m-102 2h4m220 0h4m-2 0h4m-222 1h4m102 1h4m-12 1h4m-103 1h4m133 0h4m73 3h4m14 0h4m-195 2h4m-31 1h4m39 1h4m132 1h4m-183 1h4m35 0h4m-59 1h4m225 0h4m-225 1h4m38 2h4m-107 3h4m248 1h4m-173 1h4m168 1h4m4 0h4m-195 2h4m207 1h4m-248 1h4m198 0h4m-106 1h4m-16 4h4m95 0h4m-115 2h4m132 1h4m-96 1h4m-112 3h4m74 1h4m147 0h4m8 0h4m-155 1h4m157 0h4m-237 1h4m87 0h4m143 1h4m-230 1h4m40 0h4m45 0h4m-115 1h4m37 0h4m20 0h4m-56 1h4m217 2h4m-186 2h4m-50 1h4m158 0h4m-168 2h4m10 0h4m-52 2h4m113 0h4m-25 1h4m-44 1h4m1 0h4m207 0h4m-232 1h4m131 0h4m-95 1h4m-82 1h4m108 4h4m0 0h4m-26 1h4m34 0h4m120 0h4m-203 1h4m0 0h4m33 0h4m-115 1h4m155 0h4m-81 1h4m-26 1h4m49 0h4m-76 1h4m54 0h4m-39 3h4m21 1h4m-38 4h4m20 0h4m-56 1h4m69 1h4m42 0h4m-73 1h4m-10 1h4m-49 1h4m17 1h4m4 1h4m3 0h4m107 0h4m37 0h4m-76 2h4m-101 2h4m30 0h4m-29 1h4m17 0h4m27 1h4m-22 2h4m-31 1h4m77 0h4m-73 1h4m-27 2h4m77 0h4m97 0h4m-228 2h4m38 0h4m11 1h4m18 0h4m89 0h4m-104 1h4m-2 0h4m8 1h4m0 0h4m-13 1h4m29 1h4m-3 1h4m32 1h4m41 0h4m-153 1h4m16 0h4m-1 0h4m-45 1h4m-1 1h4m-1 0h4m10 1h4m19 0h4m48 0h4m-106 2h4m39 1h4m37 1h4m-31 1h4m-17 2h4m5 0h4m-1 0h4m110 2h4m-137 1h4m2 1h4m23 1h4m-51 1h4m26 0h4m-23 1h4m-8 2h4m-27 1h4m42 0h4m1 1h4m-1 0h4m-53 1h4m46 3h4m-32 2h4m-1 5h4m-15 8h4m-6 6h4" stroke="#1b9e77" stroke-width="4"/><path d="M1972 556h4m-17 5h4m-86 2h4m-1 0h4m66 1h4m-86 3h4m40 0h4m-64 1h4m15 0h4m38 0h4m-40 2h4m10 0h4m64 0h4m-176 2h4m62 0h4m-77 1h4m175 0h4m-177 1h4m91 0h4m95 0h4m-209 1h4m110 0h4m28 0h4m-156 1h4m150 0h4m15 0h4m-77 1h4m42 0h4m-150 2h4m1 0h4m59 0h4m77 0h4m-38 1h4m11 0h4m59 0h4m-195 1h4m53 0h4m-50 1h4m5 0h4m90 1h4m48 0h4m-158 1h4m73 0h4m52 0h4m24 1h4m-155 1h4m0 0h4m24 0h4m15 0h4m-2 0h4m135 0h4m-163 1h4m25 0h4m116 0h4m-70 1h4m2 0h4m-160 1h4m16 1h4m187 0h4m10 0h4m-69 1h4m36 1h4m-186 1h4m40 0h4m32 0h4m55 0h4m64 1h4m-225 1h4m76 0h4m91 0h4m-154 1h4m103 0h4m12 0h4m-138 1h4m47 1h4m63 0h4m2 0h4m13 0h4m-62 1h4m75 0h4m34 0h4m-15 1h4m1 0h4m-3 0h4m-53 1h4m-158 1h4m61 1h4m11 0h4m6 0h4m106 0h4m-129 1h4m119 0h4m-80 1h4m34 0h4m0 0h4m19 0h4m-172 1h4m69 0h4m23 0h4m10 1h4m-144 1h4m220 0h4m-200 1h4m15 0h4m51 0h4m-55 1h4m93 0h4m-126 1h4m38 0h4m23 0h4m11 0h4m16 0h4m17 0h4m-9 1h4m-138 1h4m71 0h4m39 0h4m77 1h4m-24 1h4m-54 1h4m-129 1h4m65 0h4m-38 1h4m33 0h4m30 1h4m78 1h4m12 0h4m-238 1h4m110 1h4m118 0h4m-144 1h4m13 0h4m-3 1h4m-11 1h4m67 0h4m-183 1h4m102 0h4m46 0h4m22 0h4m36 0h4m-164 1h4m71 0h4m-24 1h4m-44 1h4m96 0h4m-110 1h4m40 1h4m-84 1h4m65 1h4m67 0h4m50 0h4m-114 1h4m69 1h4m-50 2h4m68 0h4m-104 2h4m-9 1h4m29 0h4m-53 2h4m8 0h4m39 1h4m59 0h4m-102 1h4m60 0h4m-35 2h4m-18 1h4m28 0h4m3 1h4m-116 1h4m26 0h4m24 0h4m10 1h4m25 0h4m-68 1h4m97 0h4m-7 1h4m22 0h4m-113 1h4m-20 1h4m8 0h4m111 0h4m0 1h4m36 0h4m-88 2h4m-125 1h4m174 1h4m9 1h4m17 0h4m-269 1h4m183 0h4m-95 2h4m27 0h4m7 1h4m116 0h4m-140 1h4m16 0h4m-1 0h4m93 0h4m-1 0h4m-140 1h4m86 0h4m-87 1h4m4 0h4m-18 1h4m121 0h4m-214 1h4m102 0h4m35 0h4m-20 1h4m108 0h4m-117 1h4m25 0h4m27 0h4m16 0h4m-73 1h4m67 0h4m3 0h4m-232 1h4m155 2h4m19 1h4m17 0h4m-64 1h4m79 0h4m-88 1h4m102 0h4m-205 1h4m162 0h4m-34 1h4m-116 1h4m143 0h4m10 0h4m-21 1h4m5 0h4m17 0h4m-137 1h4m10 0h4m9 1h4m10 0h4m37 0h4m-70 1h4m111 0h4m-196 1h4m97 0h4m3 0h4m48 0h4m31 0h4m-131 1h4m24 0h4m-88 1h4m88 0h4m35 0h4m45 0h4m-88 1h4m28 1h4m-28 1h4m4 0h4m-43 1h4m-42 1h4m-2 0h4m3 0h4m12 0h4m69 0h4m-67 1h4m96 0h4m-129 1h4m126 0h4m-51 3h4m-97 1h4m-77 1h4m94 0h4m10 0h4m5 0h4m-164 1h4m25 0h4m218 0h4m-136 1h4m7 0h4m4 0h4m19 0h4m109 0h4m-215 1h4m103 0h4m-112 1h4m10 0h4m69 0h4m-15 1h4m109 0h4m9 0h4m-290 1h4m-3 0h4m143 0h4m33 0h4m-199 1h4m101 0h4m-113 1h4m10 0h4m148 0h4m84 0h4m-252 1h4m34 0h4m115 0h4m5 0h4m73 1h4m-184 1h4m184 0h4m-254 1h4m4 0h4m36 0h4m123 1h4m62 0h4m22 0h4m-148 2h4m14 0h4m-133 2h4m60 0h4m132 1h4m-192 1h4m78 0h4m16 0h4m-2 0h4m85 0h4m-209 1h4m202 0h4m49 0h4m-275 1h4m22 0h4m27 0h4m215 0h4m-274 1h4m7 0h4m-24 1h4m11 0h4m-11 1h4m46 0h4m95 0h4m105 0h4m-217 1h4m121 0h4m-184 1h4m-3 1h4m64 0h4m180 0h4m-147 2h4m-114 1h4m16 0h4m205 0h4m49 0h4m-69 1h4m-182 1h4m40 1h4m24 0h4m19 0h4m84 0h4m-186 1h4m42 0h4m81 0h4m85 0h4m-253 1h4m20 0h4m54 0h4m43 0h4m-108 3h4m81 0h4m158 1h4m-263 1h4m244 0h4m-109 3h4m-144 1h4m32 0h4m-49 3h4m38 0h4m80 0h4m28 0h4m-141 1h4m-1 0h4m192 0h4m3 1h4m-106 1h4m7 2h4m9 0h4m-155 1h4m34 0h4m-33 1h4m35 0h4m-17 1h4m207 0h4m-62 5h4m-1 0h4m42 0h4m-226 1h4m-3 0h4m140 0h4m-9 2h4m16 1h4m-93 1h4m111 0h4m-196 1h4m83 0h4m141 0h4m-36 1h4m-194 1h4m19 1h4m-40 1h4m169 1h4m-158 1h4m198 0h4m-220 1h4m14 0h4m3 0h4m44 0h4m20 0h4m51 0h4m37 0h4m-187 1h4m29 0h4m112 0h4m-70 3h4m81 0h4m-183 2h4m23 0h4m46 1h4m152 0h4m-237 1h4m61 0h4m102 0h4m-168 1h4m219 1h4m-234 2h4m-8 1h4m85 0h4m84 3h4m-171 1h4m111 1h4m15 0h4m61 0h4m-195 1h4m-12 1h4m13 0h4m140 0h4m-163 1h4m9 0h4m131 2h4m-161 2h4m25 0h4m82 0h4m-102 1h4m-17 2h4m140 0h4m-65 2h4m31 0h4m43 1h4m-48 1h4m3 0h4m41 0h4m-113 1h4m126 6h4m-146 2h4m-31 2h4m5 0h4m-20 3h4m74 0h4m-70 5h4m-2 0h4m-3 0h4m2 4h4m-19 1h4m20 0h4m10 1h4m-39 6h4m2 5h4m0 0h4m-9 3h4" stroke="#d95f02" stroke-width="4"/><path d="M1960 552h4m6 6h4m-96 5h4m18 5h4m13 0h4m49 1h4m-89 1h4m56 0h4m-111 1h4m47 3h4m-46 1h4m41 0h4m79 0h4m-61 3h4m11 0h4m-39 2h4m19 1h4m-21 1h4m-93 2h4m5 0h4m142 0h4m-162 1h4m115 0h4m-14 1h4m20 0h4m-154 1h4m-11 1h4m53 0h4m48 1h4m-27 3h4m44 0h4m33 0h4m8 0h4m-145 1h4m133 1h4m-102 1h4m22 0h4m28 0h4m-24 2h4m-3 1h4m-90 1h4m13 1h4m3 0h4m69 0h4m2 0h4m-105 1h4m156 0h4m-97 1h4m91 0h4m-146 1h4m-97 2h4m63 1h4m14 0h4m76 1h4m47 0h4m14 1h4m-11 1h4m-176 1h4m32 0h4m34 0h4m-54 2h4m26 0h4m62 0h4m39 0h4m-184 1h4m168 0h4m-212 1h4m33 0h4m49 0h4m105 1h4m-35 1h4m2 0h4m-176 3h4m127 0h4m13 0h4m33 0h4m-7 2h4m-141 1h4m-44 1h4m7 0h4m138 0h4m-78 1h4m58 0h4m-51 1h4m9 1h4m-65 1h4m85 0h4m22 0h4m6 0h4m-149 1h4m120 1h4m46 0h4m-83 2h4m79 0h4m15 0h4m2 0h4m-212 1h4m25 0h4m97 1h4m55 0h4m-60 1h4m62 0h4m-208 1h4m71 0h4m-3 0h4m112 0h4m-223 1h4m8 0h4m4 0h4m94 0h4m-101 1h4m6 0h4m25 0h4m32 0h4m-80 1h4m58 1h4m15 0h4m-55 1h4m1 1h4m178 0h4m-229 1h4m40 0h4m2 0h4m78 1h4m71 1h4m21 0h4m-66 1h4m15 0h4m-35 1h4m80 0h4m-198 2h4m13 0h4m14 0h4m73 0h4m51 0h4m-160 1h4m-1 0h4m160 0h4m-173 1h4m44 0h4m-31 1h4m-89 1h4m97 1h4m113 0h4m-212 1h4m19 0h4m36 0h4m0 0h4m112 0h4m42 0h4m0 1h4m-203 1h4m-3 0h4m125 0h4m-139 1h4m141 0h4m79 0h4m-241 1h4m138 0h4m-145 2h4m42 0h4m64 0h4m59 0h4m2 0h4m-109 1h4m109 0h4m0 0h4m-229 1h4m41 0h4m28 0h4m43 1h4m45 0h4m-175 1h4m194 0h4m5 0h4m31 0h4m-49 1h4m-2 0h4m8 0h4m-212 1h4m202 0h4m-4 1h4m8 0h4m31 0h4m-2 0h4m-119 1h4m8 0h4m-160 1h4m127 0h4m-124 1h4m142 0h4m-148 1h4m30 0h4m184 0h4m-56 1h4m6 0h4m-189 1h4m137 0h4m5 0h4m-65 1h4m24 0h4m51 0h4m-102 1h4m28 0h4m141 0h4m-164 1h4m-60 1h4m94 0h4m-142 1h4m61 0h4m203 0h4m-220 1h4m9 0h4m156 0h4m5 0h4m-208 1h4m100 0h4m-45 1h4m106 0h4m43 0h4m-232 1h4m73 0h4m95 0h4m-189 2h4m13 0h4m13 1h4m43 0h4m146 0h4m-222 1h4m74 0h4m33 0h4m-20 1h4m124 0h4m-213 1h4m-34 1h4m110 0h4m49 0h4m40 0h4m-160 1h4m14 0h4m12 0h4m19 0h4m-77 2h4m102 0h4m-119 1h4m133 0h4m-180 1h4m-11 1h4m203 0h4m-170 1h4m53 1h4m27 0h4m128 0h4m-124 1h4m-83 1h4m47 0h4m48 0h4m39 0h4m-47 2h4m-2 0h4m76 0h4m-198 1h4m0 0h4m53 0h4m48 0h4m78 0h4m-24 1h4m15 0h4m-217 1h4m47 1h4m3 0h4m-2 1h4m39 0h4m41 0h4m42 0h4m-201 1h4m57 0h4m25 0h4m21 0h4m-140 1h4m34 0h4m178 1h4m-264 1h4m153 0h4m71 0h4m8 0h4m-220 1h4m46 0h4m123 0h4m22 0h4m-105 1h4m54 0h4m24 0h4m52 0h4m-1 0h4m-94 1h4m76 0h4m17 1h4m-140 1h4m26 0h4m47 0h4m-102 1h4m0 0h4m28 0h4m113 0h4m-253 1h4m184 0h4m-239 1h4m61 0h4m79 0h4m141 0h4m-81 1h4m8 0h4m6 0h4m18 0h4m-263 1h4m71 0h4m147 0h4m-177 1h4m190 0h4m-102 1h4m19 0h4m16 0h4m11 0h4m12 0h4m21 0h4m51 0h4m-221 1h4m27 0h4m107 0h4m23 0h4m24 0h4m-156 1h4m4 0h4m-93 1h4m38 0h4m8 0h4m18 0h4m-1 0h4m22 0h4m63 0h4m15 0h4m6 0h4m-163 1h4m1 0h4m123 0h4m-1 0h4m27 0h4m-140 2h4m120 0h4m-1 0h4m56 0h4m-166 1h4m16 0h4m57 0h4m19 0h4m-140 1h4m111 0h4m25 0h4m40 0h4m-255 1h4m35 0h4m173 0h4m16 0h4m-52 2h4m65 0h4m-29 1h4m-72 1h4m78 0h4m2 0h4m-158 1h4m110 0h4m36 0h4m-182 1h4m43 0h4m102 0h4m3 0h4m-39 1h4m26 0h4m6 0h4m-204 1h4m10 1h4m36 0h4m27 0h4m58 0h4m44 0h4m16 0h4m-70 1h4m31 0h4m-165 1h4m30 0h4m71 0h4m80 0h4m-257 1h4m52 0h4m26 0h4m9 0h4m-2 0h4m8 0h4m8 0h4m33 0h4m-60 1h4m35 0h4m7 1h4m-1 0h4m56 0h4m-185 1h4m6 0h4m169 0h4m-257 2h4m6 0h4m86 0h4m94 0h4m-84 1h4m106 0h4m-99 1h4m74 0h4m28 0h4m29 0h4m-190 1h4m11 0h4m31 0h4m71 0h4m-24 1h4m66 0h4m-124 1h4m29 0h4m-3 0h4m51 0h4m-136 1h4m45 0h4m21 0h4m21 0h4m-74 1h4m4 0h4m20 0h4m-144 2h4m50 0h4m13 0h4m108 0h4m7 0h4m11 0h4m-2 0h4m1 0h4m-73 1h4m3 0h4m83 0h4m-141 1h4m77 0h4m26 0h4m-101 1h4m15 0h4m108 0h4m-252 1h4m96 0h4m8 0h4m18 0h4m93 0h4m-104 1h4m20 0h4m46 0h4m-21 1h4m13 0h4m-45 1h4m0 0h4m4 0h4m-10 1h4m12 0h4m-82 1h4m-56 1h4m117 0h4m18 0h4m-221 2h4m135 0h4m75 0h4m14 0h4m5 1h4m-101 1h4m15 0h4m48 0h4m-62 1h4m61 0h4m-197 1h4m85 0h4m57 0h4m-64 1h4m2 1h4m25 1h4m4 0h4m55 0h4m-3 0h4m-216 1h4m147 1h4m19 0h4m10 0h4m4 0h4m-82 1h4m58 0h4m-55 1h4m-86 2h4m1 0h4m109 1h4m41 0h4m-140 1h4m29 0h4m56 0h4m13 0h4m-82 1h4m98 0h4m-88 1h4m19 0h4m-104 1h4m55 0h4m78 0h4m-118 1h4m25 0h4m36 0h4m42 0h4m-1 0h4m2 0h4m-160 1h4m78 0h4m6 0h4m11 0h4m10 0h4m0 2h4m1 0h4m8 0h4m-118 2h4m91 0h4m7 1h4m16 0h4m-138 1h4m38 0h4m38 0h4m23 0h4m-133 1h4m132 0h4m22 0h4m-3 0h4m-75 1h4m53 0h4m-85 1h4m60 0h4m-155 1h4m111 0h4m3 0h4m61 0h4m-3 0h4m-70 1h4m18 0h4m-138 2h4m41 0h4m-35 2h4m89 0h4m11 0h4m-28 1h4m20 0h4m1 0h4m-132 1h4m60 0h4m-105 1h4m19 0h4m84 0h4m57 0h4m12 0h4m7 0h4m-3 0h4m-191 1h4m182 1h4m-107 1h4m106 0h4m-175 1h4m40 0h4m-11 1h4m31 0h4m60 0h4m9 1h4m-146 1h4m-29 1h4m17 3h4m28 0h4m1 0h4m-33 1h4m33 0h4m16 0h4m-52 1h4m3 0h4m6 1h4m-39 1h4m-2 0h4m-20 1h4m20 5h4m14 2h4m-17 5h4m-16 10h4" stroke="#2b7bba" stroke-width="4"/><path d="M1949 560h4m-71 5h4m77 5h4m-27 4h4m32 0h4m-150 2h4m6 2h4m-96 2h4m39 4h4m175 0h4m-168 3h4m111 0h4m6 0h4m-9 1h4m-149 2h4m118 2h4m72 0h4m-124 9h4m76 0h4m36 0h4m-66 2h4m-152 1h4m6 1h4m70 2h4m-44 8h4m17 1h4m42 0h4m-84 3h4m169 0h4m-151 2h4m-33 1h4m4 0h4m174 0h4m-50 1h4m28 0h4m-223 1h4m42 0h4m143 0h4m-141 1h4m8 1h4m-23 3h4m119 0h4m-118 1h4m14 3h4m53 2h4m-56 2h4m-67 1h4m202 1h4m-157 1h4m25 0h4m5 0h4m-59 1h4m-46 4h4m-3 1h4m233 0h4m-129 1h4m-123 3h4m14 1h4m-17 1h4m239 1h4m-233 1h4m-2 1h4m5 0h4m67 0h4m-41 1h4m149 0h4m-140 4h4m136 0h4m-39 1h4m4 1h4m40 0h4m12 0h4m-1 0h4m-233 2h4m126 0h4m-107 1h4m204 1h4m-201 2h4m-13 1h4m180 1h4m-135 1h4m-108 1h4m7 0h4m201 0h4m1 1h4m-191 1h4m-7 2h4m-25 1h4m155 0h4m-161 1h4m146 0h4m69 0h4m-181 1h4m12 0h4m68 0h4m-109 1h4m-13 1h4m206 2h4m-207 1h4m216 1h4m-193 2h4m31 0h4m-72 1h4m229 3h4m-264 1h4m183 2h4m-194 3h4m34 1h4m-2 0h4m15 0h4m170 2h4m-140 1h4m80 0h4m-132 2h4m56 0h4m-70 1h4m-11 1h4m87 1h4m12 0h4m-1 0h4m-168 1h4m21 0h4m30 0h4m198 1h4m-232 2h4m228 0h4m-265 1h4m107 0h4m-80 1h4m24 0h4m14 4h4m127 0h4m-28 1h4m-11 1h4m85 1h4m-48 1h4m25 0h4m-2 1h4m-61 1h4m-160 1h4m91 0h4m117 0h4m-183 1h4m176 1h4m-27 2h4m21 0h4m-256 2h4m122 0h4m6 0h4m-102 4h4m58 0h4m98 2h4m-158 4h4m-51 1h4m38 2h4m13 0h4m-38 1h4m8 0h4m80 0h4m-6 1h4m136 0h4m-26 2h4m-218 1h4m8 0h4m12 0h4m2 0h4m-23 1h4m-1 0h4m-31 1h4m70 0h4m155 0h4m-183 1h4m35 0h4m110 1h4m-187 1h4m-71 1h4m-2 1h4m4 0h4m65 0h4m139 0h4m-176 1h4m40 0h4m-87 1h4m53 0h4m111 4h4m-155 1h4m61 0h4m54 0h4m35 0h4m-148 1h4m121 0h4m-134 1h4m35 0h4m-76 1h4m61 0h4m168 0h4m-197 2h4m-43 2h4m51 0h4m20 0h4m-56 1h4m80 1h4m-59 1h4m24 0h4m28 1h4m-121 1h4m42 1h4m39 0h4m-49 1h4m2 0h4m51 0h4m11 0h4m-128 1h4m21 1h4m58 0h4m-44 1h4m25 0h4m9 0h4m-56 2h4m135 1h4m-162 1h4m45 1h4m33 0h4m4 0h4m-42 1h4m-47 1h4m13 0h4m12 0h4m-9 1h4m-40 1h4m10 0h4m13 0h4m23 0h4m37 0h4m-85 1h4m75 0h4m3 2h4m-53 1h4m104 0h4m-20 2h4m-97 1h4m-17 1h4m-54 1h4m16 1h4m5 2h4m11 1h4m156 0h4m-166 4h4m-32 1h4m33 0h4m12 0h4m55 0h4m8 0h4m-37 1h4m-63 1h4m2 0h4m9 0h4m5 1h4m14 0h4m77 0h4m-91 2h4m-14 1h4m5 0h4m8 0h4m-71 1h4m19 0h4m7 1h4m105 0h4m12 0h4m-112 1h4m1 0h4m-77 2h4m154 0h4m-160 1h4m45 1h4m-31 1h4m4 0h4m-8 2h4m10 2h4m-45 1h4m7 4h4m-16 2h4m23 0h4m-6 4h4m1 14h4" stroke="#1b9e77" stroke-width="4"/><path d="M1969 554h4m-2 5h4m-123 3h4m-2 0h4m16 0h4m-18 1h4m-14 1h4m-7 1h4m55 1h4m-70 1h4m112 0h4m-197 1h4m83 1h4m42 0h4m29 0h4m14 0h4m11 0h4m10 0h4m-72 1h4m-151 1h4m87 0h4m-86 1h4m-2 2h4m82 0h4m-72 1h4m87 0h4m0 0h4m65 0h4m-191 1h4m-18 1h4m114 0h4m34 0h4m-163 1h4m16 0h4m84 0h4m19 0h4m87 2h4m-227 1h4m19 0h4m59 1h4m83 0h4m-136 1h4m64 0h4m-88 1h4m12 0h4m185 0h4m-235 1h4m91 0h4m2 0h4m-21 1h4m-3 0h4m54 0h4m31 0h4m-72 1h4m71 0h4m-173 1h4m110 2h4m87 0h4m-95 1h4m-26 1h4m-84 1h4m23 0h4m20 0h4m0 0h4m31 0h4m30 0h4m80 0h4m-84 1h4m-94 1h4m39 0h4m-85 1h4m1 0h4m33 0h4m-76 1h4m28 0h4m17 0h4m18 0h4m79 0h4m9 1h4m-171 1h4m104 0h4m74 0h4m-180 1h4m7 2h4m5 0h4m89 1h4m99 0h4m-157 1h4m8 0h4m24 0h4m-99 1h4m208 0h4m-238 1h4m95 1h4m110 0h4m-29 1h4m21 0h4m-152 1h4m146 0h4m-93 2h4m-124 1h4m8 0h4m145 0h4m-93 1h4m51 1h4m93 0h4m-103 1h4m55 0h4m11 1h4m31 0h4m-166 2h4m122 0h4m-150 1h4m53 0h4m72 0h4m10 0h4m-75 1h4m81 0h4m6 0h4m-53 1h4m21 0h4m20 0h4m-220 1h4m88 0h4m3 0h4m15 0h4m-129 1h4m79 1h4m12 0h4m117 0h4m-30 1h4m21 0h4m13 2h4m-241 1h4m94 0h4m36 0h4m-47 1h4m77 0h4m-182 1h4m74 0h4m9 0h4m12 0h4m41 0h4m82 0h4m-105 2h4m53 0h4m16 1h4m-61 1h4m4 0h4m12 1h4m-80 1h4m34 0h4m78 0h4m-170 1h4m160 0h4m-35 1h4m-29 1h4m-121 1h4m120 0h4m55 0h4m-67 1h4m-61 1h4m2 0h4m88 1h4m22 0h4m-162 1h4m84 2h4m-23 1h4m51 0h4m19 0h4m19 0h4m-1 0h4m-153 2h4m28 0h4m-3 0h4m60 0h4m-63 2h4m104 0h4m-105 1h4m35 0h4m-4 1h4m-90 1h4m74 0h4m65 0h4m-213 1h4m89 1h4m6 1h4m84 1h4m-105 1h4m128 0h4m-81 1h4m-6 1h4m28 0h4m53 0h4m-152 1h4m12 0h4m117 0h4m5 0h4m7 0h4m-6 1h4m-11 1h4m-170 1h4m138 0h4m8 0h4m-53 1h4m-39 1h4m97 0h4m-105 1h4m-60 2h4m82 0h4m5 0h4m23 0h4m20 0h4m-116 1h4m37 0h4m-51 1h4m58 0h4m-203 1h4m175 0h4m56 0h4m9 0h4m-106 1h4m31 0h4m-72 1h4m101 0h4m-145 2h4m21 1h4m15 1h4m-75 1h4m60 1h4m13 0h4m8 0h4m-30 1h4m11 0h4m-49 2h4m50 0h4m8 0h4m17 0h4m-106 1h4m41 1h4m-12 1h4m-8 1h4m17 0h4m129 0h4m-258 3h4m124 0h4m93 0h4m-83 1h4m14 0h4m89 0h4m-153 1h4m27 1h4m-40 2h4m122 0h4m-131 1h4m13 1h4m-156 3h4m-3 1h4m5 1h4m83 0h4m49 0h4m-156 1h4m99 0h4m191 0h4m-306 1h4m135 0h4m-1 0h4m-150 2h4m13 0h4m-24 1h4m11 0h4m6 1h4m82 0h4m-97 1h4m134 0h4m24 0h4m14 0h4m13 1h4m8 0h4m-224 1h4m104 0h4m-124 1h4m-2 0h4m17 0h4m43 0h4m5 1h4m3 0h4m56 0h4m5 0h4m-94 1h4m7 0h4m105 0h4m5 0h4m-185 1h4m85 0h4m196 0h4m-296 1h4m143 0h4m20 0h4m15 0h4m53 1h4m-254 1h4m2 0h4m131 1h4m140 0h4m-293 1h4m35 1h4m92 0h4m114 0h4m-158 1h4m-1 0h4m47 0h4m90 0h4m-140 1h4m18 0h4m-137 1h4m1 0h4m22 0h4m37 0h4m40 1h4m116 0h4m1 0h4m-227 1h4m27 0h4m-45 1h4m172 0h4m14 0h4m-175 1h4m-26 1h4m3 0h4m245 0h4m-236 2h4m22 0h4m25 0h4m55 0h4m47 0h4m-183 2h4m21 0h4m2 0h4m229 0h4m-243 1h4m57 0h4m33 0h4m2 0h4m-120 1h4m129 1h4m75 0h4m-143 2h4m50 0h4m25 0h4m67 0h4m-100 1h4m34 0h4m-39 1h4m-145 2h4m141 0h4m61 0h4m-102 1h4m-1 0h4m107 0h4m-116 1h4m-1 0h4m-112 1h4m221 0h4m-215 2h4m118 0h4m-157 2h4m159 0h4m20 1h4m-103 1h4m-2 0h4m-46 1h4m-21 2h4m2 0h4m88 0h4m146 1h4m-142 1h4m-92 1h4m81 0h4m-132 3h4m168 0h4m-152 1h4m75 0h4m51 1h4m36 0h4m-173 1h4m92 2h4m-15 4h4m-122 2h4m44 0h4m42 0h4m31 1h4m34 0h4m-128 1h4m-6 1h4m-25 1h4m19 1h4m-49 1h4m66 0h4m107 0h4m-176 2h4m-5 3h4m97 0h4m121 0h4m-42 1h4m-186 1h4m-3 0h4m9 0h4m-7 2h4m110 0h4m-51 1h4m-68 1h4m125 0h4m-152 2h4m184 0h4m-11 2h4m-22 2h4m51 1h4m-217 1h4m3 1h4m182 1h4m-205 1h4m166 1h4m-164 2h4m68 2h4m-7 1h4m59 0h4m14 0h4m-156 3h4m66 0h4m-31 1h4m21 3h4m9 0h4m-72 4h4m92 1h4m-14 1h4m-63 1h4m-18 2h4m-23 1h4m44 10h4m-20 5h4m23 0h4" stroke="#d95f02" stroke-width="4"/><path d="M1956 557h4m9 3h4m-17 4h4m-70 1h4m-31 1h4m18 0h4m17 0h4m56 0h4m-119 1h4m105 0h4m-126 1h4m-4 1h4m115 1h4m-90 1h4m-51 1h4m116 0h4m-6 1h4m3 0h4m-2 0h4m-32 1h4m-18 2h4m50 0h4m-108 1h4m44 0h4m-161 1h4m167 1h4m-44 1h4m7 2h4m15 2h4m5 0h4m-52 1h4m98 0h4m-136 1h4m14 0h4m-1 0h4m3 0h4m-120 2h4m216 0h4m-130 1h4m-81 1h4m148 1h4m-148 1h4m61 0h4m38 0h4m-60 1h4m105 0h4m-87 1h4m-26 1h4m7 0h4m53 0h4m-96 2h4m93 0h4m-97 2h4m32 4h4m42 0h4m-139 4h4m94 0h4m-44 1h4m100 0h4m57 0h4m-55 1h4m-97 1h4m30 0h4m29 0h4m76 0h4m-175 1h4m28 0h4m-99 1h4m2 1h4m120 0h4m86 0h4m-212 1h4m147 0h4m3 0h4m14 0h4m-156 1h4m164 0h4m-32 1h4m-174 1h4m4 0h4m122 0h4m40 1h4m23 0h4m7 0h4m-102 1h4m-98 1h4m-28 1h4m53 0h4m-36 1h4m198 0h4m-210 1h4m44 0h4m126 0h4m27 0h4m-179 1h4m8 0h4m-55 2h4m169 0h4m3 0h4m-178 1h4m57 0h4m107 0h4m5 0h4m-170 1h4m64 0h4m78 0h4m37 0h4m-168 1h4m80 0h4m-92 1h4m-17 1h4m115 0h4m-141 1h4m8 0h4m71 0h4m-32 1h4m59 0h4m60 0h4m-203 1h4m128 0h4m34 0h4m6 0h4m-79 1h4m40 0h4m11 0h4m49 0h4m-98 2h4m48 0h4m-172 1h4m24 0h4m125 0h4m-118 2h4m46 0h4m104 0h4m-200 1h4m40 0h4m20 0h4m-96 1h4m14 0h4m196 0h4m-211 1h4m60 0h4m52 0h4m21 0h4m33 0h4m-125 1h4m139 0h4m-139 1h4m45 0h4m18 0h4m-19 1h4m26 0h4m-59 1h4m4 0h4m48 0h4m6 0h4m-187 1h4m5 0h4m159 0h4m-96 1h4m-69 1h4m69 0h4m109 0h4m34 0h4m-241 2h4m70 0h4m-2 0h4m24 0h4m78 0h4m-93 1h4m14 0h4m-95 1h4m33 1h4m13 0h4m11 0h4m29 0h4m-111 1h4m22 0h4m3 1h4m112 0h4m75 0h4m-173 1h4m104 0h4m14 0h4m-209 1h4m23 0h4m176 0h4m-182 1h4m94 0h4m31 0h4m-132 2h4m-1 0h4m152 0h4m15 1h4m-194 1h4m134 1h4m11 0h4m3 0h4m53 0h4m-202 1h4m101 0h4m4 0h4m3 2h4m66 0h4m-88 1h4m-133 1h4m-10 2h4m13 0h4m26 0h4m192 0h4m-108 1h4m-144 1h4m19 0h4m8 0h4m116 0h4m26 0h4m-81 1h4m68 0h4m35 0h4m-179 1h4m91 0h4m88 0h4m-244 1h4m8 0h4m48 0h4m50 0h4m-92 1h4m41 0h4m33 0h4m105 0h4m-211 2h4m13 0h4m37 0h4m-49 1h4m3 0h4m31 0h4m154 0h4m23 0h4m-75 1h4m-107 1h4m52 0h4m-20 1h4m12 0h4m70 0h4m-186 1h4m18 0h4m80 0h4m23 0h4m18 0h4m-146 1h4m25 0h4m48 0h4m27 0h4m60 0h4m19 0h4m-174 1h4m123 0h4m-127 1h4m18 0h4m97 0h4m25 0h4m-76 1h4m34 0h4m-196 1h4m50 0h4m40 0h4m-98 1h4m172 0h4m21 0h4m26 0h4m8 0h4m-231 1h4m19 0h4m173 0h4m35 0h4m-216 1h4m207 1h4m-246 1h4m5 1h4m62 0h4m142 0h4m-230 1h4m27 0h4m28 0h4m136 1h4m-14 1h4m35 0h4m-111 1h4m-56 2h4m136 0h4m-164 1h4m179 0h4m-214 1h4m175 0h4m0 0h4m-250 1h4m200 0h4m47 0h4m-188 1h4m77 0h4m56 0h4m-132 1h4m137 0h4m8 0h4m-180 1h4m4 0h4m31 1h4m38 0h4m30 0h4m80 0h4m-220 1h4m12 0h4m62 0h4m-1 0h4m23 0h4m93 0h4m-68 2h4m-214 1h4m118 0h4m148 1h4m-243 1h4m49 0h4m40 0h4m73 0h4m55 0h4m-189 1h4m159 0h4m-169 1h4m26 0h4m186 0h4m-118 1h4m69 0h4m-183 1h4m105 0h4m35 0h4m78 0h4m-163 1h4m20 0h4m29 0h4m65 0h4m-7 1h4m-230 1h4m146 0h4m77 0h4m-178 1h4m-106 1h4m213 0h4m-124 1h4m122 0h4m-162 1h4m125 0h4m31 0h4m22 0h4m11 0h4m-153 1h4m57 0h4m50 0h4m-235 1h4m108 0h4m59 0h4m12 0h4m4 0h4m34 0h4m-175 1h4m77 0h4m-88 1h4m108 0h4m34 0h4m7 0h4m26 0h4m-222 1h4m-2 0h4m194 0h4m54 0h4m-146 3h4m31 0h4m33 0h4m33 1h4m-105 1h4m123 0h4m-136 1h4m42 0h4m68 0h4m21 0h4m-184 1h4m106 0h4m-108 1h4m8 0h4m2 0h4m35 0h4m69 0h4m-123 1h4m138 0h4m4 0h4m-53 1h4m-105 1h4m10 0h4m-1 0h4m29 1h4m-169 1h4m145 0h4m94 0h4m27 0h4m-261 1h4m76 0h4m-1 0h4m-80 1h4m124 0h4m46 0h4m-139 1h4m60 0h4m124 2h4m-157 1h4m23 0h4m-54 1h4m-97 2h4m41 0h4m-1 0h4m96 0h4m48 1h4m-105 1h4m19 0h4m145 0h4m-194 1h4m53 1h4m8 0h4m16 0h4m9 0h4m-1 0h4m47 0h4m5 0h4m-240 1h4m53 0h4m156 0h4m-210 1h4m23 0h4m26 0h4m159 0h4m-204 1h4m114 0h4m-56 1h4m52 0h4m-166 1h4m85 0h4m148 0h4m-2 0h4m-5 1h4m-209 1h4m27 0h4m126 0h4m-170 1h4m-3 0h4m158 0h4m13 0h4m10 0h4m-152 1h4m109 0h4m24 0h4m-166 1h4m104 1h4m22 0h4m8 0h4m-201 1h4m173 0h4m8 0h4m-6 1h4m-88 1h4m36 0h4m50 0h4m-161 1h4m75 0h4m47 0h4m64 0h4m-183 1h4m160 1h4m-132 1h4m6 0h4m60 0h4m-148 1h4m35 0h4m70 0h4m8 0h4m-123 1h4m107 0h4m-58 1h4m91 0h4m3 0h4m4 0h4m-93 1h4m4 0h4m19 0h4m-24 1h4m104 0h4m-83 1h4m13 1h4m-66 1h4m119 0h4m-151 1h4m107 0h4m-69 1h4m-1 0h4m22 0h4m-45 2h4m29 0h4m-2 0h4m-23 1h4m-40 3h4m56 0h4m20 0h4m44 0h4m-197 1h4m137 0h4m1 0h4m30 0h4m-220 1h4m155 0h4m44 1h4m8 0h4m-113 1h4m-2 0h4m2 0h4m3 0h4m97 0h4m-124 1h4m1 0h4m88 0h4m-98 1h4m42 0h4m30 0h4m13 0h4m-46 2h4m54 0h4m-131 1h4m85 0h4m-74 1h4m3 0h4m66 0h4m28 0h4m3 0h4m-73 1h4m57 0h4m-195 1h4m20 0h4m162 0h4m-21 1h4m-37 1h4m10 0h4m2 0h4m22 0h4m-140 2h4m98 2h4m-132 3h4m29 0h4m-25 2h4m23 0h4m3 0h4m-33 2h4m-51 1h4m13 4h4m16 0h4m-20 1h4m0 0h4m-9 1h4m-10 2h4m6 7h4m-14 1h4m17 0h4m-27 3h4m16 0h4m6 1h4m-1 0h4m-29 4h4m26 0h4m-36 2h4m5 3h4" stroke="#2b7bba" stroke-width="4"/><path d="M1958 560h4m-84 1h4m93 6h4m-61 1h4m53 0h4m-138 1h4m105 1h4m-131 1h4m122 0h4m16 0h4m-213 2h4m195 1h4m11 0h4m-8 5h4m-66 1h4m-100 1h4m-29 1h4m52 1h4m133 0h4m-37 1h4m-108 3h4m94 0h4m-200 8h4m235 0h4m-122 1h4m-76 3h4m142 11h4m10 7h4m-99 4h4m-81 2h4m4 1h4m-47 1h4m73 4h4m-32 1h4m142 0h4m-182 1h4m148 0h4m1 0h4m-101 1h4m7 1h4m-54 1h4m9 0h4m22 0h4m-9 2h4m14 1h4m109 0h4m-193 3h4m17 1h4m159 2h4m-150 2h4m134 0h4m-192 1h4m21 0h4m21 1h4m-25 3h4m8 0h4m-39 1h4m46 0h4m104 0h4m-68 1h4m-2 0h4m106 0h4m44 1h4m-212 2h4m141 1h4m-175 3h4m17 2h4m200 0h4m-222 1h4m22 0h4m-17 2h4m199 0h4m-242 1h4m-7 1h4m193 1h4m-177 3h4m49 0h4m140 3h4m-102 2h4m-93 5h4m188 1h4m-127 4h4m13 1h4m129 1h4m-181 1h4m148 1h4m-21 2h4m-201 1h4m49 2h4m0 0h4m-24 3h4m113 0h4m65 1h4m-3 0h4m-176 1h4m157 0h4m-205 1h4m44 0h4m15 1h4m137 0h4m21 0h4m-240 2h4m11 0h4m13 0h4m-36 2h4m155 0h4m63 1h4m3 1h4m-119 1h4m-123 1h4m226 0h4m-94 2h4m-45 5h4m126 0h4m-53 1h4m55 0h4m-196 1h4m22 1h4m173 0h4m-235 1h4m11 0h4m163 1h4m-227 1h4m70 0h4m185 0h4m-288 4h4m48 3h4m222 1h4m-229 1h4m19 0h4m9 0h4m187 0h4m-220 1h4m34 2h4m-76 2h4m240 1h4m-5 2h4m-243 1h4m66 0h4m-46 2h4m27 0h4m190 0h4m-218 1h4m124 0h4m-142 1h4m28 0h4m112 0h4m-108 1h4m8 1h4m3 0h4m-109 1h4m55 1h4m110 0h4m-97 1h4m27 0h4m107 0h4m21 0h4m-129 2h4m-47 1h4m76 0h4m95 1h4m-276 1h4m94 0h4m144 0h4m12 1h4m-254 1h4m148 0h4m-105 1h4m14 0h4m7 0h4m156 0h4m-241 2h4m33 0h4m120 0h4m12 0h4m-108 1h4m-48 1h4m14 0h4m33 0h4m172 0h4m-220 1h4m156 0h4m-168 1h4m-38 1h4m38 0h4m3 0h4m9 0h4m-80 1h4m39 0h4m8 0h4m19 0h4m13 1h4m-48 1h4m-40 1h4m69 0h4m40 0h4m-13 2h4m37 0h4m-90 1h4m64 2h4m-90 1h4m133 0h4m-117 1h4m-18 2h4m-9 1h4m22 0h4m22 0h4m-77 1h4m38 0h4m-36 2h4m174 0h4m-105 2h4m53 0h4m-125 1h4m5 0h4m3 0h4m43 1h4m99 0h4m-157 2h4m59 0h4m-29 1h4m-3 0h4m12 0h4m-30 1h4m5 0h4m-69 1h4m123 0h4m15 0h4m-150 1h4m-13 1h4m13 1h4m26 1h4m7 0h4m38 0h4m-129 2h4m97 0h4m-27 1h4m-43 1h4m-16 1h4m39 0h4m-83 1h4m65 1h4m-28 1h4m43 0h4m3 0h4m109 0h4m-193 1h4m79 0h4m-69 2h4m-13 1h4m38 0h4m41 0h4m79 0h4m-164 1h4m10 0h4m66 0h4m-49 1h4m-15 1h4m16 0h4m-13 1h4m-52 1h4m-3 0h4m20 1h4m-46 1h4m87 1h4m-19 2h4m-62 3h4m-4 3h4m53 0h4m-7 2h4m-25 4h4m-11 4h4m-16 8h4m-12 4h4" stroke="#1b9e77" stroke-width="4"/><path d="M1960 561h4m5 0h4m-94 2h4m2 0h4m-3 1h4m-41 1h4m35 0h4m-5 1h4m-2 0h4m4 1h4m46 1h4m-81 1h4m32 0h4m41 0h4m-172 1h4m65 0h4m22 0h4m-39 1h4m105 0h4m20 0h4m-107 1h4m90 0h4m-94 2h4m-1 0h4m-53 1h4m48 0h4m21 1h4m27 0h4m38 0h4m-35 1h4m-167 1h4m116 0h4m27 0h4m-167 1h4m33 0h4m24 0h4m33 0h4m-131 1h4m24 0h4m76 0h4m1 0h4m-95 2h4m126 0h4m36 0h4m-201 1h4m115 0h4m86 0h4m24 0h4m-206 1h4m51 0h4m57 1h4m40 0h4m-168 1h4m161 0h4m17 0h4m-147 1h4m-72 1h4m79 0h4m8 0h4m12 0h4m70 0h4m-195 1h4m11 1h4m0 0h4m62 0h4m67 0h4m-119 1h4m16 0h4m8 0h4m3 0h4m27 1h4m-3 0h4m36 0h4m1 0h4m14 1h4m0 0h4m-175 1h4m23 0h4m81 0h4m108 0h4m-192 1h4m41 0h4m1 1h4m6 0h4m109 0h4m-203 1h4m10 0h4m196 0h4m-221 1h4m67 0h4m70 0h4m-137 1h4m133 0h4m-35 1h4m-126 2h4m163 0h4m-89 1h4m32 1h4m48 0h4m-38 1h4m-133 1h4m49 0h4m66 1h4m-20 1h4m1 0h4m79 0h4m-217 1h4m118 0h4m-38 1h4m43 0h4m25 0h4m22 0h4m-34 1h4m9 0h4m9 0h4m-39 1h4m18 0h4m-147 1h4m135 0h4m-98 1h4m40 0h4m-103 1h4m71 1h4m17 0h4m-79 1h4m127 0h4m-94 1h4m123 0h4m-88 2h4m32 0h4m-161 1h4m32 0h4m72 0h4m43 1h4m-86 1h4m92 0h4m40 0h4m-132 1h4m23 0h4m0 0h4m86 0h4m-204 1h4m13 0h4m117 0h4m39 0h4m-69 1h4m94 0h4m-60 1h4m61 0h4m-151 1h4m46 0h4m78 0h4m11 0h4m5 1h4m-69 1h4m46 0h4m-158 3h4m48 0h4m21 0h4m57 0h4m-73 1h4m5 0h4m0 1h4m-60 3h4m26 0h4m-3 0h4m91 0h4m-223 1h4m91 0h4m39 0h4m1 0h4m-6 1h4m-20 1h4m29 0h4m12 0h4m39 0h4m-139 1h4m3 1h4m39 1h4m-2 1h4m-2 0h4m-69 1h4m49 0h4m110 0h4m-78 1h4m46 0h4m-42 1h4m35 1h4m1 0h4m-152 1h4m116 0h4m-167 1h4m177 0h4m9 1h4m-139 1h4m155 0h4m-174 2h4m75 0h4m47 0h4m-56 1h4m56 0h4m2 0h4m-106 1h4m123 0h4m-145 1h4m79 0h4m-34 2h4m21 0h4m-133 1h4m96 0h4m-52 2h4m128 0h4m-199 1h4m59 1h4m121 0h4m-114 1h4m67 0h4m66 2h4m-23 1h4m-172 1h4m31 0h4m1 1h4m-2 0h4m147 1h4m-150 2h4m2 0h4m-106 2h4m113 0h4m78 2h4m10 0h4m30 0h4m-147 1h4m109 0h4m-129 1h4m4 0h4m130 0h4m1 0h4m4 0h4m-135 1h4m102 0h4m-214 1h4m38 0h4m151 1h4m-88 1h4m111 0h4m-165 2h4m62 0h4m11 0h4m57 0h4m-219 1h4m19 0h4m132 0h4m-75 1h4m140 0h4m-98 2h4m-26 1h4m-89 1h4m130 1h4m-103 1h4m80 0h4m8 0h4m-170 1h4m64 0h4m90 0h4m-41 1h4m15 0h4m22 0h4m-59 1h4m-137 1h4m127 0h4m-134 1h4m193 0h4m-23 1h4m70 0h4m-32 1h4m30 0h4m-291 1h4m286 0h4m-162 1h4m27 0h4m63 0h4m-68 1h4m35 0h4m-223 1h4m6 0h4m154 0h4m98 0h4m-274 1h4m3 0h4m154 2h4m57 0h4m-229 1h4m1 1h4m59 0h4m93 0h4m-83 1h4m90 0h4m-176 1h4m211 0h4m-205 1h4m143 0h4m42 0h4m-215 1h4m40 0h4m40 0h4m11 0h4m-90 1h4m-3 0h4m-15 1h4m70 0h4m69 2h4m-34 2h4m62 0h4m66 0h4m-263 1h4m41 0h4m-53 1h4m18 0h4m23 0h4m155 0h4m26 0h4m-246 1h4m12 0h4m25 0h4m17 0h4m-67 1h4m52 0h4m187 0h4m-254 1h4m-3 0h4m106 0h4m-108 1h4m118 0h4m-119 1h4m23 1h4m31 2h4m-13 1h4m-1 1h4m112 0h4m-2 0h4m-169 1h4m-18 1h4m208 0h4m-71 2h4m43 0h4m-175 1h4m7 0h4m64 0h4m43 0h4m-35 1h4m0 0h4m-22 1h4m11 0h4m111 0h4m-73 1h4m-116 2h4m79 0h4m77 1h4m-47 1h4m-80 1h4m90 0h4m-112 1h4m160 0h4m-55 1h4m-179 1h4m170 0h4m-168 1h4m62 0h4m122 0h4m-125 1h4m-62 1h4m199 0h4m-17 1h4m-200 4h4m44 0h4m-72 1h4m143 0h4m-137 1h4m60 0h4m29 0h4m55 0h4m-175 1h4m147 0h4m5 0h4m14 0h4m20 2h4m-175 1h4m178 1h4m23 1h4m-106 1h4m-119 1h4m107 1h4m106 0h4m-228 2h4m156 1h4m-180 1h4m12 0h4m108 0h4m-137 1h4m21 0h4m22 1h4m91 1h4m-104 2h4m150 0h4m-203 2h4m-3 1h4m150 0h4m-14 1h4m-146 1h4m105 0h4m-26 1h4m-1 0h4m-94 1h4m157 0h4m-136 1h4m7 3h4m-44 1h4m98 0h4m-99 1h4m210 1h4m5 0h4m-221 1h4m43 2h4m71 0h4m-8 1h4m48 2h4m-21 1h4m-154 1h4m-1 0h4m7 0h4m156 0h4m-185 1h4m-1 0h4m125 0h4m19 1h4m38 0h4m-192 1h4m-1 0h4m149 0h4m-12 1h4m-34 1h4m9 0h4m9 0h4m-158 1h4m85 2h4m75 0h4m-14 1h4m21 0h4m-94 1h4m15 0h4m5 0h4m56 0h4m-60 1h4m-49 2h4m34 2h4m-29 1h4m-87 4h4m-4 2h4m28 0h4m-31 1h4m43 1h4m-33 1h4m-3 1h4m-10 5h4m46 1h4m-7 1h4m-58 1h4m20 6h4m-15 4h4m4 4h4m10 1h4m-19 1h4" stroke="#d95f02" stroke-width="4"/><path d="M1964 554h4m0 3h4m-15 3h4m-1 0h4m4 2h4m-101 1h4m-29 2h4m26 0h4m-17 1h4m6 0h4m-26 1h4m-86 1h4m106 0h4m-44 2h4m-12 1h4m58 0h4m-64 2h4m131 1h4m-56 2h4m17 0h4m-58 2h4m-116 1h4m70 1h4m82 0h4m-142 1h4m65 0h4m-53 1h4m75 1h4m22 1h4m8 1h4m-105 1h4m66 1h4m-123 1h4m120 0h4m-101 1h4m24 0h4m23 0h4m2 0h4m-86 1h4m58 0h4m34 0h4m-79 1h4m52 0h4m-36 1h4m30 0h4m46 0h4m-178 2h4m52 0h4m8 0h4m14 0h4m-26 1h4m80 1h4m-56 1h4m83 0h4m-125 1h4m31 0h4m20 0h4m8 0h4m46 0h4m-180 1h4m57 0h4m0 2h4m70 0h4m-37 1h4m-4 1h4m55 0h4m-79 1h4m84 1h4m-114 1h4m134 0h4m-103 2h4m27 0h4m-149 2h4m23 0h4m64 0h4m57 1h4m-146 2h4m96 0h4m62 0h4m-33 1h4m-122 1h4m7 0h4m-47 1h4m180 0h4m-39 1h4m29 0h4m-20 1h4m-81 1h4m59 1h4m-117 1h4m63 1h4m63 0h4m-144 1h4m22 0h4m-53 1h4m45 0h4m56 0h4m12 0h4m-56 1h4m-62 1h4m78 0h4m35 0h4m-119 1h4m1 0h4m60 0h4m81 0h4m19 0h4m-114 1h4m2 2h4m-3 0h4m31 0h4m-107 1h4m-19 2h4m24 0h4m131 0h4m-53 1h4m-111 2h4m18 0h4m34 1h4m144 0h4m-167 1h4m-54 1h4m220 0h4m-185 1h4m73 1h4m64 1h4m-56 1h4m64 0h4m-2 0h4m-7 2h4m14 0h4m-172 1h4m59 0h4m13 0h4m4 0h4m32 0h4m34 0h4m-226 1h4m95 0h4m-39 1h4m2 0h4m25 1h4m45 0h4m-151 1h4m137 0h4m62 0h4m-205 1h4m214 0h4m20 1h4m-135 1h4m83 0h4m2 0h4m-198 1h4m2 0h4m-29 3h4m46 0h4m40 1h4m-4 1h4m92 0h4m28 0h4m6 0h4m-204 1h4m20 0h4m113 0h4m8 0h4m-24 1h4m1 0h4m-109 1h4m4 0h4m118 0h4m49 0h4m-191 1h4m12 0h4m-2 0h4m96 0h4m54 0h4m-133 1h4m38 0h4m59 0h4m-219 1h4m42 0h4m107 0h4m-138 1h4m163 0h4m36 0h4m-163 1h4m44 0h4m91 0h4m35 0h4m-247 1h4m48 0h4m192 0h4m-201 1h4m17 0h4m19 0h4m-2 0h4m99 0h4m-165 1h4m38 0h4m32 0h4m5 0h4m-110 1h4m98 0h4m-10 2h4m42 0h4m19 0h4m-82 1h4m89 0h4m0 1h4m-166 1h4m105 0h4m-110 1h4m100 0h4m52 0h4m50 0h4m-169 1h4m57 0h4m55 0h4m-195 1h4m124 0h4m52 0h4m-33 1h4m2 0h4m26 0h4m-118 1h4m-101 1h4m128 0h4m106 0h4m-82 1h4m65 0h4m-237 1h4m152 0h4m71 0h4m-80 1h4m-170 1h4m19 0h4m183 0h4m-213 2h4m15 1h4m157 0h4m-140 2h4m167 0h4m-165 1h4m15 0h4m-1 0h4m64 0h4m75 0h4m-214 2h4m60 0h4m-54 1h4m41 0h4m-47 1h4m3 1h4m67 0h4m82 0h4m-90 1h4m74 0h4m-129 1h4m-1 0h4m-3 0h4m-7 1h4m36 0h4m123 0h4m11 0h4m-208 1h4m47 0h4m87 0h4m1 0h4m17 0h4m10 0h4m12 0h4m-16 1h4m-188 1h4m88 0h4m129 0h4m-204 1h4m4 0h4m-36 1h4m106 2h4m-178 1h4m56 0h4m163 0h4m-154 1h4m145 0h4m20 0h4m-53 1h4m25 0h4m-1 0h4m39 0h4m-249 1h4m-2 0h4m138 0h4m76 0h4m30 0h4m-130 1h4m91 0h4m-199 1h4m19 0h4m113 0h4m15 0h4m10 0h4m51 0h4m-218 1h4m63 0h4m13 0h4m9 0h4m7 0h4m-117 1h4m-35 1h4m22 0h4m189 0h4m-77 1h4m-44 1h4m79 0h4m-194 1h4m187 0h4m-249 1h4m50 0h4m224 0h4m-192 1h4m101 0h4m30 0h4m-164 1h4m153 0h4m-127 1h4m118 0h4m23 0h4m-145 1h4m2 0h4m38 0h4m-3 0h4m59 0h4m12 0h4m-164 1h4m93 0h4m-108 1h4m141 0h4m60 0h4m10 0h4m-120 1h4m16 0h4m46 0h4m31 0h4m-188 2h4m36 0h4m88 0h4m55 0h4m-156 1h4m118 0h4m-72 1h4m76 0h4m24 1h4m-217 1h4m28 0h4m91 0h4m6 0h4m20 0h4m1 0h4m-183 1h4m1 0h4m118 0h4m-3 0h4m33 0h4m54 0h4m-164 2h4m36 0h4m-2 0h4m-27 1h4m58 3h4m49 0h4m14 0h4m-255 1h4m175 0h4m-1 0h4m-182 1h4m163 0h4m8 0h4m-84 1h4m145 0h4m-38 1h4m20 0h4m4 0h4m7 0h4m-170 1h4m38 0h4m8 0h4m13 0h4m29 0h4m-196 1h4m71 0h4m86 0h4m-109 1h4m58 0h4m-68 1h4m-56 1h4m114 0h4m68 0h4m27 0h4m-237 1h4m231 0h4m12 0h4m-279 1h4m67 0h4m16 0h4m66 0h4m98 0h4m-170 1h4m104 0h4m-15 1h4m33 0h4m18 0h4m-184 1h4m160 0h4m-3 0h4m-57 1h4m65 0h4m-198 1h4m59 0h4m54 0h4m3 0h4m-162 1h4m162 0h4m38 0h4m34 0h4m-141 1h4m2 0h4m27 0h4m57 0h4m-53 1h4m12 1h4m61 0h4m-173 2h4m76 0h4m53 0h4m-121 1h4m-84 1h4m193 0h4m-77 1h4m5 0h4m13 0h4m-157 1h4m17 0h4m127 0h4m14 0h4m-142 1h4m26 0h4m60 0h4m76 0h4m-171 1h4m36 0h4m33 0h4m-81 1h4m46 1h4m-94 1h4m90 0h4m-3 0h4m3 0h4m75 0h4m-3 0h4m25 0h4m-79 1h4m0 0h4m34 0h4m-63 1h4m-132 1h4m7 0h4m95 0h4m-1 0h4m7 0h4m1 0h4m67 0h4m-211 1h4m100 0h4m34 0h4m26 0h4m14 0h4m-115 1h4m25 0h4m9 0h4m47 0h4m25 0h4m-22 1h4m11 0h4m-127 4h4m48 2h4m4 0h4m-1 0h4m24 0h4m41 0h4m-36 1h4m-147 1h4m9 0h4m46 0h4m3 0h4m63 0h4m-7 1h4m-2 0h4m5 0h4m32 0h4m-201 1h4m7 0h4m27 0h4m5 0h4m47 0h4m88 1h4m-19 1h4m13 0h4m-196 1h4m74 0h4m8 0h4m-99 1h4m59 0h4m38 0h4m19 0h4m33 0h4m-4 2h4m3 0h4m18 0h4m-101 2h4m25 0h4m-51 1h4m60 0h4m48 0h4m-188 1h4m0 0h4m-43 1h4m186 0h4m20 0h4m-29 1h4m0 0h4m5 0h4m-39 1h4m16 0h4m4 0h4m-178 1h4m154 0h4m-17 1h4m-65 1h4m25 0h4m3 0h4m23 0h4m-100 1h4m90 1h4m5 1h4m-49 1h4m28 0h4m-82 1h4m-26 1h4m102 0h4m-2 0h4m-77 2h4m-38 1h4m19 1h4m88 0h4m-91 2h4m-49 1h4m-9 1h4m39 1h4m-41 1h4m21 1h4m-62 3h4m31 1h4m7 9h4m-12 2h4m-31 7h4m-3 2h4m20 1h4m2 1h4m-7 1h4" stroke="#2b7bba" stroke-width="4"/><path d="M1959 555h4m-78 6h4m59 5h4m20 2h4m-138 3h4m45 0h4m-125 1h4m173 1h4m-90 1h4m49 1h4m-24 2h4m-15 1h4m-60 1h4m22 0h4m-58 4h4m42 0h4m121 7h4m-5 4h4m-53 1h4m-99 2h4m58 2h4m-24 1h4m-104 1h4m19 2h4m-14 1h4m184 2h4m-129 5h4m-20 1h4m-78 2h4m71 1h4m99 0h4m-133 9h4m180 0h4m-141 2h4m18 0h4m105 0h4m-198 2h4m20 1h4m115 0h4m-172 2h4m17 0h4m-25 2h4m62 0h4m75 1h4m13 0h4m-156 1h4m39 0h4m5 0h4m2 0h4m70 0h4m71 0h4m-230 1h4m131 0h4m51 0h4m-153 2h4m-9 2h4m58 0h4m-51 1h4m38 0h4m82 1h4m-123 2h4m-27 1h4m45 0h4m-90 1h4m28 2h4m26 0h4m164 2h4m-181 1h4m22 0h4m8 0h4m161 1h4m-213 3h4m212 0h4m-243 3h4m22 0h4m91 4h4m-131 1h4m11 0h4m41 2h4m8 0h4m-79 1h4m51 0h4m-1 1h4m-16 1h4m202 0h4m-211 1h4m81 1h4m71 0h4m-214 1h4m6 1h4m94 1h4m32 0h4m80 0h4m-225 1h4m13 1h4m180 0h4m-192 2h4m-6 1h4m3 1h4m36 0h4m174 0h4m-246 2h4m13 0h4m230 1h4m-194 1h4m106 0h4m-131 2h4m13 0h4m-49 1h4m82 0h4m-95 2h4m49 4h4m201 1h4m-192 1h4m58 1h4m-133 1h4m38 1h4m91 0h4m61 0h4m-103 1h4m-93 2h4m11 1h4m-35 2h4m30 1h4m4 0h4m-79 1h4m34 0h4m47 1h4m152 2h4m-175 1h4m96 0h4m-81 1h4m180 0h4m-118 1h4m96 5h4m15 0h4m-49 1h4m-190 2h4m130 0h4m-139 1h4m2 0h4m217 0h4m-77 2h4m-169 1h4m36 0h4m6 1h4m33 0h4m94 1h4m-199 1h4m24 0h4m10 0h4m180 0h4m-233 3h4m46 1h4m208 2h4m-191 1h4m107 0h4m-156 1h4m85 2h4m101 0h4m22 1h4m-163 4h4m19 1h4m132 0h4m-227 1h4m22 0h4m177 0h4m-188 2h4m106 0h4m-115 2h4m180 1h4m18 1h4m-218 2h4m34 0h4m54 1h4m-96 1h4m48 0h4m-69 1h4m186 0h4m-255 1h4m171 1h4m31 0h4m-184 2h4m50 1h4m-40 2h4m39 0h4m3 1h4m73 0h4m-144 1h4m-38 1h4m44 1h4m-54 1h4m54 0h4m6 0h4m152 0h4m-208 1h4m32 0h4m-2 0h4m45 1h4m-36 1h4m172 0h4m-174 2h4m4 0h4m-40 1h4m2 2h4m97 0h4m-43 2h4m27 0h4m-78 3h4m45 1h4m1 0h4m47 0h4m-185 1h4m63 0h4m-2 0h4m12 0h4m-34 1h4m34 1h4m-41 1h4m137 1h4m41 0h4m-240 1h4m75 3h4m-19 1h4m8 1h4m11 0h4m21 0h4m-105 1h4m95 1h4m111 0h4m-178 1h4m5 0h4m5 0h4m34 1h4m72 0h4m-153 2h4m54 0h4m-59 1h4m-1 0h4m39 0h4m-31 2h4m63 1h4m-94 1h4m111 0h4m-103 3h4m-2 0h4m0 2h4m41 1h4m-3 0h4m-55 2h4m36 0h4m-1 0h4m8 1h4m-47 1h4m-5 1h4m27 0h4m-66 1h4m21 1h4m13 1h4m6 0h4m6 1h4m-17 1h4m-32 2h4m4 0h4m-2 3h4m-40 4h4m-7 3h4m41 1h4m-25 1h4m16 1h4m-37 1h4m16 1h4m-9 3h4m7 6h4" stroke="#1b9e77" stroke-width="4"/><path d="M1970 555h4m-13 7h4m-77 1h4m15 0h4m-49 3h4m48 0h4m53 0h4m-104 1h4m16 0h4m65 0h4m-119 2h4m9 0h4m20 0h4m-118 1h4m0 0h4m-3 0h4m91 0h4m42 0h4m-3 0h4m26 1h4m-171 1h4m81 0h4m8 0h4m43 1h4m-40 1h4m26 0h4m-164 2h4m64 0h4m108 0h4m28 0h4m0 0h4m-156 1h4m30 0h4m-2 1h4m1 0h4m-51 1h4m149 0h4m-205 1h4m-12 3h4m11 0h4m43 0h4m30 0h4m-66 1h4m112 0h4m-134 1h4m107 0h4m14 0h4m12 0h4m-84 1h4m17 0h4m-117 2h4m66 1h4m61 0h4m9 0h4m-116 1h4m47 1h4m57 1h4m28 0h4m-121 1h4m1 0h4m0 0h4m17 0h4m127 0h4m-224 2h4m209 0h4m-224 1h4m19 0h4m-30 1h4m-3 0h4m54 0h4m45 1h4m81 2h4m-110 1h4m25 0h4m-47 1h4m-3 0h4m13 0h4m0 0h4m-99 1h4m174 0h4m36 0h4m-211 1h4m81 0h4m-95 1h4m22 0h4m117 0h4m-156 1h4m135 0h4m-123 1h4m-11 1h4m17 0h4m52 0h4m4 0h4m88 0h4m-79 1h4m63 0h4m46 0h4m-224 2h4m-2 0h4m220 0h4m-218 1h4m22 0h4m42 0h4m56 0h4m66 0h4m-210 1h4m90 1h4m-101 1h4m105 0h4m77 0h4m7 0h4m-202 1h4m15 0h4m193 1h4m-228 1h4m100 0h4m-28 1h4m12 0h4m-109 2h4m90 0h4m-79 1h4m113 1h4m56 1h4m-201 1h4m84 0h4m-46 1h4m90 0h4m95 0h4m-73 1h4m-96 1h4m19 0h4m22 0h4m26 0h4m-45 1h4m11 0h4m7 0h4m40 0h4m-144 1h4m-33 1h4m98 0h4m86 0h4m3 0h4m-117 1h4m78 0h4m-78 3h4m43 1h4m14 0h4m44 0h4m15 0h4m-141 1h4m36 0h4m26 0h4m40 1h4m-110 1h4m-93 1h4m43 1h4m51 0h4m104 0h4m-22 1h4m5 0h4m-202 2h4m143 1h4m-23 1h4m61 0h4m17 0h4m-119 1h4m10 0h4m3 0h4m-20 1h4m118 0h4m2 0h4m-164 1h4m44 0h4m28 0h4m46 0h4m-91 1h4m111 0h4m-137 1h4m-2 0h4m127 0h4m-180 2h4m16 0h4m-11 1h4m113 0h4m-39 1h4m-76 1h4m3 0h4m52 0h4m72 0h4m-154 1h4m73 0h4m28 1h4m-49 1h4m101 0h4m10 0h4m-106 1h4m-52 2h4m24 0h4m121 0h4m-141 1h4m111 0h4m-123 1h4m92 0h4m-56 1h4m75 0h4m-104 1h4m-135 1h4m79 0h4m137 0h4m24 0h4m-172 1h4m33 0h4m25 0h4m77 0h4m-99 1h4m35 0h4m50 0h4m-21 1h4m29 0h4m-46 1h4m-53 1h4m32 0h4m-106 1h4m120 0h4m-132 2h4m18 0h4m50 0h4m-147 1h4m178 1h4m-158 4h4m108 1h4m39 0h4m18 1h4m-109 1h4m94 0h4m14 0h4m-214 1h4m223 0h4m-97 1h4m33 0h4m-104 1h4m53 2h4m0 0h4m74 0h4m11 0h4m-173 1h4m72 1h4m-78 1h4m-24 1h4m79 0h4m25 0h4m36 0h4m-122 2h4m-12 1h4m17 0h4m116 0h4m-147 1h4m13 1h4m20 0h4m84 0h4m-223 1h4m62 0h4m71 0h4m59 0h4m-154 1h4m12 0h4m82 1h4m7 0h4m-107 1h4m47 0h4m-82 2h4m58 0h4m-146 1h4m176 0h4m-183 1h4m0 0h4m146 0h4m-166 1h4m135 0h4m84 0h4m-184 1h4m152 0h4m26 0h4m4 0h4m-243 1h4m8 1h4m98 0h4m162 0h4m-262 1h4m98 0h4m-119 1h4m-2 0h4m83 0h4m12 0h4m26 0h4m147 0h4m-234 1h4m139 0h4m70 0h4m-274 1h4m-3 0h4m11 1h4m2 0h4m-18 1h4m-5 1h4m36 0h4m104 0h4m-175 1h4m199 0h4m-152 1h4m3 0h4m76 1h4m84 0h4m4 0h4m43 0h4m-266 1h4m16 0h4m112 0h4m0 0h4m-143 1h4m-2 0h4m-15 1h4m-3 0h4m-11 1h4m4 0h4m40 0h4m-45 1h4m108 0h4m39 0h4m1 0h4m22 0h4m-207 1h4m15 0h4m109 0h4m-133 1h4m-3 0h4m7 0h4m35 0h4m14 0h4m88 0h4m-72 2h4m60 0h4m6 1h4m-9 1h4m10 0h4m8 1h4m-100 1h4m-59 1h4m47 0h4m88 0h4m-56 1h4m126 0h4m-3 1h4m-3 0h4m-67 1h4m52 0h4m-174 1h4m106 0h4m97 0h4m-105 2h4m-166 2h4m138 0h4m34 1h4m60 1h4m-260 1h4m4 2h4m93 0h4m73 1h4m13 0h4m-90 1h4m-101 1h4m153 0h4m30 0h4m27 0h4m-174 1h4m49 0h4m131 0h4m-47 1h4m32 0h4m24 0h4m-67 2h4m21 0h4m-70 1h4m14 0h4m16 6h4m43 0h4m-48 1h4m-218 2h4m60 0h4m150 1h4m-148 1h4m64 1h4m-70 1h4m88 0h4m-74 1h4m121 0h4m-225 3h4m53 0h4m68 0h4m-130 1h4m17 0h4m185 0h4m19 1h4m-95 2h4m-125 1h4m-22 1h4m16 1h4m160 2h4m-174 1h4m63 1h4m-93 1h4m8 0h4m-11 1h4m25 0h4m132 0h4m66 0h4m-244 1h4m11 0h4m-2 0h4m21 1h4m146 0h4m-75 1h4m53 0h4m-164 1h4m16 1h4m54 0h4m47 2h4m-113 1h4m117 0h4m-153 1h4m32 0h4m3 0h4m-22 1h4m60 0h4m40 0h4m-16 1h4m24 0h4m31 0h4m-186 2h4m-3 0h4m9 0h4m193 0h4m-62 1h4m17 0h4m-167 1h4m3 0h4m87 0h4m21 0h4m30 0h4m25 0h4m-191 1h4m163 1h4m0 1h4m-148 1h4m176 0h4m-52 3h4m-114 1h4m98 0h4m-57 1h4m-30 1h4m-61 2h4m-1 0h4m25 1h4m8 0h4m-24 2h4m-42 1h4m8 2h4m-23 1h4m3 0h4m14 0h4m55 1h4m-72 2h4m35 1h4m-36 6h4m8 6h4m-21 1h4m11 2h4m9 3h4m-4 4h4m-1 0h4" stroke="#d95f02" stroke-width="4"/></g>
<text x="224.4" y="339.6" font-size="16" fill="#000" font-weight="bold" stroke="#000" stroke-width="0.55">f</text>
<text x="385.3" y="340.2" font-size="9.3" textLength="122.0" lengthAdjust="spacingAndGlyphs">RNA-seq gRNA enrichment</text>
<line x1="226.0" y1="344.0" x2="683.5" y2="344.0" stroke="#9a9a9a" stroke-width="1.2"/>
<text x="279.8" y="351.0" font-size="7.0" fill="#9a9a9a" textLength="37.7" lengthAdjust="spacingAndGlyphs">609 (10.7%)</text>
<text x="478.7" y="350.7" font-size="7.0" fill="#9a9a9a" textLength="43.2" lengthAdjust="spacingAndGlyphs">3,586 (62.7%)</text>
<text x="599.7" y="350.4" font-size="7.0" fill="#9a9a9a" textLength="44.4" lengthAdjust="spacingAndGlyphs">n = 5,718 cells</text>
<rect x="500.3" y="365.4" width="145.3" height="88.0" fill="#bfbfbf"/>
<rect x="500.3" y="365.4" width="49.5" height="88.0" fill="#d9d9d9"/>
<rect x="500.6" y="365.4" width="7.2" height="88.0" fill="#ececec"/>
<path d="M501.5,365.4 C503,400 505,430 507.5,453.4 L500.6,453.4 L500.6,365.4Z" fill="#f6f6f6"/>
<path d="M297.0 365.4C297.0 409.4 254.1 409.4 254.1 453.4L266.7 453.4C266.7 409.4 309.5 409.4 309.5 365.4Z" fill="#800000" fill-opacity="0.42"/>
<path d="M309.5 365.4C309.5 409.4 268.8 409.4 268.8 453.4L283.3 453.4C283.3 409.4 322.8 409.4 322.8 365.4Z" fill="#f58231" fill-opacity="0.42"/>
<path d="M322.8 365.4C322.8 409.4 285.1 409.4 285.1 453.4L298.6 453.4C298.6 409.4 336.0 409.4 336.0 365.4Z" fill="#3cb44b" fill-opacity="0.42"/>
<path d="M336.0 365.4C336.0 409.4 300.7 409.4 300.7 453.4L308.7 453.4C308.7 409.4 344.4 409.4 344.4 365.4Z" fill="#e6194b" fill-opacity="0.42"/>
<path d="M344.4 365.4C344.4 409.4 310.9 409.4 310.9 453.4L325.4 453.4C325.4 409.4 358.1 409.4 358.1 365.4Z" fill="#ffe119" fill-opacity="0.42"/>
<path d="M358.1 365.4C358.1 409.4 327.0 409.4 327.0 453.4L336.7 453.4C336.7 409.4 368.3 409.4 368.3 365.4Z" fill="#f032e6" fill-opacity="0.42"/>
<path d="M368.3 365.4C368.3 409.4 338.4 409.4 338.4 453.4L348.4 453.4C348.4 409.4 377.8 409.4 377.8 365.4Z" fill="#4363d8" fill-opacity="0.42"/>
<path d="M377.8 365.4C377.8 409.4 350.6 409.4 350.6 453.4L359.8 453.4C359.8 409.4 388.5 409.4 388.5 365.4Z" fill="#808000" fill-opacity="0.42"/>
<path d="M388.5 365.4C388.5 409.4 361.1 409.4 361.1 453.4L371.5 453.4C371.5 409.4 398.7 409.4 398.7 365.4Z" fill="#000075" fill-opacity="0.42"/>
<path d="M398.7 365.4C398.7 409.4 373.1 409.4 373.1 453.4L386.1 453.4C386.1 409.4 411.2 409.4 411.2 365.4Z" fill="#911eb4" fill-opacity="0.42"/>
<path d="M411.2 365.4C411.2 409.4 389.8 409.4 389.8 453.4L403.9 453.4C403.9 409.4 425.3 409.4 425.3 365.4Z" fill="#bfef45" fill-opacity="0.42"/>
<path d="M425.3 365.4C425.3 409.4 406.1 409.4 406.1 453.4L416.7 453.4C416.7 409.4 436.6 409.4 436.6 365.4Z" fill="#9a6324" fill-opacity="0.42"/>
<path d="M436.6 365.4C436.6 409.4 418.9 409.4 418.9 453.4L431.2 453.4C431.2 409.4 449.2 409.4 449.2 365.4Z" fill="#42d4f4" fill-opacity="0.42"/>
<path d="M449.2 365.4C449.2 409.4 433.3 409.4 433.3 453.4L438.7 453.4C438.7 409.4 455.6 409.4 455.6 365.4Z" fill="#fabed4" fill-opacity="0.42"/>
<path d="M455.6 365.4C455.6 409.4 440.5 409.4 440.5 453.4L449.9 453.4C449.9 409.4 463.2 409.4 463.2 365.4Z" fill="#d6e2fa" fill-opacity="0.42"/>
<path d="M463.2 365.4C463.2 409.4 452.1 409.4 452.1 453.4L459.5 453.4C459.5 409.4 470.8 409.4 470.8 365.4Z" fill="#dcbeff" fill-opacity="0.42"/>
<path d="M470.8 365.4C470.8 409.4 461.2 409.4 461.2 453.4L470.5 453.4C470.5 409.4 478.4 409.4 478.4 365.4Z" fill="#fffac8" fill-opacity="0.42"/>
<path d="M478.4 365.4C478.4 409.4 472.5 409.4 472.5 453.4L480.5 453.4C480.5 409.4 486.0 409.4 486.0 365.4Z" fill="#aaffc3" fill-opacity="0.42"/>
<path d="M486.0 365.4C486.0 409.4 482.5 409.4 482.5 453.4L489.8 453.4C489.8 409.4 493.6 409.4 493.6 365.4Z" fill="#ffd8b1" fill-opacity="0.42"/>
<path d="M493.6 365.4C493.6 409.4 491.1 409.4 491.1 453.4L500.3 453.4C500.3 409.4 498.8 409.4 498.8 365.4Z" fill="#d4d4d4" fill-opacity="0.42"/>
<path d="M252.0 365.4C252.0 409.4 252.1 409.4 252.1 453.4L252.6 453.4C252.6 409.4 252.5 409.4 252.5 365.4Z" fill="#800000" fill-opacity="0.3"/>
<path d="M252.5 365.4C252.5 409.4 252.6 409.4 252.6 453.4L253.1 453.4C253.1 409.4 253.0 409.4 253.0 365.4Z" fill="#800000" fill-opacity="0.3"/>
<path d="M253.0 365.4C253.0 409.4 253.1 409.4 253.1 453.4L253.6 453.4C253.6 409.4 253.5 409.4 253.5 365.4Z" fill="#800000" fill-opacity="0.3"/>
<path d="M253.5 365.4C253.5 409.4 253.6 409.4 253.6 453.4L254.1 453.4C254.1 409.4 254.0 409.4 254.0 365.4Z" fill="#800000" fill-opacity="0.3"/>
<path d="M254.0 365.4C254.0 409.4 266.7 409.4 266.7 453.4L267.2 453.4C267.2 409.4 254.5 409.4 254.5 365.4Z" fill="#f58231" fill-opacity="0.3"/>
<path d="M254.5 365.4C254.5 409.4 267.2 409.4 267.2 453.4L267.8 453.4C267.8 409.4 255.1 409.4 255.1 365.4Z" fill="#f58231" fill-opacity="0.3"/>
<path d="M255.1 365.4C255.1 409.4 267.8 409.4 267.8 453.4L268.3 453.4C268.3 409.4 255.6 409.4 255.6 365.4Z" fill="#f58231" fill-opacity="0.3"/>
<path d="M255.6 365.4C255.6 409.4 268.3 409.4 268.3 453.4L268.8 453.4C268.8 409.4 256.1 409.4 256.1 365.4Z" fill="#f58231" fill-opacity="0.3"/>
<path d="M256.1 365.4C256.1 409.4 283.3 409.4 283.3 453.4L283.8 453.4C283.8 409.4 256.6 409.4 256.6 365.4Z" fill="#3cb44b" fill-opacity="0.3"/>
<path d="M256.6 365.4C256.6 409.4 283.8 409.4 283.8 453.4L284.2 453.4C284.2 409.4 257.0 409.4 257.0 365.4Z" fill="#3cb44b" fill-opacity="0.3"/>
<path d="M257.0 365.4C257.0 409.4 284.2 409.4 284.2 453.4L284.6 453.4C284.6 409.4 257.4 409.4 257.4 365.4Z" fill="#3cb44b" fill-opacity="0.3"/>
<path d="M257.4 365.4C257.4 409.4 284.6 409.4 284.6 453.4L285.1 453.4C285.1 409.4 257.9 409.4 257.9 365.4Z" fill="#3cb44b" fill-opacity="0.3"/>
<path d="M257.9 365.4C257.9 409.4 298.6 409.4 298.6 453.4L299.1 453.4C299.1 409.4 258.4 409.4 258.4 365.4Z" fill="#e6194b" fill-opacity="0.3"/>
<path d="M258.4 365.4C258.4 409.4 299.1 409.4 299.1 453.4L299.7 453.4C299.7 409.4 258.9 409.4 258.9 365.4Z" fill="#e6194b" fill-opacity="0.3"/>
<path d="M258.9 365.4C258.9 409.4 299.7 409.4 299.7 453.4L300.2 453.4C300.2 409.4 259.5 409.4 259.5 365.4Z" fill="#e6194b" fill-opacity="0.3"/>
<path d="M259.5 365.4C259.5 409.4 300.2 409.4 300.2 453.4L300.7 453.4C300.7 409.4 260.0 409.4 260.0 365.4Z" fill="#e6194b" fill-opacity="0.3"/>
<path d="M260.0 365.4C260.0 409.4 308.7 409.4 308.7 453.4L309.2 453.4C309.2 409.4 260.6 409.4 260.6 365.4Z" fill="#ffe119" fill-opacity="0.3"/>
<path d="M260.6 365.4C260.6 409.4 309.2 409.4 309.2 453.4L309.8 453.4C309.8 409.4 261.1 409.4 261.1 365.4Z" fill="#ffe119" fill-opacity="0.3"/>
<path d="M261.1 365.4C261.1 409.4 309.8 409.4 309.8 453.4L310.3 453.4C310.3 409.4 261.6 409.4 261.6 365.4Z" fill="#ffe119" fill-opacity="0.3"/>
<path d="M261.6 365.4C261.6 409.4 310.3 409.4 310.3 453.4L310.9 453.4C310.9 409.4 262.2 409.4 262.2 365.4Z" fill="#ffe119" fill-opacity="0.3"/>
<path d="M262.2 365.4C262.2 409.4 325.4 409.4 325.4 453.4L325.8 453.4C325.8 409.4 262.6 409.4 262.6 365.4Z" fill="#f032e6" fill-opacity="0.3"/>
<path d="M262.6 365.4C262.6 409.4 325.8 409.4 325.8 453.4L326.2 453.4C326.2 409.4 263.0 409.4 263.0 365.4Z" fill="#f032e6" fill-opacity="0.3"/>
<path d="M263.0 365.4C263.0 409.4 326.2 409.4 326.2 453.4L326.6 453.4C326.6 409.4 263.4 409.4 263.4 365.4Z" fill="#f032e6" fill-opacity="0.3"/>
<path d="M263.4 365.4C263.4 409.4 326.6 409.4 326.6 453.4L327.0 453.4C327.0 409.4 263.8 409.4 263.8 365.4Z" fill="#f032e6" fill-opacity="0.3"/>
<path d="M263.8 365.4C263.8 409.4 336.7 409.4 336.7 453.4L337.1 453.4C337.1 409.4 264.2 409.4 264.2 365.4Z" fill="#4363d8" fill-opacity="0.3"/>
<path d="M264.2 365.4C264.2 409.4 337.1 409.4 337.1 453.4L337.5 453.4C337.5 409.4 264.6 409.4 264.6 365.4Z" fill="#4363d8" fill-opacity="0.3"/>
<path d="M264.6 365.4C264.6 409.4 337.5 409.4 337.5 453.4L338.0 453.4C338.0 409.4 265.1 409.4 265.1 365.4Z" fill="#4363d8" fill-opacity="0.3"/>
<path d="M265.1 365.4C265.1 409.4 338.0 409.4 338.0 453.4L338.4 453.4C338.4 409.4 265.5 409.4 265.5 365.4Z" fill="#4363d8" fill-opacity="0.3"/>
<path d="M265.5 365.4C265.5 409.4 348.4 409.4 348.4 453.4L348.9 453.4C348.9 409.4 266.1 409.4 266.1 365.4Z" fill="#808000" fill-opacity="0.3"/>
<path d="M266.1 365.4C266.1 409.4 348.9 409.4 348.9 453.4L349.5 453.4C349.5 409.4 266.6 409.4 266.6 365.4Z" fill="#808000" fill-opacity="0.3"/>
<path d="M266.6 365.4C266.6 409.4 349.5 409.4 349.5 453.4L350.0 453.4C350.0 409.4 267.1 409.4 267.1 365.4Z" fill="#808000" fill-opacity="0.3"/>
<path d="M267.1 365.4C267.1 409.4 350.0 409.4 350.0 453.4L350.6 453.4C350.6 409.4 267.7 409.4 267.7 365.4Z" fill="#808000" fill-opacity="0.3"/>
<path d="M267.7 365.4C267.7 409.4 359.8 409.4 359.8 453.4L360.1 453.4C360.1 409.4 268.0 409.4 268.0 365.4Z" fill="#000075" fill-opacity="0.3"/>
<path d="M268.0 365.4C268.0 409.4 360.1 409.4 360.1 453.4L360.5 453.4C360.5 409.4 268.4 409.4 268.4 365.4Z" fill="#000075" fill-opacity="0.3"/>
<path d="M268.4 365.4C268.4 409.4 360.5 409.4 360.5 453.4L360.8 453.4C360.8 409.4 268.7 409.4 268.7 365.4Z" fill="#000075" fill-opacity="0.3"/>
<path d="M268.7 365.4C268.7 409.4 360.8 409.4 360.8 453.4L361.1 453.4C361.1 409.4 269.0 409.4 269.0 365.4Z" fill="#000075" fill-opacity="0.3"/>
<path d="M269.0 365.4C269.0 409.4 371.5 409.4 371.5 453.4L371.9 453.4C371.9 409.4 269.4 409.4 269.4 365.4Z" fill="#911eb4" fill-opacity="0.3"/>
<path d="M269.4 365.4C269.4 409.4 371.9 409.4 371.9 453.4L372.3 453.4C372.3 409.4 269.8 409.4 269.8 365.4Z" fill="#911eb4" fill-opacity="0.3"/>
<path d="M269.8 365.4C269.8 409.4 372.3 409.4 372.3 453.4L372.7 453.4C372.7 409.4 270.2 409.4 270.2 365.4Z" fill="#911eb4" fill-opacity="0.3"/>
<path d="M270.2 365.4C270.2 409.4 372.7 409.4 372.7 453.4L373.1 453.4C373.1 409.4 270.6 409.4 270.6 365.4Z" fill="#911eb4" fill-opacity="0.3"/>
<path d="M270.6 365.4C270.6 409.4 386.1 409.4 386.1 453.4L387.0 453.4C387.0 409.4 271.5 409.4 271.5 365.4Z" fill="#bfef45" fill-opacity="0.3"/>
<path d="M271.5 365.4C271.5 409.4 387.0 409.4 387.0 453.4L388.0 453.4C388.0 409.4 272.5 409.4 272.5 365.4Z" fill="#bfef45" fill-opacity="0.3"/>
<path d="M272.5 365.4C272.5 409.4 388.0 409.4 388.0 453.4L388.9 453.4C388.9 409.4 273.4 409.4 273.4 365.4Z" fill="#bfef45" fill-opacity="0.3"/>
<path d="M273.4 365.4C273.4 409.4 388.9 409.4 388.9 453.4L389.8 453.4C389.8 409.4 274.3 409.4 274.3 365.4Z" fill="#bfef45" fill-opacity="0.3"/>
<path d="M274.3 365.4C274.3 409.4 403.9 409.4 403.9 453.4L404.4 453.4C404.4 409.4 274.9 409.4 274.9 365.4Z" fill="#9a6324" fill-opacity="0.3"/>
<path d="M274.9 365.4C274.9 409.4 404.4 409.4 404.4 453.4L405.0 453.4C405.0 409.4 275.4 409.4 275.4 365.4Z" fill="#9a6324" fill-opacity="0.3"/>
<path d="M275.4 365.4C275.4 409.4 405.0 409.4 405.0 453.4L405.5 453.4C405.5 409.4 275.9 409.4 275.9 365.4Z" fill="#9a6324" fill-opacity="0.3"/>
<path d="M275.9 365.4C275.9 409.4 405.5 409.4 405.5 453.4L406.1 453.4C406.1 409.4 276.5 409.4 276.5 365.4Z" fill="#9a6324" fill-opacity="0.3"/>
<path d="M276.5 365.4C276.5 409.4 416.7 409.4 416.7 453.4L417.2 453.4C417.2 409.4 277.1 409.4 277.1 365.4Z" fill="#42d4f4" fill-opacity="0.3"/>
<path d="M277.1 365.4C277.1 409.4 417.2 409.4 417.2 453.4L417.8 453.4C417.8 409.4 277.6 409.4 277.6 365.4Z" fill="#42d4f4" fill-opacity="0.3"/>
<path d="M277.6 365.4C277.6 409.4 417.8 409.4 417.8 453.4L418.3 453.4C418.3 409.4 278.1 409.4 278.1 365.4Z" fill="#42d4f4" fill-opacity="0.3"/>
<path d="M278.1 365.4C278.1 409.4 418.3 409.4 418.3 453.4L418.9 453.4C418.9 409.4 278.7 409.4 278.7 365.4Z" fill="#42d4f4" fill-opacity="0.3"/>
<path d="M278.7 365.4C278.7 409.4 431.2 409.4 431.2 453.4L431.7 453.4C431.7 409.4 279.2 409.4 279.2 365.4Z" fill="#fabed4" fill-opacity="0.3"/>
<path d="M279.2 365.4C279.2 409.4 431.7 409.4 431.7 453.4L432.2 453.4C432.2 409.4 279.8 409.4 279.8 365.4Z" fill="#fabed4" fill-opacity="0.3"/>
<path d="M279.8 365.4C279.8 409.4 432.2 409.4 432.2 453.4L432.8 453.4C432.8 409.4 280.3 409.4 280.3 365.4Z" fill="#fabed4" fill-opacity="0.3"/>
<path d="M280.3 365.4C280.3 409.4 432.8 409.4 432.8 453.4L433.3 453.4C433.3 409.4 280.8 409.4 280.8 365.4Z" fill="#fabed4" fill-opacity="0.3"/>
<path d="M280.8 365.4C280.8 409.4 438.7 409.4 438.7 453.4L439.1 453.4C439.1 409.4 281.2 409.4 281.2 365.4Z" fill="#d6e2fa" fill-opacity="0.3"/>
<path d="M281.2 365.4C281.2 409.4 439.1 409.4 439.1 453.4L439.6 453.4C439.6 409.4 281.7 409.4 281.7 365.4Z" fill="#d6e2fa" fill-opacity="0.3"/>
<path d="M281.7 365.4C281.7 409.4 439.6 409.4 439.6 453.4L440.1 453.4C440.1 409.4 282.2 409.4 282.2 365.4Z" fill="#d6e2fa" fill-opacity="0.3"/>
<path d="M282.2 365.4C282.2 409.4 440.1 409.4 440.1 453.4L440.5 453.4C440.5 409.4 282.6 409.4 282.6 365.4Z" fill="#d6e2fa" fill-opacity="0.3"/>
<path d="M282.6 365.4C282.6 409.4 449.9 409.4 449.9 453.4L450.4 453.4C450.4 409.4 283.2 409.4 283.2 365.4Z" fill="#dcbeff" fill-opacity="0.3"/>
<path d="M283.2 365.4C283.2 409.4 450.4 409.4 450.4 453.4L451.0 453.4C451.0 409.4 283.7 409.4 283.7 365.4Z" fill="#dcbeff" fill-opacity="0.3"/>
<path d="M283.7 365.4C283.7 409.4 451.0 409.4 451.0 453.4L451.5 453.4C451.5 409.4 284.2 409.4 284.2 365.4Z" fill="#dcbeff" fill-opacity="0.3"/>
<path d="M284.2 365.4C284.2 409.4 451.5 409.4 451.5 453.4L452.1 453.4C452.1 409.4 284.8 409.4 284.8 365.4Z" fill="#dcbeff" fill-opacity="0.3"/>
<path d="M284.8 365.4C284.8 409.4 459.5 409.4 459.5 453.4L459.9 453.4C459.9 409.4 285.2 409.4 285.2 365.4Z" fill="#fffac8" fill-opacity="0.3"/>
<path d="M285.2 365.4C285.2 409.4 459.9 409.4 459.9 453.4L460.4 453.4C460.4 409.4 285.6 409.4 285.6 365.4Z" fill="#fffac8" fill-opacity="0.3"/>
<path d="M285.6 365.4C285.6 409.4 460.4 409.4 460.4 453.4L460.8 453.4C460.8 409.4 286.1 409.4 286.1 365.4Z" fill="#fffac8" fill-opacity="0.3"/>
<path d="M286.1 365.4C286.1 409.4 460.8 409.4 460.8 453.4L461.2 453.4C461.2 409.4 286.5 409.4 286.5 365.4Z" fill="#fffac8" fill-opacity="0.3"/>
<path d="M286.5 365.4C286.5 409.4 470.5 409.4 470.5 453.4L471.0 453.4C471.0 409.4 287.0 409.4 287.0 365.4Z" fill="#aaffc3" fill-opacity="0.3"/>
<path d="M287.0 365.4C287.0 409.4 471.0 409.4 471.0 453.4L471.5 453.4C471.5 409.4 287.5 409.4 287.5 365.4Z" fill="#aaffc3" fill-opacity="0.3"/>
<path d="M287.5 365.4C287.5 409.4 471.5 409.4 471.5 453.4L472.0 453.4C472.0 409.4 288.0 409.4 288.0 365.4Z" fill="#aaffc3" fill-opacity="0.3"/>
<path d="M288.0 365.4C288.0 409.4 472.0 409.4 472.0 453.4L472.5 453.4C472.5 409.4 288.5 409.4 288.5 365.4Z" fill="#aaffc3" fill-opacity="0.3"/>
<path d="M288.5 365.4C288.5 409.4 480.5 409.4 480.5 453.4L481.0 453.4C481.0 409.4 289.0 409.4 289.0 365.4Z" fill="#ffd8b1" fill-opacity="0.3"/>
<path d="M289.0 365.4C289.0 409.4 481.0 409.4 481.0 453.4L481.5 453.4C481.5 409.4 289.5 409.4 289.5 365.4Z" fill="#ffd8b1" fill-opacity="0.3"/>
<path d="M289.5 365.4C289.5 409.4 481.5 409.4 481.5 453.4L482.0 453.4C482.0 409.4 290.0 409.4 290.0 365.4Z" fill="#ffd8b1" fill-opacity="0.3"/>
<path d="M290.0 365.4C290.0 409.4 482.0 409.4 482.0 453.4L482.5 453.4C482.5 409.4 290.5 409.4 290.5 365.4Z" fill="#ffd8b1" fill-opacity="0.3"/>
<path d="M290.5 365.4C290.5 409.4 489.8 409.4 489.8 453.4L490.1 453.4C490.1 409.4 290.8 409.4 290.8 365.4Z" fill="#d4d4d4" fill-opacity="0.3"/>
<path d="M290.8 365.4C290.8 409.4 490.1 409.4 490.1 453.4L490.5 453.4C490.5 409.4 291.1 409.4 291.1 365.4Z" fill="#d4d4d4" fill-opacity="0.3"/>
<path d="M291.1 365.4C291.1 409.4 490.5 409.4 490.5 453.4L490.8 453.4C490.8 409.4 291.5 409.4 291.5 365.4Z" fill="#d4d4d4" fill-opacity="0.3"/>
<path d="M291.5 365.4C291.5 409.4 490.8 409.4 490.8 453.4L491.1 453.4C491.1 409.4 291.8 409.4 291.8 365.4Z" fill="#d4d4d4" fill-opacity="0.3"/>
<path d="M291.2 365.4C291.2 409.4 497.8 409.4 497.8 453.4L498.6 453.4C498.6 409.4 292.0 409.4 292.0 365.4Z" fill="#d4d4d4" fill-opacity="0.26"/>
<path d="M285.9 365.4C285.9 409.4 467.6 409.4 467.6 453.4L468.1 453.4C468.1 409.4 286.4 409.4 286.4 365.4Z" fill="#fffac8" fill-opacity="0.26"/>
<path d="M254.2 365.4C254.2 409.4 303.1 409.4 303.1 453.4L303.6 453.4C303.6 409.4 254.7 409.4 254.7 365.4Z" fill="#f58231" fill-opacity="0.26"/>
<path d="M287.4 365.4C287.4 409.4 480.6 409.4 480.6 453.4L481.1 453.4C481.1 409.4 287.9 409.4 287.9 365.4Z" fill="#aaffc3" fill-opacity="0.26"/>
<path d="M268.5 365.4C268.5 409.4 399.3 409.4 399.3 453.4L399.8 453.4C399.8 409.4 269.0 409.4 269.0 365.4Z" fill="#000075" fill-opacity="0.26"/>
<path d="M257.0 365.4C257.0 409.4 315.9 409.4 315.9 453.4L316.3 453.4C316.3 409.4 257.4 409.4 257.4 365.4Z" fill="#3cb44b" fill-opacity="0.26"/>
<path d="M253.2 365.4C253.2 409.4 307.8 409.4 307.8 453.4L308.3 453.4C308.3 409.4 253.7 409.4 253.7 365.4Z" fill="#800000" fill-opacity="0.26"/>
<path d="M262.6 365.4C262.6 409.4 374.3 409.4 374.3 453.4L375.1 453.4C375.1 409.4 263.4 409.4 263.4 365.4Z" fill="#f032e6" fill-opacity="0.26"/>
<path d="M265.0 365.4C265.0 409.4 367.5 409.4 367.5 453.4L368.4 453.4C368.4 409.4 265.9 409.4 265.9 365.4Z" fill="#4363d8" fill-opacity="0.26"/>
<path d="M276.5 365.4C276.5 409.4 463.9 409.4 463.9 453.4L464.7 453.4C464.7 409.4 277.4 409.4 277.4 365.4Z" fill="#42d4f4" fill-opacity="0.26"/>
<path d="M268.0 365.4C268.0 409.4 383.0 409.4 383.0 453.4L383.7 453.4C383.7 409.4 268.7 409.4 268.7 365.4Z" fill="#000075" fill-opacity="0.26"/>
<path d="M290.6 365.4C290.6 409.4 493.4 409.4 493.4 453.4L493.9 453.4C493.9 409.4 291.1 409.4 291.1 365.4Z" fill="#d4d4d4" fill-opacity="0.26"/>
<path d="M272.2 365.4C272.2 409.4 426.6 409.4 426.6 453.4L426.9 453.4C426.9 409.4 272.6 409.4 272.6 365.4Z" fill="#bfef45" fill-opacity="0.26"/>
<path d="M253.4 365.4C253.4 409.4 325.6 409.4 325.6 453.4L326.4 453.4C326.4 409.4 254.1 409.4 254.1 365.4Z" fill="#800000" fill-opacity="0.26"/>
<path d="M275.3 365.4C275.3 409.4 470.6 409.4 470.6 453.4L471.0 453.4C471.0 409.4 275.7 409.4 275.7 365.4Z" fill="#9a6324" fill-opacity="0.26"/>
<path d="M262.3 365.4C262.3 409.4 362.6 409.4 362.6 453.4L363.4 453.4C363.4 409.4 263.1 409.4 263.1 365.4Z" fill="#f032e6" fill-opacity="0.26"/>
<path d="M281.5 365.4C281.5 409.4 498.7 409.4 498.7 453.4L499.2 453.4C499.2 409.4 282.0 409.4 282.0 365.4Z" fill="#d6e2fa" fill-opacity="0.26"/>
<path d="M281.6 365.4C281.6 409.4 457.0 409.4 457.0 453.4L457.6 453.4C457.6 409.4 282.2 409.4 282.2 365.4Z" fill="#d6e2fa" fill-opacity="0.26"/>
<path d="M269.5 365.4C269.5 409.4 385.3 409.4 385.3 453.4L385.8 453.4C385.8 409.4 270.0 409.4 270.0 365.4Z" fill="#911eb4" fill-opacity="0.26"/>
<path d="M286.0 365.4C286.0 409.4 493.2 409.4 493.2 453.4L494.1 453.4C494.1 409.4 286.9 409.4 286.9 365.4Z" fill="#fffac8" fill-opacity="0.26"/>
<path d="M287.0 365.4C287.0 409.4 483.3 409.4 483.3 453.4L483.7 453.4C483.7 409.4 287.4 409.4 287.4 365.4Z" fill="#aaffc3" fill-opacity="0.26"/>
<path d="M257.1 365.4C257.1 409.4 313.7 409.4 313.7 453.4L314.3 453.4C314.3 409.4 257.7 409.4 257.7 365.4Z" fill="#3cb44b" fill-opacity="0.26"/>
<path d="M255.7 365.4C255.7 409.4 291.2 409.4 291.2 453.4L291.8 453.4C291.8 409.4 256.3 409.4 256.3 365.4Z" fill="#f58231" fill-opacity="0.26"/>
<path d="M267.0 365.4C267.0 409.4 423.1 409.4 423.1 453.4L423.7 453.4C423.7 409.4 267.6 409.4 267.6 365.4Z" fill="#808000" fill-opacity="0.26"/>
<path d="M255.4 365.4C255.4 409.4 272.1 409.4 272.1 453.4L272.5 453.4C272.5 409.4 255.8 409.4 255.8 365.4Z" fill="#f58231" fill-opacity="0.26"/>
<path d="M289.5 365.4C289.5 409.4 497.7 409.4 497.7 453.4L498.1 453.4C498.1 409.4 289.9 409.4 289.9 365.4Z" fill="#ffd8b1" fill-opacity="0.26"/>
<path d="M279.0 365.4C279.0 409.4 487.9 409.4 487.9 453.4L488.4 453.4C488.4 409.4 279.5 409.4 279.5 365.4Z" fill="#fabed4" fill-opacity="0.26"/>
<path d="M282.2 365.4C282.2 409.4 464.3 409.4 464.3 453.4L464.9 453.4C464.9 409.4 282.8 409.4 282.8 365.4Z" fill="#d6e2fa" fill-opacity="0.26"/>
<path d="M271.5 365.4C271.5 409.4 475.0 409.4 475.0 453.4L475.8 453.4C475.8 409.4 272.4 409.4 272.4 365.4Z" fill="#bfef45" fill-opacity="0.26"/>
<path d="M259.3 365.4C259.3 409.4 379.0 409.4 379.0 453.4L379.4 453.4C379.4 409.4 259.7 409.4 259.7 365.4Z" fill="#e6194b" fill-opacity="0.26"/>
<path d="M282.9 365.4C282.9 409.4 494.7 409.4 494.7 453.4L495.4 453.4C495.4 409.4 283.6 409.4 283.6 365.4Z" fill="#dcbeff" fill-opacity="0.26"/>
<path d="M286.6 365.4C286.6 409.4 497.8 409.4 497.8 453.4L498.3 453.4C498.3 409.4 287.1 409.4 287.1 365.4Z" fill="#aaffc3" fill-opacity="0.26"/>
<path d="M289.7 365.4C289.7 409.4 483.7 409.4 483.7 453.4L484.4 453.4C484.4 409.4 290.5 409.4 290.5 365.4Z" fill="#ffd8b1" fill-opacity="0.26"/>
<path d="M267.9 365.4C267.9 409.4 458.8 409.4 458.8 453.4L459.6 453.4C459.6 409.4 268.7 409.4 268.7 365.4Z" fill="#000075" fill-opacity="0.26"/>
<path d="M272.5 365.4C272.5 409.4 416.9 409.4 416.9 453.4L417.5 453.4C417.5 409.4 273.2 409.4 273.2 365.4Z" fill="#bfef45" fill-opacity="0.26"/>
<path d="M268.3 365.4C268.3 409.4 434.4 409.4 434.4 453.4L435.2 453.4C435.2 409.4 269.1 409.4 269.1 365.4Z" fill="#000075" fill-opacity="0.26"/>
<path d="M274.8 365.4C274.8 409.4 463.1 409.4 463.1 453.4L464.0 453.4C464.0 409.4 275.7 409.4 275.7 365.4Z" fill="#9a6324" fill-opacity="0.26"/>
<path d="M280.3 365.4C280.3 409.4 482.0 409.4 482.0 453.4L482.8 453.4C482.8 409.4 281.1 409.4 281.1 365.4Z" fill="#fabed4" fill-opacity="0.26"/>
<path d="M282.1 365.4C282.1 409.4 495.0 409.4 495.0 453.4L495.6 453.4C495.6 409.4 282.8 409.4 282.8 365.4Z" fill="#d6e2fa" fill-opacity="0.26"/>
<path d="M263.2 365.4C263.2 409.4 370.3 409.4 370.3 453.4L370.9 453.4C370.9 409.4 263.8 409.4 263.8 365.4Z" fill="#f032e6" fill-opacity="0.26"/>
<path d="M256.3 365.4C256.3 409.4 368.5 409.4 368.5 453.4L369.2 453.4C369.2 409.4 257.0 409.4 257.0 365.4Z" fill="#3cb44b" fill-opacity="0.26"/>
<path d="M279.8 365.4C279.8 409.4 477.9 409.4 477.9 453.4L478.6 453.4C478.6 409.4 280.5 409.4 280.5 365.4Z" fill="#fabed4" fill-opacity="0.26"/>
<path d="M252.3 365.4C252.3 409.4 302.8 409.4 302.8 453.4L303.5 453.4C303.5 409.4 253.0 409.4 253.0 365.4Z" fill="#800000" fill-opacity="0.26"/>
<path d="M266.6 365.4C266.6 409.4 372.1 409.4 372.1 453.4L372.7 453.4C372.7 409.4 267.2 409.4 267.2 365.4Z" fill="#808000" fill-opacity="0.26"/>
<path d="M265.6 365.4C265.6 409.4 373.4 409.4 373.4 453.4L373.9 453.4C373.9 409.4 266.1 409.4 266.1 365.4Z" fill="#808000" fill-opacity="0.26"/>
<path d="M262.4 365.4C262.4 409.4 417.2 409.4 417.2 453.4L417.8 453.4C417.8 409.4 263.0 409.4 263.0 365.4Z" fill="#f032e6" fill-opacity="0.26"/>
<path d="M277.6 365.4C277.6 409.4 432.9 409.4 432.9 453.4L433.7 453.4C433.7 409.4 278.4 409.4 278.4 365.4Z" fill="#42d4f4" fill-opacity="0.26"/>
<path d="M252.6 365.4C252.6 409.4 328.4 409.4 328.4 453.4L329.0 453.4C329.0 409.4 253.2 409.4 253.2 365.4Z" fill="#800000" fill-opacity="0.26"/>
<path d="M259.5 365.4C259.5 409.4 366.0 409.4 366.0 453.4L366.5 453.4C366.5 409.4 260.1 409.4 260.1 365.4Z" fill="#e6194b" fill-opacity="0.26"/>
<path d="M270.1 365.4C270.1 409.4 441.8 409.4 441.8 453.4L442.4 453.4C442.4 409.4 270.7 409.4 270.7 365.4Z" fill="#911eb4" fill-opacity="0.26"/>
<path d="M260.7 365.4C260.7 409.4 395.9 409.4 395.9 453.4L396.5 453.4C396.5 409.4 261.4 409.4 261.4 365.4Z" fill="#ffe119" fill-opacity="0.26"/>
<path d="M281.0 365.4C281.0 409.4 463.5 409.4 463.5 453.4L464.1 453.4C464.1 409.4 281.6 409.4 281.6 365.4Z" fill="#d6e2fa" fill-opacity="0.26"/>
<path d="M264.6 365.4C264.6 409.4 363.7 409.4 363.7 453.4L364.6 453.4C364.6 409.4 265.4 409.4 265.4 365.4Z" fill="#4363d8" fill-opacity="0.26"/>
<path d="M252.2 365.4C252.2 409.4 343.0 409.4 343.0 453.4L343.7 453.4C343.7 409.4 252.9 409.4 252.9 365.4Z" fill="#800000" fill-opacity="0.26"/>
<path d="M261.1 365.4C261.1 409.4 384.1 409.4 384.1 453.4L384.6 453.4C384.6 409.4 261.7 409.4 261.7 365.4Z" fill="#ffe119" fill-opacity="0.26"/>
<path d="M279.5 365.4C279.5 409.4 464.5 409.4 464.5 453.4L465.3 453.4C465.3 409.4 280.3 409.4 280.3 365.4Z" fill="#fabed4" fill-opacity="0.26"/>
<path d="M277.6 365.4C277.6 409.4 441.5 409.4 441.5 453.4L442.4 453.4C442.4 409.4 278.5 409.4 278.5 365.4Z" fill="#42d4f4" fill-opacity="0.26"/>
<path d="M283.3 365.4C283.3 409.4 493.0 409.4 493.0 453.4L493.9 453.4C493.9 409.4 284.2 409.4 284.2 365.4Z" fill="#dcbeff" fill-opacity="0.26"/>
<path d="M282.9 365.4C282.9 409.4 490.0 409.4 490.0 453.4L490.8 453.4C490.8 409.4 283.6 409.4 283.6 365.4Z" fill="#dcbeff" fill-opacity="0.26"/>
<path d="M281.2 365.4C281.2 409.4 477.9 409.4 477.9 453.4L478.7 453.4C478.7 409.4 282.0 409.4 282.0 365.4Z" fill="#d6e2fa" fill-opacity="0.26"/>
<path d="M252.9 365.4C252.9 409.4 351.4 409.4 351.4 453.4L352.2 453.4C352.2 409.4 253.7 409.4 253.7 365.4Z" fill="#800000" fill-opacity="0.26"/>
<path d="M254.8 365.4C254.8 409.4 322.4 409.4 322.4 453.4L323.1 453.4C323.1 409.4 255.6 409.4 255.6 365.4Z" fill="#f58231" fill-opacity="0.26"/>
<path d="M269.6 365.4C269.6 409.4 438.1 409.4 438.1 453.4L438.8 453.4C438.8 409.4 270.2 409.4 270.2 365.4Z" fill="#911eb4" fill-opacity="0.26"/>
<path d="M290.5 365.4C290.5 409.4 491.1 409.4 491.1 453.4L491.6 453.4C491.6 409.4 291.0 409.4 291.0 365.4Z" fill="#d4d4d4" fill-opacity="0.26"/>
<path d="M273.0 365.4C273.0 409.4 439.0 409.4 439.0 453.4L439.5 453.4C439.5 409.4 273.6 409.4 273.6 365.4Z" fill="#bfef45" fill-opacity="0.26"/>
<path d="M288.6 365.4C288.6 409.4 492.3 409.4 492.3 453.4L492.9 453.4C492.9 409.4 289.2 409.4 289.2 365.4Z" fill="#ffd8b1" fill-opacity="0.26"/>
<path d="M257.9 365.4C257.9 409.4 345.4 409.4 345.4 453.4L346.0 453.4C346.0 409.4 258.5 409.4 258.5 365.4Z" fill="#e6194b" fill-opacity="0.26"/>
<path d="M289.9 365.4C289.9 409.4 498.2 409.4 498.2 453.4L498.8 453.4C498.8 409.4 290.5 409.4 290.5 365.4Z" fill="#ffd8b1" fill-opacity="0.26"/>
<path d="M264.4 365.4C264.4 409.4 399.2 409.4 399.2 453.4L399.7 453.4C399.7 409.4 264.9 409.4 264.9 365.4Z" fill="#4363d8" fill-opacity="0.26"/>
<path d="M252.9 365.4C252.9 409.4 344.0 409.4 344.0 453.4L344.6 453.4C344.6 409.4 253.5 409.4 253.5 365.4Z" fill="#800000" fill-opacity="0.26"/>
<path d="M269.2 365.4C269.2 409.4 412.5 409.4 412.5 453.4L413.3 453.4C413.3 409.4 270.0 409.4 270.0 365.4Z" fill="#911eb4" fill-opacity="0.26"/>
<path d="M272.0 365.4C272.0 409.4 424.3 409.4 424.3 453.4L424.7 453.4C424.7 409.4 272.4 409.4 272.4 365.4Z" fill="#bfef45" fill-opacity="0.26"/>
<path d="M267.0 365.4C267.0 409.4 413.6 409.4 413.6 453.4L414.4 453.4C414.4 409.4 267.7 409.4 267.7 365.4Z" fill="#808000" fill-opacity="0.26"/>
<path d="M253.2 365.4C253.2 409.4 336.0 409.4 336.0 453.4L336.9 453.4C336.9 409.4 254.1 409.4 254.1 365.4Z" fill="#800000" fill-opacity="0.26"/>
<path d="M282.8 365.4C282.8 409.4 451.0 409.4 451.0 453.4L451.7 453.4C451.7 409.4 283.5 409.4 283.5 365.4Z" fill="#dcbeff" fill-opacity="0.26"/>
<path d="M259.6 365.4C259.6 409.4 333.0 409.4 333.0 453.4L333.6 453.4C333.6 409.4 260.2 409.4 260.2 365.4Z" fill="#e6194b" fill-opacity="0.26"/>
<path d="M262.7 365.4C262.7 409.4 350.2 409.4 350.2 453.4L350.8 453.4C350.8 409.4 263.4 409.4 263.4 365.4Z" fill="#f032e6" fill-opacity="0.26"/>
<path d="M255.1 365.4C255.1 409.4 294.3 409.4 294.3 453.4L294.8 453.4C294.8 409.4 255.6 409.4 255.6 365.4Z" fill="#f58231" fill-opacity="0.26"/>
<path d="M289.7 365.4C289.7 409.4 498.6 409.4 498.6 453.4L499.0 453.4C499.0 409.4 290.1 409.4 290.1 365.4Z" fill="#ffd8b1" fill-opacity="0.26"/>
<path d="M279.2 365.4C279.2 409.4 445.1 409.4 445.1 453.4L445.7 453.4C445.7 409.4 279.9 409.4 279.9 365.4Z" fill="#fabed4" fill-opacity="0.26"/>
<path d="M274.5 365.4C274.5 409.4 407.5 409.4 407.5 453.4L408.2 453.4C408.2 409.4 275.2 409.4 275.2 365.4Z" fill="#9a6324" fill-opacity="0.26"/>
<path d="M286.0 365.4C286.0 409.4 495.3 409.4 495.3 453.4L496.0 453.4C496.0 409.4 286.7 409.4 286.7 365.4Z" fill="#fffac8" fill-opacity="0.26"/>
<path d="M268.2 365.4C268.2 409.4 375.1 409.4 375.1 453.4L375.8 453.4C375.8 409.4 269.0 409.4 269.0 365.4Z" fill="#000075" fill-opacity="0.26"/>
<path d="M285.9 365.4C285.9 409.4 488.1 409.4 488.1 453.4L488.7 453.4C488.7 409.4 286.4 409.4 286.4 365.4Z" fill="#fffac8" fill-opacity="0.26"/>
<path d="M276.7 365.4C276.7 409.4 438.9 409.4 438.9 453.4L439.4 453.4C439.4 409.4 277.3 409.4 277.3 365.4Z" fill="#42d4f4" fill-opacity="0.26"/>
<path d="M288.6 365.4C288.6 409.4 481.6 409.4 481.6 453.4L482.3 453.4C482.3 409.4 289.3 409.4 289.3 365.4Z" fill="#ffd8b1" fill-opacity="0.26"/>
<path d="M267.1 365.4C267.1 409.4 434.6 409.4 434.6 453.4L435.1 453.4C435.1 409.4 267.6 409.4 267.6 365.4Z" fill="#808000" fill-opacity="0.26"/>
<path d="M285.5 365.4C285.5 409.4 463.5 409.4 463.5 453.4L464.4 453.4C464.4 409.4 286.3 409.4 286.3 365.4Z" fill="#fffac8" fill-opacity="0.26"/>
<path d="M280.0 365.4C280.0 409.4 460.4 409.4 460.4 453.4L461.2 453.4C461.2 409.4 280.8 409.4 280.8 365.4Z" fill="#fabed4" fill-opacity="0.26"/>
<path d="M282.9 365.4C282.9 409.4 486.0 409.4 486.0 453.4L486.5 453.4C486.5 409.4 283.4 409.4 283.4 365.4Z" fill="#dcbeff" fill-opacity="0.26"/>
<path d="M266.1 365.4C266.1 409.4 411.4 409.4 411.4 453.4L412.0 453.4C412.0 409.4 266.6 409.4 266.6 365.4Z" fill="#808000" fill-opacity="0.26"/>
<path d="M276.7 365.4C276.7 409.4 487.8 409.4 487.8 453.4L488.5 453.4C488.5 409.4 277.5 409.4 277.5 365.4Z" fill="#42d4f4" fill-opacity="0.26"/>
<path d="M279.6 365.4C279.6 409.4 485.7 409.4 485.7 453.4L486.4 453.4C486.4 409.4 280.2 409.4 280.2 365.4Z" fill="#fabed4" fill-opacity="0.26"/>
<path d="M262.3 365.4C262.3 409.4 404.4 409.4 404.4 453.4L404.8 453.4C404.8 409.4 262.7 409.4 262.7 365.4Z" fill="#f032e6" fill-opacity="0.26"/>
<path d="M264.4 365.4C264.4 409.4 347.2 409.4 347.2 453.4L347.9 453.4C347.9 409.4 265.2 409.4 265.2 365.4Z" fill="#4363d8" fill-opacity="0.26"/>
<path d="M275.1 365.4C275.1 409.4 407.6 409.4 407.6 453.4L408.5 453.4C408.5 409.4 275.9 409.4 275.9 365.4Z" fill="#9a6324" fill-opacity="0.26"/>
<path d="M279.5 365.4C279.5 409.4 481.4 409.4 481.4 453.4L481.8 453.4C481.8 409.4 279.9 409.4 279.9 365.4Z" fill="#fabed4" fill-opacity="0.26"/>
<path d="M262.6 365.4C262.6 409.4 341.0 409.4 341.0 453.4L341.9 453.4C341.9 409.4 263.5 409.4 263.5 365.4Z" fill="#f032e6" fill-opacity="0.26"/>
<path d="M260.2 365.4C260.2 409.4 369.0 409.4 369.0 453.4L369.7 453.4C369.7 409.4 261.0 409.4 261.0 365.4Z" fill="#ffe119" fill-opacity="0.26"/>
<path d="M266.4 365.4C266.4 409.4 348.7 409.4 348.7 453.4L349.6 453.4C349.6 409.4 267.2 409.4 267.2 365.4Z" fill="#808000" fill-opacity="0.26"/>
<path d="M276.0 365.4C276.0 409.4 466.7 409.4 466.7 453.4L467.4 453.4C467.4 409.4 276.7 409.4 276.7 365.4Z" fill="#9a6324" fill-opacity="0.26"/>
<path d="M282.8 365.4C282.8 409.4 476.9 409.4 476.9 453.4L477.4 453.4C477.4 409.4 283.3 409.4 283.3 365.4Z" fill="#dcbeff" fill-opacity="0.26"/>
<path d="M265.6 365.4C265.6 409.4 381.6 409.4 381.6 453.4L382.2 453.4C382.2 409.4 266.2 409.4 266.2 365.4Z" fill="#808000" fill-opacity="0.26"/>
<path d="M257.4 365.4C257.4 409.4 367.7 409.4 367.7 453.4L368.4 453.4C368.4 409.4 258.1 409.4 258.1 365.4Z" fill="#3cb44b" fill-opacity="0.26"/>
<path d="M262.6 365.4C262.6 409.4 417.6 409.4 417.6 453.4L418.5 453.4C418.5 409.4 263.5 409.4 263.5 365.4Z" fill="#f032e6" fill-opacity="0.26"/>
<path d="M281.9 365.4C281.9 409.4 461.3 409.4 461.3 453.4L461.8 453.4C461.8 409.4 282.4 409.4 282.4 365.4Z" fill="#d6e2fa" fill-opacity="0.26"/>
<path d="M255.2 365.4C255.2 409.4 351.4 409.4 351.4 453.4L352.0 453.4C352.0 409.4 255.8 409.4 255.8 365.4Z" fill="#f58231" fill-opacity="0.26"/>
<path d="M281.0 365.4C281.0 409.4 490.1 409.4 490.1 453.4L490.9 453.4C490.9 409.4 281.8 409.4 281.8 365.4Z" fill="#d6e2fa" fill-opacity="0.26"/>
<path d="M286.0 365.4C286.0 409.4 497.0 409.4 497.0 453.4L497.4 453.4C497.4 409.4 286.5 409.4 286.5 365.4Z" fill="#fffac8" fill-opacity="0.26"/>
<path d="M284.3 365.4C284.3 409.4 460.1 409.4 460.1 453.4L460.5 453.4C460.5 409.4 284.8 409.4 284.8 365.4Z" fill="#dcbeff" fill-opacity="0.26"/>
<path d="M254.7 365.4C254.7 409.4 360.5 409.4 360.5 453.4L361.0 453.4C361.0 409.4 255.2 409.4 255.2 365.4Z" fill="#f58231" fill-opacity="0.26"/>
<path d="M279.2 365.4C279.2 409.4 490.3 409.4 490.3 453.4L490.7 453.4C490.7 409.4 279.6 409.4 279.6 365.4Z" fill="#fabed4" fill-opacity="0.26"/>
<path d="M264.7 365.4C264.7 409.4 367.0 409.4 367.0 453.4L367.4 453.4C367.4 409.4 265.2 409.4 265.2 365.4Z" fill="#4363d8" fill-opacity="0.26"/>
<path d="M267.2 365.4C267.2 409.4 368.7 409.4 368.7 453.4L369.1 453.4C369.1 409.4 267.6 409.4 267.6 365.4Z" fill="#808000" fill-opacity="0.26"/>
<path d="M263.2 365.4C263.2 409.4 339.1 409.4 339.1 453.4L339.5 453.4C339.5 409.4 263.6 409.4 263.6 365.4Z" fill="#f032e6" fill-opacity="0.26"/>
<path d="M287.3 365.4C287.3 409.4 495.5 409.4 495.5 453.4L496.1 453.4C496.1 409.4 287.8 409.4 287.8 365.4Z" fill="#aaffc3" fill-opacity="0.26"/>
<path d="M261.6 365.4C261.6 409.4 313.7 409.4 313.7 453.4L314.3 453.4C314.3 409.4 262.2 409.4 262.2 365.4Z" fill="#ffe119" fill-opacity="0.26"/>
<path d="M265.7 365.4C265.7 409.4 365.2 409.4 365.2 453.4L366.0 453.4C366.0 409.4 266.5 409.4 266.5 365.4Z" fill="#808000" fill-opacity="0.26"/>
<path d="M268.0 365.4C268.0 409.4 440.1 409.4 440.1 453.4L440.5 453.4C440.5 409.4 268.4 409.4 268.4 365.4Z" fill="#000075" fill-opacity="0.26"/>
<path d="M266.9 365.4C266.9 409.4 370.6 409.4 370.6 453.4L371.4 453.4C371.4 409.4 267.7 409.4 267.7 365.4Z" fill="#808000" fill-opacity="0.26"/>
<path d="M268.1 365.4C268.1 409.4 362.6 409.4 362.6 453.4L363.3 453.4C363.3 409.4 268.9 409.4 268.9 365.4Z" fill="#000075" fill-opacity="0.26"/>
<path d="M270.1 365.4C270.1 409.4 439.5 409.4 439.5 453.4L440.2 453.4C440.2 409.4 270.8 409.4 270.8 365.4Z" fill="#911eb4" fill-opacity="0.26"/>
<path d="M278.1 365.4C278.1 409.4 425.9 409.4 425.9 453.4L426.6 453.4C426.6 409.4 278.9 409.4 278.9 365.4Z" fill="#42d4f4" fill-opacity="0.26"/>
<path d="M289.2 365.4C289.2 409.4 487.7 409.4 487.7 453.4L488.4 453.4C488.4 409.4 289.9 409.4 289.9 365.4Z" fill="#ffd8b1" fill-opacity="0.26"/>
<path d="M253.1 365.4C253.1 409.4 255.9 409.4 255.9 453.4L256.7 453.4C256.7 409.4 253.9 409.4 253.9 365.4Z" fill="#800000" fill-opacity="0.26"/>
<path d="M277.1 365.4C277.1 409.4 442.0 409.4 442.0 453.4L442.4 453.4C442.4 409.4 277.5 409.4 277.5 365.4Z" fill="#42d4f4" fill-opacity="0.26"/>
<path d="M283.1 365.4C283.1 409.4 490.4 409.4 490.4 453.4L491.2 453.4C491.2 409.4 283.9 409.4 283.9 365.4Z" fill="#dcbeff" fill-opacity="0.26"/>
<path d="M286.5 365.4C286.5 409.4 471.0 409.4 471.0 453.4L471.4 453.4C471.4 409.4 287.0 409.4 287.0 365.4Z" fill="#aaffc3" fill-opacity="0.26"/>
<path d="M275.8 365.4C275.8 409.4 479.5 409.4 479.5 453.4L480.2 453.4C480.2 409.4 276.5 409.4 276.5 365.4Z" fill="#9a6324" fill-opacity="0.26"/>
<path d="M265.7 365.4C265.7 409.4 432.6 409.4 432.6 453.4L433.2 453.4C433.2 409.4 266.3 409.4 266.3 365.4Z" fill="#808000" fill-opacity="0.26"/>
<path d="M263.1 365.4C263.1 409.4 349.4 409.4 349.4 453.4L350.1 453.4C350.1 409.4 263.7 409.4 263.7 365.4Z" fill="#f032e6" fill-opacity="0.26"/>
<path d="M262.7 365.4C262.7 409.4 358.6 409.4 358.6 453.4L359.4 453.4C359.4 409.4 263.5 409.4 263.5 365.4Z" fill="#f032e6" fill-opacity="0.26"/>
<path d="M258.4 365.4C258.4 409.4 370.0 409.4 370.0 453.4L370.7 453.4C370.7 409.4 259.0 409.4 259.0 365.4Z" fill="#e6194b" fill-opacity="0.26"/>
<path d="M279.5 365.4C279.5 409.4 456.9 409.4 456.9 453.4L457.7 453.4C457.7 409.4 280.3 409.4 280.3 365.4Z" fill="#fabed4" fill-opacity="0.26"/>
<path d="M288.1 365.4C288.1 409.4 495.8 409.4 495.8 453.4L496.2 453.4C496.2 409.4 288.5 409.4 288.5 365.4Z" fill="#aaffc3" fill-opacity="0.26"/>
<path d="M279.1 365.4C279.1 409.4 431.2 409.4 431.2 453.4L432.1 453.4C432.1 409.4 279.9 409.4 279.9 365.4Z" fill="#fabed4" fill-opacity="0.26"/>
<path d="M266.8 365.4C266.8 409.4 442.5 409.4 442.5 453.4L443.1 453.4C443.1 409.4 267.4 409.4 267.4 365.4Z" fill="#808000" fill-opacity="0.26"/>
<path d="M264.9 365.4C264.9 409.4 391.3 409.4 391.3 453.4L392.0 453.4C392.0 409.4 265.5 409.4 265.5 365.4Z" fill="#4363d8" fill-opacity="0.26"/>
<path d="M266.1 365.4C266.1 409.4 420.2 409.4 420.2 453.4L421.1 453.4C421.1 409.4 267.0 409.4 267.0 365.4Z" fill="#808000" fill-opacity="0.26"/>
<path d="M254.7 365.4C254.7 409.4 361.4 409.4 361.4 453.4L362.2 453.4C362.2 409.4 255.5 409.4 255.5 365.4Z" fill="#f58231" fill-opacity="0.26"/>
<path d="M282.7 365.4C282.7 409.4 491.5 409.4 491.5 453.4L491.9 453.4C491.9 409.4 283.1 409.4 283.1 365.4Z" fill="#dcbeff" fill-opacity="0.26"/>
<path d="M270.0 365.4C270.0 409.4 427.3 409.4 427.3 453.4L427.9 453.4C427.9 409.4 270.6 409.4 270.6 365.4Z" fill="#911eb4" fill-opacity="0.26"/>
<path d="M284.0 365.4C284.0 409.4 463.5 409.4 463.5 453.4L463.8 453.4C463.8 409.4 284.4 409.4 284.4 365.4Z" fill="#dcbeff" fill-opacity="0.26"/>
<path d="M285.9 365.4C285.9 409.4 480.7 409.4 480.7 453.4L481.4 453.4C481.4 409.4 286.6 409.4 286.6 365.4Z" fill="#fffac8" fill-opacity="0.26"/>
<path d="M291.0 365.4C291.0 409.4 494.8 409.4 494.8 453.4L495.5 453.4C495.5 409.4 291.6 409.4 291.6 365.4Z" fill="#d4d4d4" fill-opacity="0.26"/>
<path d="M278.3 365.4C278.3 409.4 498.0 409.4 498.0 453.4L498.8 453.4C498.8 409.4 279.1 409.4 279.1 365.4Z" fill="#42d4f4" fill-opacity="0.26"/>
<path d="M287.4 365.4C287.4 409.4 478.1 409.4 478.1 453.4L478.6 453.4C478.6 409.4 287.9 409.4 287.9 365.4Z" fill="#aaffc3" fill-opacity="0.26"/>
<path d="M289.6 365.4C289.6 409.4 485.1 409.4 485.1 453.4L485.6 453.4C485.6 409.4 290.1 409.4 290.1 365.4Z" fill="#ffd8b1" fill-opacity="0.26"/>
<path d="M256.2 365.4C256.2 409.4 288.6 409.4 288.6 453.4L289.2 453.4C289.2 409.4 256.9 409.4 256.9 365.4Z" fill="#3cb44b" fill-opacity="0.26"/>
<path d="M280.3 365.4C280.3 409.4 470.6 409.4 470.6 453.4L471.5 453.4C471.5 409.4 281.2 409.4 281.2 365.4Z" fill="#fabed4" fill-opacity="0.26"/>
<path d="M292.5 365.4C292.5 409.4 545.8 409.4 545.8 453.4L549.8 453.4C549.8 409.4 295.6 409.4 295.6 365.4Z" fill="#a4a4a4" fill-opacity="0.35"/>
<path d="M252.5 365.4C252.5 409.4 500.5 409.4 500.5 453.4L501.5 453.4C501.5 409.4 253.5 409.4 253.5 365.4Z" fill="#a0a0a0" fill-opacity="0.45"/>
<path d="M258.1 365.4C258.1 409.4 501.6 409.4 501.6 453.4L502.6 453.4C502.6 409.4 259.1 409.4 259.1 365.4Z" fill="#a0a0a0" fill-opacity="0.45"/>
<path d="M263.7 365.4C263.7 409.4 502.6 409.4 502.6 453.4L503.6 453.4C503.6 409.4 264.7 409.4 264.7 365.4Z" fill="#a0a0a0" fill-opacity="0.45"/>
<path d="M269.3 365.4C269.3 409.4 503.6 409.4 503.6 453.4L504.6 453.4C504.6 409.4 270.3 409.4 270.3 365.4Z" fill="#a0a0a0" fill-opacity="0.45"/>
<path d="M274.9 365.4C274.9 409.4 504.7 409.4 504.7 453.4L505.7 453.4C505.7 409.4 275.9 409.4 275.9 365.4Z" fill="#a0a0a0" fill-opacity="0.45"/>
<path d="M280.5 365.4C280.5 409.4 505.8 409.4 505.8 453.4L506.8 453.4C506.8 409.4 281.5 409.4 281.5 365.4Z" fill="#a0a0a0" fill-opacity="0.45"/>
<path d="M286.1 365.4C286.1 409.4 506.8 409.4 506.8 453.4L507.8 453.4C507.8 409.4 287.1 409.4 287.1 365.4Z" fill="#a0a0a0" fill-opacity="0.45"/>
<rect x="252.0" y="353.3" width="2.0" height="12.0" fill="#800000"/>
<rect x="254.0" y="353.3" width="2.1" height="12.0" fill="#f58231"/>
<rect x="256.1" y="353.3" width="1.8" height="12.0" fill="#3cb44b"/>
<rect x="257.9" y="353.3" width="2.1" height="12.0" fill="#e6194b"/>
<rect x="260.0" y="353.3" width="2.2" height="12.0" fill="#ffe119"/>
<rect x="262.2" y="353.3" width="1.6" height="12.0" fill="#f032e6"/>
<rect x="263.8" y="353.3" width="1.7" height="12.0" fill="#4363d8"/>
<rect x="265.5" y="353.3" width="2.2" height="12.0" fill="#808000"/>
<rect x="267.7" y="353.3" width="1.3" height="12.0" fill="#000075"/>
<rect x="269.0" y="353.3" width="1.6" height="12.0" fill="#911eb4"/>
<rect x="270.6" y="353.3" width="3.7" height="12.0" fill="#bfef45"/>
<rect x="274.3" y="353.3" width="2.2" height="12.0" fill="#9a6324"/>
<rect x="276.5" y="353.3" width="2.2" height="12.0" fill="#42d4f4"/>
<rect x="278.7" y="353.3" width="2.1" height="12.0" fill="#fabed4"/>
<rect x="280.8" y="353.3" width="1.8" height="12.0" fill="#d6e2fa"/>
<rect x="282.6" y="353.3" width="2.2" height="12.0" fill="#dcbeff"/>
<rect x="284.8" y="353.3" width="1.7" height="12.0" fill="#fffac8"/>
<rect x="286.5" y="353.3" width="2.0" height="12.0" fill="#aaffc3"/>
<rect x="288.5" y="353.3" width="2.0" height="12.0" fill="#ffd8b1"/>
<rect x="290.5" y="353.3" width="1.3" height="12.0" fill="#d4d4d4"/>
<rect x="291.8" y="353.3" width="4.2" height="12.0" fill="#a9a9a9"/>
<rect x="296.0" y="353.3" width="349.6" height="12.0" fill="#808080"/>
<path d="M254.0 353.3V365.3M256.1 353.3V365.3M257.9 353.3V365.3M260.0 353.3V365.3M262.2 353.3V365.3M263.8 353.3V365.3M265.5 353.3V365.3M267.7 353.3V365.3M269.0 353.3V365.3M270.6 353.3V365.3M274.3 353.3V365.3M276.5 353.3V365.3M278.7 353.3V365.3M280.8 353.3V365.3M282.6 353.3V365.3M284.8 353.3V365.3M286.5 353.3V365.3M288.5 353.3V365.3M290.5 353.3V365.3" fill="none" stroke="#222" stroke-width="0.25"/>
<rect x="251.9" y="353.3" width="393.7" height="12.0" fill="none" stroke="#333" stroke-width="0.5"/>
<rect x="252.1" y="453.4" width="14.6" height="38.9" fill="#800000"/>
<text x="262.4" y="472.8" font-size="8.6" text-anchor="middle" fill="#fff" font-style="italic" transform="rotate(-90 262.4 472.8)">Akap1</text>
<rect x="266.7" y="453.4" width="16.6" height="38.9" fill="#f58231"/>
<text x="278.0" y="472.8" font-size="8.6" text-anchor="middle" fill="#111" font-style="italic" transform="rotate(-90 278.0 472.8)">Nnt</text>
<rect x="283.3" y="453.4" width="15.3" height="38.9" fill="#3cb44b"/>
<text x="294.0" y="472.8" font-size="8.6" text-anchor="middle" fill="#111" font-style="italic" transform="rotate(-90 294.0 472.8)">Polg</text>
<rect x="298.6" y="453.4" width="10.1" height="38.9" fill="#e6194b"/>
<text x="306.6" y="472.8" font-size="8.6" text-anchor="middle" fill="#fde" font-style="italic" transform="rotate(-90 306.6 472.8)">Tfam</text>
<rect x="308.7" y="453.4" width="16.7" height="38.9" fill="#ffe119"/>
<text x="320.0" y="472.8" font-size="8.6" text-anchor="middle" fill="#111" font-style="italic" transform="rotate(-90 320.0 472.8)">Dnm1l</text>
<rect x="325.4" y="453.4" width="11.3" height="38.9" fill="#f032e6"/>
<text x="334.0" y="472.8" font-size="8.6" text-anchor="middle" fill="#111" font-style="italic" transform="rotate(-90 334.0 472.8)">Mtfp1</text>
<rect x="336.7" y="453.4" width="11.7" height="38.9" fill="#4363d8"/>
<text x="345.5" y="472.8" font-size="8.6" text-anchor="middle" fill="#111" font-style="italic" transform="rotate(-90 345.5 472.8)">Opa1</text>
<rect x="348.4" y="453.4" width="11.4" height="38.9" fill="#808000"/>
<text x="357.1" y="472.8" font-size="8.6" text-anchor="middle" fill="#111" font-style="italic" transform="rotate(-90 357.1 472.8)">Snx9</text>
<rect x="359.8" y="453.4" width="11.7" height="38.9" fill="#000075"/>
<text x="368.6" y="472.8" font-size="8.6" text-anchor="middle" fill="#fff" font-style="italic" transform="rotate(-90 368.6 472.8)">Atg5</text>
<rect x="371.5" y="453.4" width="14.6" height="38.9" fill="#911eb4"/>
<text x="381.8" y="472.8" font-size="8.6" text-anchor="middle" fill="#fff" font-style="italic" transform="rotate(-90 381.8 472.8)">Oma1</text>
<rect x="386.1" y="453.4" width="17.8" height="38.9" fill="#bfef45"/>
<text x="398.0" y="472.8" font-size="8.6" text-anchor="middle" fill="#111" font-style="italic" transform="rotate(-90 398.0 472.8)">Pink1</text>
<rect x="403.9" y="453.4" width="12.8" height="38.9" fill="#9a6324"/>
<text x="413.3" y="472.8" font-size="8.6" text-anchor="middle" fill="#fff" font-style="italic" transform="rotate(-90 413.3 472.8)">Ppargc1a</text>
<rect x="416.7" y="453.4" width="14.5" height="38.9" fill="#42d4f4"/>
<text x="426.9" y="472.8" font-size="8.6" text-anchor="middle" fill="#111" font-style="italic" transform="rotate(-90 426.9 472.8)">Prkn</text>
<rect x="431.2" y="453.4" width="7.5" height="38.9" fill="#fabed4"/>
<text x="437.9" y="472.8" font-size="8.6" text-anchor="middle" fill="#111" font-style="italic" transform="rotate(-90 437.9 472.8)">Eomes</text>
<rect x="438.7" y="453.4" width="11.2" height="38.9" fill="#d6e2fa"/>
<text x="447.3" y="472.8" font-size="8.6" text-anchor="middle" fill="#111" font-style="italic" transform="rotate(-90 447.3 472.8)">Neurod1</text>
<rect x="449.9" y="453.4" width="9.6" height="38.9" fill="#dcbeff"/>
<text x="457.7" y="472.8" font-size="8.6" text-anchor="middle" fill="#111" font-style="italic" transform="rotate(-90 457.7 472.8)">Olig1</text>
<rect x="459.5" y="453.4" width="11.0" height="38.9" fill="#fffac8"/>
<text x="468.0" y="472.8" font-size="8.6" text-anchor="middle" fill="#111" font-style="italic" transform="rotate(-90 468.0 472.8)">Opn4</text>
<rect x="470.5" y="453.4" width="10.0" height="38.9" fill="#aaffc3"/>
<text x="478.5" y="472.8" font-size="8.6" text-anchor="middle" fill="#111" font-style="italic" transform="rotate(-90 478.5 472.8)">Rgr</text>
<rect x="480.5" y="453.4" width="9.3" height="38.9" fill="#ffd8b1"/>
<text x="488.1" y="472.8" font-size="8.6" text-anchor="middle" fill="#111" font-style="italic" transform="rotate(-90 488.1 472.8)">Rrh</text>
<rect x="489.8" y="453.4" width="10.5" height="38.9" fill="#d4d4d4"/>
<text x="498.1" y="472.8" font-size="8.6" text-anchor="middle" fill="#111" transform="rotate(-90 498.1 472.8)">NT</text>
<rect x="500.3" y="453.4" width="49.5" height="38.9" fill="#a9a9a9"/>
<rect x="549.8" y="453.4" width="95.8" height="38.9" fill="#7f7f7f"/>
<text x="524.8" y="475.8" font-size="8.8" text-anchor="middle" fill="#222">Multiple</text>
<text x="598.9" y="475.0" font-size="8.8" text-anchor="middle" fill="#222">Unknown</text>
<path d="M266.7 453.4V492.3M283.3 453.4V492.3M298.6 453.4V492.3M308.7 453.4V492.3M325.4 453.4V492.3M336.7 453.4V492.3M348.4 453.4V492.3M359.8 453.4V492.3M371.5 453.4V492.3M386.1 453.4V492.3M403.9 453.4V492.3M416.7 453.4V492.3M431.2 453.4V492.3M438.7 453.4V492.3M449.9 453.4V492.3M459.5 453.4V492.3M470.5 453.4V492.3M480.5 453.4V492.3M489.8 453.4V492.3M500.3 453.4V492.3" fill="none" stroke="#555" stroke-width="0.3"/>
<rect x="252.1" y="453.4" width="393.5" height="38.9" fill="none" stroke="#555" stroke-width="0.4"/>
<line x1="252.1" y1="453.4" x2="645.6" y2="453.4" stroke="#444" stroke-width="0.5"/>
<line x1="296.0" y1="353.3" x2="296.0" y2="407.3" stroke="#111" stroke-width="1.0" stroke-dasharray="2 0.7"/>
<line x1="500.2" y1="353.3" x2="500.2" y2="492.3" stroke="#333" stroke-width="0.7" stroke-dasharray="1 1"/>
<line x1="645.6" y1="353.3" x2="645.6" y2="492.3" stroke="#333" stroke-width="0.7" stroke-dasharray="1 1"/>
<line x1="235.0" y1="407.3" x2="652.9" y2="407.3" stroke="#111" stroke-width="0.8" stroke-dasharray="2.4 1.4"/>
<text x="237.0" y="379.9" font-size="9.4" text-anchor="middle" textLength="29.4" lengthAdjust="spacingAndGlyphs" transform="rotate(-90 237.0 379.9)">Before</text>
<text x="248.6" y="380.0" font-size="9.4" text-anchor="middle" textLength="50.9" lengthAdjust="spacingAndGlyphs" transform="rotate(-90 248.6 380.0)">enrichment</text>
<text x="237.0" y="437.5" font-size="9.4" text-anchor="middle" textLength="21.4" lengthAdjust="spacingAndGlyphs" transform="rotate(-90 237.0 437.5)">After</text>
<text x="248.6" y="437.5" font-size="9.4" text-anchor="middle" textLength="51.8" lengthAdjust="spacingAndGlyphs" transform="rotate(-90 248.6 437.5)">enrichment</text>
<line x1="253.6" y1="497.0" x2="306.4" y2="497.0" stroke="#c4c4c4" stroke-width="1.2"/>
<path d="M251.6 497.0L254.6 495.6V498.4Z M308.4 497.0L305.4 495.6V498.4Z" fill="#111"/>
<line x1="311.0" y1="497.0" x2="357.6" y2="497.0" stroke="#c4c4c4" stroke-width="1.2"/>
<path d="M309.0 497.0L312.0 495.6V498.4Z M359.6 497.0L356.6 495.6V498.4Z" fill="#111"/>
<line x1="362.0" y1="497.0" x2="429.0" y2="497.0" stroke="#c4c4c4" stroke-width="1.2"/>
<path d="M360.0 497.0L363.0 495.6V498.4Z M431.0 497.0L428.0 495.6V498.4Z" fill="#111"/>
<line x1="433.4" y1="497.0" x2="487.2" y2="497.0" stroke="#c4c4c4" stroke-width="1.2"/>
<path d="M431.4 497.0L434.4 495.6V498.4Z M489.2 497.0L486.2 495.6V498.4Z" fill="#111"/>
<text x="279.8" y="507.0" font-size="8.9" text-anchor="middle">mtDNA</text>
<text x="279.8" y="516.0" font-size="8.9" text-anchor="middle" textLength="50.0" lengthAdjust="spacingAndGlyphs">maintenance</text>
<text x="334.2" y="507.0" font-size="8.9" text-anchor="middle">Membrane</text>
<text x="334.2" y="516.0" font-size="8.9" text-anchor="middle">remodeling</text>
<text x="395.0" y="507.2" font-size="8.9" text-anchor="middle" textLength="52.2" lengthAdjust="spacingAndGlyphs">Homeostasis/</text>
<text x="395.0" y="515.4" font-size="8.9" text-anchor="middle">mitophagy</text>
<text x="459.4" y="507.0" font-size="8.9" text-anchor="middle" textLength="33.7" lengthAdjust="spacingAndGlyphs">Controls</text>
<text x="224.4" y="535.6" font-size="16" fill="#000" font-weight="bold" stroke="#000" stroke-width="0.55">g</text>
<text x="381.2" y="535.8" font-size="9.3" textLength="132.1" lengthAdjust="spacingAndGlyphs">ATAC-seq mtDNA enrichment</text>
<line x1="226.0" y1="539.4" x2="683.5" y2="539.4" stroke="#555" stroke-width="0.9"/>
<path d="M310.8 545V668.4H660" fill="none" stroke="#9a9a9a" stroke-width="1.0"/>
<line x1="307.8" y1="545.8" x2="310.8" y2="545.8" stroke="#666" stroke-width="0.8"/>
<text x="304.2" y="549.1" font-size="9.4" text-anchor="end">800,000</text>
<line x1="307.8" y1="573.8" x2="310.8" y2="573.8" stroke="#666" stroke-width="0.8"/>
<text x="304.2" y="577.1" font-size="9.4" text-anchor="end">600,000</text>
<line x1="307.8" y1="601.8" x2="310.8" y2="601.8" stroke="#666" stroke-width="0.8"/>
<text x="304.2" y="605.1" font-size="9.4" text-anchor="end">400,000</text>
<line x1="307.8" y1="629.8" x2="310.8" y2="629.8" stroke="#666" stroke-width="0.8"/>
<text x="304.2" y="633.1" font-size="9.4" text-anchor="end">200,000</text>
<line x1="307.8" y1="657.8" x2="310.8" y2="657.8" stroke="#666" stroke-width="0.8"/>
<text x="304.2" y="661.1" font-size="9.4" text-anchor="end">0</text>
<line x1="326.3" y1="668.4" x2="326.3" y2="671.2" stroke="#666" stroke-width="0.8"/>
<text x="326.3" y="682.0" font-size="9.0" text-anchor="middle">0</text>
<line x1="424.1" y1="668.4" x2="424.1" y2="671.2" stroke="#666" stroke-width="0.8"/>
<text x="424.1" y="682.0" font-size="9.0" text-anchor="middle">5,000</text>
<line x1="521.9" y1="668.4" x2="521.9" y2="671.2" stroke="#666" stroke-width="0.8"/>
<text x="521.9" y="682.0" font-size="9.0" text-anchor="middle">10,000</text>
<line x1="619.7" y1="668.4" x2="619.7" y2="671.2" stroke="#666" stroke-width="0.8"/>
<text x="619.7" y="682.0" font-size="9.0" text-anchor="middle">15,000</text>
<text x="449.8" y="695.2" font-size="10.2" textLength="72.0" lengthAdjust="spacingAndGlyphs">mtDNA position</text>
<text x="245.0" y="606.8" font-size="9.9" text-anchor="middle" textLength="94.8" lengthAdjust="spacingAndGlyphs" transform="rotate(-90 245.0 606.8)">Per-base sequencing</text>
<text x="257.4" y="606.8" font-size="9.9" text-anchor="middle" textLength="26.4" lengthAdjust="spacingAndGlyphs" transform="rotate(-90 257.4 606.8)">depth</text>
<rect x="324.2" y="546.7" width="4.8" height="4.8" fill="#86d65e"/>
<text x="334.4" y="551.4" font-size="7.2" textLength="62.0" lengthAdjust="spacingAndGlyphs">ATAC-seq coverage</text>
<rect x="409.5" y="546.7" width="4.8" height="4.8" fill="#2f7e8e"/>
<text x="418.2" y="551.4" font-size="7.2" textLength="47.6" lengthAdjust="spacingAndGlyphs">NUMT masking</text>
<rect x="479.3" y="546.7" width="4.8" height="4.8" fill="#7d1a9e"/>
<text x="489.0" y="551.4" font-size="7.2" textLength="60.8" lengthAdjust="spacingAndGlyphs">mtDNA enrichment</text>
<polyline points="326.3,633.9 327.0,639.1 327.7,630.1 328.4,624.2 329.1,618.8 329.8,621.1 330.5,619.2 331.2,622.9 331.8,630.1 332.5,629.0 333.2,626.4 333.9,622.0 334.6,625.2 335.3,617.5 336.0,611.9 336.7,615.9 337.4,620.2 338.1,619.8 338.8,620.4 339.5,624.7 340.2,625.5 340.9,623.6 341.5,620.9 342.2,619.4 342.9,610.7 343.6,619.7 344.3,615.3 345.0,608.8 345.7,614.6 346.4,622.1 347.1,624.3 347.8,626.0 348.5,624.5 349.2,620.4 349.9,613.9 350.6,619.9 351.3,620.0 351.9,624.8 352.6,623.7 353.3,622.8 354.0,616.3 354.7,610.1 355.4,611.7 356.1,614.5 356.8,612.2 357.5,626.0 358.2,618.5 358.9,623.4 359.6,614.0 360.3,602.1 361.0,605.0 361.6,607.8 362.3,612.3 363.0,618.2 363.7,623.8 364.4,623.8 365.1,617.2 365.8,616.5 366.5,623.1 367.2,619.9 367.9,619.9 368.6,620.6 369.3,625.3 370.0,629.3 370.7,622.4 371.3,612.9 372.0,617.7 372.7,616.3 373.4,626.7 374.1,624.9 374.8,624.7 375.5,621.4 376.2,618.5 376.9,618.6 377.6,618.4 378.3,622.1 379.0,618.3 379.7,608.7 380.4,610.8 381.1,619.8 381.7,619.2 382.4,624.9 383.1,626.8 383.8,619.6 384.5,611.9 385.2,613.6 385.9,611.5 386.6,622.0 387.3,619.7 388.0,619.2 388.7,621.7 389.4,624.0 390.1,615.9 390.8,621.5 391.4,622.0 392.1,616.8 392.8,617.0 393.5,618.5 394.2,614.9 394.9,620.1 395.6,619.7 396.3,617.1 397.0,620.8 397.7,620.6 398.4,616.5 399.1,619.0 399.8,619.9 400.5,618.8 401.2,607.8 401.8,609.4 402.5,624.6 403.2,628.9 403.9,626.3 404.6,625.1 405.3,627.3 406.0,624.0 406.7,622.9 407.4,613.6 408.1,615.1 408.8,615.5 409.5,615.9 410.2,609.7 410.9,616.9 411.5,612.1 412.2,614.0 412.9,611.4 413.6,607.1 414.3,611.9 415.0,616.8 415.7,620.6 416.4,616.7 417.1,619.8 417.8,616.8 418.5,632.8 419.2,629.6 419.9,625.5 420.6,616.2 421.2,618.4 421.9,616.1 422.6,613.4 423.3,641.4 424.0,619.1 424.7,628.7 425.4,618.8 426.1,613.7 426.8,638.7 427.5,619.8 428.2,638.5 428.9,619.9 429.6,626.1 430.3,621.3 431.0,624.3 431.6,611.6 432.3,617.6 433.0,629.0 433.7,624.6 434.4,616.8 435.1,609.2 435.8,606.8 436.5,610.6 437.2,619.8 437.9,617.2 438.6,614.8 439.3,635.4 440.0,647.4 440.7,623.6 441.3,648.7 442.0,621.8 442.7,629.7 443.4,621.2 444.1,629.0 444.8,618.1 445.5,623.3 446.2,610.3 446.9,616.5 447.6,644.6 448.3,627.7 449.0,616.3 449.7,613.7 450.4,612.8 451.1,608.2 451.7,631.0 452.4,612.2 453.1,625.1 453.8,640.6 454.5,653.2 455.2,655.3 455.9,655.5 456.6,655.6 457.3,655.7 458.0,655.5 458.7,655.7 459.4,655.6 460.1,655.7 460.8,655.6 461.4,655.8 462.1,656.0 462.8,655.7 463.5,655.7 464.2,655.9 464.9,655.8 465.6,656.1 466.3,655.9 467.0,655.9 467.7,655.9 468.4,656.0 469.1,655.9 469.8,656.1 470.5,656.3 471.1,656.0 471.8,656.1 472.5,656.3 473.2,656.1 473.9,656.2 474.6,656.1 475.3,656.1 476.0,656.1 476.7,656.1 477.4,656.3 478.1,656.4 478.8,656.4 479.5,656.4 480.2,656.2 480.9,656.5 481.5,656.6 482.2,656.4 482.9,656.5 483.6,656.3 484.3,656.6 485.0,656.5 485.7,656.5 486.4,656.5 487.1,656.5 487.8,656.5 488.5,656.5 489.2,656.5 489.9,656.7 490.6,656.4 491.2,656.5 491.9,656.5 492.6,656.7 493.3,656.5 494.0,656.5 494.7,656.3 495.4,656.7 496.1,656.4 496.8,656.5 497.5,656.4 498.2,656.7 498.9,656.7 499.6,656.6 500.3,656.5 501.0,656.6 501.6,656.6 502.3,656.5 503.0,656.5 503.7,656.6 504.4,656.6 505.1,656.3 505.8,656.3 506.5,656.7 507.2,656.3 507.9,656.4 508.6,656.5 509.3,656.5 510.0,656.5 510.7,656.6 511.3,656.3 512.0,656.2 512.7,656.4 513.4,656.4 514.1,656.2 514.8,656.2 515.5,656.3 516.2,656.1 516.9,656.4 517.6,656.3 518.3,656.2 519.0,656.3 519.7,656.0 520.4,656.1 521.1,656.2 521.7,656.0 522.4,656.2 523.1,656.1 523.8,655.9 524.5,656.1 525.2,656.2 525.9,656.0 526.6,656.1 527.3,656.0 528.0,655.7 528.7,655.8 529.4,655.8 530.1,655.9 530.8,656.0 531.4,656.0 532.1,655.5 532.8,655.6 533.5,655.6 534.2,655.8 534.9,655.6 535.6,655.5 536.3,655.5 537.0,655.5 537.7,655.7 538.4,655.4 539.1,655.2 539.8,650.1 540.5,636.8 541.1,627.8 541.8,624.9 542.5,622.2 543.2,611.6 543.9,610.7 544.6,612.6 545.3,613.1 546.0,608.1 546.7,614.0 547.4,616.4 548.1,618.8 548.8,618.5 549.5,621.3 550.2,615.3 550.9,615.2 551.5,620.8 552.2,625.7 552.9,623.7 553.6,626.4 554.3,626.4 555.0,625.0 555.7,621.8 556.4,615.5 557.1,617.0 557.8,618.8 558.5,615.0 559.2,610.3 559.9,610.5 560.6,613.2 561.2,608.0 561.9,613.3 562.6,608.7 563.3,616.3 564.0,617.0 564.7,616.5 565.4,620.2 566.1,616.6 566.8,617.7 567.5,616.7 568.2,618.6 568.9,606.3 569.6,610.8 570.3,611.7 571.0,614.2 571.6,618.3 572.3,623.5 573.0,618.2 573.7,613.8 574.4,619.6 575.1,625.0 575.8,621.6 576.5,620.7 577.2,618.4 577.9,613.5 578.6,615.7 579.3,611.9 580.0,609.0 580.7,619.8 581.3,618.5 582.0,621.2 582.7,614.4 583.4,617.2 584.1,616.0 584.8,609.7 585.5,610.2 586.2,613.2 586.9,616.6 587.6,619.8 588.3,621.5 589.0,617.0 589.7,622.4 590.4,618.4 591.0,622.5 591.7,616.0 592.4,608.9 593.1,608.6 593.8,614.9 594.5,618.9 595.2,623.0 595.9,620.8 596.6,624.4 597.3,624.3 598.0,619.7 598.7,618.2 599.4,619.6 600.1,609.8 600.8,614.6 601.4,614.2 602.1,610.4 602.8,617.8 603.5,622.5 604.2,621.2 604.9,616.3 605.6,614.9 606.3,618.5 607.0,623.3 607.7,618.8 608.4,603.7 609.1,614.4 609.8,612.5 610.5,612.7 611.1,608.7 611.8,610.2 612.5,608.6 613.2,618.1 613.9,615.0 614.6,616.6 615.3,615.5 616.0,615.2 616.7,616.9 617.4,614.8 618.1,616.6 618.8,613.5 619.5,614.0 620.2,619.1 620.9,619.1 621.5,614.3 622.2,612.5 622.9,616.4 623.6,609.0 624.3,619.2 625.0,614.0 625.7,618.8 626.4,617.8 627.1,606.0 627.8,616.6 628.5,613.8 629.2,606.3 629.9,616.2 630.6,617.8 631.2,619.1 631.9,629.2 632.6,627.5 633.3,643.8 634.0,649.7 634.7,653.5 635.4,643.4 636.1,637.3 636.8,626.2 637.5,615.9 638.2,624.0 638.9,625.7 639.6,629.0 640.3,626.7 641.0,624.3 641.6,628.5 642.3,621.8 643.0,628.0 643.7,633.3 644.4,630.1 645.1,631.7" fill="none" stroke="#86d65e" stroke-width="1.15" stroke-linejoin="round"/>
<polyline points="326.3,633.5 327.0,638.7 327.7,629.7 328.4,623.7 329.1,618.4 329.8,620.7 330.5,618.8 331.2,622.5 331.8,629.7 332.5,628.6 333.2,625.9 333.9,621.6 334.6,624.8 335.3,617.1 336.0,611.5 336.7,615.5 337.4,619.7 338.1,619.3 338.8,620.0 339.5,624.3 340.2,625.1 340.9,623.2 341.5,620.5 342.2,619.0 342.9,610.3 343.6,619.3 344.3,614.9 345.0,608.4 345.7,614.2 346.4,621.7 347.1,623.9 347.8,625.6 348.5,624.1 349.2,619.9 349.9,613.5 350.6,619.4 351.3,619.6 351.9,624.4 352.6,623.3 353.3,622.4 354.0,615.9 354.7,609.6 355.4,611.2 356.1,614.1 356.8,611.8 357.5,625.6 358.2,618.1 358.9,623.0 359.6,613.5 360.3,601.7 361.0,604.5 361.6,607.4 362.3,611.9 363.0,617.8 363.7,623.4 364.4,623.3 365.1,616.8 365.8,616.1 366.5,622.7 367.2,619.5 367.9,619.5 368.6,620.2 369.3,624.9 370.0,628.9 370.7,622.0 371.3,612.5 372.0,617.3 372.7,615.8 373.4,626.3 374.1,624.5 374.8,624.3 375.5,621.0 376.2,618.1 376.9,618.2 377.6,618.0 378.3,621.7 379.0,617.8 379.7,608.3 380.4,610.4 381.1,619.4 381.7,618.8 382.4,624.4 383.1,626.4 383.8,619.2 384.5,611.5 385.2,613.2 385.9,611.1 386.6,621.5 387.3,619.3 388.0,618.8 388.7,621.3 389.4,623.6 390.1,615.5 390.8,621.1 391.4,621.5 392.1,616.3 392.8,616.6 393.5,618.1 394.2,614.5 394.9,619.7 395.6,619.3 396.3,616.7 397.0,620.4 397.7,620.2 398.4,616.1 399.1,618.6 399.8,619.5 400.5,618.3 401.2,607.4 401.8,609.0 402.5,624.2 403.2,628.5 403.9,625.9 404.6,624.6 405.3,626.9 406.0,623.6 406.7,622.4 407.4,613.2 408.1,614.7 408.8,615.1 409.5,615.5 410.2,609.3 410.9,616.5 411.5,611.7 412.2,613.5 412.9,611.0 413.6,606.6 414.3,611.5 415.0,616.4 415.7,620.2 416.4,616.3 417.1,619.3 417.8,616.4 418.5,612.7 419.2,615.6 419.9,625.1 420.6,615.8 421.2,618.0 421.9,615.7 422.6,613.0 423.3,617.0 424.0,618.7 424.7,611.5 425.4,618.4 426.1,613.2 426.8,616.2 427.5,619.4 428.2,618.9 428.9,619.5 429.6,616.2 430.3,620.8 431.0,612.8 431.6,611.2 432.3,617.2 433.0,620.5 433.7,615.6 434.4,616.4 435.1,608.8 435.8,606.4 436.5,610.2 437.2,610.8 437.9,604.9 438.6,614.4 439.3,616.5 440.0,624.3 440.7,623.2 441.3,632.2 442.0,621.4 442.7,621.5 443.4,620.7 444.1,614.6 444.8,617.7 445.5,609.1 446.2,609.9 446.9,616.0 447.6,617.7 448.3,617.0 449.0,615.9 449.7,613.3 450.4,612.4 451.1,607.8 451.7,604.0 452.4,611.7 453.1,611.6 453.8,615.8 454.5,616.0 455.2,620.0 455.9,615.8 456.6,622.1 457.3,620.9 458.0,622.3 458.7,611.7 459.4,618.3 460.1,607.2 460.8,604.5 461.4,604.5 462.1,603.5 462.8,606.5 463.5,605.4 464.2,603.3 464.9,606.3 465.6,610.9 466.3,617.6 467.0,617.8 467.7,612.5 468.4,616.2 469.1,622.6 469.8,625.5 470.5,623.3 471.1,625.3 471.8,622.9 472.5,623.5 473.2,617.3 473.9,623.3 474.6,624.9 475.3,620.9 476.0,627.5 476.7,623.3 477.4,617.7 478.1,616.9 478.8,618.7 479.5,616.4 480.2,613.9 480.9,614.9 481.5,617.0 482.2,619.1 482.9,612.0 483.6,602.6 484.3,609.2 485.0,604.7 485.7,608.1 486.4,613.7 487.1,614.6 487.8,618.9 488.5,621.7 489.2,618.3 489.9,611.5 490.6,616.1 491.2,619.0 491.9,618.9 492.6,617.7 493.3,613.2 494.0,619.6 494.7,617.4 495.4,620.9 496.1,615.1 496.8,622.4 497.5,626.1 498.2,620.5 498.9,618.2 499.6,618.8 500.3,623.5 501.0,619.7 501.6,618.0 502.3,619.3 503.0,618.1 503.7,615.5 504.4,609.3 505.1,614.1 505.8,620.0 506.5,623.5 507.2,625.9 507.9,622.1 508.6,623.7 509.3,616.0 510.0,615.2 510.7,613.0 511.3,616.3 512.0,619.0 512.7,621.9 513.4,617.0 514.1,607.8 514.8,614.0 515.5,612.1 516.2,611.4 516.9,615.6 517.6,612.1 518.3,613.3 519.0,618.2 519.7,617.7 520.4,614.7 521.1,616.9 521.7,615.3 522.4,620.4 523.1,617.6 523.8,613.4 524.5,605.4 525.2,615.6 525.9,618.7 526.6,620.0 527.3,622.0 528.0,618.3 528.7,618.5 529.4,614.9 530.1,616.2 530.8,613.0 531.4,616.3 532.1,609.8 532.8,612.0 533.5,613.7 534.2,608.4 534.9,608.9 535.6,608.4 536.3,612.2 537.0,610.4 537.7,611.0 538.4,612.3 539.1,617.1 539.8,616.0 540.5,617.3 541.1,622.6 541.8,624.5 542.5,621.8 543.2,611.1 543.9,610.3 544.6,612.2 545.3,612.7 546.0,607.6 546.7,613.6 547.4,616.0 548.1,618.4 548.8,618.1 549.5,620.9 550.2,614.9 550.9,614.8 551.5,620.4 552.2,625.3 552.9,623.3 553.6,625.9 554.3,625.9 555.0,624.6 555.7,621.3 556.4,615.1 557.1,616.6 557.8,618.3 558.5,614.6 559.2,609.9 559.9,610.1 560.6,612.8 561.2,607.6 561.9,612.9 562.6,608.3 563.3,615.8 564.0,616.6 564.7,616.1 565.4,619.8 566.1,616.2 566.8,617.3 567.5,616.3 568.2,618.2 568.9,605.9 569.6,610.4 570.3,611.3 571.0,613.8 571.6,617.9 572.3,623.0 573.0,617.8 573.7,613.4 574.4,619.2 575.1,624.6 575.8,621.2 576.5,620.3 577.2,618.0 577.9,613.1 578.6,615.3 579.3,611.5 580.0,608.5 580.7,619.4 581.3,618.1 582.0,620.8 582.7,613.9 583.4,616.8 584.1,615.6 584.8,609.3 585.5,609.8 586.2,612.8 586.9,616.2 587.6,619.3 588.3,621.1 589.0,616.6 589.7,622.0 590.4,617.9 591.0,622.1 591.7,615.6 592.4,608.5 593.1,608.2 593.8,614.4 594.5,618.5 595.2,622.5 595.9,620.3 596.6,624.0 597.3,623.9 598.0,619.3 598.7,617.8 599.4,619.2 600.1,609.4 600.8,614.1 601.4,613.8 602.1,610.0 602.8,617.4 603.5,622.1 604.2,620.8 604.9,615.9 605.6,614.5 606.3,618.0 607.0,622.9 607.7,618.4 608.4,603.3 609.1,614.0 609.8,612.1 610.5,612.3 611.1,608.3 611.8,609.8 612.5,608.2 613.2,617.7 613.9,614.6 614.6,616.2 615.3,615.1 616.0,614.8 616.7,616.5 617.4,614.4 618.1,616.2 618.8,613.1 619.5,613.6 620.2,618.7 620.9,618.7 621.5,613.9 622.2,612.1 622.9,616.0 623.6,608.5 624.3,618.8 625.0,613.5 625.7,618.4 626.4,617.4 627.1,605.6 627.8,616.2 628.5,613.4 629.2,605.8 629.9,615.8 630.6,614.8 631.2,614.9 631.9,621.6 632.6,613.2 633.3,622.2 634.0,620.1 634.7,621.8 635.4,617.3 636.1,618.7 636.8,613.5 637.5,610.0 638.2,621.4 638.9,625.3 639.6,628.6 640.3,626.2 641.0,623.9 641.6,628.1 642.3,621.4 643.0,627.5 643.7,632.9 644.4,629.7 645.1,631.2" fill="none" stroke="#2f7e8e" stroke-width="1.25" stroke-linejoin="round"/>
<polyline points="326.3,619.6 327.0,625.5 327.7,608.1 328.4,598.2 329.1,596.2 329.8,596.2 330.5,587.5 331.2,585.3 331.8,606.9 332.5,594.4 333.2,593.0 333.9,587.1 334.6,593.4 335.3,589.0 336.0,584.4 336.7,581.1 337.4,578.2 338.1,581.5 338.8,580.9 339.5,591.0 340.2,596.2 340.9,602.0 341.5,595.6 342.2,587.2 342.9,564.0 343.6,586.6 344.3,589.3 345.0,584.7 345.7,591.6 346.4,598.7 347.1,592.9 347.8,601.6 348.5,587.1 349.2,585.9 349.9,576.4 350.6,585.6 351.3,591.7 351.9,593.8 352.6,600.3 353.3,592.4 354.0,582.0 354.7,569.3 355.4,576.5 356.1,585.3 356.8,580.5 357.5,600.7 358.2,589.2 358.9,593.3 359.6,591.5 360.3,585.4 361.0,570.5 361.6,573.4 362.3,599.6 363.0,582.5 363.7,595.8 364.4,587.8 365.1,579.0 365.8,583.0 366.5,594.1 367.2,588.1 367.9,596.5 368.6,595.5 369.3,600.8 370.0,581.3 370.7,579.3 371.3,565.8 372.0,568.9 372.7,590.2 373.4,598.0 374.1,591.1 374.8,590.6 375.5,602.2 376.2,596.2 376.9,592.3 377.6,591.1 378.3,582.6 379.0,582.1 379.7,569.4 380.4,576.3 381.1,595.3 381.7,572.6 382.4,595.8 383.1,587.4 383.8,592.3 384.5,587.6 385.2,585.5 385.9,592.7 386.6,591.3 387.3,585.8 388.0,586.7 388.7,587.2 389.4,592.1 390.1,572.9 390.8,587.5 391.4,586.1 392.1,572.8 392.8,582.9 393.5,578.4 394.2,584.1 394.9,584.5 395.6,589.5 396.3,585.1 397.0,589.5 397.7,593.4 398.4,592.9 399.1,591.9 399.8,594.5 400.5,591.2 401.2,580.3 401.8,582.2 402.5,593.8 403.2,600.1 403.9,589.3 404.6,594.5 405.3,593.9 406.0,591.5 406.7,592.3 407.4,577.8 408.1,584.5 408.8,576.6 409.5,580.0 410.2,571.7 410.9,585.9 411.5,579.9 412.2,584.9 412.9,583.5 413.6,567.2 414.3,571.0 415.0,575.3 415.7,592.1 416.4,581.7 417.1,592.4 417.8,584.4 418.5,576.0 419.2,578.7 419.9,597.3 420.6,581.5 421.2,584.3 421.9,587.9 422.6,579.4 423.3,575.1 424.0,573.2 424.7,578.3 425.4,587.3 426.1,579.8 426.8,586.7 427.5,596.6 428.2,600.0 428.9,601.1 429.6,587.3 430.3,596.5 431.0,585.2 431.6,582.4 432.3,580.4 433.0,594.8 433.7,592.2 434.4,588.6 435.1,577.1 435.8,576.3 436.5,574.7 437.2,571.4 437.9,563.6 438.6,572.3 439.3,571.3 440.0,583.2 440.7,583.3 441.3,595.5 442.0,577.0 442.7,575.2 443.4,584.4 444.1,583.2 444.8,583.0 445.5,584.3 446.2,589.3 446.9,588.7 447.6,580.9 448.3,588.9 449.0,572.9 449.7,564.8 450.4,559.4 451.1,564.9 451.7,557.6 452.4,577.5 453.1,570.0 453.8,580.2 454.5,576.2 455.2,576.1 455.9,583.5 456.6,592.1 457.3,591.1 458.0,604.0 458.7,583.4 459.4,581.6 460.1,582.1 460.8,571.7 461.4,579.7 462.1,573.5 462.8,580.5 463.5,574.8 464.2,570.6 464.9,579.4 465.6,585.2 466.3,591.5 467.0,587.1 467.7,574.7 468.4,576.4 469.1,582.9 469.8,593.4 470.5,588.4 471.1,573.5 471.8,573.5 472.5,583.7 473.2,568.3 473.9,582.8 474.6,598.8 475.3,596.4 476.0,607.5 476.7,594.3 477.4,591.9 478.1,578.9 478.8,580.1 479.5,579.0 480.2,566.4 480.9,566.1 481.5,567.8 482.2,582.3 482.9,571.0 483.6,556.8 484.3,572.9 485.0,572.2 485.7,575.2 486.4,587.1 487.1,583.3 487.8,597.4 488.5,592.3 489.2,591.7 489.9,599.0 490.6,594.3 491.2,590.8 491.9,586.3 492.6,588.2 493.3,587.7 494.0,594.1 494.7,586.8 495.4,591.2 496.1,590.7 496.8,600.0 497.5,610.0 498.2,600.3 498.9,600.0 499.6,595.1 500.3,596.1 501.0,589.6 501.6,579.3 502.3,581.5 503.0,580.3 503.7,575.9 504.4,575.5 505.1,574.3 505.8,594.1 506.5,598.6 507.2,600.2 507.9,591.0 508.6,592.7 509.3,584.9 510.0,578.7 510.7,577.8 511.3,587.5 512.0,601.6 512.7,601.6 513.4,594.2 514.1,581.5 514.8,579.1 515.5,581.0 516.2,585.4 516.9,582.2 517.6,582.3 518.3,579.1 519.0,577.9 519.7,578.4 520.4,584.7 521.1,578.5 521.7,589.1 522.4,596.3 523.1,595.0 523.8,580.9 524.5,565.3 525.2,590.0 525.9,580.6 526.6,585.1 527.3,583.8 528.0,584.2 528.7,588.8 529.4,579.8 530.1,573.9 530.8,568.4 531.4,589.8 532.1,578.5 532.8,580.7 533.5,586.7 534.2,577.8 534.9,578.3 535.6,574.7 536.3,575.0 537.0,568.5 537.7,569.3 538.4,571.1 539.1,576.3 539.8,577.9 540.5,585.4 541.1,596.1 541.8,589.3 542.5,577.8 543.2,576.6 543.9,568.9 544.6,561.1 545.3,570.5 546.0,562.9 546.7,578.2 547.4,582.8 548.1,577.5 548.8,575.6 549.5,579.7 550.2,575.7 550.9,574.4 551.5,581.5 552.2,590.2 552.9,584.7 553.6,590.6 554.3,587.5 555.0,586.6 555.7,574.8 556.4,575.9 557.1,576.1 557.8,590.8 558.5,583.5 559.2,571.7 559.9,581.8 560.6,582.5 561.2,575.2 561.9,571.5 562.6,574.2 563.3,572.0 564.0,563.5 564.7,557.8 565.4,559.7 566.1,565.8 566.8,562.4 567.5,562.6 568.2,572.6 568.9,563.1 569.6,556.9 570.3,561.1 571.0,561.5 571.6,570.5 572.3,574.9 573.0,574.2 573.7,570.2 574.4,573.1 575.1,587.8 575.8,587.2 576.5,578.0 577.2,573.1 577.9,564.6 578.6,574.4 579.3,571.6 580.0,564.4 580.7,575.5 581.3,566.5 582.0,576.8 582.7,568.4 583.4,577.1 584.1,586.8 584.8,567.9 585.5,567.5 586.2,564.0 586.9,572.5 587.6,575.1 588.3,577.6 589.0,584.1 589.7,583.4 590.4,580.1 591.0,581.0 591.7,570.8 592.4,556.4 593.1,564.2 593.8,558.1 594.5,580.2 595.2,584.1 595.9,577.6 596.6,579.8 597.3,588.6 598.0,578.5 598.7,573.7 599.4,574.0 600.1,568.2 600.8,570.3 601.4,562.4 602.1,566.2 602.8,575.8 603.5,581.3 604.2,582.1 604.9,571.5 605.6,577.6 606.3,582.5 607.0,587.3 607.7,569.1 608.4,559.6 609.1,584.4 609.8,586.2 610.5,577.4 611.1,578.7 611.8,577.6 612.5,571.3 613.2,585.6 613.9,578.8 614.6,576.1 615.3,572.4 616.0,569.2 616.7,574.3 617.4,578.9 618.1,579.4 618.8,582.2 619.5,577.3 620.2,585.7 620.9,585.3 621.5,575.5 622.2,579.2 622.9,582.2 623.6,562.2 624.3,587.3 625.0,580.4 625.7,579.9 626.4,587.2 627.1,549.8 627.8,562.9 628.5,557.2 629.2,553.1 629.9,565.9 630.6,571.6 631.2,572.2 631.9,572.6 632.6,577.1 633.3,597.5 634.0,588.9 634.7,585.7 635.4,575.7 636.1,565.2 636.8,564.5 637.5,567.4 638.2,595.8 638.9,598.4 639.6,596.9 640.3,602.3 641.0,592.6 641.6,592.9 642.3,588.4 643.0,591.2 643.7,598.5 644.4,590.5 645.1,594.4" fill="none" stroke="#7d1a9e" stroke-width="1.25" stroke-linejoin="round"/>
<rect x="324.2" y="638.7" width="3.8" height="3.8" fill="#fffbe0" stroke="#555" stroke-width="0.4"/>
<text x="331.0" y="642.4" font-size="7.2" textLength="38.0" lengthAdjust="spacingAndGlyphs">Non-coding</text>
<rect x="324.2" y="646.4" width="3.8" height="3.8" fill="#b03a66"/>
<text x="331.0" y="650.2" font-size="7.2" textLength="33.5" lengthAdjust="spacingAndGlyphs">rRNA gene</text>
<rect x="324.2" y="654.0" width="3.8" height="3.8" fill="#0d5a0d"/>
<text x="331.0" y="657.9" font-size="7.2" textLength="33.5" lengthAdjust="spacingAndGlyphs">tRNA gene</text>
<rect x="372.8" y="647.0" width="3.8" height="3.8" fill="#87ceeb" stroke="#555" stroke-width="0.3"/>
<rect x="372.8" y="654.4" width="3.8" height="3.8" fill="#0a0a80"/>
<line x1="379.6" y1="646.0" x2="379.6" y2="658.4" stroke="#222" stroke-width="0.8"/>
<text x="382.0" y="654.0" font-size="7.2" textLength="67.8" lengthAdjust="spacingAndGlyphs">Protein-coding genes</text>
<rect x="327.0" y="662.0" width="1.5" height="4.5" fill="#0d5a0d"/>
<rect x="328.5" y="662.0" width="17.5" height="4.5" fill="#b03a66"/>
<rect x="346.0" y="662.0" width="1.5" height="4.5" fill="#0d5a0d"/>
<rect x="347.5" y="662.0" width="31.5" height="4.5" fill="#b03a66"/>
<rect x="379.0" y="662.0" width="1.5" height="4.5" fill="#0d5a0d"/>
<rect x="380.5" y="662.0" width="18.4" height="4.5" fill="#87ceeb"/>
<rect x="398.9" y="662.0" width="4.2" height="4.5" fill="#0d5a0d"/>
<rect x="403.1" y="662.0" width="19.9" height="4.5" fill="#87ceeb"/>
<rect x="423.0" y="662.0" width="7.4" height="4.5" fill="#0d5a0d"/>
<rect x="430.4" y="662.0" width="29.8" height="4.5" fill="#87ceeb"/>
<rect x="460.2" y="662.0" width="3.2" height="4.5" fill="#0d5a0d"/>
<rect x="463.4" y="662.0" width="13.4" height="4.5" fill="#87ceeb"/>
<rect x="476.8" y="662.0" width="2.0" height="4.5" fill="#0d5a0d"/>
<rect x="478.8" y="662.0" width="3.7" height="4.5" fill="#87ceeb"/>
<rect x="482.5" y="662.0" width="12.4" height="4.5" fill="#0a0a80"/>
<rect x="494.9" y="662.0" width="14.9" height="4.5" fill="#87ceeb"/>
<rect x="509.8" y="662.0" width="1.7" height="4.5" fill="#0d5a0d"/>
<rect x="511.5" y="662.0" width="6.2" height="4.5" fill="#87ceeb"/>
<rect x="517.7" y="662.0" width="1.3" height="4.5" fill="#0d5a0d"/>
<rect x="519.0" y="662.0" width="6.9" height="4.5" fill="#0a0a80"/>
<rect x="525.9" y="662.0" width="26.1" height="4.5" fill="#87ceeb"/>
<rect x="552.0" y="662.0" width="3.7" height="4.5" fill="#0d5a0d"/>
<rect x="555.7" y="662.0" width="35.5" height="4.5" fill="#87ceeb"/>
<rect x="591.2" y="662.0" width="10.4" height="4.5" fill="#0a0a80"/>
<rect x="601.6" y="662.0" width="1.4" height="4.5" fill="#0d5a0d"/>
<rect x="603.0" y="662.0" width="22.2" height="4.5" fill="#87ceeb"/>
<rect x="625.2" y="662.0" width="2.9" height="4.5" fill="#0d5a0d"/>
<rect x="628.1" y="662.0" width="16.2" height="4.5" fill="#fffbe0"/>
<rect x="327.0" y="662.0" width="317.3" height="4.5" fill="none" stroke="#444" stroke-width="0.5"/>
<text x="224.4" y="709.4" font-size="16" fill="#000" font-weight="bold" stroke="#000" stroke-width="0.55">h</text>
<circle cx="305.3" cy="750.9" r="37.9" fill="#c0c0c0"/>
<path d="M305.3 750.9L273.56 730.19A37.9 37.9 0 0 1 305.30 713.00Z" fill="#79cc4f"/>
<path d="M305.3 750.9L324.42 718.18M305.3 750.9L336.31 729.11M305.3 750.9L341.68 740.27M305.3 750.9L343.20 750.64M305.3 750.9L341.73 761.35M305.3 750.9L337.78 770.42M305.3 750.9L330.61 779.11M305.3 750.9L323.61 784.08M305.3 750.9L317.19 786.89M305.3 750.9L303.37 788.75M305.3 750.9L287.97 784.60M305.3 750.9L283.99 782.24M305.3 750.9L279.01 778.20M305.3 750.9L275.07 773.75M305.3 750.9L270.67 766.31M305.3 750.9L267.89 756.95M305.3 750.9L267.77 745.61M305.3 750.9L268.63 741.33M305.3 750.9L272.29 732.28M305.3 750.9L305.30 713.00M305.3 750.9L273.56 730.19" fill="none" stroke="#2a2a2a" stroke-width="0.55"/>
<circle cx="305.3" cy="750.9" r="37.9" fill="none" stroke="#4a4a4a" stroke-width="0.6"/>
<circle cx="305.3" cy="750.9" r="1.2" fill="#111"/>
<circle cx="445.0" cy="749.2" r="38.1" fill="#c0c0c0"/>
<path d="M445.0 749.2L408.10 739.72A38.1 38.1 0 0 1 445.00 711.10Z" fill="#2a7a8e"/>
<path d="M445.0 749.2L463.14 715.70M445.0 749.2L474.82 725.49M445.0 749.2L480.61 735.64M445.0 749.2L482.90 745.27M445.0 749.2L482.58 755.46M445.0 749.2L479.93 764.41M445.0 749.2L474.37 773.48M445.0 749.2L468.57 779.13M445.0 749.2L463.05 782.75M445.0 749.2L450.56 786.89M445.0 749.2L435.51 786.10M445.0 749.2L431.36 784.77M445.0 749.2L425.90 782.17M445.0 749.2L421.27 779.00M445.0 749.2L415.47 773.27M445.0 749.2L410.55 765.48M445.0 749.2L407.38 755.26M445.0 749.2L406.95 751.17M445.0 749.2L407.59 741.98M445.0 749.2L445.00 711.10M445.0 749.2L408.10 739.72" fill="none" stroke="#2a2a2a" stroke-width="0.55"/>
<circle cx="445.0" cy="749.2" r="38.1" fill="none" stroke="#4a4a4a" stroke-width="0.6"/>
<circle cx="445.0" cy="749.2" r="1.2" fill="#111"/>
<circle cx="604.2" cy="748.9" r="38.9" fill="#c0c0c0"/>
<path d="M604.2 748.9L618.52 785.07A38.9 38.9 0 1 1 604.20 710.00Z" fill="#700a90"/>
<path d="M604.2 748.9L614.81 711.48M604.2 748.9L622.88 714.78M604.2 748.9L628.42 718.46M604.2 748.9L632.57 722.28M604.2 748.9L636.22 726.81M604.2 748.9L638.93 731.38M604.2 748.9L641.23 736.99M604.2 748.9L642.38 741.45M604.2 748.9L642.92 745.17M604.2 748.9L642.92 752.68M604.2 748.9L641.14 761.10M604.2 748.9L640.28 763.43M604.2 748.9L638.86 766.57M604.2 748.9L637.29 769.35M604.2 748.9L634.62 773.15M604.2 748.9L631.08 777.02M604.2 748.9L626.35 780.87M604.2 748.9L624.39 782.15M604.2 748.9L619.73 784.56M604.2 748.9L604.20 710.00M604.2 748.9L618.52 785.07" fill="none" stroke="#2a2a2a" stroke-width="0.55"/>
<circle cx="604.2" cy="748.9" r="38.9" fill="none" stroke="#4a4a4a" stroke-width="0.6"/>
<circle cx="604.2" cy="748.9" r="1.2" fill="#111"/>
<circle cx="519.8" cy="791.4" r="38.2" fill="#700a90"/>
<line x1="519.8" y1="791.4" x2="519.8" y2="753.2" stroke="#111" stroke-width="0.8"/>
<text x="275.4" y="710.2" font-size="10.2" text-anchor="middle" fill="#79cc4f" textLength="31.7" lengthAdjust="spacingAndGlyphs">mtDNA</text>
<text x="317.5" y="710.6" font-size="9.2" text-anchor="middle" textLength="17.1" lengthAdjust="spacingAndGlyphs">Chr1</text>
<text x="334.0" y="722.8" font-size="8.8" text-anchor="middle">2</text>
<text x="345.0" y="737.6" font-size="8.8" text-anchor="middle">3</text>
<text x="348.5" y="747.6" font-size="8.8" text-anchor="middle">4</text>
<text x="347.8" y="759.3" font-size="8.8" text-anchor="middle">5</text>
<text x="344.5" y="770.1" font-size="8.8" text-anchor="middle">6</text>
<text x="339.6" y="780.6" font-size="8.8" text-anchor="middle">7</text>
<text x="331.0" y="789.6" font-size="8.8" text-anchor="middle">8</text>
<text x="322.8" y="793.2" font-size="8.8" text-anchor="middle">9</text>
<text x="309.5" y="796.1" font-size="8.8" text-anchor="middle">10</text>
<text x="296.0" y="795.6" font-size="8.8" text-anchor="middle">11</text>
<text x="285.5" y="792.6" font-size="8.8" text-anchor="middle">12</text>
<text x="276.3" y="787.6" font-size="8.8" text-anchor="middle">13</text>
<text x="270.4" y="780.7" font-size="8.8" text-anchor="middle">14</text>
<text x="266.6" y="772.6" font-size="8.8" text-anchor="middle">15</text>
<text x="263.0" y="763.0" font-size="8.8" text-anchor="middle">16</text>
<text x="262.7" y="754.1" font-size="8.8" text-anchor="middle">17</text>
<text x="263.5" y="746.1" font-size="8.8" text-anchor="middle">18</text>
<text x="264.6" y="738.6" font-size="8.8" text-anchor="middle">19</text>
<text x="269.3" y="730.1" font-size="8.8" text-anchor="middle">X</text>
<text x="290.3" y="732.6" font-size="9.6" text-anchor="middle" fill="#222">15.8%</text>
<text x="304.6" y="765.6" font-size="9.2" text-anchor="middle" fill="#333">72 million</text>
<text x="304.6" y="775.1" font-size="9.2" text-anchor="middle" fill="#333">read pairs</text>
<text x="411.9" y="710.9" font-size="10.2" text-anchor="middle" fill="#2a7a8e" textLength="32.0" lengthAdjust="spacingAndGlyphs">mtDNA</text>
<text x="426.8" y="737.6" font-size="9.6" text-anchor="middle" fill="#fff">21.0%</text>
<text x="447.8" y="765.9" font-size="9.2" text-anchor="middle" fill="#333">95 million</text>
<text x="445.0" y="775.3" font-size="9.2" text-anchor="middle" fill="#333">read pairs</text>
<line x1="351.5" y1="743.6" x2="399.5" y2="743.6" stroke="#111" stroke-width="0.9"/>
<path d="M403.2 743.6L398.5 741.6V745.6Z" fill="#111"/>
<text x="377.0" y="729.0" font-size="8.9" text-anchor="middle">NUMT</text>
<text x="377.0" y="738.2" font-size="8.9" text-anchor="middle">masking</text>
<text x="565.6" y="710.6" font-size="10.2" text-anchor="middle" fill="#700a90" textLength="32.4" lengthAdjust="spacingAndGlyphs">mtDNA</text>
<text x="585.4" y="741.2" font-size="9.6" text-anchor="middle" fill="#fff">56.0%</text>
<text x="607.2" y="767.0" font-size="9.2" text-anchor="middle" fill="#fff">454 million</text>
<text x="607.2" y="777.4" font-size="9.2" text-anchor="middle" fill="#fff">read pairs</text>
<text x="534.5" y="791.6" font-size="9.6" text-anchor="middle" fill="#fff">99.9%</text>
<text x="521.0" y="810.4" font-size="9.2" text-anchor="middle" fill="#fff">359 million</text>
<text x="521.0" y="820.3" font-size="9.2" text-anchor="middle" fill="#fff">read pairs</text>
<text x="575.3" y="792.3" font-size="9.6" text-anchor="middle" fill="#700a90" textLength="27.8" lengthAdjust="spacingAndGlyphs">mtDNA</text>
<line x1="490.0" y1="743.5" x2="554.0" y2="743.5" stroke="#111" stroke-width="0.9"/>
<path d="M557.6 743.5L552.6 741.5V745.5Z" fill="#111"/>
<path d="M534.6,754.7 V750 C534.6,745.5 537.5,743.5 543,743.5" fill="none" stroke="#111" stroke-width="0.9"/>
<text x="524.0" y="728.4" font-size="8.9" text-anchor="middle" textLength="27.3" lengthAdjust="spacingAndGlyphs">mtDNA</text>
<text x="523.8" y="738.3" font-size="8.9" text-anchor="middle" textLength="44.1" lengthAdjust="spacingAndGlyphs">enrichment</text>
<text x="224.0" y="845.1" font-size="16" fill="#000" font-weight="bold" stroke="#000" stroke-width="0.55">i</text>
<text x="292.5" y="846.1" font-size="9.3" textLength="130.3" lengthAdjust="spacingAndGlyphs">Increase in mtDNA coverage</text>
<path d="M334.5 850.5V945.7M382.4 850.5V945.7M430.3 850.5V945.7M286.6 922.9H436M286.6 900.1H436M286.6 877.4H436M286.6 854.6H436" fill="none" stroke="#ebebeb" stroke-width="0.8"/>
<path d="M310.6 850.5V945.7M358.5 850.5V945.7M406.4 850.5V945.7M286.6 934.3H436M286.6 911.5H436M286.6 888.8H436M286.6 866.0H436" fill="none" stroke="#f4f4f4" stroke-width="0.6"/>
<line x1="276.8" y1="945.7" x2="436.0" y2="945.7" stroke="#bdbdbd" stroke-width="1.5"/>
<line x1="286.6" y1="850.1" x2="286.6" y2="952.3" stroke="#555" stroke-width="0.9"/>
<line x1="277.2" y1="945.7" x2="279.8" y2="945.7" stroke="#555" stroke-width="0.8"/>
<text x="272.8" y="949.1" font-size="9.3" text-anchor="end">0</text>
<line x1="277.2" y1="922.9" x2="279.8" y2="922.9" stroke="#555" stroke-width="0.8"/>
<text x="272.8" y="926.3" font-size="9.3" text-anchor="end">50</text>
<line x1="277.2" y1="900.1" x2="279.8" y2="900.1" stroke="#555" stroke-width="0.8"/>
<text x="272.8" y="903.5" font-size="9.3" text-anchor="end">100</text>
<line x1="277.2" y1="877.4" x2="279.8" y2="877.4" stroke="#555" stroke-width="0.8"/>
<text x="272.8" y="880.8" font-size="9.3" text-anchor="end">150</text>
<line x1="277.2" y1="854.6" x2="279.8" y2="854.6" stroke="#555" stroke-width="0.8"/>
<text x="272.8" y="858.0" font-size="9.3" text-anchor="end">200</text>
<text x="286.6" y="963.0" font-size="9.3" text-anchor="middle">0</text>
<line x1="334.5" y1="947.0" x2="334.5" y2="951.0" stroke="#bdbdbd" stroke-width="0.9"/>
<text x="334.5" y="963.0" font-size="9.3" text-anchor="middle">100</text>
<line x1="382.4" y1="947.0" x2="382.4" y2="951.0" stroke="#bdbdbd" stroke-width="0.9"/>
<text x="382.4" y="963.0" font-size="9.3" text-anchor="middle">200</text>
<line x1="430.3" y1="947.0" x2="430.3" y2="951.0" stroke="#bdbdbd" stroke-width="0.9"/>
<text x="430.3" y="963.0" font-size="9.3" text-anchor="middle">300</text>
<text x="305.0" y="979.4" font-size="9.3" textLength="105.7" lengthAdjust="spacingAndGlyphs">Initial mtDNA coverage</text>
<text x="240.0" y="901.4" font-size="9.4" text-anchor="middle" textLength="79.0" lengthAdjust="spacingAndGlyphs" transform="rotate(-90 240.0 901.4)">Increase in mtDNA</text>
<text x="252.2" y="898.9" font-size="9.4" text-anchor="middle" textLength="40.3" lengthAdjust="spacingAndGlyphs" transform="rotate(-90 252.2 898.9)">coverage</text>
<path d="M319.3 925.0h1.3M350.8 898.8h1.3M303.3 933.7h1.3M333.5 919.4h1.3M369.8 887.5h1.3M344.6 913.3h1.3M320.6 919.8h1.3M329.4 918.6h1.3M317.6 923.5h1.3M335.6 916.5h1.3M346.6 901.1h1.3M313.5 928.7h1.3M329.7 913.8h1.3M328.2 918.9h1.3M301.0 935.1h1.3M313.7 926.6h1.3M341.6 915.9h1.3M296.8 938.6h1.3M301.1 934.9h1.3M305.7 932.0h1.3M312.4 929.2h1.3M365.5 880.2h1.3M336.5 914.1h1.3M321.0 922.9h1.3M314.1 925.2h1.3M299.7 935.4h1.3M312.0 929.6h1.3M318.3 924.2h1.3M321.6 921.6h1.3M313.0 928.4h1.3M321.2 923.0h1.3M347.0 903.1h1.3M370.5 887.9h1.3M334.6 917.7h1.3M312.0 930.7h1.3M316.4 925.1h1.3M309.1 931.0h1.3M332.8 912.3h1.3M318.0 923.9h1.3M320.2 921.5h1.3M307.7 932.1h1.3M358.3 901.0h1.3M301.6 934.8h1.3M308.6 930.3h1.3M315.5 920.9h1.3M302.3 934.1h1.3M321.6 926.9h1.3M291.3 942.0h1.3M318.8 926.7h1.3M315.4 925.2h1.3M315.4 928.3h1.3M307.0 929.1h1.3M323.9 918.6h1.3M312.1 926.7h1.3M302.5 934.8h1.3M316.6 926.5h1.3M304.0 934.9h1.3M324.0 919.6h1.3M302.6 934.2h1.3M314.3 927.2h1.3M303.0 933.5h1.3M312.7 928.1h1.3M297.2 936.5h1.3M311.9 927.8h1.3M316.4 925.5h1.3M300.1 936.5h1.3M303.6 936.0h1.3M311.2 926.5h1.3M331.0 916.0h1.3M309.0 931.7h1.3M317.1 926.9h1.3M317.3 929.1h1.3M304.6 932.2h1.3M313.0 928.4h1.3M296.8 939.7h1.3M339.3 912.0h1.3M321.5 919.3h1.3M308.4 930.7h1.3M327.8 914.0h1.3M305.0 933.5h1.3M317.8 920.2h1.3M318.2 923.9h1.3M328.2 918.2h1.3M324.1 923.5h1.3M336.9 916.1h1.3M300.7 936.6h1.3M349.9 908.6h1.3M337.7 915.4h1.3M337.9 909.9h1.3M311.6 927.4h1.3M321.1 923.0h1.3M365.1 897.9h1.3M324.1 921.5h1.3M328.7 916.2h1.3M306.9 931.6h1.3M320.3 921.6h1.3M317.6 925.8h1.3M317.0 927.2h1.3M309.0 929.8h1.3M313.2 925.8h1.3M307.2 932.0h1.3M316.1 926.6h1.3M313.1 924.7h1.3M306.7 933.3h1.3M318.0 925.1h1.3M304.5 933.6h1.3M328.3 921.6h1.3M367.3 885.6h1.3M323.5 920.6h1.3M304.0 934.1h1.3M305.1 933.5h1.3M325.6 921.3h1.3M328.3 915.6h1.3M347.5 898.8h1.3M309.6 928.2h1.3M308.0 930.9h1.3M336.2 913.0h1.3M302.9 934.0h1.3M323.7 919.7h1.3M294.9 938.4h1.3M317.8 925.8h1.3M346.5 902.7h1.3M305.8 932.3h1.3M311.5 929.1h1.3M317.4 924.6h1.3M316.9 924.9h1.3M310.8 929.1h1.3M364.9 892.5h1.3M332.8 915.1h1.3M326.2 917.4h1.3M318.0 927.4h1.3M306.8 931.2h1.3M306.6 934.5h1.3M315.4 925.7h1.3M302.7 933.3h1.3M317.0 929.5h1.3M301.8 934.9h1.3M302.2 934.6h1.3M312.1 930.6h1.3M334.8 907.2h1.3M326.2 922.5h1.3M311.7 931.8h1.3M302.1 934.2h1.3M329.5 913.3h1.3M328.4 916.7h1.3M322.8 917.9h1.3M300.5 935.5h1.3M302.1 936.0h1.3M317.4 927.1h1.3M325.6 917.5h1.3M308.0 932.0h1.3M318.3 920.5h1.3M319.6 924.2h1.3M308.5 930.8h1.3M332.3 915.6h1.3M319.5 923.2h1.3M319.7 926.6h1.3M328.1 916.3h1.3M342.0 912.8h1.3M324.1 921.7h1.3M310.8 930.7h1.3M315.4 925.9h1.3M327.6 924.7h1.3M311.1 929.1h1.3M311.6 927.5h1.3M318.0 923.4h1.3M341.9 907.8h1.3M321.4 919.3h1.3M330.3 919.1h1.3M318.7 924.3h1.3M319.4 925.5h1.3M306.8 931.5h1.3M317.2 922.2h1.3M313.3 926.3h1.3M319.0 922.2h1.3M309.5 930.8h1.3M314.5 924.9h1.3M318.4 922.9h1.3M315.3 926.3h1.3M325.8 916.3h1.3M331.1 915.8h1.3M305.5 929.2h1.3M310.0 931.2h1.3M316.3 925.1h1.3M338.3 907.5h1.3M328.9 916.8h1.3M318.5 925.0h1.3M329.8 918.7h1.3M330.5 916.1h1.3M328.4 914.5h1.3M300.0 936.2h1.3M304.6 933.4h1.3M315.9 927.2h1.3M313.1 926.0h1.3M308.5 931.9h1.3M309.0 930.6h1.3M302.1 936.9h1.3M302.5 935.4h1.3M330.5 917.1h1.3M318.4 924.3h1.3M332.3 911.9h1.3M358.2 894.8h1.3M327.9 915.4h1.3M316.7 924.2h1.3M312.2 927.4h1.3M366.6 894.7h1.3M307.0 933.7h1.3M319.8 924.1h1.3M321.9 920.6h1.3M318.1 921.9h1.3M308.4 931.3h1.3M305.0 932.5h1.3M335.8 911.0h1.3M359.0 902.7h1.3M316.8 923.9h1.3M327.1 914.5h1.3M312.0 926.9h1.3M324.9 917.2h1.3M325.1 922.1h1.3M346.7 899.3h1.3M309.1 929.4h1.3M315.0 926.4h1.3M344.9 904.6h1.3M315.8 925.5h1.3M321.2 923.5h1.3M323.7 923.2h1.3M320.8 922.4h1.3M317.6 927.0h1.3M323.0 923.7h1.3M307.3 931.6h1.3M317.0 924.0h1.3M310.2 930.5h1.3M314.5 926.3h1.3M321.8 925.0h1.3M329.0 919.7h1.3M313.5 927.8h1.3M313.9 928.2h1.3M317.2 924.1h1.3M307.4 931.8h1.3M314.2 927.0h1.3M305.0 931.0h1.3M309.6 930.4h1.3M320.0 921.7h1.3M313.8 926.9h1.3M317.4 926.1h1.3M310.0 928.1h1.3M310.4 930.5h1.3M301.9 931.5h1.3M308.3 928.1h1.3M308.8 928.3h1.3M338.0 915.0h1.3M315.2 929.2h1.3M346.7 903.6h1.3M320.4 918.9h1.3M312.7 927.5h1.3M319.8 922.9h1.3M311.6 927.1h1.3M316.9 922.3h1.3M350.2 894.7h1.3M298.4 937.1h1.3M296.2 939.0h1.3M312.1 925.6h1.3M315.8 926.2h1.3M312.6 930.0h1.3M327.6 918.7h1.3M315.6 928.8h1.3M317.7 923.0h1.3M362.3 888.3h1.3M317.1 927.8h1.3M301.4 935.7h1.3M313.0 926.0h1.3M311.4 927.4h1.3M321.2 922.3h1.3M327.1 920.6h1.3M303.6 933.3h1.3M312.7 929.0h1.3M309.6 927.6h1.3M315.5 925.6h1.3M321.7 919.4h1.3M323.2 923.6h1.3M305.8 934.0h1.3M352.0 903.2h1.3M310.0 929.7h1.3M306.5 931.1h1.3M324.2 920.5h1.3M338.7 909.7h1.3M315.3 922.7h1.3M298.2 937.7h1.3M315.4 921.6h1.3M311.2 929.8h1.3M315.8 926.1h1.3M308.0 927.2h1.3M314.3 924.5h1.3M340.0 913.6h1.3M319.2 925.4h1.3M314.1 923.0h1.3M303.3 934.4h1.3M306.8 928.9h1.3M325.0 921.9h1.3M313.0 926.0h1.3M321.3 920.5h1.3M330.6 919.3h1.3M318.2 925.9h1.3M307.5 931.2h1.3M332.0 912.8h1.3M332.2 907.1h1.3M311.5 929.8h1.3M314.0 929.2h1.3M325.0 922.6h1.3M303.4 930.3h1.3M334.7 910.8h1.3M315.2 924.7h1.3M324.5 921.5h1.3M351.7 905.9h1.3M302.1 933.4h1.3M317.8 924.4h1.3M306.2 933.2h1.3M330.7 911.8h1.3M308.6 928.3h1.3M328.7 912.0h1.3M308.4 930.8h1.3M331.9 919.1h1.3M337.7 910.6h1.3M318.8 924.9h1.3M327.0 917.2h1.3M323.1 921.4h1.3M323.3 922.2h1.3M315.4 926.9h1.3M313.5 929.1h1.3M341.4 908.4h1.3M334.1 911.0h1.3M312.6 929.8h1.3M344.6 913.0h1.3M305.3 932.5h1.3M326.8 915.3h1.3M302.9 934.2h1.3M318.6 923.0h1.3M310.4 926.6h1.3M307.4 930.8h1.3M353.5 907.3h1.3M332.8 912.3h1.3M320.2 924.1h1.3M312.9 927.1h1.3M302.5 933.3h1.3M308.1 931.7h1.3M319.4 923.7h1.3M328.1 919.0h1.3M314.0 925.2h1.3M317.4 924.6h1.3M334.7 915.8h1.3M304.1 933.5h1.3M331.1 915.5h1.3M337.6 913.3h1.3M311.0 930.3h1.3M323.5 922.3h1.3M315.0 921.8h1.3M311.7 926.9h1.3M312.1 927.7h1.3M309.3 929.7h1.3M322.0 923.9h1.3M310.5 930.9h1.3M303.0 933.4h1.3M320.8 922.0h1.3M308.7 931.2h1.3M303.3 934.5h1.3M306.1 933.8h1.3M300.6 937.2h1.3M310.4 929.4h1.3M324.2 919.9h1.3M376.9 875.3h1.3M305.0 933.1h1.3M303.5 933.7h1.3M317.2 924.1h1.3M353.2 907.3h1.3M324.3 919.0h1.3M319.9 925.2h1.3M300.9 935.1h1.3M341.4 909.7h1.3M320.9 924.8h1.3M318.5 924.5h1.3M309.8 933.8h1.3M306.3 931.8h1.3M313.0 924.4h1.3M310.1 927.8h1.3M341.5 907.7h1.3M314.6 924.9h1.3M304.6 932.1h1.3M331.4 921.2h1.3M313.6 928.1h1.3M319.9 923.1h1.3M338.9 907.2h1.3M316.9 927.5h1.3M334.0 914.8h1.3M314.2 926.1h1.3M325.7 919.7h1.3M321.6 922.9h1.3M352.0 906.6h1.3M310.3 932.9h1.3M335.7 914.0h1.3M310.7 930.0h1.3M317.0 925.1h1.3M308.7 930.8h1.3M306.0 932.9h1.3M323.7 920.5h1.3M320.8 920.7h1.3M327.1 913.6h1.3M313.3 926.6h1.3M353.6 902.1h1.3M316.9 922.2h1.3M305.7 933.7h1.3M328.7 920.0h1.3M314.2 926.7h1.3M302.9 936.7h1.3M307.1 930.9h1.3M328.1 920.7h1.3M306.2 930.2h1.3M298.8 936.1h1.3M323.4 922.3h1.3M316.4 927.3h1.3M312.9 930.4h1.3M320.0 925.5h1.3M314.8 925.5h1.3M331.4 917.7h1.3M317.3 924.6h1.3M311.0 929.4h1.3M300.9 937.4h1.3M309.7 928.6h1.3M308.9 933.0h1.3M309.1 931.9h1.3M324.5 920.8h1.3M305.2 932.3h1.3M310.6 926.8h1.3M311.2 925.7h1.3M314.8 927.3h1.3M319.7 925.0h1.3M337.1 914.6h1.3M296.3 938.6h1.3M341.2 907.9h1.3M313.3 927.1h1.3M309.7 930.1h1.3M307.8 929.0h1.3M315.7 925.4h1.3M345.4 906.6h1.3M314.4 927.8h1.3M325.3 920.8h1.3M313.9 929.3h1.3M340.7 909.9h1.3M304.6 932.6h1.3M295.6 938.7h1.3M322.1 920.6h1.3M311.9 927.8h1.3M300.7 935.7h1.3M309.8 929.5h1.3M306.3 930.5h1.3M317.0 924.5h1.3M306.8 933.1h1.3M313.5 925.7h1.3M300.3 937.8h1.3M311.5 928.2h1.3M304.9 933.7h1.3M316.9 924.9h1.3M325.1 919.5h1.3M341.8 905.5h1.3M310.9 930.1h1.3M325.4 921.3h1.3M319.3 923.2h1.3M343.5 908.2h1.3M327.5 915.8h1.3M318.7 923.3h1.3M296.4 939.0h1.3M346.7 913.2h1.3M330.1 914.0h1.3M302.7 933.8h1.3M316.8 921.7h1.3M306.9 930.7h1.3M306.9 933.3h1.3M307.2 932.5h1.3M311.3 928.3h1.3M308.9 928.4h1.3M337.9 907.6h1.3M338.9 916.0h1.3M308.7 930.4h1.3M296.1 937.3h1.3M304.5 934.0h1.3M339.3 910.5h1.3M314.9 926.0h1.3M306.5 932.5h1.3M306.0 931.7h1.3M316.6 925.7h1.3M315.3 927.6h1.3M304.4 934.1h1.3M331.2 914.7h1.3M305.2 934.1h1.3M312.8 928.8h1.3M308.3 933.2h1.3M318.1 924.7h1.3M319.3 925.5h1.3M312.8 925.0h1.3M303.9 932.6h1.3M309.6 930.4h1.3M310.8 929.2h1.3M310.0 928.0h1.3M310.2 927.5h1.3M323.2 923.2h1.3M310.5 928.5h1.3M306.3 931.4h1.3M333.3 912.3h1.3M326.0 920.6h1.3M308.4 931.4h1.3M321.0 928.1h1.3M313.7 928.4h1.3M312.4 926.4h1.3M311.2 929.0h1.3M323.8 922.3h1.3M316.2 927.8h1.3M328.7 918.6h1.3M316.7 926.7h1.3M309.3 930.0h1.3M303.6 932.1h1.3M309.4 930.2h1.3M309.0 929.7h1.3M347.2 904.7h1.3M315.3 927.2h1.3M315.0 925.2h1.3M320.1 923.4h1.3M308.6 932.0h1.3M314.5 929.9h1.3M304.6 932.7h1.3M310.3 928.6h1.3M303.4 932.0h1.3M348.4 906.6h1.3M310.6 930.3h1.3M311.9 928.9h1.3M359.6 896.0h1.3M331.6 916.4h1.3M310.6 929.4h1.3M307.9 931.1h1.3M322.1 924.1h1.3M308.9 929.7h1.3M299.7 935.5h1.3M321.6 924.5h1.3M324.0 919.7h1.3M304.8 930.7h1.3M310.0 927.4h1.3M326.7 920.0h1.3M310.6 927.0h1.3M302.2 931.8h1.3M307.6 929.7h1.3M322.3 922.6h1.3M301.5 935.2h1.3M332.3 918.4h1.3M311.3 927.9h1.3M323.1 920.0h1.3M312.8 928.5h1.3M334.0 911.9h1.3M319.3 918.4h1.3M321.3 918.8h1.3M317.5 927.1h1.3M349.9 902.3h1.3M306.3 934.1h1.3M328.0 919.2h1.3M335.4 912.8h1.3M303.8 934.6h1.3M324.7 919.4h1.3M332.9 913.9h1.3M339.8 905.8h1.3M307.8 930.8h1.3M340.1 907.3h1.3M307.1 932.8h1.3M325.3 919.2h1.3M320.1 923.7h1.3M301.7 934.3h1.3M332.1 913.3h1.3M333.0 916.2h1.3M324.8 921.2h1.3M308.7 931.7h1.3M325.0 920.0h1.3M303.2 933.0h1.3M308.6 931.1h1.3M332.4 916.2h1.3M331.5 915.7h1.3M338.1 912.4h1.3M335.2 913.0h1.3M306.6 929.0h1.3M318.5 926.7h1.3M314.5 926.8h1.3M314.4 927.5h1.3M316.7 927.2h1.3M300.5 936.5h1.3M321.6 924.9h1.3M322.6 921.5h1.3M321.4 921.8h1.3M325.6 917.8h1.3M310.9 929.4h1.3M299.3 937.2h1.3M314.1 925.9h1.3M349.3 895.7h1.3M324.0 922.9h1.3M325.5 921.5h1.3M314.4 924.7h1.3M315.2 925.7h1.3M334.6 916.5h1.3M312.5 925.7h1.3M368.0 890.3h1.3M336.7 907.4h1.3M319.2 923.9h1.3M301.0 934.5h1.3M309.8 931.3h1.3M317.7 927.8h1.3M342.9 909.0h1.3M320.0 925.8h1.3M310.1 933.7h1.3M327.4 920.8h1.3M341.5 903.1h1.3M333.3 912.6h1.3M319.1 923.7h1.3M324.6 923.9h1.3M317.7 926.4h1.3M321.8 917.7h1.3M312.8 928.4h1.3M317.3 923.0h1.3M313.6 930.5h1.3M334.1 915.4h1.3M300.2 935.7h1.3M312.2 927.8h1.3M320.7 927.0h1.3M303.0 933.3h1.3M318.5 924.8h1.3M310.2 928.8h1.3M323.0 918.4h1.3M311.9 928.3h1.3M317.0 926.1h1.3M326.6 916.9h1.3M316.0 927.2h1.3M301.6 935.3h1.3M299.5 937.5h1.3M322.3 922.9h1.3M311.5 928.1h1.3M307.4 930.2h1.3M325.3 920.2h1.3M300.8 937.1h1.3M318.2 923.2h1.3M319.1 925.2h1.3M320.5 922.6h1.3M327.9 921.4h1.3M321.1 926.1h1.3M320.0 922.9h1.3M317.0 925.4h1.3M317.4 925.5h1.3M312.4 930.3h1.3M352.4 897.5h1.3M320.4 922.9h1.3M299.1 937.2h1.3M309.4 932.0h1.3M338.6 914.4h1.3M316.3 925.3h1.3M329.5 916.6h1.3M307.9 927.5h1.3M314.3 926.3h1.3M321.5 920.1h1.3M314.7 928.9h1.3M341.8 915.3h1.3M305.7 931.5h1.3M313.9 921.8h1.3M300.7 935.9h1.3M342.9 914.0h1.3M341.0 905.5h1.3M327.3 921.8h1.3M317.7 925.5h1.3M302.6 935.3h1.3M327.2 918.4h1.3M340.5 909.1h1.3M323.7 921.3h1.3M321.0 920.7h1.3M314.1 924.6h1.3M310.4 929.5h1.3M311.6 925.8h1.3M315.7 927.0h1.3M329.3 919.0h1.3M314.8 927.8h1.3M309.1 931.4h1.3M346.1 907.4h1.3M323.5 923.4h1.3M313.5 925.9h1.3M305.5 935.7h1.3M328.1 916.6h1.3M317.8 925.0h1.3M305.1 933.0h1.3M315.0 928.4h1.3M327.1 923.9h1.3M316.2 926.4h1.3M383.7 884.8h1.3M326.4 918.6h1.3M328.9 914.9h1.3M326.0 918.3h1.3M312.3 926.7h1.3M303.5 933.7h1.3M326.9 920.2h1.3M312.4 928.0h1.3M306.3 930.6h1.3M359.2 896.2h1.3M327.3 916.4h1.3M304.8 932.8h1.3M312.3 928.2h1.3M314.4 927.1h1.3M295.0 939.0h1.3M316.4 925.8h1.3M337.0 915.2h1.3M315.0 923.4h1.3M309.1 929.2h1.3M309.5 930.3h1.3M313.8 925.5h1.3M349.1 905.0h1.3M316.0 925.8h1.3M332.9 911.4h1.3M330.7 918.9h1.3M333.8 911.1h1.3M311.2 927.8h1.3M303.4 935.4h1.3M348.3 902.9h1.3M307.0 931.0h1.3M317.3 925.9h1.3M316.1 924.8h1.3M308.3 931.3h1.3M313.5 927.5h1.3M321.6 923.8h1.3M313.8 924.2h1.3M339.1 908.5h1.3M327.0 922.3h1.3M303.1 931.4h1.3M340.4 907.2h1.3M350.7 900.3h1.3M324.4 921.1h1.3M334.8 915.2h1.3M326.3 920.0h1.3M330.8 912.5h1.3M309.0 931.0h1.3M322.9 924.0h1.3M304.3 933.6h1.3M301.6 937.8h1.3M309.7 930.1h1.3M314.9 923.6h1.3M312.4 930.3h1.3M307.2 930.4h1.3M306.1 933.2h1.3M309.9 930.9h1.3M310.1 929.0h1.3M323.7 918.3h1.3M357.6 895.7h1.3M333.8 913.6h1.3M332.4 918.1h1.3M302.9 934.7h1.3M307.2 928.2h1.3M305.4 929.7h1.3M306.7 935.6h1.3M325.7 920.6h1.3M316.1 927.1h1.3M306.8 933.0h1.3M339.0 910.4h1.3M308.5 933.5h1.3M318.4 924.3h1.3M302.4 934.7h1.3M302.1 935.0h1.3M321.1 922.1h1.3M314.3 928.3h1.3M314.0 924.8h1.3M320.1 924.0h1.3M307.5 931.4h1.3M323.7 921.2h1.3M327.6 917.5h1.3M321.4 919.2h1.3M342.3 909.8h1.3M330.2 913.6h1.3M307.1 930.6h1.3M327.3 912.5h1.3M317.3 922.9h1.3M311.5 928.6h1.3M306.1 932.1h1.3M312.2 930.4h1.3M306.5 931.5h1.3M325.7 918.1h1.3M318.7 918.4h1.3M309.1 927.3h1.3M325.5 919.9h1.3M318.7 926.3h1.3M310.2 927.1h1.3M313.3 926.3h1.3M304.6 932.5h1.3M305.6 931.5h1.3M306.9 932.7h1.3M343.7 914.4h1.3M323.9 921.3h1.3M307.1 933.4h1.3M326.7 920.0h1.3M324.7 920.0h1.3M331.5 914.5h1.3M307.0 931.7h1.3M316.9 923.9h1.3M349.8 906.7h1.3M310.8 928.2h1.3M304.0 935.9h1.3M304.3 932.0h1.3M335.4 913.1h1.3M296.2 938.5h1.3M305.1 930.3h1.3M314.6 925.4h1.3M299.3 936.4h1.3M301.3 933.4h1.3M319.2 924.9h1.3M325.6 919.3h1.3M304.0 933.4h1.3M314.3 928.8h1.3M333.9 912.6h1.3M296.3 937.1h1.3M298.4 936.3h1.3M317.2 924.3h1.3M300.7 936.1h1.3M315.6 925.4h1.3M381.5 883.0h1.3M330.0 912.2h1.3M307.4 932.6h1.3M315.1 928.3h1.3M316.4 921.1h1.3M310.4 930.1h1.3M307.9 931.8h1.3M315.2 926.4h1.3M304.4 934.1h1.3M357.9 897.9h1.3M310.0 930.0h1.3M304.0 934.1h1.3M307.0 930.0h1.3M331.8 912.5h1.3M320.4 923.0h1.3M343.6 903.7h1.3M340.2 903.9h1.3M335.6 909.9h1.3M315.0 925.9h1.3M320.9 919.6h1.3M323.6 916.3h1.3M319.9 921.4h1.3M306.1 932.9h1.3M319.8 921.7h1.3M301.4 934.4h1.3M322.8 924.4h1.3M306.6 934.8h1.3M304.2 935.2h1.3M301.3 934.0h1.3M318.9 922.9h1.3M344.6 903.7h1.3M333.1 913.3h1.3M322.7 923.1h1.3M308.7 928.9h1.3M310.4 931.7h1.3M301.1 934.2h1.3M319.3 925.0h1.3M318.2 923.9h1.3M302.0 935.2h1.3M297.7 937.2h1.3M306.6 932.8h1.3M314.4 927.1h1.3M320.7 926.8h1.3M316.8 924.6h1.3M307.0 932.9h1.3M306.4 933.2h1.3M306.6 932.3h1.3M325.4 916.5h1.3M307.8 927.6h1.3M297.3 936.7h1.3M313.7 927.5h1.3M321.6 922.4h1.3M307.2 932.0h1.3M322.4 920.1h1.3M308.7 933.3h1.3M303.7 935.0h1.3M316.6 923.9h1.3M320.2 919.9h1.3M319.9 927.1h1.3M308.9 931.1h1.3M366.2 887.3h1.3M323.7 922.6h1.3M312.4 926.2h1.3M308.3 930.9h1.3M312.6 927.1h1.3M314.0 924.7h1.3M318.3 923.2h1.3M308.3 929.3h1.3M311.2 929.6h1.3M340.6 901.9h1.3M305.3 932.8h1.3M308.1 929.5h1.3M345.8 905.2h1.3M315.2 928.6h1.3M313.1 929.0h1.3M315.5 925.2h1.3M333.7 913.4h1.3M332.9 916.5h1.3M308.4 929.5h1.3M323.6 922.5h1.3M322.3 923.9h1.3M309.0 932.0h1.3M324.4 921.4h1.3M320.7 927.8h1.3M308.2 930.5h1.3M300.2 936.2h1.3M314.2 927.4h1.3M313.6 928.0h1.3M302.1 933.7h1.3M340.8 912.7h1.3M339.4 913.9h1.3M312.8 926.7h1.3M301.6 935.9h1.3M303.8 934.5h1.3M308.7 931.0h1.3M314.2 926.3h1.3M304.2 932.9h1.3M356.2 900.4h1.3M313.5 924.3h1.3M333.7 917.3h1.3M325.0 923.6h1.3M308.5 930.1h1.3M325.5 917.3h1.3M298.9 934.8h1.3M346.7 906.6h1.3M301.3 934.0h1.3M308.5 930.4h1.3M335.9 909.8h1.3M325.8 920.8h1.3M314.9 923.9h1.3M325.9 919.3h1.3M318.5 924.8h1.3M352.0 899.7h1.3M314.6 927.9h1.3M306.9 930.0h1.3M346.9 900.2h1.3M311.9 925.8h1.3M330.0 913.3h1.3M337.5 916.1h1.3M311.2 928.9h1.3M315.7 923.1h1.3M300.9 934.2h1.3M304.0 935.1h1.3M326.7 919.4h1.3M313.6 928.6h1.3M317.2 923.4h1.3M313.1 926.1h1.3M309.4 930.9h1.3M300.0 936.2h1.3M314.7 923.8h1.3M333.5 914.4h1.3M317.0 926.1h1.3M332.6 912.3h1.3M327.8 911.6h1.3M307.7 930.3h1.3M310.3 927.4h1.3M327.5 918.4h1.3M311.0 927.5h1.3M314.8 925.2h1.3M315.3 925.7h1.3M327.3 916.6h1.3M331.0 917.7h1.3M301.6 933.4h1.3M315.2 924.9h1.3M305.2 932.3h1.3M303.8 930.6h1.3M323.6 915.5h1.3M306.4 932.5h1.3M321.7 921.6h1.3M300.4 934.9h1.3M358.7 889.5h1.3M314.9 924.8h1.3M302.4 934.4h1.3M313.3 927.8h1.3M327.6 912.1h1.3M307.3 931.6h1.3M316.0 925.3h1.3M305.1 933.4h1.3M301.5 935.5h1.3M297.0 936.9h1.3M313.2 929.1h1.3M321.1 924.6h1.3M306.2 930.2h1.3M346.2 910.9h1.3M320.5 920.5h1.3M302.0 936.3h1.3M317.8 926.9h1.3M307.5 930.3h1.3M310.3 928.3h1.3M310.5 929.5h1.3M322.0 920.7h1.3M314.7 926.6h1.3M308.6 927.8h1.3M331.4 916.8h1.3M326.4 918.3h1.3M307.5 929.5h1.3M335.2 912.9h1.3M318.5 926.1h1.3M324.9 917.2h1.3M311.1 930.0h1.3M314.4 927.6h1.3M328.9 913.5h1.3M317.1 926.1h1.3M368.0 891.6h1.3M318.7 924.1h1.3M303.9 933.8h1.3M313.0 927.2h1.3M320.3 926.1h1.3M312.5 926.7h1.3M312.3 930.3h1.3M351.5 905.9h1.3M321.0 919.9h1.3M296.6 937.5h1.3M307.7 930.9h1.3M324.5 922.3h1.3M319.2 924.1h1.3M309.2 929.4h1.3M324.6 916.4h1.3M335.1 910.2h1.3M312.0 928.3h1.3M377.7 881.6h1.3M328.1 912.1h1.3M313.6 927.1h1.3M356.8 909.8h1.3M323.4 918.5h1.3M325.8 923.9h1.3M312.7 925.6h1.3M306.5 931.7h1.3M316.7 928.2h1.3M306.0 933.5h1.3M302.9 934.3h1.3M306.5 932.2h1.3M321.0 916.8h1.3M337.7 908.1h1.3M300.3 936.4h1.3M320.2 924.1h1.3M322.9 918.7h1.3M304.2 931.8h1.3M336.8 911.1h1.3M324.1 918.6h1.3M308.4 929.6h1.3M322.3 915.9h1.3M319.1 922.7h1.3M322.0 923.9h1.3M301.7 935.0h1.3M300.0 937.3h1.3M311.0 928.4h1.3M316.5 923.8h1.3M305.0 932.0h1.3M313.1 927.1h1.3M330.2 916.2h1.3M320.6 924.5h1.3M298.1 934.8h1.3M320.0 924.9h1.3M307.3 929.9h1.3M315.9 925.3h1.3M315.1 927.5h1.3M299.6 935.4h1.3M323.2 922.2h1.3M327.3 921.9h1.3M357.5 901.6h1.3M309.1 930.9h1.3M317.0 923.7h1.3M333.3 910.7h1.3M315.4 924.5h1.3M323.0 917.4h1.3M308.6 931.0h1.3M324.8 917.5h1.3M314.7 924.8h1.3M299.4 936.4h1.3M327.4 920.8h1.3M335.4 913.4h1.3M329.7 915.6h1.3M302.1 936.8h1.3M309.7 929.4h1.3M306.5 930.9h1.3M367.4 890.3h1.3M311.0 927.1h1.3M310.4 927.5h1.3M304.0 933.4h1.3M298.2 939.4h1.3M322.9 921.6h1.3M301.3 935.0h1.3M321.9 920.3h1.3M332.2 910.3h1.3M310.4 926.6h1.3M327.0 920.9h1.3M307.1 930.5h1.3M309.3 930.1h1.3M332.9 905.3h1.3M305.5 933.7h1.3M304.8 933.3h1.3M344.2 903.4h1.3M312.6 927.8h1.3M309.9 931.9h1.3M314.7 924.3h1.3M315.1 928.7h1.3M295.8 938.3h1.3M309.3 929.2h1.3M307.1 929.9h1.3M365.2 896.3h1.3M318.8 921.1h1.3M330.4 913.9h1.3M323.2 922.5h1.3M303.6 933.2h1.3M312.7 930.2h1.3M306.9 932.7h1.3M318.5 923.6h1.3M312.7 925.0h1.3M317.4 923.7h1.3M308.6 931.9h1.3M300.8 934.2h1.3M308.6 932.2h1.3M327.8 919.4h1.3M306.1 933.1h1.3M321.5 924.7h1.3M344.5 908.1h1.3M318.6 923.9h1.3M344.8 908.9h1.3M325.7 918.9h1.3M327.9 915.8h1.3M310.0 930.1h1.3M336.1 911.5h1.3M318.3 925.3h1.3M334.2 907.9h1.3M319.1 918.8h1.3M309.7 931.2h1.3M306.1 933.3h1.3M319.0 925.2h1.3M358.9 896.6h1.3M315.8 925.2h1.3M310.8 925.4h1.3M318.1 919.4h1.3M315.3 926.1h1.3M304.4 934.7h1.3M316.3 926.0h1.3M330.6 910.1h1.3M308.9 929.3h1.3M312.1 926.2h1.3M317.5 926.6h1.3M345.5 911.0h1.3M329.3 918.2h1.3M333.9 915.3h1.3M329.9 912.9h1.3M313.4 927.5h1.3M323.1 923.1h1.3M319.7 922.1h1.3M356.3 899.7h1.3M325.2 917.5h1.3M334.9 918.3h1.3M322.4 920.3h1.3M333.2 910.5h1.3M311.8 929.7h1.3M324.9 922.7h1.3M340.2 913.1h1.3M338.3 914.0h1.3M323.9 914.6h1.3M338.8 907.0h1.3M300.4 936.0h1.3M309.6 929.8h1.3M302.7 932.1h1.3M326.9 919.7h1.3M308.7 931.5h1.3M318.7 926.9h1.3M303.7 933.5h1.3M318.0 921.3h1.3M312.9 926.7h1.3M333.2 916.4h1.3M299.3 935.1h1.3M306.0 934.4h1.3M317.3 926.5h1.3M307.4 930.4h1.3M348.9 903.4h1.3M306.6 932.9h1.3M352.7 903.4h1.3M310.6 929.3h1.3M298.0 939.2h1.3M309.1 929.8h1.3M329.3 914.4h1.3M312.4 924.8h1.3M311.5 928.4h1.3M319.8 921.0h1.3M305.0 932.8h1.3M301.6 936.3h1.3M327.8 918.6h1.3M305.1 933.0h1.3M326.1 917.8h1.3M294.3 939.4h1.3M326.1 917.5h1.3M334.8 911.1h1.3M328.7 917.0h1.3M320.6 922.6h1.3M319.5 925.4h1.3M328.2 914.3h1.3M320.5 920.6h1.3M315.2 923.0h1.3M320.5 924.0h1.3M306.5 931.3h1.3M317.3 924.6h1.3M321.1 920.7h1.3M313.2 926.9h1.3M323.5 921.6h1.3M339.6 911.1h1.3M333.2 911.1h1.3M319.5 924.4h1.3M313.1 924.5h1.3M296.3 936.9h1.3M309.4 928.2h1.3M310.4 928.8h1.3M320.1 920.8h1.3M353.7 900.2h1.3M309.2 929.6h1.3M311.1 928.1h1.3M335.9 915.9h1.3M322.2 923.0h1.3M307.9 933.7h1.3M303.1 934.1h1.3M347.5 900.7h1.3M300.6 935.0h1.3M308.7 929.5h1.3M303.2 932.1h1.3M298.5 937.1h1.3M314.2 928.4h1.3M318.2 925.9h1.3M306.2 932.1h1.3M319.8 923.8h1.3M305.6 932.0h1.3M330.6 914.6h1.3M307.3 930.3h1.3M341.6 907.4h1.3M313.0 932.7h1.3M332.2 918.0h1.3M309.0 931.4h1.3M305.5 933.5h1.3M315.6 925.6h1.3M306.9 929.7h1.3M326.3 919.1h1.3M330.8 922.7h1.3M331.6 918.7h1.3M335.6 913.6h1.3M353.6 909.0h1.3M301.7 933.3h1.3M315.7 926.2h1.3M353.7 893.6h1.3M332.0 910.0h1.3M304.6 932.3h1.3M314.0 926.6h1.3M332.1 909.9h1.3M302.3 935.0h1.3M316.0 926.8h1.3M323.5 919.3h1.3M315.4 926.9h1.3M310.7 928.8h1.3M315.1 926.5h1.3M317.0 927.1h1.3M301.7 933.9h1.3M318.7 924.7h1.3M311.2 928.6h1.3M326.0 922.4h1.3M313.2 925.5h1.3M320.0 922.7h1.3M311.2 929.9h1.3M306.9 930.3h1.3M306.0 931.3h1.3M310.9 927.5h1.3M311.4 926.0h1.3M327.2 917.8h1.3M311.5 929.8h1.3M316.7 925.6h1.3M335.4 908.0h1.3M320.2 919.4h1.3M367.3 887.0h1.3M312.5 929.7h1.3M323.2 923.0h1.3M316.5 924.6h1.3M304.7 933.0h1.3M340.1 911.5h1.3M305.5 935.2h1.3M321.3 923.5h1.3M310.1 931.9h1.3M303.9 933.6h1.3M297.2 937.9h1.3M304.2 933.1h1.3M315.7 923.1h1.3M331.9 921.2h1.3M313.4 927.0h1.3M302.3 934.2h1.3M320.0 919.8h1.3M304.2 936.3h1.3M307.9 931.2h1.3M325.0 918.9h1.3M310.5 928.7h1.3M317.7 925.2h1.3M321.3 921.1h1.3M309.0 929.1h1.3M346.7 906.7h1.3M309.8 924.7h1.3M303.0 935.0h1.3M355.7 900.7h1.3M310.5 926.2h1.3M315.0 926.0h1.3M310.6 930.3h1.3M304.9 931.4h1.3M303.6 933.1h1.3M325.3 916.8h1.3M303.4 935.4h1.3M317.5 922.8h1.3M334.8 918.0h1.3M309.8 929.7h1.3M333.1 913.7h1.3M303.3 933.9h1.3M330.1 912.6h1.3M325.2 917.0h1.3M329.8 918.4h1.3M308.9 931.5h1.3M312.1 925.7h1.3M302.8 933.0h1.3M323.6 920.5h1.3M310.5 927.4h1.3M335.0 910.9h1.3M313.5 927.6h1.3M335.0 909.9h1.3M318.8 925.2h1.3M309.4 928.4h1.3M318.2 924.4h1.3M320.5 923.6h1.3M315.0 929.0h1.3M330.6 917.1h1.3M347.8 901.5h1.3M321.5 924.2h1.3M302.8 935.2h1.3M320.3 919.9h1.3M303.2 933.7h1.3M318.5 921.6h1.3M314.6 926.5h1.3M324.0 925.1h1.3M318.1 924.7h1.3M327.5 915.2h1.3M300.5 935.9h1.3M326.8 918.0h1.3M320.6 922.5h1.3M316.4 925.9h1.3M316.3 924.1h1.3M335.5 911.4h1.3M303.0 934.6h1.3M324.2 919.6h1.3M312.5 925.9h1.3M312.0 926.3h1.3M321.3 922.8h1.3M331.4 914.3h1.3M338.8 908.6h1.3M335.7 910.0h1.3M303.2 932.1h1.3M310.7 926.3h1.3M310.3 929.4h1.3M333.1 914.1h1.3M331.1 913.9h1.3M312.3 925.3h1.3M331.3 916.0h1.3M323.0 922.1h1.3M343.4 910.8h1.3M327.5 924.0h1.3M327.7 916.7h1.3M312.6 929.8h1.3M313.3 928.0h1.3M323.0 920.5h1.3M305.6 931.3h1.3M295.8 938.6h1.3M344.1 906.9h1.3M345.6 902.7h1.3M310.3 927.1h1.3M317.5 923.4h1.3M317.7 923.0h1.3M332.0 917.5h1.3M311.3 928.7h1.3M326.5 916.3h1.3M307.5 931.7h1.3M304.1 932.9h1.3M337.2 906.3h1.3M310.1 928.2h1.3M319.1 924.5h1.3M306.1 934.5h1.3M317.6 921.0h1.3M341.5 913.4h1.3M306.3 929.6h1.3M299.4 934.6h1.3M313.2 927.5h1.3M336.4 917.6h1.3M329.2 918.4h1.3M321.4 923.4h1.3M319.7 924.1h1.3M303.5 934.6h1.3M297.8 938.2h1.3M307.7 931.2h1.3M319.6 920.4h1.3M329.0 918.4h1.3M319.0 927.1h1.3M327.9 918.2h1.3M341.3 912.1h1.3M347.6 911.6h1.3M307.1 931.5h1.3M304.3 933.1h1.3M304.6 936.1h1.3M309.4 929.6h1.3M302.3 934.4h1.3M311.2 926.7h1.3M309.1 931.4h1.3M316.9 928.2h1.3M330.9 914.6h1.3M347.9 907.0h1.3M333.1 911.1h1.3M323.3 918.6h1.3M341.3 913.7h1.3M307.2 930.4h1.3M312.0 928.8h1.3M318.7 921.6h1.3M304.0 933.8h1.3M305.4 930.5h1.3M349.2 896.2h1.3M313.8 927.6h1.3M326.1 916.6h1.3M318.0 925.1h1.3M329.3 912.5h1.3M315.1 925.2h1.3M339.2 906.9h1.3M306.1 930.6h1.3M314.4 926.6h1.3M325.5 918.3h1.3M328.4 917.8h1.3M339.9 910.2h1.3M315.9 925.3h1.3M305.1 931.9h1.3M310.5 928.4h1.3M330.5 921.0h1.3M320.4 916.7h1.3M316.8 927.1h1.3M309.6 928.9h1.3M313.8 926.9h1.3M311.4 929.1h1.3M364.8 896.0h1.3M333.9 917.6h1.3M307.1 931.2h1.3M324.2 922.0h1.3M323.3 923.9h1.3M311.3 928.6h1.3M308.0 932.7h1.3M336.9 913.0h1.3M325.4 921.8h1.3M304.5 932.4h1.3M301.4 933.4h1.3M313.2 931.8h1.3M321.6 922.3h1.3M307.1 929.8h1.3M318.2 920.8h1.3M312.1 928.8h1.3M316.5 923.5h1.3M318.0 927.1h1.3M300.9 934.8h1.3M317.1 928.3h1.3M331.7 917.2h1.3M334.6 917.8h1.3M331.6 914.0h1.3M320.3 922.6h1.3M301.5 935.3h1.3M340.8 906.4h1.3M327.7 920.7h1.3M332.5 912.9h1.3M331.5 914.4h1.3M308.5 931.4h1.3M317.1 924.0h1.3M316.1 927.2h1.3M308.1 932.3h1.3M316.8 928.1h1.3M313.1 928.1h1.3M341.3 904.4h1.3M301.9 932.3h1.3M310.1 930.0h1.3M305.8 930.4h1.3M295.8 939.0h1.3M355.6 899.4h1.3M321.7 923.0h1.3M317.7 924.0h1.3M321.4 916.2h1.3M321.3 918.6h1.3M306.3 931.5h1.3M326.8 919.4h1.3M307.8 930.6h1.3M312.5 927.0h1.3M312.9 929.8h1.3M356.1 899.0h1.3M336.1 910.2h1.3M312.1 928.1h1.3M344.2 913.5h1.3M326.9 920.4h1.3M312.8 926.5h1.3M332.0 917.5h1.3M327.2 913.6h1.3M311.0 928.0h1.3M318.8 922.1h1.3M346.4 903.7h1.3M313.6 926.8h1.3M318.8 926.3h1.3M312.5 926.8h1.3M309.7 928.7h1.3M321.7 921.2h1.3M328.2 916.6h1.3M344.6 906.8h1.3M319.4 920.2h1.3M308.0 932.1h1.3M322.5 926.6h1.3M308.7 928.1h1.3M315.2 926.0h1.3M323.7 920.0h1.3M318.0 923.8h1.3M315.9 923.8h1.3M343.6 910.9h1.3M300.3 934.5h1.3M319.2 920.4h1.3M307.8 930.8h1.3M324.9 917.2h1.3M313.9 927.2h1.3M307.3 932.4h1.3M325.1 922.0h1.3M307.7 931.4h1.3M324.4 916.2h1.3M311.9 929.7h1.3M324.8 920.2h1.3M310.7 931.2h1.3M319.2 923.2h1.3M302.3 935.0h1.3M313.9 924.4h1.3M316.1 929.4h1.3M344.8 907.3h1.3M315.3 922.4h1.3M344.1 911.1h1.3M328.1 916.3h1.3M318.4 923.4h1.3M303.4 934.3h1.3M311.5 927.2h1.3M303.4 932.0h1.3M301.9 935.3h1.3M312.9 926.1h1.3M312.4 925.7h1.3M310.8 928.2h1.3M370.3 889.2h1.3M308.8 932.5h1.3M314.3 923.8h1.3M319.1 923.4h1.3M315.6 925.8h1.3M298.8 937.7h1.3M320.6 924.2h1.3M303.5 932.0h1.3M304.0 934.0h1.3M328.8 918.2h1.3M308.3 928.6h1.3M299.8 937.0h1.3M317.6 925.3h1.3M319.9 922.7h1.3M309.2 931.1h1.3M309.9 929.8h1.3M310.0 928.2h1.3M312.4 926.2h1.3M312.2 926.0h1.3M323.0 918.5h1.3M323.6 920.8h1.3M331.7 910.7h1.3M302.7 934.3h1.3M319.5 922.8h1.3M318.2 923.9h1.3M310.1 927.4h1.3M299.5 936.3h1.3M305.2 931.5h1.3M352.4 906.3h1.3M312.6 927.5h1.3M302.2 933.3h1.3M310.6 930.1h1.3M316.7 925.2h1.3M301.1 935.2h1.3M321.4 922.9h1.3M333.4 908.2h1.3M307.1 930.2h1.3M334.2 913.2h1.3M310.6 928.3h1.3M302.6 934.0h1.3M315.6 924.4h1.3M310.7 931.8h1.3M325.9 917.0h1.3M329.2 917.9h1.3M327.9 920.5h1.3M338.0 909.6h1.3M310.2 927.6h1.3M316.6 921.1h1.3M313.4 924.3h1.3M312.3 929.3h1.3M309.9 930.9h1.3M310.2 929.8h1.3M305.4 928.5h1.3M344.3 909.0h1.3M310.1 929.8h1.3M307.2 932.5h1.3M327.1 917.5h1.3M323.1 922.7h1.3M319.0 925.1h1.3M296.9 938.7h1.3M307.0 932.8h1.3M342.1 905.3h1.3M310.1 928.9h1.3M342.5 903.1h1.3M331.4 915.7h1.3M321.1 926.8h1.3M316.9 924.3h1.3M320.4 922.3h1.3M309.8 930.1h1.3M317.1 921.5h1.3M329.7 914.5h1.3M321.7 921.4h1.3M313.3 926.7h1.3M329.3 911.7h1.3M309.0 932.2h1.3M307.3 934.1h1.3M340.3 912.7h1.3M325.4 918.7h1.3M319.2 924.1h1.3M315.7 923.5h1.3M346.0 906.2h1.3M330.8 912.3h1.3M326.7 919.7h1.3M337.3 908.3h1.3M311.3 930.8h1.3M321.2 922.4h1.3M331.0 913.9h1.3M337.1 911.0h1.3M307.0 931.7h1.3M302.7 932.7h1.3M323.8 919.1h1.3M306.8 930.9h1.3M362.0 899.0h1.3M318.0 928.4h1.3M319.3 925.2h1.3M321.8 919.5h1.3M318.4 921.5h1.3M298.8 936.5h1.3M312.7 926.4h1.3M307.6 930.4h1.3M377.4 887.7h1.3M318.9 925.2h1.3M315.6 925.5h1.3M334.9 911.9h1.3M305.2 929.8h1.3M312.5 928.0h1.3M328.4 914.8h1.3M324.5 922.1h1.3M318.5 922.4h1.3M302.3 932.4h1.3M342.5 905.3h1.3M314.2 923.2h1.3M333.9 915.7h1.3M305.8 932.4h1.3M310.4 931.2h1.3M310.9 927.1h1.3M332.9 916.2h1.3M316.0 925.4h1.3M338.8 909.0h1.3M320.8 924.3h1.3M307.0 928.3h1.3M317.3 923.9h1.3M323.0 916.4h1.3M333.5 913.4h1.3M328.2 919.2h1.3M306.3 934.0h1.3M310.0 926.6h1.3M294.9 939.5h1.3M328.7 912.5h1.3M316.8 929.7h1.3M305.6 933.4h1.3M307.4 931.6h1.3M336.0 904.6h1.3M306.5 934.0h1.3M307.6 931.4h1.3M322.8 922.8h1.3M316.2 925.5h1.3M302.5 933.4h1.3M334.1 917.0h1.3M298.7 936.3h1.3M319.6 924.0h1.3M303.9 934.1h1.3M310.9 929.2h1.3M298.5 937.1h1.3M314.2 927.6h1.3M314.4 928.2h1.3M309.9 928.6h1.3M338.3 909.0h1.3M307.2 932.4h1.3M314.9 929.2h1.3M314.1 926.6h1.3M326.8 915.0h1.3M341.7 906.7h1.3M317.8 921.7h1.3M347.6 908.4h1.3M324.7 918.8h1.3M313.7 926.2h1.3M315.7 930.6h1.3M324.2 915.4h1.3M310.8 927.7h1.3M357.2 894.0h1.3M316.8 925.1h1.3M308.3 929.0h1.3M334.1 914.7h1.3M312.3 928.5h1.3M323.1 924.0h1.3M305.2 932.4h1.3M318.8 922.0h1.3M321.9 922.6h1.3M331.6 917.6h1.3M314.7 926.4h1.3M314.3 928.6h1.3M315.6 924.3h1.3M308.4 929.2h1.3M331.5 913.2h1.3M315.7 927.0h1.3M310.3 928.6h1.3M311.3 930.6h1.3M312.4 928.6h1.3M325.0 923.2h1.3M332.9 913.1h1.3M347.2 910.1h1.3M315.4 927.4h1.3M324.4 919.9h1.3M304.2 934.2h1.3M304.0 932.1h1.3M311.4 928.0h1.3M314.7 927.1h1.3M303.1 934.6h1.3M310.8 929.8h1.3M318.5 924.4h1.3M323.6 918.6h1.3M313.5 927.5h1.3M363.4 896.2h1.3M317.7 921.5h1.3M321.1 924.1h1.3M355.2 900.7h1.3M336.3 917.5h1.3M314.2 927.0h1.3M313.3 927.6h1.3M311.4 926.8h1.3M331.5 919.0h1.3M349.2 913.1h1.3M299.5 934.1h1.3M323.4 918.3h1.3M299.0 937.8h1.3M307.7 931.1h1.3M320.3 924.2h1.3M313.1 928.4h1.3M358.9 897.7h1.3M301.2 935.1h1.3M313.4 925.8h1.3M328.1 910.3h1.3M335.7 912.9h1.3M305.5 932.0h1.3M318.4 919.3h1.3M303.6 933.4h1.3M309.2 930.0h1.3M307.0 930.8h1.3M321.4 920.5h1.3M331.1 920.0h1.3M335.5 907.4h1.3M322.3 925.6h1.3M322.8 919.3h1.3M305.8 934.4h1.3M330.0 917.6h1.3M307.7 929.7h1.3M351.0 902.2h1.3M317.1 924.8h1.3M301.1 937.2h1.3M340.3 909.1h1.3M305.1 931.7h1.3M311.3 928.1h1.3M327.1 920.9h1.3M319.2 922.5h1.3M317.0 925.7h1.3M309.9 930.2h1.3M297.4 937.0h1.3M313.8 922.6h1.3M322.7 916.5h1.3M340.7 903.5h1.3M308.7 930.9h1.3M317.1 925.6h1.3M310.2 929.8h1.3M335.1 912.7h1.3M313.2 927.3h1.3M310.2 929.4h1.3M306.6 929.6h1.3M335.3 911.2h1.3M306.6 928.8h1.3M305.3 928.2h1.3M308.4 931.0h1.3M323.9 921.3h1.3M317.5 923.6h1.3M319.2 921.2h1.3M323.1 919.6h1.3M315.3 926.2h1.3M306.2 932.0h1.3M320.5 921.3h1.3M350.1 909.8h1.3M311.6 927.9h1.3M304.9 932.3h1.3M315.1 926.9h1.3M319.5 921.2h1.3M321.6 922.4h1.3M305.6 931.8h1.3M305.8 931.2h1.3M315.4 926.0h1.3M304.3 931.5h1.3M309.1 930.5h1.3M361.4 889.6h1.3M309.9 928.8h1.3M313.9 927.2h1.3M325.6 922.3h1.3M319.5 925.8h1.3M327.2 916.8h1.3M320.0 924.5h1.3M338.6 909.4h1.3M329.6 917.5h1.3M308.1 931.8h1.3M356.9 893.6h1.3M311.5 929.9h1.3M314.5 925.6h1.3M319.0 918.5h1.3M305.8 929.9h1.3M330.8 919.7h1.3M313.8 925.2h1.3M307.8 929.1h1.3M310.4 928.6h1.3M331.1 918.1h1.3M313.6 928.6h1.3M338.3 907.5h1.3M325.4 919.4h1.3M303.0 930.7h1.3M319.2 924.2h1.3M371.4 888.0h1.3M325.1 918.9h1.3M317.9 920.1h1.3M319.0 924.0h1.3M314.6 924.5h1.3M376.7 890.9h1.3M317.8 924.4h1.3M308.6 932.9h1.3M316.3 922.4h1.3M331.8 916.6h1.3M312.1 930.3h1.3M313.4 925.0h1.3M299.7 936.5h1.3M332.9 920.1h1.3M382.1 878.3h1.3M311.2 927.9h1.3M315.3 926.0h1.3M320.8 921.3h1.3M318.2 925.3h1.3M300.0 935.9h1.3M320.4 924.5h1.3M304.0 933.0h1.3M319.2 921.1h1.3M301.8 934.5h1.3M328.2 920.2h1.3M323.2 917.8h1.3M303.7 933.4h1.3M333.3 913.6h1.3M301.9 933.7h1.3M310.0 931.9h1.3M333.8 919.3h1.3M313.8 925.2h1.3M307.7 929.7h1.3M320.1 923.1h1.3M313.8 925.5h1.3M316.6 925.8h1.3M336.1 916.0h1.3M315.1 926.0h1.3M315.1 923.3h1.3M319.9 925.6h1.3M318.3 923.3h1.3M319.1 926.8h1.3M326.4 920.3h1.3M339.2 915.8h1.3M302.3 932.5h1.3M322.1 919.1h1.3M316.3 927.2h1.3M305.7 930.7h1.3M307.1 931.2h1.3M321.5 925.9h1.3M331.0 914.5h1.3M333.3 910.7h1.3M318.8 922.3h1.3M323.4 917.1h1.3M314.3 927.9h1.3M353.6 900.1h1.3M317.9 927.0h1.3M326.5 912.9h1.3M326.2 918.4h1.3M306.6 929.9h1.3M330.5 919.1h1.3M323.6 921.3h1.3M295.9 938.2h1.3M323.2 917.3h1.3M321.4 919.7h1.3M325.2 919.7h1.3M312.8 928.2h1.3M321.9 921.2h1.3M334.8 912.3h1.3M305.9 932.7h1.3M300.8 935.9h1.3M323.9 919.4h1.3M311.1 929.2h1.3M311.1 930.6h1.3M302.6 934.8h1.3M301.4 934.4h1.3M302.1 934.9h1.3M329.8 918.3h1.3M305.7 929.3h1.3M313.3 927.4h1.3M364.0 901.7h1.3M303.3 934.1h1.3M313.9 926.2h1.3M323.2 921.3h1.3M301.1 936.3h1.3M316.2 923.6h1.3M372.3 885.5h1.3M312.9 927.7h1.3M303.5 932.9h1.3M304.0 933.1h1.3M307.7 931.2h1.3M311.8 926.2h1.3M310.0 928.5h1.3M299.1 936.4h1.3M346.7 898.7h1.3M311.3 927.0h1.3M302.8 933.3h1.3M310.6 930.2h1.3M305.2 932.5h1.3M305.1 930.9h1.3M332.3 913.3h1.3M314.0 929.0h1.3M326.6 914.8h1.3M363.8 891.2h1.3M319.3 918.0h1.3M330.7 915.8h1.3M315.1 929.2h1.3M309.4 927.4h1.3M313.0 927.2h1.3M312.1 927.8h1.3M330.2 917.1h1.3M316.3 926.8h1.3M320.7 918.8h1.3M315.7 924.6h1.3M370.5 894.5h1.3M338.3 906.7h1.3M325.2 919.9h1.3M324.6 920.4h1.3M352.0 899.9h1.3M309.9 932.4h1.3M313.7 925.3h1.3M304.8 933.3h1.3M326.3 918.2h1.3M315.3 924.9h1.3M313.8 929.5h1.3M296.3 938.6h1.3M309.1 927.8h1.3M323.3 923.4h1.3M311.6 930.8h1.3M306.5 930.0h1.3M322.9 922.9h1.3M318.0 925.1h1.3M319.7 921.5h1.3M318.0 921.9h1.3M307.0 929.9h1.3M313.3 927.1h1.3M298.7 935.1h1.3M325.6 920.9h1.3M309.5 930.5h1.3M300.1 936.2h1.3M311.8 927.6h1.3M299.8 935.7h1.3M315.5 925.2h1.3M348.0 910.4h1.3M297.8 938.6h1.3M322.5 919.5h1.3M341.3 902.3h1.3M308.5 930.7h1.3M321.8 925.0h1.3M314.4 929.1h1.3M383.6 879.0h1.3M299.7 935.7h1.3M305.7 934.4h1.3M337.5 907.2h1.3M301.3 935.4h1.3M307.9 931.1h1.3M307.3 931.0h1.3M306.3 931.9h1.3M325.4 920.1h1.3M350.6 894.5h1.3M304.6 931.9h1.3M317.4 925.4h1.3M311.6 930.0h1.3M297.9 938.4h1.3M332.2 916.2h1.3M298.9 937.3h1.3M355.2 902.1h1.3M321.3 920.1h1.3M305.2 931.2h1.3M307.1 932.3h1.3M315.6 928.1h1.3M319.7 923.9h1.3M312.8 924.3h1.3M317.6 923.5h1.3M310.5 927.6h1.3M303.5 934.1h1.3M305.2 931.4h1.3M327.3 919.4h1.3M321.3 925.3h1.3M317.0 925.1h1.3M320.5 921.9h1.3M318.1 923.7h1.3M330.8 913.9h1.3M322.1 925.4h1.3M309.0 930.2h1.3M316.7 924.5h1.3M306.1 931.4h1.3M317.7 924.2h1.3M307.2 930.6h1.3M327.7 917.3h1.3M314.3 923.3h1.3M321.3 921.0h1.3M324.0 918.0h1.3M311.0 932.1h1.3M315.0 928.7h1.3M332.9 916.4h1.3M302.4 934.4h1.3M365.5 894.9h1.3M318.8 923.1h1.3M320.8 925.7h1.3M313.0 928.1h1.3M332.2 907.3h1.3M308.0 930.8h1.3M299.2 934.1h1.3M307.7 931.8h1.3M303.8 932.8h1.3M340.4 907.6h1.3M309.4 929.0h1.3M320.7 924.5h1.3M325.2 922.2h1.3M348.1 896.1h1.3M313.4 924.5h1.3M320.9 924.6h1.3M321.7 923.7h1.3M310.1 930.0h1.3M304.4 933.2h1.3M323.2 922.2h1.3M303.3 934.9h1.3M316.2 924.3h1.3M297.9 936.6h1.3M306.2 932.6h1.3M298.8 936.9h1.3M322.0 924.3h1.3M319.7 922.2h1.3M320.1 921.5h1.3M315.5 926.9h1.3M304.8 932.1h1.3M333.9 915.9h1.3M310.8 929.1h1.3M332.9 918.1h1.3M321.0 922.3h1.3M330.6 913.2h1.3M295.2 939.7h1.3M309.2 930.3h1.3M325.8 922.7h1.3M301.4 933.7h1.3M319.3 922.5h1.3M336.0 912.5h1.3M309.0 931.0h1.3M313.3 924.5h1.3M312.7 927.2h1.3M315.2 924.3h1.3M341.0 906.0h1.3M310.0 928.3h1.3M338.3 911.7h1.3M328.0 916.7h1.3M302.5 935.1h1.3M300.9 934.6h1.3M325.1 923.9h1.3M306.8 932.5h1.3M317.9 918.7h1.3M307.2 930.4h1.3M305.5 932.8h1.3M306.2 932.5h1.3M327.2 917.2h1.3M315.5 925.8h1.3M310.2 929.2h1.3M327.2 921.8h1.3M327.4 918.7h1.3M344.9 908.0h1.3M302.8 934.1h1.3M342.9 907.4h1.3M304.6 933.7h1.3M313.0 927.5h1.3M331.6 915.0h1.3M313.4 928.1h1.3M316.4 924.9h1.3M341.2 909.9h1.3M318.6 922.1h1.3M336.8 910.5h1.3M337.2 909.7h1.3M314.8 925.7h1.3M318.5 924.6h1.3M311.9 928.2h1.3M312.9 927.9h1.3M341.3 903.5h1.3M323.7 920.7h1.3M323.8 920.2h1.3M340.1 916.3h1.3M344.6 898.4h1.3M309.2 926.3h1.3M321.0 918.7h1.3M305.2 932.7h1.3M306.4 931.7h1.3M325.2 917.4h1.3M312.6 925.7h1.3M308.5 929.4h1.3M329.7 912.2h1.3M309.1 930.6h1.3M312.5 928.4h1.3M369.9 889.2h1.3M310.1 924.9h1.3M324.7 919.3h1.3M308.6 931.3h1.3M305.5 932.7h1.3M304.1 931.6h1.3M314.2 928.0h1.3M310.2 928.6h1.3M312.7 928.8h1.3M319.4 922.3h1.3M308.7 932.4h1.3M327.1 921.0h1.3M318.8 915.4h1.3M306.6 932.1h1.3M302.8 932.1h1.3M322.6 921.0h1.3M314.0 926.8h1.3M308.4 929.7h1.3M313.7 924.8h1.3M327.1 918.3h1.3M303.5 933.1h1.3M318.2 926.2h1.3M307.5 931.0h1.3M319.6 923.3h1.3M327.9 908.9h1.3M306.7 933.6h1.3M315.4 927.2h1.3M306.9 933.6h1.3M330.2 911.8h1.3M311.1 928.7h1.3M313.6 924.5h1.3M313.0 928.2h1.3M328.2 918.0h1.3M316.3 924.6h1.3M322.1 921.6h1.3M342.5 906.3h1.3M296.2 938.0h1.3M303.9 931.6h1.3M330.4 919.6h1.3M310.9 929.6h1.3M300.7 937.1h1.3M324.2 921.2h1.3M311.4 929.2h1.3M313.9 925.3h1.3M307.6 929.5h1.3M298.4 937.6h1.3M332.4 913.2h1.3M322.8 920.5h1.3M323.2 919.8h1.3M348.5 896.1h1.3M307.7 930.7h1.3M326.5 918.5h1.3M336.6 913.0h1.3M311.8 927.4h1.3M310.5 929.5h1.3M320.1 922.5h1.3M320.7 921.4h1.3M307.2 929.9h1.3M318.1 921.5h1.3M312.0 928.0h1.3M329.0 910.2h1.3M322.9 919.8h1.3M320.8 922.6h1.3M355.2 903.1h1.3M320.0 923.3h1.3M313.2 926.6h1.3M313.7 927.0h1.3M306.7 930.1h1.3M301.2 935.0h1.3M302.8 934.0h1.3M331.2 916.8h1.3M322.0 920.7h1.3M300.0 937.4h1.3M310.0 928.7h1.3M319.1 925.7h1.3M296.9 937.8h1.3M327.6 920.3h1.3M306.1 931.8h1.3M325.7 921.5h1.3M310.4 928.3h1.3M310.6 929.5h1.3M330.4 913.5h1.3M325.8 919.0h1.3M307.7 931.9h1.3M327.3 917.7h1.3M363.0 889.5h1.3M328.8 913.1h1.3M306.8 933.5h1.3M299.8 937.6h1.3M319.1 923.4h1.3M307.5 931.1h1.3M335.5 908.1h1.3M311.6 927.6h1.3M320.1 925.1h1.3M316.6 923.0h1.3M323.2 919.7h1.3M321.5 920.4h1.3M301.2 935.2h1.3M305.6 935.4h1.3M300.3 936.9h1.3M336.7 910.1h1.3M335.2 919.2h1.3M327.9 924.0h1.3M314.5 931.9h1.3M319.3 923.4h1.3M326.8 917.6h1.3M308.2 929.6h1.3M301.6 934.5h1.3M324.9 920.5h1.3M368.1 895.1h1.3M320.5 923.2h1.3M312.4 931.4h1.3M335.3 919.4h1.3M309.3 930.1h1.3M326.4 918.8h1.3M324.5 917.8h1.3M322.9 915.9h1.3M320.4 926.1h1.3M315.8 926.9h1.3M306.8 930.6h1.3M318.4 922.9h1.3M317.2 919.0h1.3M305.9 932.8h1.3M317.6 927.2h1.3M311.3 930.9h1.3M322.8 921.6h1.3M311.1 927.0h1.3M311.3 929.0h1.3M295.7 938.4h1.3M315.9 924.5h1.3M306.2 931.5h1.3M301.7 934.1h1.3M309.9 929.1h1.3M313.8 927.4h1.3M303.5 933.1h1.3M312.3 927.1h1.3M309.4 927.1h1.3M323.6 920.8h1.3M304.3 931.9h1.3M316.1 928.2h1.3M319.0 923.7h1.3M313.9 925.6h1.3M324.4 918.0h1.3M308.7 927.7h1.3M316.9 925.4h1.3M389.2 879.0h1.3M318.0 926.0h1.3M327.0 916.0h1.3M299.7 936.1h1.3M307.7 930.4h1.3M300.4 935.2h1.3M305.9 931.5h1.3M314.3 928.7h1.3M315.9 928.3h1.3M315.2 927.3h1.3M318.5 925.8h1.3M317.8 918.2h1.3M335.0 912.2h1.3M319.2 924.1h1.3M319.9 919.7h1.3M309.5 931.7h1.3M307.6 928.6h1.3M326.0 919.2h1.3M324.9 921.2h1.3M310.9 929.7h1.3M323.0 921.1h1.3M312.8 923.8h1.3M331.4 916.7h1.3M316.5 925.6h1.3M359.4 900.3h1.3M314.3 925.5h1.3M296.7 939.1h1.3M301.0 936.8h1.3M307.2 931.3h1.3M318.2 920.2h1.3M314.0 924.7h1.3M312.5 928.7h1.3M311.2 930.0h1.3M318.9 922.1h1.3M304.1 933.5h1.3M322.3 922.3h1.3M310.2 927.1h1.3M310.3 929.4h1.3M319.5 921.8h1.3M305.1 932.8h1.3M323.8 922.8h1.3M322.7 915.6h1.3M318.9 923.6h1.3M317.7 924.9h1.3M306.5 931.6h1.3M333.8 917.7h1.3M321.0 923.0h1.3M320.6 921.6h1.3M324.2 921.5h1.3M314.4 925.2h1.3M312.8 929.5h1.3M338.6 914.5h1.3M329.8 918.1h1.3M315.5 927.1h1.3M324.7 920.8h1.3M311.7 924.6h1.3M316.6 923.6h1.3M330.8 915.3h1.3M307.6 931.3h1.3M305.5 931.1h1.3M336.3 913.3h1.3M330.7 916.5h1.3M314.0 928.3h1.3M359.5 907.6h1.3M304.6 933.0h1.3M301.6 937.7h1.3M340.3 900.4h1.3M327.4 916.4h1.3M338.7 913.6h1.3M308.4 929.4h1.3M321.5 919.1h1.3M320.9 923.9h1.3M307.4 933.3h1.3M323.7 922.0h1.3M309.2 930.9h1.3M318.8 921.9h1.3M320.4 923.7h1.3M309.9 925.5h1.3M312.4 929.2h1.3M321.3 920.5h1.3M335.4 913.1h1.3M302.5 932.3h1.3M302.4 933.9h1.3M301.3 935.2h1.3M332.9 911.9h1.3M303.8 931.3h1.3M367.3 889.9h1.3M329.2 918.3h1.3M316.0 924.8h1.3M324.2 917.2h1.3M303.5 931.6h1.3M302.7 934.8h1.3M314.2 923.8h1.3M314.5 926.5h1.3M297.5 939.0h1.3M330.6 913.6h1.3M322.3 921.1h1.3M300.8 935.3h1.3M298.6 937.1h1.3M333.7 918.2h1.3M346.1 912.9h1.3M312.8 930.3h1.3M335.6 913.1h1.3M324.7 919.4h1.3M322.4 920.0h1.3M311.3 929.5h1.3M327.7 918.7h1.3M328.3 917.9h1.3M310.4 928.3h1.3M305.7 934.7h1.3M313.6 928.3h1.3M307.7 932.3h1.3M313.6 930.0h1.3M305.1 933.3h1.3M296.7 937.3h1.3M312.1 926.7h1.3M317.5 923.2h1.3M304.2 931.9h1.3M309.1 928.4h1.3M320.7 926.6h1.3M303.8 930.8h1.3M333.5 914.3h1.3M308.7 929.5h1.3M304.1 932.0h1.3M324.7 922.2h1.3M322.7 922.2h1.3M339.0 910.5h1.3M319.1 922.0h1.3M317.9 922.3h1.3M313.2 925.5h1.3M303.7 935.3h1.3M340.6 909.6h1.3M294.6 938.5h1.3M309.1 931.3h1.3M327.0 918.1h1.3M328.2 917.6h1.3M309.6 931.2h1.3M312.7 929.9h1.3M311.9 929.6h1.3M318.7 921.4h1.3M330.4 920.1h1.3M336.5 906.5h1.3M322.8 923.1h1.3M311.2 924.8h1.3M332.7 912.2h1.3M319.6 921.5h1.3M325.0 915.1h1.3M316.8 926.1h1.3M312.7 927.6h1.3M307.5 930.3h1.3M333.9 914.7h1.3M315.7 924.1h1.3M345.6 907.0h1.3M303.8 934.6h1.3M321.1 920.6h1.3M337.5 912.3h1.3M321.6 912.8h1.3M299.0 938.0h1.3M318.0 925.1h1.3M305.8 933.9h1.3M326.4 918.6h1.3M316.8 928.0h1.3M321.7 922.0h1.3M323.2 922.2h1.3M334.7 909.3h1.3M302.2 934.4h1.3M308.2 928.9h1.3M316.9 926.8h1.3M340.9 914.1h1.3M298.3 936.9h1.3M317.3 923.3h1.3M305.5 933.7h1.3M329.3 918.4h1.3M304.3 931.1h1.3M302.9 933.2h1.3M325.2 919.2h1.3M310.0 929.7h1.3M325.2 921.4h1.3M329.0 910.8h1.3M299.5 937.1h1.3M313.6 927.0h1.3M307.9 930.3h1.3M294.3 941.1h1.3M323.8 916.5h1.3M301.4 934.5h1.3M327.0 920.4h1.3M321.6 917.6h1.3M328.2 916.6h1.3M313.6 928.1h1.3M316.3 923.2h1.3M326.1 917.6h1.3M300.3 936.8h1.3M329.0 918.3h1.3M325.5 916.8h1.3M312.4 926.2h1.3M326.6 917.5h1.3M324.5 924.6h1.3M309.6 929.9h1.3M313.3 926.9h1.3M350.9 904.0h1.3M321.8 922.6h1.3M308.5 928.2h1.3M313.7 925.6h1.3M313.2 925.7h1.3M323.8 919.3h1.3M311.0 928.6h1.3M306.1 932.9h1.3M310.5 927.4h1.3M306.2 932.8h1.3M318.1 924.6h1.3M303.9 935.4h1.3M323.0 922.4h1.3M315.5 923.2h1.3M376.5 881.0h1.3M319.7 920.0h1.3M306.6 932.6h1.3M329.6 918.4h1.3M319.8 924.6h1.3M318.6 928.2h1.3M320.4 918.4h1.3M306.7 933.1h1.3M306.8 931.4h1.3M300.3 935.5h1.3M329.4 916.7h1.3M298.5 936.9h1.3M314.0 926.4h1.3M319.2 921.8h1.3M309.7 929.3h1.3M313.8 928.0h1.3M322.2 921.6h1.3M313.2 926.0h1.3M310.8 926.7h1.3M312.8 926.3h1.3M310.1 930.6h1.3M337.8 909.7h1.3M315.7 927.2h1.3M314.0 924.3h1.3M332.7 911.8h1.3M328.6 919.6h1.3M339.1 915.0h1.3M318.9 920.5h1.3M325.9 921.3h1.3M331.2 918.5h1.3M307.3 931.7h1.3M368.5 898.0h1.3M317.6 925.3h1.3M306.1 930.9h1.3M318.1 924.4h1.3M306.5 932.6h1.3M305.7 933.1h1.3M306.8 933.7h1.3M312.4 931.1h1.3M302.2 935.1h1.3M316.0 924.5h1.3M341.9 912.8h1.3M330.3 917.2h1.3M299.7 936.5h1.3M319.8 924.1h1.3M306.0 933.2h1.3M321.4 921.9h1.3M330.8 918.6h1.3M311.9 925.3h1.3M306.2 932.3h1.3M308.6 929.0h1.3M314.3 927.0h1.3M308.9 932.6h1.3M326.7 916.3h1.3M315.3 924.7h1.3M313.5 926.4h1.3M318.8 924.9h1.3M313.4 930.0h1.3M326.7 913.7h1.3M306.6 931.2h1.3M319.3 927.0h1.3M309.3 928.5h1.3M311.8 929.7h1.3M295.9 938.4h1.3M357.2 890.1h1.3M304.4 936.3h1.3M329.4 913.5h1.3M304.9 931.1h1.3M308.9 929.7h1.3M325.6 918.3h1.3M314.8 927.6h1.3M319.6 920.5h1.3M319.0 922.3h1.3M321.1 919.4h1.3M325.0 918.3h1.3M327.9 920.0h1.3M317.9 925.8h1.3M306.9 932.1h1.3M320.3 921.9h1.3M303.9 932.7h1.3M303.9 934.0h1.3M341.1 908.4h1.3M319.9 927.7h1.3M308.4 931.4h1.3M314.5 930.3h1.3M309.1 932.2h1.3M353.5 900.3h1.3M302.7 935.4h1.3M304.5 933.2h1.3M323.1 914.5h1.3M322.0 923.2h1.3M312.0 928.0h1.3M311.3 929.2h1.3M331.3 914.1h1.3M306.5 930.2h1.3M313.7 925.0h1.3M316.1 926.7h1.3M304.0 933.9h1.3M314.1 927.6h1.3M317.9 927.9h1.3M307.9 932.2h1.3M342.0 908.7h1.3M346.8 902.8h1.3M308.0 932.1h1.3M309.3 929.9h1.3M313.8 925.8h1.3M307.6 931.3h1.3M307.5 933.3h1.3M308.4 931.8h1.3M350.0 908.1h1.3M344.3 903.2h1.3M338.3 914.4h1.3M371.3 874.5h1.3M384.2 877.7h1.3M393.8 881.3h1.3M410.5 878.1h1.3M314.7 897.3h1.3M377.0 885.9h1.3M387.5 887.7h1.3M379.9 886.8h1.3M367.4 890.4h1.3M374.6 891.3h1.3M357.9 894.1h1.3M363.6 895.9h1.3M328.2 902.3h1.3M331.5 905.0h1.3M305.2 912.3h1.3" stroke="#000" stroke-width="1.3"/>
<polygon points="286.6,945.7 296.2,938.4 315.3,924.3 334.5,911.1 348.9,902.4 351.3,907.4 334.5,917.5 315.3,929.3 296.2,940.7" fill="#000"/>
<text x="467.0" y="845.1" font-size="16" fill="#000" font-weight="bold" stroke="#000" stroke-width="0.55">j</text>
<text x="497.0" y="846.1" font-size="9.3" textLength="152.8" lengthAdjust="spacingAndGlyphs">mtDNA coverage fold enrichment</text>
<path d="M550.6 850.5V945.4M597.6 850.5V945.4M644.6 850.5V945.4M503.6 922.7H650M503.6 900.0H650M503.6 877.3H650M503.6 854.6H650" fill="none" stroke="#ebebeb" stroke-width="0.8"/>
<path d="M527.1 850.5V945.4M574.1 850.5V945.4M621.1 850.5V945.4M503.6 934.0H650M503.6 911.4H650M503.6 888.6H650M503.6 865.9H650" fill="none" stroke="#f4f4f4" stroke-width="0.6"/>
<line x1="494.3" y1="945.4" x2="650.0" y2="945.4" stroke="#555" stroke-width="0.9"/>
<line x1="503.6" y1="850.3" x2="503.6" y2="952.3" stroke="#555" stroke-width="0.9"/>
<line x1="494.6" y1="945.4" x2="497.2" y2="945.4" stroke="#555" stroke-width="0.8"/>
<text x="490.4" y="948.8" font-size="9.3" text-anchor="end">0</text>
<line x1="494.6" y1="922.7" x2="497.2" y2="922.7" stroke="#555" stroke-width="0.8"/>
<text x="490.4" y="926.1" font-size="9.3" text-anchor="end">1</text>
<line x1="494.6" y1="900.0" x2="497.2" y2="900.0" stroke="#555" stroke-width="0.8"/>
<text x="490.4" y="903.4" font-size="9.3" text-anchor="end">2</text>
<line x1="494.6" y1="877.3" x2="497.2" y2="877.3" stroke="#555" stroke-width="0.8"/>
<text x="490.4" y="880.7" font-size="9.3" text-anchor="end">3</text>
<line x1="494.6" y1="854.6" x2="497.2" y2="854.6" stroke="#555" stroke-width="0.8"/>
<text x="490.4" y="858.0" font-size="9.3" text-anchor="end">4</text>
<text x="503.6" y="963.0" font-size="9.3" text-anchor="middle">0</text>
<line x1="550.6" y1="947.0" x2="550.6" y2="951.0" stroke="#bdbdbd" stroke-width="0.9"/>
<text x="550.6" y="963.0" font-size="9.3" text-anchor="middle">2,000</text>
<line x1="597.6" y1="947.0" x2="597.6" y2="951.0" stroke="#bdbdbd" stroke-width="0.9"/>
<text x="597.6" y="963.0" font-size="9.3" text-anchor="middle">4,000</text>
<line x1="644.6" y1="947.0" x2="644.6" y2="951.0" stroke="#bdbdbd" stroke-width="0.9"/>
<text x="644.6" y="963.0" font-size="9.3" text-anchor="middle">6,000</text>
<text x="497.0" y="979.4" font-size="9.3" textLength="154.4" lengthAdjust="spacingAndGlyphs">Cell rank (initial mtDNA coverage)</text>
<text x="476.6" y="899.7" font-size="9.4" text-anchor="middle" textLength="75.6" lengthAdjust="spacingAndGlyphs" transform="rotate(-90 476.6 899.7)">Fold enrichment</text>
<path d="M513.6 900.1h1.3M599.6 908.2h1.3M514.7 895.3h1.3M527.0 903.5h1.3M504.9 905.6h1.3M511.4 887.4h1.3M537.3 903.7h1.3M640.0 903.5h1.3M592.8 906.2h1.3M572.0 906.1h1.3M556.4 907.0h1.3M522.2 904.0h1.3M546.1 903.8h1.3M506.4 887.4h1.3M601.1 906.8h1.3M567.4 905.2h1.3M548.4 906.3h1.3M598.3 905.3h1.3M582.2 908.6h1.3M636.1 907.2h1.3M631.5 905.8h1.3M536.4 904.2h1.3M609.7 906.3h1.3M509.6 888.8h1.3M530.8 906.0h1.3M563.5 908.1h1.3M521.9 899.2h1.3M604.6 907.5h1.3M521.8 902.8h1.3M588.2 907.2h1.3M626.0 904.2h1.3M529.3 907.3h1.3M508.9 886.9h1.3M509.2 881.1h1.3M558.3 905.7h1.3M513.8 899.5h1.3M553.7 903.7h1.3M564.4 906.6h1.3M558.8 906.2h1.3M546.1 903.2h1.3M528.5 906.6h1.3M605.0 902.1h1.3M512.7 888.2h1.3M516.2 899.9h1.3M565.4 903.8h1.3M510.5 862.7h1.3M531.3 903.5h1.3M604.4 905.2h1.3M505.0 879.7h1.3M579.6 906.8h1.3M537.9 901.9h1.3M556.6 907.8h1.3M503.6 881.8h1.3M557.8 911.2h1.3M617.6 907.6h1.3M612.5 905.7h1.3M606.4 908.6h1.3M533.9 903.7h1.3M608.0 906.7h1.3M615.2 905.4h1.3M542.1 904.2h1.3M616.1 908.1h1.3M532.6 905.1h1.3M532.9 902.7h1.3M505.8 907.9h1.3M506.3 879.1h1.3M544.5 910.8h1.3M506.2 894.9h1.3M507.0 877.6h1.3M578.8 906.0h1.3M543.6 907.1h1.3M629.4 906.5h1.3M577.0 906.6h1.3M514.5 900.7h1.3M509.0 881.9h1.3M561.5 903.6h1.3M508.8 896.7h1.3M533.4 907.4h1.3M508.8 885.1h1.3M504.9 894.7h1.3M597.7 904.7h1.3M510.4 894.4h1.3M631.8 908.7h1.3M626.5 909.1h1.3M581.8 910.4h1.3M508.5 884.5h1.3M597.1 902.9h1.3M620.4 903.2h1.3M537.6 902.1h1.3M612.3 911.7h1.3M512.7 899.7h1.3M589.3 904.6h1.3M628.6 909.7h1.3M587.6 906.1h1.3M556.5 902.8h1.3M526.1 904.1h1.3M547.4 904.2h1.3M561.5 902.2h1.3M601.1 904.1h1.3M511.2 887.8h1.3M582.8 906.1h1.3M585.6 904.9h1.3M505.8 894.1h1.3M528.2 903.3h1.3M593.7 902.6h1.3M553.1 907.8h1.3M534.2 901.8h1.3M591.5 905.9h1.3M639.7 907.4h1.3M504.3 882.4h1.3M550.3 903.0h1.3M511.5 889.9h1.3M529.1 902.1h1.3M583.7 904.9h1.3M551.7 903.9h1.3M506.7 890.1h1.3M506.0 886.0h1.3M628.3 907.2h1.3M513.8 897.5h1.3M513.8 903.1h1.3M525.3 900.9h1.3M579.1 908.2h1.3M514.3 890.9h1.3M616.2 907.2h1.3M599.5 905.1h1.3M599.9 907.2h1.3M512.3 903.8h1.3M591.5 903.4h1.3M514.2 902.3h1.3M519.6 904.5h1.3M582.8 902.6h1.3M504.4 886.6h1.3M510.4 887.7h1.3M640.1 904.2h1.3M530.0 907.0h1.3M632.7 906.7h1.3M613.4 908.9h1.3M607.8 906.0h1.3M506.9 903.3h1.3M550.4 907.1h1.3M620.5 907.3h1.3M543.8 905.1h1.3M567.2 906.7h1.3M525.4 902.6h1.3M557.8 901.4h1.3M585.2 909.3h1.3M611.4 906.0h1.3M561.1 901.0h1.3M547.8 903.0h1.3M548.5 905.8h1.3M640.1 908.6h1.3M561.8 909.4h1.3M555.0 907.1h1.3M608.3 906.0h1.3M588.0 902.4h1.3M595.3 904.6h1.3M551.2 908.5h1.3M535.0 905.6h1.3M614.7 906.7h1.3M504.0 899.3h1.3M639.7 911.0h1.3M538.5 901.2h1.3M623.0 907.0h1.3M537.1 904.2h1.3M510.3 888.3h1.3M627.3 908.8h1.3M612.0 907.3h1.3M555.9 902.2h1.3M559.0 903.1h1.3M572.6 907.7h1.3M581.5 901.6h1.3M536.2 904.5h1.3M622.4 904.9h1.3M504.6 868.6h1.3M579.9 907.7h1.3M598.1 907.1h1.3M613.9 906.1h1.3M503.7 875.1h1.3M592.6 905.6h1.3M607.4 905.5h1.3M623.4 911.9h1.3M563.1 906.0h1.3M558.6 904.9h1.3M518.0 905.7h1.3M580.8 902.4h1.3M633.9 907.8h1.3M548.6 907.7h1.3M503.4 879.9h1.3M535.8 907.5h1.3M521.4 904.1h1.3M563.0 907.0h1.3M504.7 877.9h1.3M527.0 903.5h1.3M523.8 907.1h1.3M624.5 908.1h1.3M511.8 908.1h1.3M595.1 906.7h1.3M607.8 906.5h1.3M511.1 902.4h1.3M599.0 904.0h1.3M588.0 902.8h1.3M514.7 891.9h1.3M556.0 902.5h1.3M592.4 907.8h1.3M566.5 904.8h1.3M623.9 908.2h1.3M583.8 907.0h1.3M582.9 904.5h1.3M514.6 898.6h1.3M506.4 878.5h1.3M503.8 891.6h1.3M598.0 907.3h1.3M633.9 908.7h1.3M507.7 877.0h1.3M552.3 906.7h1.3M530.8 903.1h1.3M504.9 876.0h1.3M610.6 909.3h1.3M532.8 900.0h1.3M557.3 906.7h1.3M518.6 902.0h1.3M542.8 903.2h1.3M512.7 888.0h1.3M540.9 902.9h1.3M504.2 898.4h1.3M616.4 908.3h1.3M617.7 905.9h1.3M548.8 905.2h1.3M600.2 910.2h1.3M641.1 907.7h1.3M503.2 882.1h1.3M579.6 906.3h1.3M576.9 901.3h1.3M549.3 905.0h1.3M537.5 903.8h1.3M563.6 905.5h1.3M507.4 883.9h1.3M592.3 904.3h1.3M630.4 906.8h1.3M598.2 904.5h1.3M596.2 905.9h1.3M595.5 909.9h1.3M505.0 886.5h1.3M547.5 905.0h1.3M590.3 905.3h1.3M588.1 905.2h1.3M505.2 894.7h1.3M528.3 903.4h1.3M615.2 905.1h1.3M512.2 881.8h1.3M513.8 887.6h1.3M563.5 902.6h1.3M637.6 906.1h1.3M523.5 907.2h1.3M601.7 905.8h1.3M511.4 889.4h1.3M591.5 906.6h1.3M637.3 907.2h1.3M561.2 906.1h1.3M511.1 913.7h1.3M595.7 908.1h1.3M641.6 907.5h1.3M521.9 902.3h1.3M533.0 904.7h1.3M513.7 908.8h1.3M545.7 903.2h1.3M576.7 906.9h1.3M517.5 905.1h1.3M568.3 904.9h1.3M611.5 908.1h1.3M541.2 906.2h1.3M522.5 904.7h1.3M504.0 881.1h1.3M504.2 898.4h1.3M555.7 904.8h1.3M511.1 890.4h1.3M529.4 905.9h1.3M630.4 911.3h1.3M623.2 908.6h1.3M510.7 887.4h1.3M555.1 904.7h1.3M575.7 907.7h1.3M628.1 909.0h1.3M570.5 908.2h1.3M614.6 906.5h1.3M532.2 906.6h1.3M634.6 906.9h1.3M630.8 905.9h1.3M599.9 906.4h1.3M608.6 908.3h1.3M588.6 903.5h1.3M571.7 907.4h1.3M579.6 907.8h1.3M548.5 906.1h1.3M610.5 905.4h1.3M511.3 883.9h1.3M544.0 905.3h1.3M513.7 897.2h1.3M627.5 907.3h1.3M511.3 880.5h1.3M507.3 869.6h1.3M593.8 906.0h1.3M539.6 904.6h1.3M508.4 875.2h1.3M565.9 905.0h1.3M526.5 903.6h1.3M548.8 901.5h1.3M552.7 907.9h1.3M633.8 906.1h1.3M622.0 907.0h1.3M514.4 895.8h1.3M561.1 907.4h1.3M589.7 903.2h1.3M591.5 908.6h1.3M576.0 908.0h1.3M515.6 896.0h1.3M523.7 905.0h1.3M586.0 903.3h1.3M598.4 903.6h1.3M608.3 910.4h1.3M633.5 910.2h1.3M507.1 892.2h1.3M625.0 906.3h1.3M533.3 904.9h1.3M518.3 904.3h1.3M568.0 908.2h1.3M513.8 897.3h1.3M511.5 883.6h1.3M510.7 888.8h1.3M541.5 904.9h1.3M596.1 907.5h1.3M510.3 900.0h1.3M552.4 906.9h1.3M605.1 907.1h1.3M574.4 906.4h1.3M561.2 908.0h1.3M558.1 902.9h1.3M531.0 905.4h1.3M618.5 908.6h1.3M604.5 904.6h1.3M504.8 891.9h1.3M539.0 902.6h1.3M630.6 907.2h1.3M554.8 904.9h1.3M522.1 905.5h1.3M504.4 886.9h1.3M616.9 909.5h1.3M594.7 905.6h1.3M625.2 910.1h1.3M530.7 905.4h1.3M564.3 903.9h1.3M595.0 904.3h1.3M505.0 874.9h1.3M597.6 904.5h1.3M574.9 908.3h1.3M572.1 906.0h1.3M553.5 905.3h1.3M610.2 904.6h1.3M544.8 908.8h1.3M571.5 907.9h1.3M590.4 908.9h1.3M578.1 904.1h1.3M589.6 902.9h1.3M601.3 907.9h1.3M604.3 908.1h1.3M600.1 906.6h1.3M595.9 909.4h1.3M529.3 903.7h1.3M626.5 910.4h1.3M508.3 889.9h1.3M635.5 907.5h1.3M513.2 905.4h1.3M535.8 905.6h1.3M627.6 910.0h1.3M536.1 907.3h1.3M635.6 906.5h1.3M632.9 906.7h1.3M503.4 898.0h1.3M550.9 905.3h1.3M571.6 905.1h1.3M566.4 903.8h1.3M634.2 907.8h1.3M626.1 906.6h1.3M506.0 880.9h1.3M503.1 879.0h1.3M558.3 905.6h1.3M506.0 881.9h1.3M582.3 906.6h1.3M503.1 896.2h1.3M584.1 909.5h1.3M533.0 905.9h1.3M622.9 907.4h1.3M606.7 905.1h1.3M624.8 910.9h1.3M559.3 904.9h1.3M640.0 908.7h1.3M594.6 904.0h1.3M503.4 890.3h1.3M520.4 904.6h1.3M639.8 909.8h1.3M508.7 872.7h1.3M507.3 894.3h1.3M509.7 889.7h1.3M509.0 879.5h1.3M583.7 906.0h1.3M631.5 906.9h1.3M530.5 906.3h1.3M505.1 917.0h1.3M513.4 895.7h1.3M569.4 903.9h1.3M508.4 879.8h1.3M514.7 892.1h1.3M608.4 908.4h1.3M554.7 905.5h1.3M558.5 905.6h1.3M539.5 906.4h1.3M505.5 875.0h1.3M505.3 880.0h1.3M505.7 883.3h1.3M549.5 903.9h1.3M568.6 904.2h1.3M513.7 906.2h1.3M558.5 903.8h1.3M628.1 906.8h1.3M523.0 903.5h1.3M521.3 905.6h1.3M631.8 908.4h1.3M631.7 909.8h1.3M565.0 900.1h1.3M563.4 903.2h1.3M631.3 904.5h1.3M508.1 873.0h1.3M591.5 906.4h1.3M513.8 895.1h1.3M511.9 890.3h1.3M581.0 906.1h1.3M507.3 888.1h1.3M503.7 887.9h1.3M508.7 893.0h1.3M523.5 904.3h1.3M541.3 905.6h1.3M513.7 888.5h1.3M535.6 903.7h1.3M583.8 904.8h1.3M506.9 884.4h1.3M561.7 902.6h1.3M576.6 904.9h1.3M575.9 907.6h1.3M556.5 905.0h1.3M551.0 906.3h1.3M588.4 910.4h1.3M595.8 906.2h1.3M618.6 908.7h1.3M507.9 904.7h1.3M545.6 908.5h1.3M512.2 904.3h1.3M582.0 907.7h1.3M590.2 906.6h1.3M630.6 906.1h1.3M504.8 890.2h1.3M512.3 884.1h1.3M511.2 884.7h1.3M616.0 907.3h1.3M532.5 906.6h1.3M547.6 903.4h1.3M611.9 907.9h1.3M624.9 904.8h1.3M585.9 908.9h1.3M511.1 897.1h1.3M510.5 880.2h1.3M622.6 909.1h1.3M598.2 908.3h1.3M548.5 908.6h1.3M506.1 886.6h1.3M510.8 910.6h1.3M525.0 904.5h1.3M624.7 906.5h1.3M550.5 907.0h1.3M527.1 902.4h1.3M581.8 909.7h1.3M503.3 879.7h1.3M552.2 903.7h1.3M610.6 908.2h1.3M546.4 906.0h1.3M507.4 889.4h1.3M513.1 899.9h1.3M509.8 892.4h1.3M509.2 890.9h1.3M561.1 906.9h1.3M508.9 895.5h1.3M614.4 909.0h1.3M555.7 905.2h1.3M512.2 891.4h1.3M622.9 907.8h1.3M507.2 893.1h1.3M504.9 896.4h1.3M560.7 905.2h1.3M610.5 908.0h1.3M503.6 893.2h1.3M504.0 881.7h1.3M533.7 904.0h1.3M542.2 905.9h1.3M607.5 906.5h1.3M527.9 903.2h1.3M529.8 902.0h1.3M567.2 904.7h1.3M609.7 904.7h1.3M548.9 905.3h1.3M605.0 910.8h1.3M517.5 902.0h1.3M504.5 882.5h1.3M578.6 907.5h1.3M573.1 906.0h1.3M606.0 905.5h1.3M509.4 883.6h1.3M511.9 887.6h1.3M515.9 902.5h1.3M537.3 900.4h1.3M533.0 905.4h1.3M520.4 905.6h1.3M510.5 873.5h1.3M625.5 909.6h1.3M611.5 909.9h1.3M639.7 906.9h1.3M511.2 896.9h1.3M534.8 903.5h1.3M559.4 904.2h1.3M525.7 905.0h1.3M536.6 903.8h1.3M551.2 901.1h1.3M622.4 910.0h1.3M508.7 873.4h1.3M543.5 908.3h1.3M542.2 902.9h1.3M553.1 907.4h1.3M509.5 903.0h1.3M549.2 901.7h1.3M508.9 887.9h1.3M549.1 902.1h1.3M539.7 905.7h1.3M514.0 894.3h1.3M627.6 906.4h1.3M576.9 906.5h1.3M586.8 907.9h1.3M559.1 906.0h1.3M557.8 906.9h1.3M566.8 907.0h1.3M543.6 907.6h1.3M510.2 886.5h1.3M516.4 904.5h1.3M634.5 904.2h1.3M603.1 904.6h1.3M583.1 906.9h1.3M606.2 906.7h1.3M584.4 908.8h1.3M588.3 906.5h1.3M511.3 891.9h1.3M512.8 893.1h1.3M583.1 908.9h1.3M588.5 910.2h1.3M635.2 908.9h1.3M511.3 903.4h1.3M593.6 907.3h1.3M504.4 874.4h1.3M544.5 905.0h1.3M542.6 904.6h1.3M522.9 903.8h1.3M573.3 903.8h1.3M599.6 906.3h1.3M560.6 902.4h1.3M561.7 903.4h1.3M510.7 898.2h1.3M559.5 905.7h1.3M550.5 906.6h1.3M566.9 906.5h1.3M518.7 906.9h1.3M514.2 897.6h1.3M624.7 902.4h1.3M540.9 904.7h1.3M520.8 903.1h1.3M510.7 895.0h1.3M577.6 904.4h1.3M505.2 897.0h1.3M514.0 899.9h1.3M519.6 903.9h1.3M505.2 880.3h1.3M504.4 880.8h1.3M628.4 905.6h1.3M507.3 892.3h1.3M603.0 909.4h1.3M508.9 870.4h1.3M628.9 906.2h1.3M504.1 883.8h1.3M508.7 879.5h1.3M601.6 903.6h1.3M553.8 903.3h1.3M623.9 909.4h1.3M511.7 876.5h1.3M601.1 907.1h1.3M504.0 883.7h1.3M563.4 906.1h1.3M514.0 891.3h1.3M551.1 904.4h1.3M590.8 909.4h1.3M514.7 902.0h1.3M551.9 904.8h1.3M510.5 894.1h1.3M620.8 905.2h1.3M572.2 904.3h1.3M574.9 905.0h1.3M631.2 908.6h1.3M636.8 911.8h1.3M557.9 904.6h1.3M508.5 873.8h1.3M528.3 906.8h1.3M548.3 905.6h1.3M508.5 891.4h1.3M570.8 902.9h1.3M589.5 906.2h1.3M546.6 905.5h1.3M510.6 886.7h1.3M523.7 904.0h1.3M635.7 908.2h1.3M616.1 907.8h1.3M618.3 906.4h1.3M585.4 907.2h1.3M529.0 904.7h1.3M504.0 892.5h1.3M514.3 900.4h1.3M532.7 905.5h1.3M509.5 887.9h1.3M629.2 907.8h1.3M537.0 903.7h1.3M618.4 904.6h1.3M628.2 913.6h1.3M565.2 907.2h1.3M636.5 906.9h1.3M567.6 906.7h1.3M584.2 906.3h1.3M554.7 905.3h1.3M509.1 886.0h1.3M503.1 877.9h1.3M546.3 904.4h1.3M523.9 903.4h1.3M610.4 904.3h1.3M546.2 905.2h1.3M555.5 902.9h1.3M513.3 891.1h1.3M565.7 907.3h1.3M570.6 905.0h1.3M511.3 894.6h1.3M639.1 909.7h1.3M586.5 907.3h1.3M595.8 904.0h1.3M508.0 884.5h1.3M510.0 889.9h1.3M528.6 902.1h1.3M617.6 907.6h1.3M613.8 904.3h1.3M547.4 904.4h1.3M506.5 897.5h1.3M505.1 888.2h1.3M507.3 909.4h1.3M547.1 903.8h1.3M509.2 899.2h1.3M513.1 895.7h1.3M587.0 904.3h1.3M539.8 905.5h1.3M557.2 905.7h1.3M568.0 905.4h1.3M513.3 907.3h1.3M601.6 907.4h1.3M553.5 904.7h1.3M566.8 910.5h1.3M506.5 889.7h1.3M573.8 906.0h1.3M504.8 879.8h1.3M562.1 906.3h1.3M624.3 907.3h1.3M511.2 887.8h1.3M531.7 905.7h1.3M582.9 904.6h1.3M638.7 911.5h1.3M545.0 904.7h1.3M526.0 902.7h1.3M524.3 906.1h1.3M533.3 905.0h1.3M576.0 904.0h1.3M575.1 907.9h1.3M628.5 908.2h1.3M552.2 901.7h1.3M503.2 878.2h1.3M512.7 891.7h1.3M503.8 874.7h1.3M509.2 878.2h1.3M610.0 903.3h1.3M632.3 907.0h1.3M513.1 911.8h1.3M621.9 910.2h1.3M628.5 905.9h1.3M506.9 893.7h1.3M537.4 907.7h1.3M512.8 888.1h1.3M507.3 906.4h1.3M513.9 899.1h1.3M574.0 908.6h1.3M507.4 894.0h1.3M508.6 879.1h1.3M569.7 907.7h1.3M530.7 907.7h1.3M577.0 906.7h1.3M571.2 904.3h1.3M508.1 875.4h1.3M511.9 890.9h1.3M506.0 887.3h1.3M505.3 881.0h1.3M598.1 912.2h1.3M526.3 904.0h1.3M544.7 905.3h1.3M565.5 905.7h1.3M602.0 907.8h1.3M510.2 871.8h1.3M510.9 894.7h1.3M625.4 906.2h1.3M507.2 885.4h1.3M508.5 882.3h1.3M628.2 903.6h1.3M504.2 890.0h1.3M536.8 906.4h1.3M514.1 890.9h1.3M590.3 909.0h1.3M611.1 906.4h1.3M533.8 902.5h1.3M503.4 894.3h1.3M630.1 907.4h1.3M542.7 903.7h1.3M507.8 888.7h1.3M540.5 905.6h1.3M511.9 899.1h1.3M605.0 903.5h1.3M538.2 905.5h1.3M506.5 890.0h1.3M522.8 902.8h1.3M635.6 907.0h1.3M510.5 901.3h1.3M599.6 909.4h1.3M554.8 904.0h1.3M607.8 908.2h1.3M544.6 902.8h1.3M535.6 904.3h1.3M522.0 906.0h1.3M598.1 905.4h1.3M630.6 905.4h1.3M571.3 903.5h1.3M568.8 905.5h1.3M511.1 887.4h1.3M617.1 906.9h1.3M511.2 884.2h1.3M560.5 905.6h1.3M602.8 909.9h1.3M623.4 910.9h1.3M507.5 897.6h1.3M512.7 903.2h1.3M547.3 903.0h1.3M515.5 903.1h1.3M581.5 907.8h1.3M504.5 883.9h1.3M549.6 904.9h1.3M586.3 908.2h1.3M559.4 906.6h1.3M514.4 902.9h1.3M584.0 905.0h1.3M640.7 905.9h1.3M546.6 904.9h1.3M606.2 904.5h1.3M587.9 905.9h1.3M510.8 879.5h1.3M635.5 906.6h1.3M584.1 907.7h1.3M513.7 890.2h1.3M612.1 905.7h1.3M550.3 905.1h1.3M545.4 901.1h1.3M591.7 907.1h1.3M602.4 904.5h1.3M507.5 890.1h1.3M614.1 904.0h1.3M597.7 904.5h1.3M557.0 902.2h1.3M617.1 908.6h1.3M583.1 905.6h1.3M554.1 906.1h1.3M547.1 902.9h1.3M505.4 885.0h1.3M547.1 902.9h1.3M606.3 904.4h1.3M503.1 873.3h1.3M622.2 910.4h1.3M513.5 905.4h1.3M604.3 904.8h1.3M630.3 905.1h1.3M506.0 876.2h1.3M573.5 907.4h1.3M510.2 872.1h1.3M506.3 892.6h1.3M527.1 903.9h1.3M592.4 905.8h1.3M526.0 904.7h1.3M565.2 902.7h1.3M558.2 904.6h1.3M509.8 880.8h1.3M610.9 908.2h1.3M552.8 904.1h1.3M538.8 906.2h1.3M513.8 895.6h1.3M569.7 902.8h1.3M511.7 895.4h1.3M510.5 899.3h1.3M613.8 908.4h1.3M590.4 910.4h1.3M622.3 907.4h1.3M543.7 909.9h1.3M547.3 905.7h1.3M508.0 894.9h1.3M510.3 906.3h1.3M589.2 909.3h1.3M542.3 901.0h1.3M589.9 906.3h1.3M558.0 906.1h1.3M558.3 906.4h1.3M605.0 907.8h1.3M538.0 906.2h1.3M623.4 907.5h1.3M510.0 904.2h1.3M511.8 899.0h1.3M635.1 903.5h1.3M513.3 905.3h1.3M639.6 903.8h1.3M547.8 903.2h1.3M525.3 902.1h1.3M616.4 906.7h1.3M533.5 903.3h1.3M635.5 908.9h1.3M560.3 904.7h1.3M504.1 869.0h1.3M582.7 904.3h1.3M594.2 902.3h1.3M590.8 908.5h1.3M504.9 883.0h1.3M562.7 904.1h1.3M504.5 899.5h1.3M535.3 906.8h1.3M623.6 904.6h1.3M555.6 905.9h1.3M512.7 887.0h1.3M514.5 899.6h1.3M514.6 899.8h1.3M543.1 904.5h1.3M512.7 882.7h1.3M531.7 910.2h1.3M508.8 883.3h1.3M520.3 906.4h1.3M602.8 906.7h1.3M528.3 905.0h1.3M630.2 906.0h1.3M531.9 903.2h1.3M636.2 908.8h1.3M580.7 909.1h1.3M576.2 909.5h1.3M592.5 905.4h1.3M626.2 906.6h1.3M613.4 907.1h1.3M518.3 903.7h1.3M579.1 904.6h1.3M597.3 903.6h1.3M506.6 890.4h1.3M543.1 907.1h1.3M527.6 904.9h1.3M574.7 907.4h1.3M519.4 902.8h1.3M635.4 907.4h1.3M547.5 902.9h1.3M511.3 879.5h1.3M546.2 902.9h1.3M536.3 904.0h1.3M632.5 908.5h1.3M601.0 906.9h1.3M549.2 903.6h1.3M562.3 907.4h1.3M625.7 905.2h1.3M575.8 905.5h1.3M506.7 887.6h1.3M586.2 904.7h1.3M623.9 907.0h1.3M636.9 905.0h1.3M513.6 888.0h1.3M608.4 904.4h1.3M513.8 895.2h1.3M525.8 905.8h1.3M617.0 904.9h1.3M505.6 877.9h1.3M517.8 906.1h1.3M511.2 894.5h1.3M628.6 904.3h1.3M540.1 903.4h1.3M629.9 906.1h1.3M512.9 901.1h1.3M530.1 903.4h1.3M507.3 882.2h1.3M511.9 884.4h1.3M524.2 904.9h1.3M512.5 900.7h1.3M509.0 887.3h1.3M554.1 903.6h1.3M518.0 904.9h1.3M506.3 894.7h1.3M584.5 906.3h1.3M539.4 903.6h1.3M521.8 905.8h1.3M605.5 906.0h1.3M577.7 907.7h1.3M523.4 904.4h1.3M629.3 906.9h1.3M506.8 895.9h1.3M524.4 903.3h1.3M527.0 905.9h1.3M603.2 909.1h1.3M505.2 891.2h1.3M627.1 908.6h1.3M639.0 904.8h1.3M512.1 885.5h1.3M574.8 906.9h1.3M575.7 907.9h1.3M524.8 907.2h1.3M508.3 897.1h1.3M522.6 903.9h1.3M512.4 889.2h1.3M527.7 903.5h1.3M521.7 901.6h1.3M536.0 903.2h1.3M508.3 889.1h1.3M507.0 876.4h1.3M557.9 903.3h1.3M592.2 907.3h1.3M504.2 881.0h1.3M508.9 894.5h1.3M505.9 897.2h1.3M582.6 905.5h1.3M592.5 907.3h1.3M634.5 908.1h1.3M598.6 906.9h1.3M550.9 904.4h1.3M535.9 902.6h1.3M505.0 895.8h1.3M567.4 902.7h1.3M509.2 867.3h1.3M513.0 899.4h1.3M616.1 905.4h1.3M533.8 906.5h1.3M536.5 906.9h1.3M512.5 908.4h1.3M599.8 905.7h1.3M611.7 906.6h1.3M508.2 887.2h1.3M560.4 901.5h1.3M621.0 908.8h1.3M544.6 906.1h1.3M504.1 891.2h1.3M514.3 889.4h1.3M591.0 907.3h1.3M508.5 883.0h1.3M520.0 905.0h1.3M508.7 913.3h1.3M510.8 890.2h1.3M526.4 902.6h1.3M635.0 907.3h1.3M565.2 906.1h1.3M606.0 905.4h1.3M517.1 908.8h1.3M506.0 892.0h1.3M508.6 880.0h1.3M522.8 908.1h1.3M535.4 902.8h1.3M607.0 905.6h1.3M512.0 883.2h1.3M509.4 902.9h1.3M597.0 907.3h1.3M620.7 906.7h1.3M507.8 873.0h1.3M512.1 888.9h1.3M560.2 903.2h1.3M503.3 890.2h1.3M521.4 902.2h1.3M580.4 905.6h1.3M508.8 875.2h1.3M601.1 908.0h1.3M636.6 909.0h1.3M527.7 904.6h1.3M598.8 907.5h1.3M599.6 906.1h1.3M504.9 883.2h1.3M511.7 902.3h1.3M635.0 906.9h1.3M564.4 905.6h1.3M631.3 908.6h1.3M503.6 898.9h1.3M626.7 904.5h1.3M516.8 902.9h1.3M503.2 894.6h1.3M614.4 903.6h1.3M510.0 888.5h1.3M553.9 902.2h1.3M574.0 905.4h1.3M578.8 908.7h1.3M564.6 905.2h1.3M506.9 890.9h1.3M581.9 906.0h1.3M510.8 892.7h1.3M505.9 874.8h1.3M590.2 907.6h1.3M540.4 903.4h1.3M505.5 870.7h1.3M607.3 906.2h1.3M539.5 903.9h1.3M569.8 905.3h1.3M512.6 885.4h1.3M577.1 903.6h1.3M635.9 904.5h1.3M512.3 876.4h1.3M509.0 903.0h1.3M606.0 906.6h1.3M528.2 905.6h1.3M592.9 904.4h1.3M604.8 906.2h1.3M556.5 904.8h1.3M569.6 906.6h1.3M552.9 906.4h1.3M625.8 904.3h1.3M623.1 908.8h1.3M580.8 902.9h1.3M555.9 906.1h1.3M562.4 905.3h1.3M587.2 906.0h1.3M588.1 907.2h1.3M617.7 905.9h1.3M560.2 906.4h1.3M627.3 904.9h1.3M626.6 907.3h1.3M575.6 904.4h1.3M585.9 905.4h1.3M508.1 891.4h1.3M573.3 902.5h1.3M558.6 905.2h1.3M601.7 908.4h1.3M581.4 908.7h1.3M513.5 894.9h1.3M596.5 903.1h1.3M516.6 900.9h1.3M584.0 909.1h1.3M558.4 906.0h1.3M619.2 906.3h1.3M506.8 888.6h1.3M568.4 902.6h1.3M508.1 891.8h1.3M512.6 882.9h1.3M505.9 897.6h1.3M580.2 904.4h1.3M506.0 878.2h1.3M505.6 874.4h1.3M504.4 900.1h1.3M524.4 904.3h1.3M594.7 904.6h1.3M559.0 902.5h1.3M544.8 903.3h1.3M507.6 878.9h1.3M504.3 887.2h1.3M630.2 908.3h1.3M552.0 905.0h1.3M506.9 889.8h1.3M543.4 904.7h1.3M589.4 906.3h1.3M513.1 900.8h1.3M619.7 906.1h1.3M511.0 883.0h1.3M615.0 906.8h1.3M529.0 904.7h1.3M628.3 909.0h1.3M518.0 906.9h1.3M612.5 905.7h1.3M581.9 901.8h1.3M511.0 895.7h1.3M557.7 904.7h1.3M611.3 907.0h1.3M572.1 902.6h1.3M509.1 909.7h1.3M543.5 904.3h1.3M528.1 901.3h1.3M511.4 885.5h1.3M537.0 903.2h1.3M603.0 905.5h1.3M603.8 909.7h1.3M545.7 906.7h1.3M595.5 907.1h1.3M514.1 894.3h1.3M607.9 905.0h1.3M507.4 882.6h1.3M504.6 867.1h1.3M588.1 907.3h1.3M628.9 904.7h1.3M560.3 904.4h1.3M547.5 907.4h1.3M587.9 906.3h1.3M545.6 905.9h1.3M579.6 903.9h1.3M580.1 909.8h1.3M512.8 890.7h1.3M613.8 905.5h1.3M513.4 894.7h1.3M566.8 904.0h1.3M510.0 895.1h1.3M540.8 905.9h1.3M513.5 902.3h1.3M518.0 908.0h1.3M574.1 903.0h1.3M567.1 906.7h1.3M520.0 902.7h1.3M521.8 903.5h1.3M640.4 908.5h1.3M552.2 905.7h1.3M512.3 899.2h1.3M621.8 906.7h1.3M509.8 897.3h1.3M600.2 906.4h1.3M569.9 904.9h1.3M542.4 909.6h1.3M594.4 908.6h1.3M512.6 883.2h1.3M561.3 904.6h1.3M512.2 884.9h1.3M510.0 900.8h1.3M608.4 907.5h1.3M508.9 893.9h1.3M520.8 905.8h1.3M512.0 893.2h1.3M595.1 903.1h1.3M566.4 903.4h1.3M593.4 908.2h1.3M603.1 906.0h1.3M527.0 903.3h1.3M512.8 890.7h1.3M621.6 909.4h1.3M514.1 894.8h1.3M611.7 905.3h1.3M515.3 899.3h1.3M639.1 909.5h1.3M586.3 906.9h1.3M513.9 885.0h1.3M603.1 910.1h1.3M508.1 894.7h1.3M570.1 907.9h1.3M613.6 907.9h1.3M633.1 906.4h1.3M590.0 905.5h1.3M511.4 864.1h1.3M512.3 882.2h1.3M548.4 903.9h1.3M530.7 907.2h1.3M598.8 909.2h1.3M639.5 906.7h1.3M506.0 899.0h1.3M513.6 899.1h1.3M503.6 875.7h1.3M509.2 897.5h1.3M525.8 904.9h1.3M510.9 882.4h1.3M517.4 903.4h1.3M529.1 904.6h1.3M601.1 905.4h1.3M542.1 903.7h1.3M521.8 904.0h1.3M512.7 887.7h1.3M631.3 907.1h1.3M512.2 902.7h1.3M504.5 896.9h1.3M505.4 882.9h1.3M511.4 890.3h1.3M578.3 906.9h1.3M575.3 907.0h1.3M506.4 894.7h1.3M627.4 908.2h1.3M509.7 889.4h1.3M588.0 906.0h1.3M517.7 904.0h1.3M574.7 908.9h1.3M514.7 902.2h1.3M612.0 904.8h1.3M505.0 869.1h1.3M640.1 913.7h1.3M513.6 901.1h1.3M505.2 897.8h1.3M622.8 907.7h1.3M508.6 885.5h1.3M517.8 905.0h1.3M510.2 896.2h1.3M572.1 908.3h1.3M587.4 905.8h1.3M611.5 907.2h1.3M606.1 903.6h1.3M534.8 904.9h1.3M551.1 904.8h1.3M513.9 902.1h1.3M511.1 896.8h1.3M524.5 905.0h1.3M503.9 880.2h1.3M514.3 906.0h1.3M585.2 905.4h1.3M541.0 908.8h1.3M625.2 906.6h1.3M560.9 905.4h1.3M616.5 909.0h1.3M586.4 906.8h1.3M586.5 905.0h1.3M615.3 904.5h1.3M512.0 888.7h1.3M576.6 904.4h1.3M600.6 906.0h1.3M584.6 906.9h1.3M510.6 904.9h1.3M545.5 906.9h1.3M503.2 886.3h1.3M504.7 886.3h1.3M597.5 909.3h1.3M608.7 905.2h1.3M534.2 904.7h1.3M503.6 884.6h1.3M511.7 892.5h1.3M627.2 905.8h1.3M584.6 907.2h1.3M580.2 904.4h1.3M595.2 906.5h1.3M570.2 904.7h1.3M531.2 904.1h1.3M533.4 904.1h1.3M509.5 896.7h1.3M554.2 901.9h1.3M509.8 894.7h1.3M503.0 877.1h1.3M537.1 903.4h1.3M538.8 903.8h1.3M576.2 907.6h1.3M512.2 911.5h1.3M553.5 905.8h1.3M540.8 905.6h1.3M585.4 906.6h1.3M536.8 906.3h1.3M518.0 906.1h1.3M505.3 891.9h1.3M597.2 903.0h1.3M547.0 904.0h1.3M555.5 907.8h1.3M510.1 891.1h1.3M621.0 910.3h1.3M629.2 911.6h1.3M503.0 872.1h1.3M623.6 908.7h1.3M508.7 889.4h1.3M557.7 903.8h1.3M505.4 881.0h1.3M634.1 908.7h1.3M596.8 905.0h1.3M507.6 900.1h1.3M640.2 908.9h1.3M615.2 905.6h1.3M619.3 907.3h1.3M578.3 906.5h1.3M558.8 906.0h1.3M509.5 888.7h1.3M547.8 907.6h1.3M620.8 909.0h1.3M504.2 894.1h1.3M514.5 904.9h1.3M640.3 908.9h1.3M505.3 910.0h1.3M511.5 883.5h1.3M584.9 904.9h1.3M511.6 886.3h1.3M523.2 901.2h1.3M526.4 904.4h1.3M536.7 899.7h1.3M623.5 907.2h1.3M627.4 908.5h1.3M566.5 906.7h1.3M503.8 912.7h1.3M523.6 905.6h1.3M510.9 895.4h1.3M622.5 905.1h1.3M503.6 880.6h1.3M569.8 906.8h1.3M589.3 907.6h1.3M534.8 905.0h1.3M557.1 906.4h1.3M640.0 907.2h1.3M622.0 910.7h1.3M567.8 904.3h1.3M615.1 908.5h1.3M506.9 904.0h1.3M604.2 905.7h1.3M511.9 879.7h1.3M538.3 906.3h1.3M509.9 896.0h1.3M541.0 908.0h1.3M633.2 910.1h1.3M595.7 907.5h1.3M604.1 912.1h1.3M517.9 902.3h1.3M562.6 909.0h1.3M574.5 904.8h1.3M526.7 904.5h1.3M507.6 883.0h1.3M528.6 908.0h1.3M578.5 906.3h1.3M516.2 897.8h1.3M504.8 893.3h1.3M551.6 901.6h1.3M596.5 907.3h1.3M532.0 903.0h1.3M581.5 903.4h1.3M573.4 909.1h1.3M526.7 901.7h1.3M526.7 903.0h1.3M507.9 906.7h1.3M540.6 904.6h1.3M594.7 903.9h1.3M609.4 907.0h1.3M517.6 903.7h1.3M534.9 906.0h1.3M530.2 900.7h1.3M603.9 910.1h1.3M525.5 907.1h1.3M632.7 905.2h1.3M613.5 908.2h1.3M593.2 905.1h1.3M601.9 910.4h1.3M617.5 909.9h1.3M514.1 882.0h1.3M509.5 884.0h1.3M504.5 858.2h1.3M508.7 886.5h1.3M526.8 901.4h1.3M597.3 904.5h1.3M593.7 905.2h1.3M508.0 882.6h1.3M509.6 901.9h1.3M554.6 906.4h1.3M576.1 904.2h1.3M511.1 898.7h1.3M560.8 902.7h1.3M583.5 907.7h1.3M609.1 906.2h1.3M613.9 906.6h1.3M518.7 904.0h1.3M592.5 908.1h1.3M528.3 906.9h1.3M515.0 894.5h1.3M536.1 903.3h1.3M562.3 906.7h1.3M543.0 906.0h1.3M600.9 910.8h1.3M598.8 905.6h1.3M511.9 900.0h1.3M503.2 886.7h1.3M534.3 902.2h1.3M521.1 904.1h1.3M503.9 883.8h1.3M592.2 906.1h1.3M522.8 902.7h1.3M503.5 891.5h1.3M508.4 880.0h1.3M568.8 905.7h1.3M640.6 905.9h1.3M520.4 905.2h1.3M554.6 904.7h1.3M559.6 905.3h1.3M558.0 906.4h1.3M641.1 908.7h1.3M589.7 905.5h1.3M504.9 895.3h1.3M589.1 910.0h1.3M632.8 907.9h1.3M511.5 903.8h1.3M553.4 906.8h1.3M620.1 904.9h1.3M514.2 901.9h1.3M505.1 880.3h1.3M640.9 907.5h1.3M593.8 905.1h1.3M513.7 893.4h1.3M503.1 868.2h1.3M580.5 905.3h1.3M580.9 905.8h1.3M512.7 894.2h1.3M562.1 904.2h1.3M507.7 905.2h1.3M514.4 892.8h1.3M504.6 900.1h1.3M508.7 880.3h1.3M512.1 902.6h1.3M542.4 900.4h1.3M577.5 905.6h1.3M510.8 890.4h1.3M522.1 904.4h1.3M504.4 879.2h1.3M511.0 882.9h1.3M637.5 910.2h1.3M561.5 904.6h1.3M634.0 905.8h1.3M566.7 906.4h1.3M641.5 908.6h1.3M622.7 907.2h1.3M534.3 903.2h1.3M513.9 894.0h1.3M519.1 903.4h1.3M510.2 890.9h1.3M562.4 906.4h1.3M511.3 897.1h1.3M555.7 905.9h1.3M520.2 901.7h1.3M533.7 902.6h1.3M622.9 908.1h1.3M582.6 907.7h1.3M512.2 889.2h1.3M618.1 907.9h1.3M525.1 903.2h1.3M582.7 907.5h1.3M504.3 907.0h1.3M579.2 905.9h1.3M510.5 901.7h1.3M604.7 907.3h1.3M554.4 908.2h1.3M523.8 903.2h1.3M596.8 906.6h1.3M550.1 906.7h1.3M532.9 904.8h1.3M512.0 901.5h1.3M556.6 907.3h1.3M603.4 904.9h1.3M534.4 904.4h1.3M543.4 904.0h1.3M618.6 907.1h1.3M636.5 910.2h1.3M506.3 899.2h1.3M631.4 904.8h1.3M554.3 905.0h1.3M516.3 897.4h1.3M534.2 903.1h1.3M604.3 904.6h1.3M566.1 904.1h1.3M577.7 907.7h1.3M586.0 903.7h1.3M637.8 904.1h1.3M514.5 905.6h1.3M512.2 882.0h1.3M596.5 906.1h1.3M530.2 904.1h1.3M633.4 910.3h1.3M596.3 906.7h1.3M544.7 903.7h1.3M513.9 901.3h1.3M507.5 868.3h1.3M575.9 909.5h1.3M513.1 908.6h1.3M519.7 905.6h1.3M628.3 906.9h1.3M555.5 908.0h1.3M531.8 905.8h1.3M528.7 902.5h1.3M533.7 904.6h1.3M504.8 888.7h1.3M548.4 904.0h1.3M506.1 889.6h1.3M586.4 902.2h1.3M590.9 901.9h1.3M525.0 904.0h1.3M592.8 903.2h1.3M510.2 900.7h1.3M511.3 906.6h1.3M569.9 902.4h1.3M510.7 897.6h1.3M512.7 889.8h1.3M511.9 904.2h1.3M523.5 902.0h1.3M639.2 906.9h1.3M515.3 896.4h1.3M504.5 884.1h1.3M507.9 887.3h1.3M523.0 904.0h1.3M564.4 902.0h1.3M518.5 902.3h1.3M542.8 902.5h1.3M513.7 894.4h1.3M586.7 906.0h1.3M634.3 909.0h1.3M504.2 893.9h1.3M574.2 906.9h1.3M581.0 909.2h1.3M563.2 906.1h1.3M526.4 904.5h1.3M613.1 906.4h1.3M506.1 913.6h1.3M604.7 905.6h1.3M566.9 907.8h1.3M514.4 891.7h1.3M510.3 892.2h1.3M626.2 908.1h1.3M567.9 904.4h1.3M608.3 908.6h1.3M516.4 904.1h1.3M539.5 904.6h1.3M631.0 906.5h1.3M507.3 886.5h1.3M633.6 907.9h1.3M512.1 894.3h1.3M546.7 902.2h1.3M527.3 904.8h1.3M566.8 902.9h1.3M554.5 906.3h1.3M505.4 898.5h1.3M584.6 905.6h1.3M538.8 902.3h1.3M531.8 902.4h1.3M632.0 908.6h1.3M569.9 903.9h1.3M527.0 905.3h1.3M609.9 909.2h1.3M503.0 880.5h1.3M532.8 903.3h1.3M512.9 896.2h1.3M506.6 899.2h1.3M511.2 886.3h1.3M638.5 905.2h1.3M508.3 886.6h1.3M504.1 877.3h1.3M504.9 879.6h1.3M508.1 890.4h1.3M519.8 903.1h1.3M586.0 905.1h1.3M507.8 888.9h1.3M588.8 905.3h1.3M606.5 907.6h1.3M568.0 907.5h1.3M506.8 894.2h1.3M611.0 910.2h1.3M567.3 905.6h1.3M607.6 907.0h1.3M514.5 892.0h1.3M568.1 909.9h1.3M600.4 905.1h1.3M634.9 911.3h1.3M591.8 903.6h1.3M508.2 904.1h1.3M510.8 902.6h1.3M533.8 902.5h1.3M510.8 883.8h1.3M598.9 909.2h1.3M541.2 903.6h1.3M506.2 894.0h1.3M510.2 901.0h1.3M603.7 908.1h1.3M510.3 891.6h1.3M573.2 905.8h1.3M508.2 888.7h1.3M555.5 902.1h1.3M633.1 911.5h1.3M582.1 905.9h1.3M513.4 894.2h1.3M577.0 902.1h1.3M626.9 908.4h1.3M613.4 906.9h1.3M560.7 905.3h1.3M641.0 906.8h1.3M617.9 906.7h1.3M562.3 905.8h1.3M574.9 909.3h1.3M591.6 906.7h1.3M620.6 906.3h1.3M567.1 904.4h1.3M512.2 883.8h1.3M622.3 909.2h1.3M578.2 907.2h1.3M548.7 902.4h1.3M611.7 908.4h1.3M531.7 903.2h1.3M512.8 886.6h1.3M635.4 905.9h1.3M519.0 904.1h1.3M610.4 906.0h1.3M504.9 880.8h1.3M576.0 904.6h1.3M538.1 901.0h1.3M537.6 905.1h1.3M623.9 908.8h1.3M617.7 904.0h1.3M508.6 885.4h1.3M596.8 909.7h1.3M524.4 900.6h1.3M623.0 908.0h1.3M509.8 878.3h1.3M629.3 907.0h1.3M507.3 907.1h1.3M604.2 907.2h1.3M509.6 902.5h1.3M514.3 905.8h1.3M511.6 889.0h1.3M598.7 908.6h1.3M540.4 903.4h1.3M535.2 903.9h1.3M521.4 903.7h1.3M578.6 909.2h1.3M503.9 868.2h1.3M508.5 897.9h1.3M544.3 907.8h1.3M533.7 902.2h1.3M511.3 906.2h1.3M577.5 906.1h1.3M528.6 905.0h1.3M632.1 905.4h1.3M617.1 905.5h1.3M535.2 905.3h1.3M511.5 903.6h1.3M512.2 892.9h1.3M508.9 873.3h1.3M587.7 906.6h1.3M504.4 887.7h1.3M630.1 903.9h1.3M510.7 893.0h1.3M628.4 907.0h1.3M615.5 907.4h1.3M612.3 907.6h1.3M635.0 906.4h1.3M606.2 906.2h1.3M532.1 905.2h1.3M610.0 910.2h1.3M533.9 902.2h1.3M510.8 893.3h1.3M512.1 900.0h1.3M638.2 908.7h1.3M541.1 905.0h1.3M507.6 880.8h1.3M565.5 903.0h1.3M578.8 905.8h1.3M539.1 901.6h1.3M509.4 892.5h1.3M577.7 905.2h1.3M607.6 905.8h1.3M505.7 875.8h1.3M605.0 906.3h1.3M630.4 908.1h1.3M630.8 906.4h1.3M530.9 904.2h1.3M546.4 906.6h1.3M510.2 897.8h1.3M598.0 905.0h1.3M615.2 905.7h1.3M511.9 884.4h1.3M604.0 907.3h1.3M575.2 905.5h1.3M623.0 909.4h1.3M506.2 901.3h1.3M640.5 905.9h1.3M608.7 903.7h1.3M507.6 892.1h1.3M627.0 907.0h1.3M614.7 904.6h1.3M636.2 905.4h1.3M506.6 893.5h1.3M526.5 905.2h1.3M615.8 912.7h1.3M512.4 904.6h1.3M548.9 906.2h1.3M546.2 904.0h1.3M545.3 906.2h1.3M636.9 904.3h1.3M549.9 902.5h1.3M512.2 887.2h1.3M510.8 884.3h1.3M572.5 905.6h1.3M593.3 907.6h1.3M511.3 912.2h1.3M541.6 907.4h1.3M557.7 904.1h1.3M529.0 905.4h1.3M507.8 900.3h1.3M537.4 904.3h1.3M540.8 906.6h1.3M520.7 902.3h1.3M623.0 904.0h1.3M523.4 903.2h1.3M503.5 887.7h1.3M505.3 893.7h1.3M553.1 904.6h1.3M557.6 906.0h1.3M605.1 906.0h1.3M512.0 900.3h1.3M506.8 875.4h1.3M582.0 904.8h1.3M599.7 908.5h1.3M640.2 911.5h1.3M639.5 910.3h1.3M572.3 904.3h1.3M591.0 908.9h1.3M507.4 865.3h1.3M507.8 882.9h1.3M552.5 907.0h1.3M507.0 901.9h1.3M508.2 888.5h1.3M600.1 903.8h1.3M627.4 909.6h1.3M525.0 906.5h1.3M520.9 905.4h1.3M511.9 902.0h1.3M633.5 907.2h1.3M518.8 901.2h1.3M554.9 904.4h1.3M616.0 908.2h1.3M536.5 904.2h1.3M639.8 905.7h1.3M514.6 906.8h1.3M598.2 905.1h1.3M512.8 901.0h1.3M503.3 880.7h1.3M507.0 897.5h1.3M513.1 883.8h1.3M616.8 904.2h1.3M614.5 906.1h1.3M622.5 906.5h1.3M544.9 906.6h1.3M503.9 871.9h1.3M634.9 905.6h1.3M509.1 903.9h1.3M587.7 904.0h1.3M574.9 906.6h1.3M512.4 891.9h1.3M607.4 907.9h1.3M509.8 895.5h1.3M557.1 902.6h1.3M568.4 906.6h1.3M635.1 904.1h1.3M630.4 910.1h1.3M589.6 904.2h1.3M634.8 908.8h1.3M602.9 907.4h1.3M534.1 903.0h1.3M514.3 893.4h1.3M551.6 904.4h1.3M600.7 903.3h1.3M593.4 905.3h1.3M608.3 909.8h1.3M507.8 889.5h1.3M507.1 894.8h1.3M633.0 907.3h1.3M517.0 902.0h1.3M574.8 907.3h1.3M610.7 906.0h1.3M510.1 881.0h1.3M507.8 864.7h1.3M521.8 905.3h1.3M574.0 905.1h1.3M568.4 907.0h1.3M621.7 912.0h1.3M511.0 904.9h1.3M553.7 905.2h1.3M508.4 880.9h1.3M509.7 893.0h1.3M506.9 891.9h1.3M507.3 890.4h1.3M507.2 886.6h1.3M513.3 893.2h1.3M583.6 905.3h1.3M554.0 908.6h1.3M508.0 897.9h1.3M580.2 906.8h1.3M513.9 893.3h1.3M507.1 895.5h1.3M625.9 907.6h1.3M588.0 903.4h1.3M510.6 880.0h1.3M610.4 909.1h1.3M544.8 903.4h1.3M572.7 908.3h1.3M595.0 905.1h1.3M605.4 907.4h1.3M581.1 906.2h1.3M507.5 890.9h1.3M513.9 902.6h1.3M510.8 895.6h1.3M513.7 895.4h1.3M641.6 904.5h1.3M509.6 881.7h1.3M611.0 906.3h1.3M624.7 908.8h1.3M510.1 901.9h1.3M512.1 890.4h1.3M587.8 906.3h1.3M522.2 906.1h1.3M542.5 903.2h1.3M512.7 887.1h1.3M504.8 896.2h1.3M552.3 903.0h1.3M510.4 891.0h1.3M541.2 904.8h1.3M610.2 907.3h1.3M586.9 903.9h1.3M572.1 906.2h1.3M572.0 908.5h1.3M542.3 906.4h1.3M537.3 905.6h1.3M516.3 900.0h1.3M527.4 905.6h1.3M606.2 907.8h1.3M585.2 903.0h1.3M558.0 905.1h1.3M621.5 906.4h1.3M559.4 905.7h1.3M626.8 906.8h1.3M509.8 898.1h1.3M513.6 894.3h1.3M562.5 904.6h1.3M626.9 907.1h1.3M513.7 893.6h1.3M557.2 904.4h1.3M514.3 891.9h1.3M587.7 909.3h1.3M641.6 908.2h1.3M541.3 904.3h1.3M576.1 905.3h1.3M585.5 908.7h1.3M510.0 892.8h1.3M629.7 906.3h1.3M633.8 910.3h1.3M616.8 904.8h1.3M509.4 879.5h1.3M622.6 905.9h1.3M506.9 918.0h1.3M503.1 897.0h1.3M524.2 899.5h1.3M579.4 905.1h1.3M579.6 903.1h1.3M572.5 906.7h1.3M566.2 909.6h1.3M512.7 888.1h1.3M577.8 904.3h1.3M506.1 912.6h1.3M612.0 910.9h1.3M509.3 880.0h1.3M514.7 898.6h1.3M573.6 903.2h1.3M513.3 895.8h1.3M568.4 904.3h1.3M606.5 907.9h1.3M607.2 909.0h1.3M616.1 906.4h1.3M600.4 903.8h1.3M524.9 904.2h1.3M504.1 878.3h1.3M534.6 902.6h1.3M505.8 892.9h1.3M581.2 902.5h1.3M533.1 902.7h1.3M623.3 906.3h1.3M534.1 901.1h1.3M563.3 904.6h1.3M506.5 878.5h1.3M613.6 909.2h1.3M543.7 904.3h1.3M514.4 901.6h1.3M604.0 908.6h1.3M592.0 907.0h1.3M510.2 903.7h1.3M593.7 907.4h1.3M563.6 901.5h1.3M581.0 903.5h1.3M509.9 870.2h1.3M511.0 897.7h1.3M589.0 903.8h1.3M507.4 894.4h1.3M590.6 910.9h1.3M519.5 902.9h1.3M539.2 898.8h1.3M640.2 908.8h1.3M505.8 890.8h1.3M565.3 905.4h1.3M546.8 905.7h1.3M510.8 895.5h1.3M594.6 904.9h1.3M603.5 907.1h1.3M619.0 902.9h1.3M613.5 908.0h1.3M503.2 874.8h1.3M608.0 908.6h1.3M510.1 885.1h1.3M506.2 891.2h1.3M598.9 908.4h1.3M580.8 906.0h1.3M635.2 906.4h1.3M602.5 904.6h1.3M554.2 904.6h1.3M509.8 875.5h1.3M615.6 907.4h1.3M506.0 867.0h1.3M553.5 904.2h1.3M580.5 908.8h1.3M546.4 903.5h1.3M506.3 877.6h1.3M552.0 906.3h1.3M513.1 890.2h1.3M595.3 904.0h1.3M525.3 904.9h1.3M619.8 907.4h1.3M557.7 904.9h1.3M610.7 907.4h1.3M592.6 903.0h1.3M512.8 894.8h1.3M582.8 904.7h1.3M509.8 894.1h1.3M584.1 905.8h1.3M506.3 897.0h1.3M535.2 905.2h1.3M534.6 904.1h1.3M517.7 904.3h1.3M583.3 903.9h1.3M615.0 909.1h1.3M514.6 910.0h1.3M594.6 905.3h1.3M562.6 906.1h1.3M510.5 899.4h1.3M514.4 899.5h1.3M570.6 909.0h1.3M506.2 896.2h1.3M507.7 877.7h1.3M534.3 902.7h1.3M504.1 882.7h1.3M552.6 906.7h1.3M605.4 908.8h1.3M576.7 907.9h1.3M641.5 905.9h1.3M559.6 905.9h1.3M628.0 907.8h1.3M504.5 889.8h1.3M550.2 905.6h1.3M544.9 902.4h1.3M508.8 870.4h1.3M600.3 907.8h1.3M594.8 905.6h1.3M504.3 909.0h1.3M542.3 908.1h1.3M530.7 902.1h1.3M640.1 907.0h1.3M503.6 878.0h1.3M504.7 895.0h1.3M510.2 889.2h1.3M634.2 907.7h1.3M609.0 904.3h1.3M610.3 907.0h1.3M503.7 895.6h1.3M629.0 909.8h1.3M529.5 906.1h1.3M511.8 902.1h1.3M599.5 909.6h1.3M511.7 900.9h1.3M576.2 908.2h1.3M587.1 908.0h1.3M577.3 903.3h1.3M576.6 906.5h1.3M504.8 881.7h1.3M505.2 879.4h1.3M588.9 903.8h1.3M507.7 895.0h1.3M593.9 905.1h1.3M581.1 904.3h1.3M590.2 905.8h1.3M599.1 909.5h1.3M611.8 908.6h1.3M552.2 906.1h1.3M508.5 880.7h1.3M602.4 904.1h1.3M534.9 902.3h1.3M541.8 900.8h1.3M630.6 906.1h1.3M605.5 909.3h1.3M575.5 906.0h1.3M507.6 896.9h1.3M640.0 910.1h1.3M586.9 903.5h1.3M570.3 910.3h1.3M585.1 905.8h1.3M609.1 909.3h1.3M572.8 906.9h1.3M601.6 909.9h1.3M587.9 902.7h1.3M507.7 888.7h1.3M523.9 902.3h1.3M506.9 883.7h1.3M577.5 907.6h1.3M606.2 906.1h1.3M600.2 906.5h1.3M503.6 873.9h1.3M525.2 901.5h1.3M503.3 898.2h1.3M578.0 907.7h1.3M580.8 905.5h1.3M503.9 905.3h1.3M625.2 906.9h1.3M632.4 909.0h1.3M504.5 894.0h1.3M507.7 898.7h1.3M566.4 904.3h1.3M507.6 886.0h1.3M507.0 879.2h1.3M510.9 894.7h1.3M564.5 904.2h1.3M637.4 904.9h1.3M517.4 904.0h1.3M564.4 907.9h1.3M611.5 908.5h1.3M503.7 890.7h1.3M594.5 904.9h1.3M543.7 904.2h1.3M503.8 891.9h1.3M631.1 906.9h1.3M580.8 902.5h1.3M584.2 909.7h1.3M612.0 908.8h1.3M511.1 894.6h1.3M614.1 902.6h1.3M621.6 907.6h1.3M612.2 911.8h1.3M536.1 903.8h1.3M580.3 908.8h1.3M503.2 886.3h1.3M570.7 905.6h1.3M585.0 908.3h1.3M605.7 906.0h1.3M575.8 904.5h1.3M535.7 907.5h1.3M641.1 906.4h1.3M514.6 894.1h1.3M566.3 903.4h1.3M548.7 905.8h1.3M558.4 907.0h1.3M503.3 902.7h1.3M599.8 906.4h1.3M505.5 888.7h1.3M591.6 906.3h1.3M635.5 906.5h1.3M511.6 892.9h1.3M512.0 896.2h1.3M604.2 908.1h1.3M584.4 904.9h1.3M509.9 914.2h1.3M598.0 907.9h1.3M573.5 904.7h1.3M512.2 891.3h1.3M519.4 906.4h1.3M571.0 909.0h1.3M519.0 904.9h1.3M531.5 904.1h1.3M512.2 901.0h1.3M582.4 905.9h1.3M544.3 903.5h1.3M571.0 905.1h1.3M511.8 893.8h1.3M567.6 905.7h1.3M577.3 905.8h1.3M534.3 904.3h1.3M520.3 904.5h1.3M607.8 910.7h1.3M573.6 906.9h1.3M510.5 888.5h1.3M623.7 904.7h1.3M503.9 894.0h1.3M541.1 905.6h1.3M616.4 906.0h1.3M552.6 905.9h1.3M507.9 891.9h1.3M504.3 873.4h1.3M630.9 904.6h1.3M565.2 906.5h1.3M536.8 905.0h1.3M577.7 905.4h1.3M608.7 909.1h1.3M507.2 888.5h1.3M514.8 884.7h1.3M561.6 903.6h1.3M641.0 904.9h1.3M578.0 905.7h1.3M578.4 905.8h1.3M505.9 889.2h1.3M506.1 884.1h1.3M510.9 886.9h1.3M508.5 892.7h1.3M553.5 905.3h1.3M509.8 900.5h1.3M626.3 906.3h1.3M514.6 891.1h1.3M601.7 907.8h1.3M558.3 904.7h1.3M507.9 895.7h1.3M531.8 906.1h1.3M641.6 903.7h1.3M635.1 911.8h1.3M591.1 907.1h1.3M503.2 877.6h1.3M513.7 905.0h1.3M592.5 906.1h1.3M504.5 873.2h1.3M510.4 892.9h1.3M508.5 905.3h1.3M572.2 907.4h1.3M602.8 906.3h1.3M591.5 908.1h1.3M579.6 907.5h1.3M566.6 907.4h1.3M639.4 909.6h1.3M633.6 904.0h1.3M612.6 909.5h1.3M503.2 907.4h1.3M599.8 905.9h1.3M503.0 897.7h1.3M584.5 908.4h1.3M507.3 888.0h1.3M506.3 877.9h1.3M619.5 906.2h1.3M531.0 902.5h1.3M508.5 891.5h1.3M511.9 883.4h1.3M509.8 882.4h1.3M509.5 885.9h1.3M510.9 866.0h1.3M523.8 902.3h1.3M512.6 902.2h1.3M510.7 876.4h1.3M513.2 894.5h1.3M626.7 909.2h1.3M537.6 904.2h1.3M516.4 906.4h1.3M563.1 906.5h1.3M633.8 905.2h1.3M505.5 875.3h1.3M521.9 905.7h1.3M544.6 906.0h1.3M630.8 905.6h1.3M506.5 889.3h1.3M514.6 897.0h1.3M625.2 906.4h1.3M636.3 910.0h1.3M506.6 876.9h1.3M555.6 902.0h1.3M547.9 904.5h1.3M553.1 903.8h1.3M508.9 893.6h1.3M504.6 885.8h1.3M533.5 904.5h1.3M598.3 905.5h1.3M541.3 906.1h1.3M584.7 904.0h1.3M514.3 895.0h1.3M508.8 893.4h1.3M509.8 893.8h1.3M534.8 901.5h1.3M524.1 900.3h1.3M539.6 904.5h1.3M522.1 906.8h1.3M571.4 907.3h1.3M507.2 897.2h1.3M575.2 901.4h1.3M521.0 904.2h1.3M565.1 906.6h1.3M514.4 892.1h1.3M613.3 905.6h1.3M627.9 906.8h1.3M592.3 910.1h1.3M568.6 905.2h1.3M576.9 905.7h1.3M512.2 887.4h1.3M526.3 902.9h1.3M514.6 901.6h1.3M506.7 889.2h1.3M609.5 907.4h1.3M640.0 907.9h1.3M583.8 902.9h1.3M536.7 904.9h1.3M585.4 904.6h1.3M582.6 906.3h1.3M536.6 904.8h1.3M544.5 906.6h1.3M573.7 905.0h1.3M510.8 894.7h1.3M619.9 910.6h1.3M575.3 902.8h1.3M576.2 905.1h1.3M585.1 902.6h1.3M538.5 905.0h1.3M512.3 890.7h1.3M576.7 904.9h1.3M543.0 904.1h1.3M598.3 905.2h1.3M570.0 905.0h1.3M504.7 892.7h1.3M609.5 906.3h1.3M507.8 885.6h1.3M632.4 907.9h1.3M573.7 904.8h1.3M623.6 905.4h1.3M508.4 880.9h1.3M623.6 908.2h1.3M630.4 907.3h1.3M542.1 905.2h1.3M505.3 889.3h1.3M508.7 888.6h1.3M513.2 894.7h1.3M512.1 892.7h1.3M622.9 909.6h1.3M504.2 887.3h1.3M503.6 897.6h1.3M572.1 904.6h1.3M557.7 906.1h1.3M623.4 908.9h1.3M623.6 907.5h1.3M635.9 906.7h1.3M581.4 902.8h1.3M546.0 904.0h1.3M506.7 884.8h1.3M553.9 903.2h1.3M513.1 891.9h1.3M600.4 906.4h1.3M572.2 905.1h1.3M507.6 892.4h1.3M611.7 907.1h1.3M601.3 909.0h1.3M504.1 875.7h1.3M507.5 897.7h1.3M512.9 892.1h1.3M618.7 905.8h1.3M634.5 907.3h1.3M553.9 903.3h1.3M616.1 907.3h1.3M511.8 897.4h1.3M575.0 904.2h1.3M622.9 906.5h1.3M503.9 882.1h1.3M505.4 876.2h1.3M589.5 903.4h1.3M512.1 914.0h1.3M555.5 906.3h1.3M628.1 904.7h1.3M624.2 906.9h1.3M569.9 906.4h1.3M513.6 900.1h1.3M512.8 908.0h1.3M509.4 900.4h1.3M577.8 903.3h1.3M514.0 911.1h1.3M623.3 907.4h1.3M504.1 879.4h1.3M541.4 906.2h1.3M580.9 906.2h1.3M506.4 879.9h1.3M513.4 891.0h1.3M630.6 911.2h1.3M623.6 908.4h1.3M508.1 887.6h1.3M579.2 903.5h1.3M507.6 885.7h1.3M506.8 887.9h1.3M551.8 905.5h1.3M524.8 905.3h1.3M507.7 900.6h1.3M579.5 904.8h1.3M542.2 903.1h1.3M549.5 906.2h1.3M638.2 905.1h1.3M592.4 905.8h1.3M505.0 887.0h1.3M596.8 905.8h1.3M510.3 886.2h1.3M619.0 907.4h1.3M557.2 907.4h1.3M621.0 907.1h1.3M506.5 897.4h1.3M581.6 905.9h1.3M582.9 907.3h1.3M503.3 899.8h1.3M544.1 906.1h1.3M503.7 872.9h1.3M546.8 902.6h1.3M513.9 889.8h1.3M511.3 878.3h1.3M524.7 904.6h1.3M548.6 905.5h1.3M520.0 905.4h1.3M509.8 894.1h1.3M586.7 907.5h1.3M616.2 906.9h1.3M512.2 908.2h1.3M629.0 906.1h1.3M582.2 905.1h1.3M525.6 900.6h1.3M562.1 907.6h1.3M563.3 900.6h1.3M548.0 903.9h1.3M508.1 879.7h1.3M503.8 880.4h1.3M616.2 907.3h1.3M579.9 906.3h1.3M557.4 902.6h1.3M624.7 909.8h1.3M539.6 905.9h1.3M554.5 902.4h1.3M508.9 889.6h1.3M534.6 904.8h1.3M531.7 903.9h1.3M596.3 906.8h1.3M597.4 910.6h1.3M514.2 909.5h1.3M579.8 904.8h1.3M545.3 903.7h1.3M586.9 907.0h1.3M625.4 907.6h1.3M555.4 906.9h1.3M533.0 906.9h1.3M614.1 908.5h1.3M504.8 889.3h1.3M627.2 906.7h1.3M509.8 879.0h1.3M595.8 907.2h1.3M513.2 897.9h1.3M512.1 893.1h1.3M614.0 909.1h1.3M508.2 899.9h1.3M533.4 906.3h1.3M527.7 904.3h1.3M599.6 903.8h1.3M621.3 910.6h1.3M586.6 906.0h1.3M504.3 894.7h1.3M506.1 891.7h1.3M610.4 904.9h1.3M580.8 906.0h1.3M577.5 904.7h1.3M574.9 904.3h1.3M625.4 903.9h1.3M508.8 892.2h1.3M597.0 907.1h1.3M510.3 896.4h1.3M566.8 905.0h1.3M541.0 903.5h1.3M551.9 902.8h1.3M556.1 902.3h1.3M513.4 900.9h1.3M511.4 885.7h1.3M513.9 890.1h1.3M531.4 904.7h1.3M506.6 882.0h1.3M540.4 903.8h1.3M608.9 906.7h1.3M565.9 908.0h1.3M573.9 909.3h1.3M504.8 897.1h1.3M637.4 909.2h1.3M619.9 909.3h1.3M507.9 888.4h1.3M608.1 904.6h1.3M510.1 886.9h1.3M578.3 905.7h1.3M506.7 890.6h1.3M631.3 904.5h1.3M519.7 904.9h1.3M631.1 908.1h1.3M504.7 882.0h1.3M539.3 902.2h1.3M602.1 904.1h1.3M554.6 903.3h1.3M578.0 907.5h1.3M567.6 902.9h1.3M575.9 904.0h1.3M509.6 878.5h1.3M588.1 906.3h1.3M610.0 907.2h1.3M613.8 906.4h1.3M586.4 906.1h1.3M612.5 904.8h1.3M543.6 904.2h1.3M507.5 902.7h1.3M562.2 903.7h1.3M627.6 907.7h1.3M634.7 904.7h1.3M508.2 914.5h1.3M508.1 891.6h1.3M503.7 886.4h1.3M571.6 906.5h1.3M588.8 908.1h1.3M539.5 906.6h1.3M526.8 898.2h1.3M547.0 902.8h1.3M605.9 906.0h1.3M514.4 891.1h1.3M541.4 901.4h1.3M512.2 886.5h1.3M504.8 903.8h1.3M630.4 905.6h1.3M572.5 907.7h1.3M517.3 901.6h1.3M577.8 905.5h1.3M557.8 904.4h1.3M510.3 905.3h1.3M604.6 905.2h1.3M528.0 899.7h1.3M624.4 906.2h1.3M626.5 911.0h1.3M549.7 906.9h1.3M508.9 888.3h1.3M587.9 903.4h1.3M504.4 880.7h1.3M617.1 907.7h1.3M565.8 904.0h1.3M504.3 898.9h1.3M505.8 878.2h1.3M524.3 903.1h1.3M640.3 905.8h1.3M504.0 873.4h1.3M582.3 909.1h1.3M625.6 905.8h1.3M549.6 904.6h1.3M543.5 904.6h1.3M627.3 907.4h1.3M618.7 908.0h1.3M592.4 905.2h1.3M599.5 904.8h1.3M511.6 885.8h1.3M507.1 890.6h1.3M636.6 911.0h1.3M613.5 909.0h1.3M527.2 905.3h1.3M540.7 904.9h1.3M516.7 900.2h1.3M519.2 904.8h1.3M507.4 892.9h1.3M626.2 904.2h1.3M574.3 905.4h1.3M560.8 903.7h1.3M590.4 907.8h1.3M543.1 902.9h1.3M528.0 904.5h1.3M589.4 904.6h1.3M503.5 882.7h1.3M519.2 902.2h1.3M634.7 908.7h1.3M601.2 908.0h1.3M555.3 909.4h1.3M601.2 909.6h1.3M595.3 907.1h1.3M504.8 897.2h1.3M575.2 910.6h1.3M573.1 906.4h1.3M633.7 905.8h1.3M607.8 906.9h1.3M526.3 902.9h1.3M594.4 907.2h1.3M542.7 906.3h1.3M521.4 902.7h1.3M507.9 890.3h1.3M514.3 895.1h1.3M547.8 903.7h1.3M607.0 907.2h1.3M620.4 907.1h1.3M538.8 903.1h1.3M587.1 906.4h1.3M565.5 905.0h1.3M514.1 896.5h1.3M538.8 903.6h1.3M579.3 904.7h1.3M507.5 888.4h1.3M635.6 910.0h1.3M568.1 904.0h1.3M589.6 905.2h1.3M612.2 905.9h1.3M632.8 907.4h1.3M511.7 900.7h1.3M541.3 907.6h1.3M541.7 905.3h1.3M599.0 907.8h1.3M577.7 904.5h1.3M571.9 906.9h1.3M503.7 897.4h1.3M604.3 905.0h1.3M599.7 905.4h1.3M517.6 905.3h1.3M543.7 906.9h1.3M541.0 905.4h1.3M608.4 906.1h1.3M504.2 873.8h1.3M592.9 907.0h1.3M534.7 906.2h1.3M537.9 905.4h1.3M503.5 882.9h1.3M571.4 906.3h1.3M505.2 894.3h1.3M585.6 905.8h1.3M586.4 903.0h1.3M512.1 886.3h1.3M550.9 907.5h1.3M557.7 904.7h1.3M539.5 905.0h1.3M503.4 889.1h1.3M545.9 904.4h1.3M593.6 904.5h1.3M575.1 907.6h1.3M549.9 904.4h1.3M510.8 890.8h1.3M627.5 906.2h1.3M536.3 906.2h1.3M566.6 904.2h1.3M565.6 903.6h1.3M580.7 905.9h1.3M514.6 899.1h1.3M614.2 908.8h1.3M537.8 904.6h1.3M556.3 900.1h1.3M616.6 905.6h1.3M569.5 908.1h1.3M551.9 906.5h1.3M551.9 904.9h1.3M590.2 905.7h1.3M505.9 872.8h1.3M538.5 905.0h1.3M511.4 898.1h1.3M578.3 905.6h1.3M620.8 906.3h1.3M527.5 907.9h1.3M510.1 888.4h1.3M508.1 889.5h1.3M513.5 893.9h1.3M503.8 896.3h1.3M530.4 905.1h1.3M508.9 886.6h1.3M609.5 902.7h1.3M521.2 903.4h1.3M591.0 909.5h1.3M572.9 906.4h1.3M615.4 909.7h1.3M574.6 903.4h1.3M634.1 907.0h1.3M634.2 908.0h1.3M526.4 903.5h1.3M605.7 907.0h1.3M512.0 880.8h1.3M511.1 902.8h1.3M526.3 903.6h1.3M589.7 906.7h1.3M574.5 904.3h1.3M506.8 886.2h1.3M510.6 891.3h1.3M595.5 905.5h1.3M558.3 906.3h1.3M584.4 906.6h1.3M507.1 891.3h1.3M625.9 907.5h1.3M505.5 895.6h1.3M512.4 868.5h1.3M512.9 878.9h1.3M508.5 905.0h1.3M598.3 910.3h1.3M569.8 903.1h1.3M626.7 909.0h1.3M521.0 899.9h1.3M510.0 873.5h1.3M614.6 906.8h1.3M578.9 905.8h1.3M555.0 905.5h1.3M544.4 904.4h1.3M507.1 896.8h1.3M633.9 907.9h1.3M588.7 905.2h1.3M504.0 879.0h1.3M612.0 902.2h1.3M508.9 898.3h1.3M508.5 899.2h1.3M550.4 903.4h1.3M507.2 886.1h1.3M626.6 909.3h1.3M564.8 905.8h1.3M641.3 910.0h1.3M516.9 905.7h1.3M513.7 905.7h1.3M567.1 905.2h1.3M638.2 907.3h1.3M520.5 906.5h1.3M589.9 904.9h1.3M579.4 906.7h1.3M558.4 904.3h1.3M527.7 892.6h1.3M535.9 893.7h1.3M554.7 888.0h1.3M568.8 894.9h1.3M599.4 883.5h1.3M618.1 896.0h1.3M506.5 858.5h1.3M503.7 851.7h1.3M510.1 869.9h1.3M587.6 898.3h1.3M543.0 897.1h1.3" stroke="#000" stroke-width="1.3"/>
<polygon points="517.7,901.6 550.6,902.7 597.6,904.5 641.1,906.4 641.1,910.0 597.6,909.1 550.6,907.9 517.7,907.3" fill="#000"/>
<polygon points="504.1,877.3 508.3,879.6 511.8,886.4 513.5,895.5 514.9,902.3 514.9,904.5 512.5,901.1 508.3,895.5 504.1,893.2" fill="#000"/>
</svg></body></html>
